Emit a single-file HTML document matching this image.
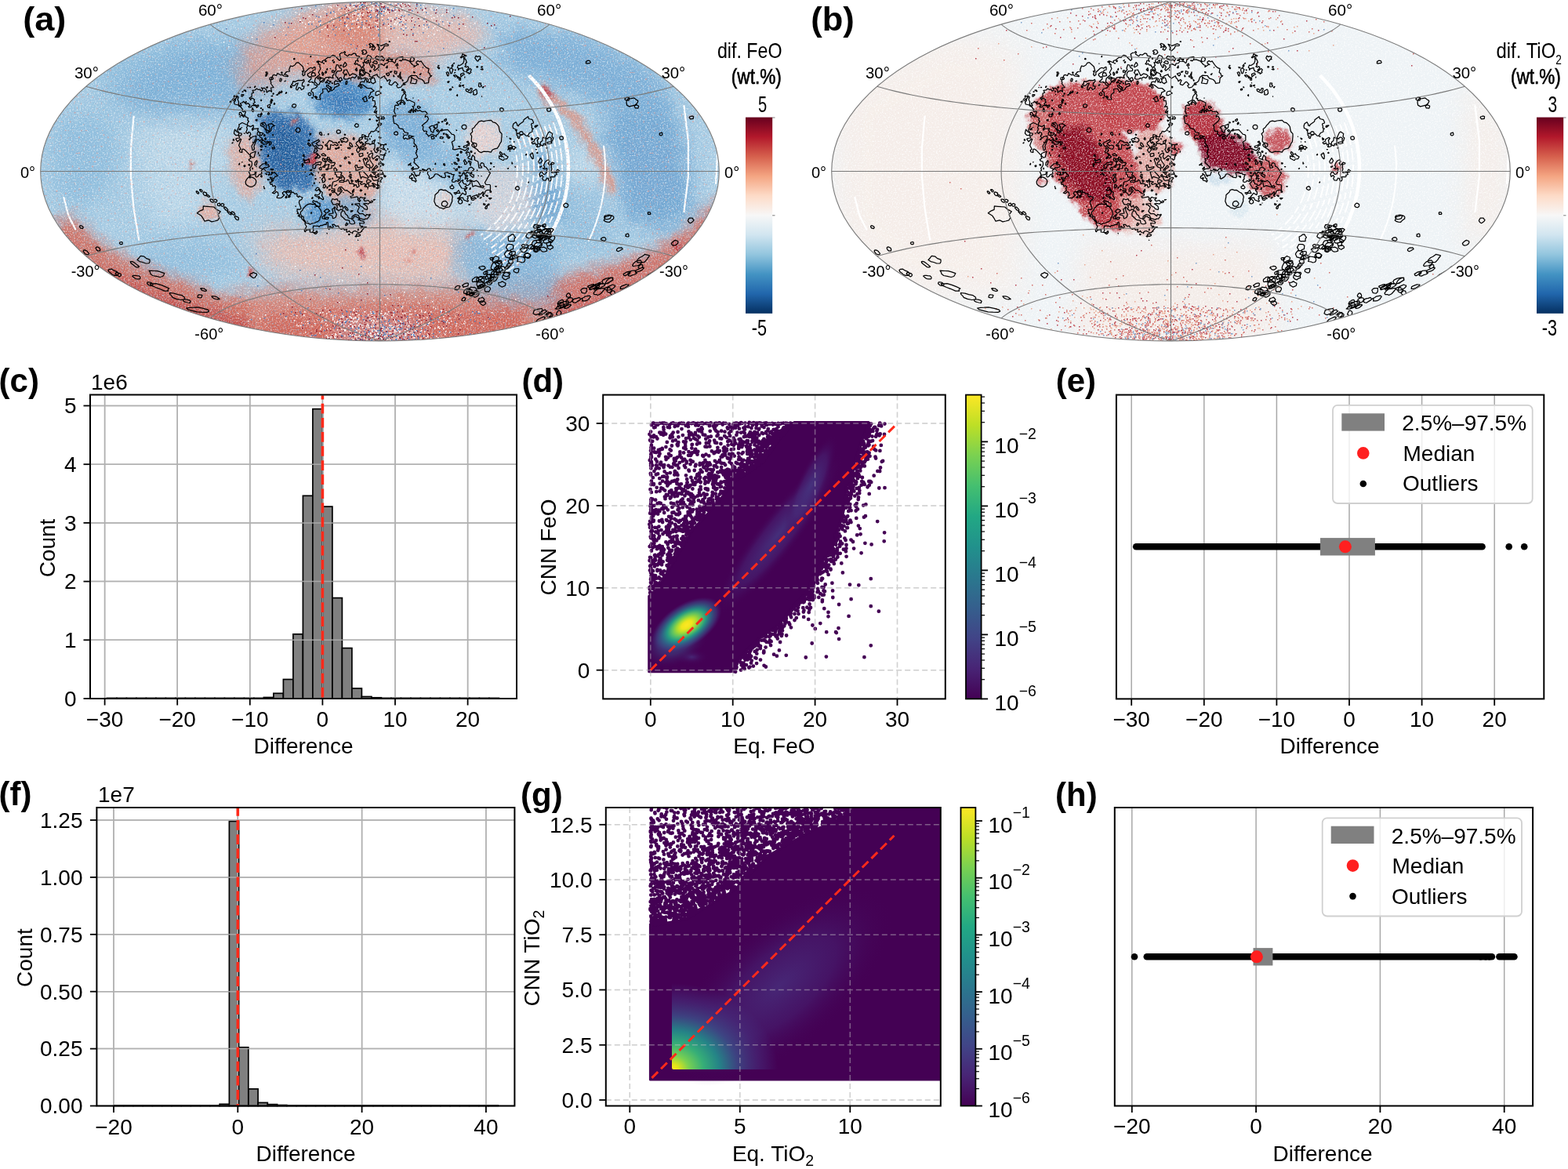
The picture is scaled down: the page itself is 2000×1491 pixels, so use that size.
<!DOCTYPE html><html><head><meta charset="utf-8"><title>Figure</title><style>html,body{margin:0;padding:0;background:#fff;overflow:hidden}svg{display:block}</style></head><body><svg width="2000" height="1491" viewBox="0 0 2000 1491" font-family="'Liberation Sans', Arial, sans-serif"><defs><radialGradient id="dg1"><stop offset="0" stop-color="#453781" stop-opacity="0.85"/><stop offset="0.6" stop-color="#472d7b" stop-opacity="0.45"/><stop offset="1" stop-color="#440154" stop-opacity="0"/></radialGradient><radialGradient id="dg2"><stop offset="0" stop-color="#fde725" stop-opacity="1"/><stop offset="0.15" stop-color="#f0e51c" stop-opacity="1"/><stop offset="0.28" stop-color="#aadc32" stop-opacity="1"/><stop offset="0.42" stop-color="#5ec962" stop-opacity="0.95"/><stop offset="0.56" stop-color="#21a685" stop-opacity="0.9"/><stop offset="0.7" stop-color="#2a788e" stop-opacity="0.75"/><stop offset="0.85" stop-color="#3b528b" stop-opacity="0.5"/><stop offset="1" stop-color="#46307e" stop-opacity="0"/></radialGradient><radialGradient id="dg3"><stop offset="0" stop-color="#472c7a" stop-opacity="0.7"/><stop offset="1" stop-color="#440154" stop-opacity="0"/></radialGradient><radialGradient id="dg4"><stop offset="0" stop-color="#31688e" stop-opacity="0.7"/><stop offset="0.5" stop-color="#3b528b" stop-opacity="0.45"/><stop offset="1" stop-color="#440154" stop-opacity="0"/></radialGradient><clipPath id="dclip"><path d="M827.7 856.8 L827.7 760.3 L839.2 749.8 L860.2 715.2 L884.3 674.3 L913.7 643.9 L933.7 616.6 L953.6 602.9 L973.5 589.3 L994.5 559.9 L1013.4 538.4 L1107.8 538.4 L1094.1 576.7 L1087.9 595.6 L1088.9 613.4 L1079.5 619.7 L1078.4 640.7 L1074.2 660.6 L1065.8 680.6 L1061.6 700.5 L1055.3 707.8 L1039.6 729.9 L1029.1 755 L1010.2 775 L994.5 796 L965.1 816.9 L937.8 844.2 L932.6 856.8 Z"/></clipPath><linearGradient id="vird" x1="0" y1="1" x2="0" y2="0"><stop offset="0.0" stop-color="#440154"/><stop offset="0.1" stop-color="#482475"/><stop offset="0.2" stop-color="#414487"/><stop offset="0.3" stop-color="#355f8d"/><stop offset="0.4" stop-color="#2a788e"/><stop offset="0.5" stop-color="#21918c"/><stop offset="0.6" stop-color="#22a884"/><stop offset="0.7" stop-color="#44bf70"/><stop offset="0.8" stop-color="#7ad151"/><stop offset="0.9" stop-color="#bddf26"/><stop offset="1.0" stop-color="#fde725"/></linearGradient><radialGradient id="gg1"><stop offset="0" stop-color="#48307e" stop-opacity="0.8"/><stop offset="0.5" stop-color="#472a7a" stop-opacity="0.45"/><stop offset="1" stop-color="#440154" stop-opacity="0"/></radialGradient><radialGradient id="gg2"><stop offset="0" stop-color="#fde725" stop-opacity="1"/><stop offset="0.06" stop-color="#e3e418" stop-opacity="1"/><stop offset="0.16" stop-color="#7ad151" stop-opacity="1"/><stop offset="0.3" stop-color="#35b779" stop-opacity="0.95"/><stop offset="0.45" stop-color="#21918c" stop-opacity="0.9"/><stop offset="0.62" stop-color="#3b528b" stop-opacity="0.8"/><stop offset="0.82" stop-color="#46307e" stop-opacity="0.55"/><stop offset="1" stop-color="#46307e" stop-opacity="0"/></radialGradient><linearGradient id="virg" x1="0" y1="1" x2="0" y2="0"><stop offset="0.0" stop-color="#440154"/><stop offset="0.1" stop-color="#482475"/><stop offset="0.2" stop-color="#414487"/><stop offset="0.3" stop-color="#355f8d"/><stop offset="0.4" stop-color="#2a788e"/><stop offset="0.5" stop-color="#21918c"/><stop offset="0.6" stop-color="#22a884"/><stop offset="0.7" stop-color="#44bf70"/><stop offset="0.8" stop-color="#7ad151"/><stop offset="0.9" stop-color="#bddf26"/><stop offset="1.0" stop-color="#fde725"/></linearGradient><linearGradient id="rdbu" x1="0" y1="1" x2="0" y2="0"><stop offset="0.0" stop-color="#053061"/><stop offset="0.1" stop-color="#2166ac"/><stop offset="0.2" stop-color="#4393c3"/><stop offset="0.3" stop-color="#92c5de"/><stop offset="0.4" stop-color="#d1e5f0"/><stop offset="0.5" stop-color="#f7f7f7"/><stop offset="0.6" stop-color="#fddbc7"/><stop offset="0.7" stop-color="#f4a582"/><stop offset="0.8" stop-color="#d6604d"/><stop offset="0.9" stop-color="#b2182b"/><stop offset="1.0" stop-color="#67001f"/></linearGradient><filter id="spkA" filterUnits="userSpaceOnUse" x="40" y="0" width="900" height="440"><feTurbulence type="fractalNoise" baseFrequency="0.55" numOctaves="2" seed="4"/><feColorMatrix type="matrix" values="0 0 0 0 1 0 0 0 0 1 0 0 0 0 1 3.2 0 0 0 -1.55"/></filter><filter id="spkB" filterUnits="userSpaceOnUse" x="1050" y="0" width="900" height="440"><feTurbulence type="fractalNoise" baseFrequency="0.55" numOctaves="2" seed="9"/><feColorMatrix type="matrix" values="0 0 0 0 1 0 0 0 0 1 0 0 0 0 1 3.2 0 0 0 -1.55"/></filter><filter id="rspA" filterUnits="userSpaceOnUse" x="40" y="0" width="900" height="440"><feTurbulence type="fractalNoise" baseFrequency="0.35" numOctaves="1" seed="12"/><feColorMatrix type="matrix" values="0 0 0 0 0.85 0 0 0 0 0.3 0 0 0 0 0.25 -10 0 0 0 3.35"/></filter><filter id="bspA" filterUnits="userSpaceOnUse" x="40" y="0" width="900" height="440"><feTurbulence type="fractalNoise" baseFrequency="0.5" numOctaves="2" seed="31"/><feColorMatrix type="matrix" values="0 0 0 0 0.25 0 0 0 0 0.5 0 0 0 0 0.75 5 0 0 0 -2.75"/></filter><clipPath id="ella"><ellipse cx="484.5" cy="218.5" rx="432.8" ry="216.4"/></clipPath><clipPath id="ellb"><ellipse cx="1493.5" cy="218.5" rx="432.8" ry="216.4"/></clipPath><g id="cont"><path d="M497.5 53.8l-1.5 -0.8 1 -0.4 0.5 1.2M476.5 64.1l-2.6 -1.1 2.2 -3 -0.6 -1.9 -1.8 1.9 -2.2 0.6 1 -2.1 -1.6 -2 1.1 -1.2 3.2 1.2 3.5 4.5 -2.2 3.1M485.0 65.0l-2.2 -2 1 -2 -2.8 -4.6 5 2 6.5 -2.5 2.9 1.1 -0.4 1.4 -4.7 0.1 -1.3 3 -4 3.5M466.0 69.0l-3.6 0 -0.3 -1 1.3 -1 -2 -2 2.6 -1.5 2.5 0.5 1.4 3 -1.9 2M449.0 297.0l-2 -0.5 -1.5 -2 -2 1.4 -1.5 -0.1 0.4 -3.3 -2.9 0.9 -1.5 -2.1 -2.5 1.1 -2.5 -1.1 -1.5 -3.1 -3 0.5 -2 -2.2 -2.7 0 1.5 3 -1.8 1.4 -1.6 -1.9 -1.8 0 1 2 -1.6 1.6 -1.1 -1.6 -0.1 -7 -0.8 -0.6 -1 0.6 -0.4 2.5 -1.6 -0.4 -4 1.6 -2 -0.1 -1.5 1.7 -1.5 -1 -5.5 -0.3 -0.8 2.5 0.7 3.5 -1.4 2.3 -3.2 -0.3 0.2 -3.4 -5 1.1 -1 1.9 -0.8 -0.1 -0.6 -3 1.4 -0.3 1 1.2 -0.8 -2.4 1.3 -2 -2 -3.5 0.7 -3 -2.3 -2.5 -0.2 -3.5 -2.2 -1 -0.5 1.4 -1.8 0.1 -1.1 -4 -2.6 -0.5 1.3 -1 -1.2 -1.5 -0.1 -3.1 3.5 0.3 1.6 -1.2 -2.7 -7.5 0.7 -3 2.4 -0.8 1.4 -2.7 -4.4 -2 -0.5 1.7 -2.3 -1.7 0.5 -1.5 -0.7 -1.6 -2.5 0.5 -2 -2.2 -2 0.4 -0.8 -2.6 -1.7 0.6 -2 -0.7 -3.5 1.8 -2 -0.3 -1.7 1.6 0.4 1.5 2 1 -2.7 3 -2 1.1 -4.7 -0.1 0.2 -2.5 1.6 -0.5 -0.6 -4.2 -2 -0.8 -2.5 2.4 -2.7 -0.9 4 -3 -0.6 -3 1.1 -1.5 -1.8 -1.7 -2 1 -1 -3.2 -1.5 0.7 -0.8 -0.8 -0.5 -2.5 1.8 0.7 0.8 -0.7 -0.6 -2.5 0.8 -0.1 1 1.8 0.8 -1.7 -3.3 -1.4 -1.2 -2.1 5.2 1.9 1.5 -3.1 2.1 0.2 0.9 -1 -4 -4.3 -2.3 1.3 -0.2 -2.2 -0.8 0.7 -0.1 3 -4.1 1 0 -1.1 1.6 -0.4 -0.7 -2.5 -3.4 -0.1 -2.5 -3.4 -1.9 -0.5 1.4 -1.9 2 0.6 4.3 -1.7 -0.9 -2.5 -3.4 0.2 -0.3 -1.2 1.8 -1 -1.2 -1.5 -0.8 0.2 -0.2 1.8 -3.3 0.6 -4.2 3.9 0.2 1.1 4.4 1.4 -2.1 2 0.7 4.2 -3.5 1.2 -2 2.6 -1.5 0.3 -1.2 -1.3 1 -5 -1.8 -0.5 0.7 1.5 -1.2 1.9 -5.3 1.1 -1.8 -4.5 2.1 -2 -0.8 -2.5 2.3 -2.9 0.6 -2.6 -0.6 -3 -3 -0.9 -0.7 -1.6 2.6 -1.5 -1 -2.5 0.6 -0.9 2.5 2.5 2.2 -0.6 1.8 -7.5 -6.1 2.5 -0.9 2.6 -6.5 -6.7 -2.5 -1.4 -1.4 1 0.2 3.5 -2.8 -0.7 -0.8 -1.8 1.9 -2 -2.5 -4.5 3.1 -8 -1.2 -0.3 -3.5 3.5 -2.3 -3.2 1 -1 3.9 -0.5 -1.1 -2.9 2.5 -0.3 1.2 -1.3 -0.2 -1.4 -2.9 -0.6 -2.5 -3.5 2.7 -5.5 -0.7 -1.5 4.4 -2.5 6.5 3 0.3 -3 1.6 -1.5 -1.6 -2 0.8 -2.5 -3.1 -1.4 -1.5 -2.6 1.4 -4 -1.4 -0.6 -1.5 0.8 -1.5 -1.2 0.5 -2 -2.9 -3.5 1.5 -2 -1.6 -1.5 0.1 -1 2.5 -0.5 1.4 -1.7 3.5 3.5 2.5 -1.2 2.5 2.9 -2.2 1.5 1.2 1 2.5 -0.7 1 -1.8 4.5 0.3 1.5 2.5 2.4 -2.3 -0.4 -1.1 -2.5 0.9 -1.5 -1.1 -2 0.4 -0.4 -2.1 2.2 -1.5 -1.3 -2 0.8 -1.5 -3.3 -1.9 -1.5 0.8 0 1.7 -2 -2.6 3.2 -2 -0.1 -4 2.4 -0.9 -1.5 -2.8 3.5 -0.5 2 -1.7 2 1.2 2.3 -0.3 0.7 1.7 1 0.2 1.5 -0.9 -0.4 -2 2.4 -0.9 3.1 2.9 -0.4 2 0.8 0.8 2.5 -2.1 2 0.2 1.5 1.3 -1 -5.2 3.5 -0.5 -3.6 -5 0.5 -1.5 -0.9 -1.5 0.8 -1.5 -1.8 -0.6 0.1 -2.4 2.6 -0.5 -0.5 3 1.4 0 1 -1.5 -1.3 -2 0.7 -1.9 1.5 -0.7 3 1.1 1.5 -3 4 2.2 2 -0.5 2 1.8 5 0.7 0.5 -0.8 -2 -1.5 -2.9 -0.4 2.9 -3.5 4 -0.5 -0.8 -2 1.8 -5 2.5 0.7 3 -1.7 2 -2.8 2.5 -0.6 5.8 5.4 1.5 6 -2.3 -0.3 1 1.8 -0.9 2.5 1.4 1.8 2 -1.8 -0.4 -2.5 5.8 -5.5 2.1 -0.7 2 1 2.5 -1.9 1 0.3 0.1 3.3 -2.9 0.5 -0.3 2 -2.4 0.3 -4 2.5 -0.3 1.7 2.8 2.7 1.5 -1.1 0.6 0.9 -0.4 2.5 -3.4 3 1.7 1 3.5 -0.7 0.3 1.2 1.9 0 0.3 2.5 3.5 1.1 0 1.4 -2.5 2 -3.9 1 -1.2 3 2.4 1.5 0.5 4.5 2.5 1.5 1.3 2.5 4.9 0.5 0.4 -1 -1 -1.5 0.7 -4.5 1.9 -0.5 1.5 -2 -0.5 -4 5 -0.5 2.4 4.5 2.1 -1.5 -0.3 -2.5 -4.2 -3.3 0 -1.4 2 -0.3 1.5 1.9 1.7 0.1 -0.2 1.6 1.5 -0.5 -0.9 2.9 0.9 1.2 3.2 -2.2 0.8 -2.1 5.6 -2.4 -0.5 -2 -1.1 -0.6 -4.2 1.6 -0.4 -3.5 1.6 -1.7 2.5 1 2.3 -0.3 -0.3 -1.6 1.5 2.7 0.5 -1.6 2 -0.8 -1.5 -3.4 -2.5 1.2 -0.5 1.5 -1.3 -0.5 -0.1 -2.5 -1.6 -0.1 -0.8 -2.4 0.4 -3 1.9 -2.3 4.5 -0.4 0.8 -1.3 -0.9 -2 -1.9 -0.7 -1.4 -3.3 -2.1 -0.5 -1.5 4.5 0.8 2 -1.8 2.4 -2 -1.8 -1.6 0.4 0.1 2.1 2.9 -0.1 -0.4 3 -1.8 1.5 0.8 3.2 -4.5 -1.3 -5 0.4 -2 2.9 -2 0.6 -3.5 3.2 -1 2.3 -1.5 0.3 -4.2 -4.1 0.9 -4 5.7 -5 -1.7 -2.5 2.8 -5 -1.2 -2.5 0.3 -3 -2.1 0 0.5 -3.3 -2 1 -0.5 -1.1 2 -0.9 5.3 2.3 -0.1 -2.5 3.3 -1.1 3.5 -3.1 3.1 0.2 1.8 -2.5 1.6 -0.6 2.5 0.8 6 6 1.7 -1.7 -1.5 -6.5 2.3 -1.6 2.9 -0.4 1.1 -1.4 1 0.9 -1.1 2.5 4.1 2.7 1.9 -2.2 2.6 0.7 3 -2.3 2.5 0.4 1 2.9 4.2 0.8 -0.2 1 -2 0.9 -0.7 3.1 -2.1 0.5 -0.1 2 -1.6 2 1.5 0.8 2 -1.2 1.5 2 2 -0.2 0.8 2.1 1.3 0.5 -0.1 2.5 -2.2 1 0.1 3.5 1.6 1.5 -2.1 1 2.1 4.5 -0.2 1.5 5.7 -1.8 3 1.3 0.9 1.5 -0.9 2.5 -1 0.4 -0.7 -3.4 -1.3 -0.8 -1.5 4.1 -2 -0.8 -2.5 0.7 -1.2 3.3 -2.2 2 2.4 0.2 1 2.1 1.8 -0.3 0 -1.5 -2 -2 0.7 -1 3.5 1.4 4.5 3.5 5 0.3 3.6 3.3 -4.6 2.1 -0.1 1.9 -2.2 3 1.3 1.9 2.5 -2 2.8 1.6 -1.6 1.5 0.2 2.5 2.6 -0.2 0.7 4.7 -2.4 3.5 3.2 -0.8 0.7 2.8 -3 4.5 0.8 0.8 2.6 -2.3 -0.8 3 0.6 1.5 -0.9 1 2 3.5 2 -1.3 0.9 0.8 -1.3 1.5 1.1 3.5 -1.2 2.1 2.5 -0.1 1.2 1 -1.7 2.1 -3.5 -1.9 1.4 3.3 -1.9 1.3 -2.8 4.2 -2.7 1.1 -1.5 -0.8 -1 0.6 -0.3 1.6 -2 1.5 -0.7 3.6 -2.7 -0.1 -1.7 -2 -3.6 -1 -0.4 3.5 -3 1 -1.1 3.5 -3.1 2.5 -0.2 1.5 3.8 4.5 1.5 -0.2 1 -1.7 2.5 1.4 2.7 -2 0.4 -1.5 -2.5 -0.5 -2.1 -2.4 -1 -0.1 0.4 1.5 -0.9 0.4 -1.6 -1.9 0.7 -2.5 2.8 -1 0.6 -2.5 3.3 -1.5 -0.3 3.5 3.6 0 0 2.5 -3.4 2 1.3 1.5 3.5 0 1.5 1.5 3 -1.4 2.5 0.4 0.7 1 -0.2 4.5 -1.2 1.5 2.2 4 1.5 0.2 1.8 -2.7 2.7 -0.2 0.9 0.7 -1.7 3.5 0.8 1.3 4 0.6 1.5 -1.5 0.8 1.1 -1.7 2 -0.7 4 -1.4 0.6 -1.3 -1.6 -2.5 -0.5 -0.2 -2.2 -2.5 -1.3 -5 4.4 -1.7 -2.9 1.2 -4 -1 -1 -4 2.2 -0.8 2.8 2.3 0.7 -0.4 3.3 4.7 6.5 -2.3 3.6 -1.6 -0.1 -1.4 -4.1 -3.5 0.1 -0.2 -2.5 2.5 -2 -1.3 -3.9 -1.6 0.4 -0.4 2.4 -1.5 -2.9 -1.8 2 2.3 6.6 2.4 2.9 3.5 1.5 -0.1 3.5 3.2 1.2 3 3.2 1.1 -0.4 -0.3 -2 -1.8 -0.7 -1.7 -2.3 5.2 -6.1 1.7 2.1 -4.4 3 -0.5 2 3.2 1.3 3.5 -2.5 3.5 0.7 0.7 1 1.4 4 -2.1 -0.6 -2.5 0.8 -2 -1.1 -1.5 1.9 -2.3 0.5 0 1 1.8 1 -0.5 0.7 -5.9 -2.2 -1.1 -2 -1.4 1.5 0.4 1.3 2 -0.3 1.4 4 1.6 1.4 5 -0.8 1.5 -2.5 3.5 -0.7 0.9 0.6 -2.6 3.5 0.7 1.8 -3.5 -1.5 -0.7 0.7 -0.2 3.5 3.2 3.5 -3.3 2.2 -1.8 -1.2 2.3 0 -0.3 -3 -5.7 -2.8 -1.4 0.3 3.8 3.5 -0.4 1 -1.8 0 -0.2 -1.9 -5.5 1 -0.3 -5.1 2.3 -0.5 0.8 -1 -3.3 -2 -1.5 0.1 -1 2.4 1.4 3 -2.4 1 -1.5 -1.4 -4.5 1.4 -0.9 -2 2.9 -1.5 -4.5 -0.8 -1 2.3 1.1 4 -2.6 1.7 -1.5 -3.7 -1.5 0.8 -1.5 -1.6 -3 -0.8 -2 0.5 -1.4 -4.4 -1.6 -0.8 -1 1.9 -3 0.3 -1 1.1 -5 -0.4 -0.1 -1.1 3.1 -1.4 2.5 0.9 1 -3 -3 -3.8 -2 -0.2 1.5 -3.1 -2.8 -1.4 -4.4 0 -0.3 -1 1.6 -1 -2.6 -3.1 -1.7 1.1 0.6 3.5 1.3 1.5 -0.4 2.5 2 0.5 0.2 2.8 4.5 0.1 1 -0.8 1.3 0.9 -0.8 1.5 -3 -0.3 -0.3 1.8 -3.2 2 -4.2 1 -1.6 5.5 0.1 3 3.7 0.6 -0.1 4.4 2.3 1 1.3 2.6 1.1 -0.1 4.8 -5.5 -1.9 -3.3 -0.9 0.8 0.4 2.9 -2.9 0.1 0.2 -3 1.2 -1.8 3 -0.8 4.5 4.5 2.5 -0.2 5.4 4.3 2.7 0.5 -0.4 2 -3.2 1 1 2 7.5 -1.6 1.4 1.6 -0.6 2 2.2 2.8 1.4 -1.8 -1.4 -0.5 -0.3 -1.5 1.8 -2.1 3 1.1 2.8 -0.5 0.1 1 -2.1 1.5 1.7 2.2 4 -1.2 2.5 2.4 2 -1.8 1.5 0.4 -1 2 -3 0.1 -1.5 1.5 -4 -0.8 -2.5 0.7 4.4 3 0.8 3 -0.7 1.5 -3.5 -1.2 -1.3 -1.8 -4.2 -2.2 -0.5 -2.8 -5.7 0.5 0.2 0.9 3 0.9 2.2 2.7 -2.3 5 2.6 3 4.2 0 3.8 3.2 1 -2.4 2.5 1.1 2 -1.1 0.2 0.7 -3.7 5.2 -2.5 -0.2 -1 1.2 -6 -1.6 -2 -4.1 -4 -0.9 -3.9 2.4 -0.1 2.4 1.7 0.1 0.8 -2.3 2.5 -0.1 3.8 2.4 1.7 2.9 4 0.7 1.2 1.9 -0.7 1 -5.3 -0.5 0.7 3.5 3.3 0.5 -2.5 1.5 0.3 1 2.5 -1.2 2 0.2 -5.5 6.7 -2.5 -0.2 -4 -2 -2 0.5 -2 2M588.0 74.0l-0.7 -1 1.7 -1 1 -3.3 4.9 2.3 -0.9 0.7 -2 -0.5 -4 2.8M507.5 112.2l-1.9 -3.2 1.7 -0.5 0.2 -1 -3 -3.1 -1.1 0.1 -3.9 4.1 -3 -0.9 -0.3 -1.2 1.8 -4 -1.5 -0.9 -2.5 2.1 -1 -2.6 -2.1 -2.1 -0.4 -2.2 -5.5 3.2 -3.8 -3.5 -0.2 -1.8 -5 2.2 -2 1.9 -3 -1.8 0.5 -2 -2 -1.5 -3 -1.4 -1 2.6 -1 -0.5 -2.8 -5.2 1.3 -0.2 1 1.3 1 -0.6 -0.9 -2.5 -1.8 -1.5 2.1 -2 -1.4 -4 3.4 0.5 -1.6 -1.5 -0.1 -1.5 0.5 -1 2.4 -0.5 -0.1 -2.1 2 -3.2 3.5 1.5 1.1 2.3 -1.8 2.5 0.6 2.5 -1.9 1.5 0.9 2.5 2.1 3.3 1.4 -0.8 -0.9 -2.6 1.5 -0.6 2.5 3.2 -1.8 3 1.3 1.6 5 -4.1 0 -3.3 3.5 -1.1 3.5 2.1 1 -2.5 3.2 -0.7 1.8 -2.5 5.5 0.6 1.5 1.7 1 -0.1 1 -4.2 2 -1 0 -1.3 6.5 -1.3 0.6 0.6 -0.6 3.5 3 -0.6 5.5 2 4.1 4.6 2.3 1 -0.5 2 4.1 -2.8 2 -0.2 -3 -1.9 0 -1.6 2 -1.4 2.5 1.2 1.5 -0.9 4.3 6.1 2.7 2.4 3 1.2 -0.9 4.9 1.9 1.1 0.5 2.5 2.2 0.4 -3.5 3 -0.7 6.1 -5 0.8 -0.6 -2.4 -2.5 -2.5 -4.9 -1.7 -2.5 -3.3 -6.5 -0.3 -3 2.3 -1.8 5 -2.2 1.8 -3.2 0.7 0.2 0.9 2 0.2 0.4 0.9 -3.4 0.2 -2 2.8 -4 1.2M396.5 73.1l-0.7 -0.6 0.7 -1.1 0 1.7M489.0 78.2l-1.5 -2.1 -3 0.7 -5.5 -1.9 -0.4 -1.4 1.9 -2 4 1.2 2.5 -1.2 3.5 3.5 -1.5 3.2M610.0 78.1l-1.5 -0.5 -2.7 -3.6 1.2 -2.7 1 0.1 0.5 1.3 2.5 -1.1 2 0.9 -0.8 2 0.8 1.2 -2 -0.1 -1 2.5M527.5 78.0l-3.5 0.4 -0.9 -1.4 1.4 -4.1 2 0.1 2 2 -1 3M498.0 75.4l-2 -0.2 -0.5 -1.3 1.5 -0.2 1 1.7M598.0 94.6l0 -2.1 -2 0.5 -0.7 -1.5 -3.3 -0.5 -1.6 -2 -0.4 -2.6 -4.5 1.4 -2.2 -1.8 1.2 -2.8 2 0.3 4 -2.5 1.4 -3.5 -0.4 -4.4 1.5 0.6 -0.4 1.3 1.5 1 1.3 3.5 -1.9 2 0.9 2 -1.5 1.5 1.6 0.8 2 -0.9 1.2 0.6 -0.2 1.7 -2.2 1.8 0.2 1.8 4 -3.4 1.8 1.6 -1.1 2 0.6 1.5 -2.8 2.1M461.0 75.6l-0.7 -0.6 0.7 -1.4 0.6 1.4 -0.6 0.6M375.5 76.1l-0.9 -0.6 0.4 -1.1 1.1 0.6 -0.6 1.1M476.0 75.7l-0.5 -1.2 0.5 1.2M500.0 77.4l-1.8 -1.9 2.6 0 -0.8 1.9M495.5 77.6l-3 -0.6 2.5 -1.4 0.5 2M424.7 77.5l0.6 -1 -1.5 1 0.9 0M416.2 78.5l0.1 -1 -1.3 -0.4 0 1.4 1.2 0M468.1 81.0l2.1 -2 0.3 -2.2 -1.5 0.4 -2.5 2.8 1.6 1M511.9 78.0l0.6 -1 -3 0.2 2.4 0.8M457.0 78.8l-0.8 -1.3 0.8 0.1 0 1.2M480.5 81.7l-5.1 -1.7 2.1 -2.3 3 0.4 0.7 2.4 -0.7 1.2M426.6 80.0l-0.1 -1.4 -1.3 0.4 0.3 1.1 1.1 -0.1M438.7 85.5l3.3 -2 -0.2 -2 -1.8 -2 -2.6 4.5 0.4 1.5 0.9 0M413.2 81.5l0.2 -1 -0.9 0 0.7 1M579.5 81.2l-1.2 -0.2 1.2 -0.7 0 0.9M393.5 81.0l-0.8 0 0.8 0M506.3 84.5l1.3 -1 -0.6 -2.6 -2.2 2.1 1.5 1.5M578.0 84.6l-1.5 0.2 -0.4 -0.8 1.4 -1.8 0.5 2.4M435.4 84.0l0.1 -1 -1.4 0 -0.1 1 1.4 0M559.0 84.6l0 -1.3 1 0.2 -1 1.1M494.1 87.0l-0.1 -3.2 -1.6 2.7 1.7 0.5M609.5 86.1l-1.5 -0.2 0 -1.2 1.5 0.2 0 1.2M615.0 86.1l-1.2 -0.1 0.2 -1.2 1.4 0.2 -0.4 1.1M560.5 87.7l-1 0 -1.5 -2.3 2.5 0.9 0 1.4M572.5 86.5l-1 0.3 -0.6 -1.3 2.1 0.5 -0.5 0.5M366.5 86.6l0 0M508.0 87.0l-1.4 -1 0.4 1.1 1 -0.1M540.0 86.5l-0.6 -0.5 0.6 0.5M575.0 94.0l-1.5 -4.7 0.5 -1.8 2.5 -1.5 -0.3 1.5 1.8 1 -1.8 5 -1.2 0.5M455.6 90.0l-0.6 -3.3 -1.8 2.3 1.8 1.5 0.6 -0.5M417.6 89.0l-0.1 -1.6 -0.8 1.1 0.3 0.9 0.6 -0.4M422.0 88.0l-1 -0.5 1 0.5M585.0 89.4l-0.7 -0.4 0.7 -1.1 0 1.5M615.5 89.2l-2.3 -0.7 2.3 -0.8 0.6 0.8 -0.6 0.7M348.0 89.5l0 0M443.2 101.0l2.3 -1.4 2 0.3 2 -1.6 3 1.3 2.7 -3.1 -2.2 -1.7 -3.5 -0.9 -3.5 2.6 -3.7 -7.5 -3.8 0.5 0.5 1.5 -1.5 1.5 2.2 3 -1.3 4.5 2.1 1.2 2.7 -0.2M483.0 90.0l-0.5 -1 0.5 1M581.0 90.1l-0.8 -1.1 1.1 0 -0.3 1.1M473.1 92.0l0 -2 -1.1 -0.4 -0.6 1.9 1.7 0.5M505.6 94.5l0.7 -3 -3 -1 0 3 2.3 1M416.4 93.0l0.1 -1.6 -1 -0.7 -1 1.8 1 0.9 0.9 -0.4M498.4 92.5l1.5 -1.5 -1.9 0.1 -0.6 0.9 1 0.5M529.2 93.0l0 -1 -1.5 -0.5 0.3 1.4 1.2 0.1M339.5 97.6l-0.7 -0.6 0.9 -3.5 -0.8 -1.5 1.6 -0.2 1 1.7 -2 4.1M360.0 93.6l-1.3 -0.6 0.3 -1 1 0.1 0 1.5M412.2 96.0l0.8 -2 -1.5 -2 -0.8 1 0.7 3 0.8 0M508.1 98.5l2.4 -1 0.5 -5.6 -2 4.7 -2 0.4 1.1 1.5M571.0 97.1l-1.8 -4.6 1.8 -0.8 1.4 1.8 -0.4 3 -1 0.6M580.5 93.1l-1.1 -0.1 1.1 -0.5 0 0.6M400.0 97.1l-2 0.1 -0.6 -1.2 0.1 -2.2 1.5 -1.2 2.5 0.6 1.1 3.3 -2.6 0.6M494.9 97.0l1.8 -2 -0.7 -2.1 -3.7 1.1 2.6 3M588.0 98.1l-0.5 -3.5 3.5 -1.6 1.4 2 -1.9 0.5 -2.5 2.6M442.0 96.0l-1.6 -0.5 0 -1 1.6 -0.5 0 2M536.3 95.5l0.7 -1.8 -1.7 1.3 1 0.5M462.5 97.0l-1.3 -0.5 0.3 -1.5 1.5 0.4 -0.5 1.6M503.1 98.0l-1.1 -2.1 0 1.7 1.1 0.4M581.5 98.1l-1.5 -0.2 -1.5 -1.9 2.5 -0.4 2 1.4 -1.5 1.1M587.5 102.4l-2 -0.4 0.5 -1.9 -2.7 -0.6 0.5 -2 2.7 2.1 1 -0.5 0 3.3M407.1 100.5l0.9 -0.9 1.5 0.3 0.2 -0.9 -2.2 -1 -2.5 1.5 0.5 1 1.6 0M459.0 100.5l-1 -2.5 -1.5 -0.2 0.5 3 2 -0.3M512.2 100.5l-0.6 -2.5 -1.1 0 -0.5 1.9 2.2 0.6M530.5 106.8l-7 -0.8 1.3 -4 -0.3 -4.1 2.8 2.6 4.6 1.5 -1.4 4.8M592.5 99.5l0.5 -1.5 -0.5 1.5M476.5 107.0l-3.5 -2.1 -0.1 -3.4 -1.3 -1.5 1.9 0.6 2.5 -1.6 1.4 0.5 1.7 5.5 -2.1 0.7 -0.5 1.3M419.5 100.7l0 -1.4 0 1.4M358.3 104.0l1 -3 -1.3 -0.9 -0.8 0.4 -0.5 3 1.6 0.5M379.4 115.0l1.6 -3.3 2.2 0.3 1.3 2.5 2.9 -1.5 0.6 -3.1 -2.5 -0.1 -0.2 -0.8 0.3 -3 2.5 -2.5 -0.6 -2.1 -2 1.2 -5 -0.2 -4.5 2 -1.5 -0.8 -1 0.4 -0.1 2 -1.7 2 2.3 1.6 2.5 -0.9 1.2 -2.2 2.5 -0.5 -2.6 6.5 0.4 2 1.4 0.5M419.5 107.2l-2.8 -3.2 1.3 -2.1 2 1.8 2.2 -0.2 -2.7 3.7M447.6 102.5l-0.1 -0.9 0.1 0.9M513.7 103.5l0.4 -1 -1.1 -1 0.7 2M363.5 104.0l0.7 -1 -1.2 0.5 0.5 0.5M442.2 107.5l0.8 -2.5 -0.5 -1.7 -1.3 0.7 -0.4 2.5 0.3 1 1.1 0M572.0 105.6l-1.1 -0.6 0.1 -1 2 -0.3 -1 1.9M416.0 106.4l-1 -1.4 1.5 -0.7 -0.5 2.1M471.5 105.8l-1.4 -0.8 1.4 -0.4 0 1.2M424.0 107.0l-1 -1.5 1.3 0.5 -0.3 1M587.5 106.6l0 -1 0 1M613.5 110.5l-2 0.4 -1 -0.9 0.5 -4.1 2.6 0.1 -0.5 2 1.2 1.5 -0.8 1M393.5 109.0l0.5 -1.1 -1.6 0.1 0 1 1.1 0M587.5 110.6l-1.7 -0.1 0.2 -2.4 1.8 0.9 -0.3 1.6M590.5 110.1l-1.1 -1.1 2.1 -0.7 -1 1.8M371.7 112.0l0.7 -1 -1.9 -1.7 0 2.2 1.2 0.5M324.5 112.1l0.5 -1.9 1 -0.2 -1.5 2.1M486.5 112.1l-1.7 -0.6 0.2 -1.3 1.8 0.3 -0.3 1.6M616.0 112.2l-0.6 -0.7 1.6 -1.2 -1 1.9M341.5 112.1l-1.5 0 -0.2 -1.1 1.7 -0.2 0 1.3M577.0 112.1l0 -1.4 0.7 0.8 -0.7 0.6M316.5 112.0l-0.5 -0.5 0.5 0.5M319.5 112.1l-1 -0.7 1 -0.1 0 0.8M592.0 111.8l-0.5 -0.6 0.5 0.6M334.0 112.8l-0.5 -0.9 0.7 0.1 -0.2 0.8M600.5 118.6l-5.5 -2.3 -0.9 -1.3 0.4 -1.5 2 0.1 1.5 2 1.5 -1 0.7 -2.1 1.8 0.1 0.2 1.4 -1.5 2.5 0.7 1 -0.9 1.1M574.5 115.1l-1 -0.1 0 -1.3 2 -0.6 0.1 1.4 -1.1 0.6M514.0 115.6l-1.4 -0.1 0.4 -1.8 2.3 0.8 -1.3 1.1M604.5 121.1l-0.9 -0.6 0.6 -1.5 -1.2 -2.5 4 -2.6 1 1.1 0.6 4 -1.6 1.7 -2.5 0.4M314.0 117.1l-3.2 -2.1 2.2 -0.1 1 2.2M337.6 117.0l-0.8 -1 0.2 1.3 0.6 -0.3M481.5 121.5l-2.4 0 -0.1 -3 1 -1.5 3 -1 3.1 3 -4.6 2.5M517.0 119.1l-2.6 -1.6 1.1 -1.5 1.2 0.5 0.3 2.6M359.1 118.5l0.9 -1.5 -1 -1 -1.1 1.5 1.2 1M310.0 117.5l-1 -0.5 1 -0.4 0 0.9M356.3 120.0l1.1 -2 -0.9 -1.2 -1.7 2.7 1.5 0.5M365.6 119.0l-0.1 -1.4 -1.3 1.4 1.4 0M305.5 119.6l-1 -0.7 1 0.7M348.9 120.5l0.3 -1.5 -0.7 -0.2 -0.5 0.9 0.9 0.8M597.0 257.2l-5.4 -2.2 -1.1 -2.9 -4 0.3 -1.5 1.7 -1.5 -1.1 2.4 -1.5 4.1 -5.3 3.5 2.4 0.9 -1.1 -0.1 -3 -1.8 -1.5 0.1 -2.5 -3.8 -0.5 -3.1 -5 -0.6 -1.5 1.9 -0.9 0.7 -1.6 2.9 -1.5 -0.6 2.5 2 2.6 2 -0.1 1 2 2 -0.2 2.9 -2.3 -0.4 -2.4 2 -0.5 1.5 7 3 -1.4 10 2.9 1.2 -1.6 -1.2 -1.2 -3 0.6 -3.1 -5.4 -2.4 -1.7 -3 1.3 -5 -1.9 -3.5 1.8 -0.6 -1 1.5 -3 -1.4 -0.3 -2.3 1.3 0.8 -3.5 1.5 0.5 0.9 -1 -0.9 -1.3 -2 0.9 -0.6 -2.1 1.6 -0.5 1 -2.4 2 1.5 3.3 -0.1 -1.4 2.5 3.6 3.2 1 -0.1 0.5 -2.9 -2.6 -0.7 -0.4 -2 0.5 -2 2.5 -2 0 -1 -3.5 -2.4 -3 1.4 -0.3 2 -1.7 1.6 -2 -0.8 -3.7 1.2 1.7 1.4 0.5 1.9 -2.5 -0.8 -1 3.2 -3.9 -0.2 2.3 1.5 -0.9 4.5 -2.5 1.4 -2.5 -1 -1.4 1.6 -1.6 0.3 -1.5 -0.3 -0.6 -2 1.7 -2 -0.3 -2 1.5 -3.5 -3 0 -1.3 -1.5 -2 0.3 -2 -1.4 -4 0.6 1.5 4.5 -1 1.6 -4 -0.5 -5.7 -4.1 -1.8 -0.2 -1.7 0.7 -0.5 2 -2.3 1.9 -3 1.7 -1.3 -0.6 0.4 -2.5 -2.3 -3.5 0.4 -2.5 4.1 -1 -1.8 -3.2 -1.8 0.2 -2.2 2.6 -5.1 -2.1 -0.5 1 2.8 1 -1.2 1.6 -4.5 -2 -0.5 0.9 1.1 1.5 -1.6 4.3 -2.5 -0.4 -0.5 1.6 -1.7 -0.5 0.7 -1 -1.6 -1.5 -0.1 -2 -2.8 -1.5 0 -1.3 2 -1.5 5 -0.8 1.5 -1.4 -6.6 -6.5 1 -2.5 -0.8 -2 3.4 -0.8 1.2 -1.7 -2.4 -5 1.3 -1.5 -0.5 -1.5 1.5 -1.5 -1.2 -2 0.1 -2 -3.6 -4 0.5 -4 -0.7 -1.5 -3.8 -1.5 1.1 -1.1 2.9 -0.4 -6.4 -1.1 -0.3 2.1 1.8 0.7 0 1 -3.5 0.7 -2 -1.3 -2 1.4 -1.3 -2 1.2 -3 4.5 -0.5 0.5 -2.5 -4.4 -0.9 -2 -3.9 -4 -0.9 -1.6 -1.3 -0.4 -2.2 -2.7 -2.3 -2.8 -0.8 -1.3 -8.7 0.8 -0.8 2.5 0.5 0.5 -1.2 -2.4 -5 1.1 -4.5 -0.4 -2 1.7 -1.4 3.1 0.4 0.3 -1 -2.5 -3 5.9 -3 0.9 -4.5 2.3 -3.2 1 -0.6 1.8 2.3 -1.1 4 2.1 0 -0.6 1.5 1.3 1.3 2.5 -0.6 6.9 3.3 -0.2 4 -2.7 0.5 1.7 2 -1.2 5.5 1 0.3 0.5 -2.3 1 -0.2 1 1.9 0.5 -1.2 -1.4 -1 1.4 -1.7 2 2.8 3 -0.9 3 2 4 -0.7 2.6 3 -0.2 1 -2.4 1 -0.3 2.5 0.4 -1 2.4 0 1.6 3 -2.1 3.6 -6.2 4.9 1.7 1.5 -0.7 3.5 1.7 2.6 2 -0.6 1.5 0.6 -1.1 2.9 2.1 1.3 1 2.1 4.5 -2.9 5.5 3.2 -0.1 -2.2 1.6 -0.2 4 -5.7 1.5 1.1 1 -1.1 6.5 -0.8 5.5 6.1 2 0.1 1.3 1.5 0 6 -3.5 2 1.8 6.5 -0.6 2.8 3 0.5 6 -1.5 7 2.9 3.5 -3.9 0.7 1.7 -3.6 5 0.9 0.9 2 -2 2 1.1 0.2 4 -2.2 1.4 0 1.6 5 1.8 -0.9 -1.8 1.9 -4.2 2.5 2.7 -0.2 3.5 4.4 2 1.3 8.2 3.5 -0.2 -0.5 -2.2 -1.5 -0.3 -0.2 -1 1.7 -2.8 1.5 0.1 1.6 1.2 0.4 2.9 2.5 1.3 3.2 4.3 0.3 1.7 2 1.3 -7.1 12.5 1.6 2.3 4.5 0.2 1 0.9 -0.1 6.1 -3.4 -0.1 -2.7 1.1 -1.4 3.5 -2.4 2.4 1.1 -3.9 -0.6 -0.8 -3 3.1 -2.4 -0.8 0.4 3 -1.4 1.5 -0.9 -0.5 0.3 -2.6 -6.5 2.3 -1.5 2.6 -1 -3.9 -4 0.9 1.2 2.2 -1.3 1.5 1.4 2 -0.3 1.2M309.0 123.2l-1.1 -0.2 0.1 -2.3 2.5 -0.1 0.4 0.4 -1.9 2.2M337.8 121.0l-0.3 -0.6 0.3 0.6M354.0 121.5l0.4 -1 -2 0.5 1.6 0.5M583.5 122.9l-1 -1.4 1 -0.9 0 2.3M305.5 136.0l-1.5 -2 -4.7 -1 -0.8 -3 1.8 -1.5 0.1 -2.5 1.8 -1.5 -1.2 -1.5 -2.3 1 -0.4 -1.5 0.7 -0.6 1.5 1 2 -0.6 1.7 1.7 -1.1 3 1.5 3 -0.5 3.5 2 1 -0.6 1.5M347.6 123.0l0.1 -1 -1.7 0.5 1.6 0.5M404.0 125.0l-1.5 -2.5 2 1.5 -0.5 1M466.2 129.5l2.3 -0.9 -2 -5.8 -4.4 3.2 1.9 1.1 0.3 2.4 1.9 0M614.5 123.7l0 -0.9 0 0.9M398.8 125.5l0.2 -1.2 -1.3 0.2 1.1 1M527.0 125.7l0 -0.8 0 0.8M298.0 128.3l-1.9 -0.8 1.9 -2.3 1.5 1.3 -1.5 1.8M471.1 125.5l-0.6 0 0.6 0M348.1 128.5l-1.2 -2 -1.2 0 0.3 1.4 2.1 0.6M333.9 128.5l-0.9 -1.5 -0.3 1.5 1.2 0M516.2 133.0l0.6 -1.5 -2.8 -3.6 -1.5 0.3 -2.7 3.8 0.1 1 1.1 0.2 0.3 -2.2 1.7 -0.8 1.5 0.8 1 2.3 0.7 -0.3M294.5 130.5l-1.5 -0.5 2 -1.1 -0.5 1.6M346.2 132.0l0.7 -2.5 -1.9 -0.8 0.1 2.8 1.1 0.5M314.5 130.7l-1.7 -0.2 1.2 -1.1 0.5 1.3M350.8 133.0l-0.8 -1.7 -0.8 1.7 1.6 0M344.9 138.0l-1.6 -1.5 1.5 -2 -0.2 -1.5 -3.4 1.5 0.4 2.5 3.3 1M534.0 138.6l-1.5 -1.6 0 -1.5 2 -0.1 1.9 1.6 -2.4 1.6M323.2 142.5l0.5 -1.5 -1.7 -3.5 -0.7 3 0.7 1.9 1.2 0.1M333.7 138.5l-0.2 -1 -1 0 0 0.8 1.2 0.2M508.2 139.0l-1.8 -0.5 1.8 0.5M524.2 144.0l-0.7 -1 2 -2.5 0 -1.6 -4.6 4.1 3.3 1M335.8 140.5l-0.3 -1.1 -1 0.1 0.5 1.3 0.8 -0.3M311.0 149.6l-2 -2 -3.8 -1.1 0.2 -3 1.6 -0.3 2 3.2 2.4 1.1 -0.4 2.1M342.7 146.5l0.9 -1.5 -1.1 -1.6 -1.2 2.1 1.4 1M332.6 149.0l0.2 -2 1.5 -1.5 -0.8 -1.5 -1.5 2 -2.5 -0.2 -0.8 1.2 0.8 1.7 3.1 0.3M486.5 148.8l-0.5 -0.8 0.5 0.8M306.0 149.5l0 -1 0.6 0.5 -0.6 0.5M489.5 152.2l-2 -0.8 -1.5 0.8 -0.1 -0.7 1.3 -2 1.8 -0.7 1.4 1.7 -0.9 1.7M662.0 176.7l-2 -1.2 1.1 -1.5 -1.8 -1 -0.7 -6 0.7 -1.5 -4.8 -2 -0.5 -2.5 1 -3.2 3 -2.1 1.7 2.8 -0.1 1.5 1.9 0.7 0.5 -1.8 5.6 -3.9 0.4 -2.2 5.5 -4.1 1 2.8 4.5 1.2 1.5 3.3 -0.1 1 -2.4 0.7 -0.5 1.3 0.9 1.5 -0.1 3 2 0.5 -1.5 1.5 0.1 2.5 -3.5 1.5 -2.4 3.8 -2 -0.2 -2.5 -2.5 -5 1.8 -1.5 4.3M568.5 154.5l-1.5 -0.2 -0.4 -1.3 2.4 -1.6 0.5 1.6 -1 1.5M471.6 153.0l0.8 -0.5 -0.4 -0.9 -1.3 0.9 0.9 0.5M327.8 154.5l0.2 -2.1 -1.5 0.1 -0.4 1 1.7 1M481.4 154.5l0.5 -1 -1.9 -0.4 0.3 1.4 1.1 0M564.0 156.1l-0.7 -1.1 1.7 -0.4 -1 1.5M348.7 155.0l-1.1 0 1.1 0M560.0 157.0l-1 -0.2 -0.2 -1.3 1.5 0.5 -0.3 1M342.2 169.5l3.5 -3 -0.1 -2 1.9 -3.3 2.7 -0.7 -3.7 -2.8 -4.2 0.8 -0.4 1 1.3 1.5 0.6 3 -0.8 3.8 -3.9 -3.3 0.8 -4.5 -2.8 -4 -4.1 1.1 -0.5 3 3.9 1.9 3.8 6 -0.1 1.5 2.1 0M569.5 159.2l-0.3 -1.7 1.3 -1.5 0.7 1 -1.7 2.2M336.0 159.1l-1.2 -0.1 -0.3 -1.1 1.5 0.1 0 1.1M552.0 169.1l-2.5 -1.8 -0.3 -2.8 -1.9 -2 3.2 -2.1 2 0.1 5.5 -2.4 -0.5 4.7 -4.5 3.2 0.1 2.5 -1.1 0.6M573.0 160.0l0 -1.2 0 1.2M322.2 192.0l1.8 -1 0.5 -2 -0.7 -2 3.3 -8.5 2.4 -0.8 1.5 1.9 3.4 -2.1 0 -1 -2.5 -1.5 -1.5 -2.5 -2.4 -0.5 0.3 -3 1.9 -1 -1.7 -1.5 1 -2.7 -6 0.5 -1.5 2 -0.5 -1.8 1.9 -2 -0.4 -2.9 -3 2 -4 -1.5 -1.5 2.4 0.9 2 -1.7 4.5 2.3 1.4 1 -2 2 0.6 0.9 2.5 -1.8 2 1.9 2.8 2.5 -2.2 4.2 -0.6 0 4 -1.5 1 -0.7 3.1 -2 -0.2 0.7 1.6 -2.2 3 1.2 6M337.0 161.3l0 -1.6 0 1.6M683.0 162.5l-0.9 -0.5 0.4 -1.7 3.5 -0.4 -3 2.6M554.9 163.5l-0.1 -1.5 -1.5 -0.5 0 1.5 1.6 0.5M309.1 162.5l-1 0 1 0M305.7 165.5l1.6 -0.5 -0.3 -1.3 -1.9 0.8 -0.2 1 0.8 0M564.0 165.8l-0.8 -0.3 0.8 -1 0 1.3M302.5 172.7l-2 -0.3 -2.1 -2.4 1.1 -4.8 3 3.3 2.4 1 -0.4 2.6 -2 0.6M558.5 168.3l-1.8 -1.8 1.3 -1.2 1.6 1.2 -1.1 1.8M582.5 166.9l-0.5 -1 0.7 0.1 -0.2 0.9M658.5 166.8l-1.3 -0.8 1.3 0.8M481.0 167.0l-0.6 -0.5 0.6 0.5M483.0 168.8l-1.2 -0.8 1.2 -0.7 0 1.5M333.3 173.0l2.5 -3 -4.8 -1.4 1 3.9 1.3 0.5M704.5 180.1l-1 -0.1 -0.7 -1.5 0.7 -2 -2.4 -1.5 -1.6 0.3 -1 1.8 -2.3 -1.1 3.2 -7 1.6 -0.9 3.7 2.4 -0.7 3.9 1.8 1.6 -1.3 4.1M411.1 172.5l-1.6 -4 -2 0.7 0 1.6 2.5 1.9 1.1 -0.2M312.8 170.0l-1.6 0 1.6 0M396.1 172.0l0.7 -1.5 -1.3 -0.5 -0.3 2 0.9 0M485.0 170.2l-0.6 -0.2 0.6 0.2M566.9 171.0l0 -1 -1.5 0 0.6 1.4 0.9 -0.4M661.6 170.5l-0.6 -0.8 -0.8 0.8 1.4 0M419.5 171.5l-0.5 -1 -0.7 0.5 0.2 0.8 1 -0.3M514.5 171.6l0 -1 0 1M571.4 175.5l0.4 -3 -2.8 -1.8 -0.5 0.8 1.5 1 0 2.1 1.4 0.9M337.6 174.0l0.4 -2 -1.1 -0.5 -0.4 2 1.1 0.5M348.9 172.5l-1 -1 0.1 1.4 0.9 -0.4M440.3 172.5l0.3 -1 -1.1 -0.4 -0.3 0.9 1.1 0.5M414.0 172.0l-0.6 0 0.6 0M553.2 177.0l0.9 -1 -1.6 -2.4 -2.5 0.2 0.6 3.2 2.6 0M474.0 174.7l-0.5 -1.1 0.5 1.1M564.4 177.0l1.1 -1.8 -4 -0.9 -0.2 2.2 3.1 0.5M646.5 174.8l0 -0.8 0 0.8M675.0 174.6l-1 -0.6 1 -0.2 0 0.8M573.9 176.0l-0.2 -1.5 -0.8 0 -0.4 1.9 1.4 -0.4M485.0 176.6l-1.3 -0.6 -0.2 -1.3 2.4 0.8 -0.9 1.1M441.7 181.5l2.3 -2.5 -1 -2.2 -3.5 -1.6 -1 0.3 0 2.4 -2 -1.4 -2.5 1 0.5 1.6 2.3 0.4 -1.5 1 0.7 1.3 2.5 -1.4 3.2 1.1M451.8 178.5l0.2 -2 -1 -1 -0.9 2 1.7 1M685.5 187.6l-1.1 -0.6 1.1 -1 0 -2.2 -2 1.1 -1 -2.8 -2.5 1.5 -1.5 -0.8 -0.2 -1.3 3.5 -1.5 -0.4 -2 4.6 -2.7 1.3 1.2 -1.9 2.5 0.8 4 2.6 1 0.3 2.5 -3.6 1.1M693.0 186.1l-2.5 -0.8 -1.6 -1.8 0.8 -2.5 2.1 -1.5 0.7 -4.4 3.5 1.4 0.5 1.5 -0.7 5 -2.8 0.6 0 2.5M338.7 178.5l0.7 -1 -0.9 -1.8 -0.8 1.8 1 1M679.0 178.6l-0.8 -0.1 -0.7 -2.7 2.1 1.2 -0.6 1.6M680.0 176.5l0 0M572.1 177.0l-0.6 -0.7 0.6 0.7M651.0 178.0l-1 -1.9 1.9 0.9 -0.9 1M318.4 178.5l0.7 -1 -0.6 -0.6 -1.1 1.1 1 0.5M472.0 178.2l-0.5 -1.5 0.7 0.3 -0.2 1.2M298.5 179.4l-1.2 -0.4 0.2 -1.3 1 0.3 0 1.4M410.0 190.5l1.6 -3 -0.3 -1.5 -2.3 -1 -3 0.8 -2.9 -2.8 4.5 -3 -1.1 -1.9 -8.5 4.4 0 1.2 2.5 3.1 2.5 -1 2.5 3.2 4.5 1.5M344.5 185.0l1.7 -2.5 -0.7 -1.7 -4.5 -0.3 -2 1.1 -4 -3.4 -0.5 1.8 -2 1 1 1.6 1.5 -0.7 0.5 1.9 1 0.4 3.5 -0.5 2.5 -2.4 1.5 1.7 -0.9 2 1.4 0M394.2 180.0l0.6 -1 -0.8 -0.7 -1 1.2 1.2 0.5M477.0 182.8l-2 0.1 -0.3 -2.4 3.8 -2.2 -1.5 4.5M418.1 191.0l0.9 -0.9 2 0.4 0.8 -6 3.2 1 2 -1.3 2.5 1.6 1.9 -0.8 -2.4 -3.4 -4 0.4 -1.5 -1.6 -3.5 -1.3 -3.1 4.4 -2.3 1.5 1.4 1.3 1.8 -1.3 -0.5 1.5 1 2.5 -0.8 1.5 0.6 0.5M597.0 182.1l-1.8 -1.1 1.8 -1 0.8 1.5 -0.8 0.6M700.5 183.5l-2.3 -0.5 -0.4 -1.5 5.2 -0.9 1 1.9 -3.5 1M412.8 182.0l-0.9 -1 0.1 1 0.8 0M432.6 182.5l0.4 -1.9 -1.5 0.9 1.1 1M567.1 181.5l-1.4 -0.5 1.4 0.5M651.0 181.1l-0.6 -0.1 0.6 0.1M655.5 181.6l0 -1 0.6 0.4 -0.6 0.6M296.5 183.0l-0.5 -0.5 1 -0.8 -0.5 1.3M450.2 187.0l-2.2 -4 -2 -1.1 -0.3 3.1 2.8 2.3 1.7 -0.3M485.5 184.8l-3.4 -2.8 3.5 1.5 -0.1 1.3M395.1 186.5l1.5 -1.5 -3.6 -2.9 -0.6 1.4 2.7 3M595.0 188.1l-3.5 0.1 -0.3 -1.7 4.3 -1.5 3.2 -2.5 -0.6 3 -2.1 0.3 -1 2.3M463.0 185.5l-1 -0.5 0.5 -1.4 1 0.4 -0.5 1.5M492.5 184.9l-1.8 -0.9 1.8 -0.3 0 1.2M696.5 185.1l-1.5 -0.1 1 -1.4 0.5 1.5M436.0 185.5l-1 -1 -1.2 0.5 2.2 0.5M490.5 191.3l-7.1 -3.3 2 -1.5 0.6 -1.9 4 0 -1.3 3.9 2 1.5 -0.2 1.3M349.0 185.0l-0.7 0 0.7 0M334.6 187.5l-0.6 -2.4 -2 1.4 0.5 1 2.1 0M339.6 187.0l-0.6 -0.6 -0.7 0.6 1.3 0M454.7 187.0l-1.7 -0.5 1.7 0.5M529.0 187.3l-1.4 -0.8 1.4 -0.3 0 1.1M586.5 187.7l-1.9 -1.2 1.9 0 0 1.2M656.0 191.1l-4 -2.6 -4.3 2.5 1.8 -2.9 2 0.2 4 -1.8 2.6 2 -2 1 -0.1 1.6M349.1 190.0l1.2 -1 -0.2 -1.5 -3 0.5 0.4 1.9 1.6 0.1M432.8 189.0l-0.3 -1.7 -1.9 1.7 2.2 0M447.0 190.0l-0.3 -2 -3.2 0.3 0.5 1.2 3 0.5M387.2 188.5l-0.7 0 0.7 0M402.7 195.0l0.8 -1.8 1.5 -0.7 -1.5 -3.6 -2 -0.6 0.4 2.7 -1.6 2.5 0.7 1.6 1.7 -0.1M457.1 194.5l2.4 -3.5 6.5 -0.2 1 -2.3 -2 -0.1 -2.5 1.9 -2 -2.1 -1.5 1.8 -1.5 -1.6 -1.1 0.1 -1.9 3 2 3.2 0.6 -0.2M482.0 191.7l-1.9 -0.7 1.4 -2.8 0.9 0.8 -0.4 2.7M697.0 189.5l-0.1 -1 1.1 -0.2 -1 1.2M429.3 190.0l1.1 -1 -2.9 0 1 1.3 0.8 -0.3M495.0 191.2l-0.5 -1.5 0.5 1.5M333.6 191.5l0.3 -1 -1.2 0 0 1 0.9 0M436.1 191.0l-0.7 0 0.7 0M684.0 191.0l-0.7 -0.5 1.1 0 -0.4 0.5M493.0 193.1l-1.1 -1.1 1.1 1.1M474.0 193.5l0 -0.8 -1 -0.2 1 1M601.5 194.9l-1.4 -1.4 0.5 -1 1.4 0.5 -0.5 1.9M650.5 193.1l-0.5 -0.4 0.9 -0.2 -0.4 0.6M588.3 195.5l1.1 -1.5 -1.4 -1.3 -1 1.3 1.3 1.5M496.0 194.5l0.5 -1.5 -0.5 1.5M642.0 204.7l-5.3 -2.7 -0.2 -3.2 4 1.2 0.9 -0.5 -2.4 -1.2 -1.7 -3.3 0.7 -1.6 2 1.6 0 2.1 3.5 -1.1 0.5 1.5 4.1 2.5 -1.6 2.6 -3.5 0.4 -1 1.7M330.1 195.5l-0.6 -1.2 0 1.7 0.6 -0.5M469.4 195.5l-0.4 -1 -0.5 1 0.9 0M685.5 195.8l-0.8 -0.8 0.8 -0.9 0.6 0.9 -0.6 0.8M492.5 195.7l-1.1 -0.2 0.6 -0.7 0.5 0.9M606.0 196.2l-0.7 -0.7 0.7 -0.6 0 1.3M680.0 202.9l-1.9 -1.4 -2.1 -4 0.5 -1.1 1.4 0.1 0.6 -1.6 1 0.4 0.8 3.7 -0.3 3.9M458.6 200.0l4.4 -1.3 -0.4 -3.2 -4.6 0.6 0.6 3.9M403.5 202.0l0.5 -1.3 2.5 1.1 2.1 -1.8 -4.1 -4.4 -1 0.4 1.8 2 -0.3 1 -3.3 2.5 0.8 1 1 -0.5M415.3 199.0l0.4 -1 -3.2 -2.2 -2.4 1.2 0.9 1.4 4.3 0.6M450.0 197.5l0.4 -1.5 -1.4 -0.4 -0.4 1.4 1.4 0.5M584.2 199.0l0.3 -2.5 -2.2 1.5 1.9 1M671.5 198.1l-1.1 -0.6 1.1 -1 0 1.6M331.7 198.5l-0.7 -1 0 1.1 0.7 -0.1M387.4 199.5l0.7 -1.5 -1.1 -0.8 -1 1.8 1.4 0.5M595.6 198.5l0.4 -1.3 -0.4 1.3M342.6 199.5l0.2 -1.5 -0.8 -0.3 -0.6 1.8 1.2 0M389.1 200.5l-0.6 -0.7 0.6 0.7M445.7 200.5l-1.7 -0.5 1.7 0.5M423.4 206.5l0.1 -1 -3 -2.6 -0.5 -1.9 -2.5 -0.6 0.1 2.1 5.8 4M441.3 202.5l0.7 -1.5 -1.5 -0.9 -1.3 1.9 0.8 0.9 1.3 -0.4M642.6 201.5l-0.1 -0.8 0.1 0.8M417.5 217.0l1 -1.5 4.7 -1 -0.3 -3.5 2.6 0.6 2 -3.6 -1.5 -0.9 -3.8 0.9 -4.8 -3.5 -0.9 -2 -1.5 0.1 -1 1.6 -0.6 -2.2 -1.4 -0.3 -0.8 0.8 0.3 2.3 2.5 1.5 1.4 -1.3 1 0.5 -1.5 2 -0.4 2.6 -3.1 2.9 2.6 0.5 1 -2.8 4.9 -1.2 -1.9 5.7 -2.2 0.3 0.2 1.2 1.5 0.3M584.8 205.5l0.9 -1 -0.7 -2.2 -2.5 -0.8 1.7 1.5 -0.2 2.5 0.8 0M689.5 208.1l-2 -0.2 -0.8 -1.9 2.8 -4.4 2.2 3.4 -2.2 3.1M388.3 204.5l-0.8 -2 -0.6 2 1.4 0M481.0 204.8l-2.4 -0.8 2.4 -1.8 0.7 0.3 -0.7 2.3M390.0 207.5l4.9 -0.5 -1 -4 -5.4 2.1 -0.7 2.4 2.2 0M594.4 209.5l1.5 -2 -2.1 -1.5 -0.8 -2.6 -1.7 2.1 1.4 2 -0.3 2 2 0M702.5 230.6l-2.5 -0.3 -0.5 -2.5 -2 -0.6 -1.5 3 -3 -0.2 -1.3 -2.5 1.3 -2 -1.5 -1.9 -2.5 1.7 -1 -3.3 2.5 -3.7 3 4.1 2.2 -0.4 1.7 -3 0.4 -3.5 -0.8 -1 -2 1.2 -2.5 -0.9 2.3 -1.3 -1.4 -2.5 1.2 -3 1.9 -2.7 3 -1.6 1.6 2.3 -2.1 2 1 2 1.5 0.5 2.8 -3.5 2.6 1 -0.4 1 -2.8 0.5 -0.5 4 0.8 2 -0.8 2 0.9 3 4.9 -0.9 1.3 2.9 -2.8 1 0.7 1 -0.7 1 -5.5 0 1 2.5 -0.5 2.6M459.8 206.0l-1.3 -1.5 -0.5 1 1.8 0.5M326.8 211.0l1.4 -5 -0.7 -1.3 -2.3 2.8 -0.4 2.5 0.2 0.9 1.8 0.1M600.1 211.5l0.9 -5 -3 -1.5 -0.7 1 1.5 1 1.3 4.5M484.0 209.5l-1 0.3 -0.1 -0.8 2.1 -3.3 1.4 2.3 -2.4 1.5M308.5 207.6l0.5 -1.1 -0.5 1.1M400.8 215.5l1.8 -2 0.4 -2.9 3 -1 2.5 1.1 1.6 -3.7 -2.1 -0.6 -4 1.3 -1 -0.5 -1 1.8 -3 1.5 0 4 1.8 1M446.9 209.0l-0.4 -2.2 -2 -0.5 0.5 2.4 1.9 0.3M583.1 210.0l0.4 -0.9 -1.5 -0.2 -1 -1.9 -2 0.1 0.7 1.9 3.4 1M654.0 209.2l-1 -0.3 0 -2 1 2.3M627.0 209.1l-1.3 -0.1 0.1 -1.5 1.4 0.5 -0.2 1.1M522.0 210.5l-1.3 0 3.3 -2.5 -0.5 1.8 -1.5 0.7M305.5 210.2l-0.9 -0.2 0.9 -1.7 0 1.9M386.8 211.0l0.1 -2 -1.4 -0.4 -0.5 1.7 1 1.2 0.8 -0.5M489.0 211.2l-1.9 -1.2 0.9 -1.6 1.7 1.1 -0.7 1.7M555.7 210.0l-0.2 -1.9 -0.6 1.4 0.8 0.5M567.6 211.5l-0.4 -2.5 -1.2 -0.4 -0.5 1.4 2.1 1.5M577.3 209.5l-1.1 -0.5 1.1 0.5M318.5 211.5l-1.5 -1 0.2 -1 1.3 0.4 0 1.6M456.7 217.0l6 -3 0.2 -1.5 -5.9 1.4 -1.4 -0.9 -0.1 -2.4 -2 0 -0.7 1.9 1.2 2 -0.2 2.5 2.9 0M313.0 212.5l-1.5 0.2 -0.5 -1.4 1.5 -0.5 0.5 1.7M434.7 212.5l0.5 -1.5 -1.7 -0.2 -0.2 1.2 1.4 0.5M524.5 211.9l-0.5 -1.4 0.5 1.4M485.5 212.6l-1.2 -0.6 1.5 -0.5 -0.3 1.1M327.7 212.5l-1 0 1 0M386.2 212.5l-0.2 -1 -0.6 1 0.8 0M586.4 214.0l0.5 -1 -1.9 -1 -0.5 1.7 1.9 0.3M688.5 213.6l0 -1.1 2.5 -0.5 -2.5 1.6M630.5 213.2l-1 -0.7 1.2 0 -0.2 0.7M657.5 213.7l-0.5 -1.2 0.5 1.2M526.0 215.5l-1 0.4 0 -0.9 2 -2.1 0.5 1.1 -1.5 1.5M589.2 213.5l-0.8 -0.5 0.8 0.5M409.8 217.0l0.1 -3.5 -0.9 -0.4 -2 1.9 1 1.6 1.8 0.4M322.8 215.5l-0.8 -1.4 -0.3 1.4 1.1 0M579.6 215.5l-0.6 -1.1 0.6 1.1M648.0 215.5l-0.6 -0.5 1.1 -0.5 -0.5 1M348.5 217.0l0 -1.3 -3.3 -0.2 0.8 1.3 2.5 0.2M465.1 215.5l0 0M553.1 216.0l-0.6 -0.6 0.6 0.6M583.1 217.5l0.4 -2.3 -2.7 0.8 0.3 1.5 2 0M625.5 216.7l-0.5 -0.8 1 -0.5 -0.5 1.3M397.3 218.0l0.5 -2 -2.3 0.5 0.1 1 1.7 0.5M712.0 219.6l-2.7 -0.1 1.7 -3.4 2.7 1.9 -1.7 1.6M609.1 218.5l-0.6 -1.7 -0.1 1.7 0.7 0M401.1 219.0l-0.6 -1.4 -0.5 1.3 1.1 0.1M468.9 227.5l1.3 -1.5 -7.2 -7.8 -4.9 1.3 2.4 8.3 0.6 -1.8 1.4 -0.7 6.4 2.2M390.1 219.5l-0.6 -1.3 -0.3 1.3 0.9 0M628.0 219.1l0 -0.7 0 0.7M445.8 220.5l1.2 -1.6 -1 0.1 -0.2 1.5M406.6 221.0l-0.6 -1.2 0.6 1.2M587.5 221.5l-0.4 -1.5 -1.6 -0.1 0.2 1.1 1.8 0.5M399.5 224.0l0 -1.1 -2.5 -2.4 -0.4 1 2.9 2.5M425.0 221.0l0 0M530.0 232.3l-1 -1.5 -3.5 -1 -0.6 -1.3 1.3 -1 -0.5 -1 -1.7 1.1 -1.7 -0.6 0.2 -2.1 2.5 -1.4 0 -2.4 2.5 2.4 1 3.4 1.7 0.6 -0.1 2 1 1 -1.1 1.8M340.5 223.0l-1.8 -1.5 1.8 0.4 0 1.1M411.4 224.5l2.6 -0.7 0.5 -1.8 -3 0.3 -1.2 1.7 1.1 0.5M395.5 223.0l0 -0.7 -0.9 0.2 0.9 0.5M447.5 227.5l0.8 -1 -0.9 -1.5 0.7 -2.5 -1.6 -0.3 -1.4 2.8 1.5 1 -0.1 1.5 1 0M491.0 226.1l-1.4 -1.6 0.4 -1 2.2 1 -1.2 1.6M319.0 227.4l-1.4 -1.9 0.9 -1.7 0.9 1.2 -0.4 2.4M333.5 226.3l-1 -1.8 1 -0.8 0.8 1.3 -0.8 1.3M402.6 224.5l-0.7 -0.5 0.7 0.5M483.0 225.8l-1.2 -0.8 1.2 -1.3 0 2.1M610.9 224.5l-1 -0.5 1 0.5M614.7 224.5l-0.8 0 0.8 0M564.0 224.5l-0.5 0.3 0.5 -0.3M573.5 226.7l-2.5 -2.2 2.4 0 0.1 2.2M697.2 225.0l0 0M391.0 225.5l0 -0.9 0 0.9M413.2 232.5l1.9 -2.5 -1.6 -4.7 -3.1 3.2 0.1 1.1 1.2 0.4 -0.5 2.5 2 0M409.1 226.5l-0.9 0 0.9 0M685.5 227.0l0 0M424.8 228.0l-0.3 -1 -0.7 1 1 0M403.1 229.0l-0.1 -1.2 -1 -0.1 0 1 1.1 0.3M420.7 229.0l1.4 -1 -2.6 0 0 0.8 1.2 0.2M343.0 229.5l-1.5 0 -0.2 -1 2.5 0.5 -0.8 0.5M455.7 232.0l1.5 -1.5 -0.2 -2.1 -1.5 1.9 -2.5 0.2 1.5 1.8 1.2 -0.3M585.3 229.5l-0.9 -1 -0.2 1 1.1 0M449.2 232.5l1.1 -2 -2.3 -1.3 0.1 2.3 1.1 1M701.5 231.7l-0.5 -0.6 0.5 0.6M674.5 233.1l-0.8 -0.1 0.8 -1.1 0 1.2M407.8 233.5l-0.3 -1.1 0.3 1.1M401.4 234.0l0 -1 -0.9 0.1 0 1.2 0.9 -0.3M413.6 240.0l2.1 -2.5 -1.7 -2.4 -1.1 0.4 -0.8 4 1.5 0.5M427.5 236.6l2 -1.1 -2 1.1M578.0 240.8l-3 -0.4 -0.8 -0.9 -0.2 -1.7 1.7 -0.3 0.8 -2 2.5 3.5 -1 1.8M420.9 237.5l0.7 -1 -0.6 -0.8 -1.8 1.8 1.7 0M468.0 238.4l-2.9 -0.4 0.9 -2.5 2 2.9M452.0 237.6l-1.1 -0.1 1.1 -1 0 1.1M399.2 237.0l-0.7 -0.3 0.7 0.3M427.0 238.0l0 -1.2 0 1.2M336.5 239.0l0 -1.5 0 1.5M593.8 239.0l0.2 -1.7 -1 1.2 0.8 0.5M633.0 238.5l-1.2 -1 1.4 0 -0.2 1M418.0 240.0l0 -1.4 -0.9 -0.1 -0.1 1.5 1 0M469.5 239.5l-1.1 -1 1.2 0 -0.1 1M412.3 255.0l0.4 -2 -2.2 -3.5 0.8 -4 -2.2 -1.5 -2.6 -4.5 -2 -0.5 -2.5 3.5 2 0.9 2.5 -1.8 2.2 3.4 -1.3 2.5 -2.9 1.5 -2.5 -1 -0.5 1.5 3 1.7 2.5 -0.6 0.6 0.9 -1.4 0.5 0.3 1.6 1.5 -1.4 4.3 2.8M337.0 241.1l0 -1.9 0.6 1.3 -0.6 0.6M594.8 241.5l1.1 -2 -0.9 -0.5 -1.8 2.5 1.6 0M600.1 241.5l-0.1 -2.1 -1.1 2.1 1.2 0M469.0 241.4l0 -1.2 0 1.2M618.0 241.5l0 -0.7 0 0.7M420.2 242.5l1.1 -1 -1.5 0 -0.3 1 0.7 0M449.5 246.0l0 -2.5 2 -2 -0.4 3 -1.6 1.5M460.5 244.0l-1.3 -0.5 0.8 -1.8 1.7 0.8 -1.2 1.5M425.6 245.5l0.2 -2.5 -2.8 -0.3 1 2.8 1.6 0M581.0 248.2l-2 -2.3 3.5 -0.5 2.5 -2.7 2 3.8 -4.5 -0.4 -1.5 2.1M627.0 245.0l-2 0 0 -1.4 1 -0.1 1 1.5M368.5 252.0l-0.9 -0.5 1.2 -1.5 -2.3 -1.5 -2 -3.2 5 -0.5 1.1 0.7 0.5 1.5 -1.7 2 0.8 1.5 -1.7 1.5M438.5 245.5l-0.8 0 0.8 0M421.6 250.0l0.9 -3 -2.3 0.5 0.4 2 1 0.5M466.0 249.0l-0.9 -1 0.4 -1.1 1 0.6 -0.5 1.5M622.0 251.0l-2.4 -2 2.4 0.3 0 1.7M364.5 252.7l-0.5 -1.2 1.5 -1.6 0.5 2.1 -1.5 0.7M617.0 250.7l-1 -0.9 1.4 0.2 -0.4 0.7M351.5 252.0l0 0M613.0 253.2l-0.9 -0.7 2 -1 -1.1 1.7M398.9 253.5l0.1 -2 -1.5 1.5 1.4 0.5M604.0 255.5l-2 -0.3 -0.8 -1.2 4.3 -2.1 1.5 0.6 0.1 1 -2.3 0.5 -0.8 1.5M625.0 254.3l-1.5 -1.7 3.5 0 -2 1.7M432.7 268.5l1.8 -1.7 2 0.9 1.3 -2.2 -1.3 -3.5 -2 2.1 -1.7 -2.1 0.6 -5.5 -2.6 -0.5 -0.8 -2.3 -3 1 -2.8 -1.2 -1.7 3 2.5 4.4 3 0 2 -1.4 2.1 0.5 0.2 1 -3.1 1 1.3 2 -1.8 3 1.8 0.1 1 1.8 1.2 -0.4M587.5 260.1l-2 -0.6 -1.2 -2.5 2.7 -3.3 2.5 2.3 0.2 2.5 -2.2 1.6M476.5 255.5l0 -1 2.1 0 -2.1 1M408.2 263.5l-0.2 -4.2 -2.8 -0.8 -0.7 -1.6 -2 0.3 -2.5 -1.3 -1 0.6 0 1.8 3 1.5 1.3 3.7 4.9 0M620.0 257.1l0 -0.9 0 0.9M601.0 259.5l0 -0.6 0 0.6M618.5 261.6l-1.9 -0.6 0.3 -1.5 2.1 1 -0.5 1.1M450.0 261.5l0 -1.5 -1 0 -0.6 1 1.6 0.5M622.5 262.0l-0.8 0 0.6 -1.5 1.5 -0.5 0.2 1.1 -1.5 0.9M598.5 261.5l-0.6 -0.5 0.6 -0.4 1.3 0.4 -1.3 0.5M620.0 266.6l-1.3 -1.1 1.1 -2.5 1.7 -0.9 -0.4 3.4 -1.1 1.1M378.0 263.0l-1.2 0 1.2 0M443.5 268.5l0.5 -1 -1.5 -2.5 -2 -1.8 -1 0.3 -0.5 1 1.6 1 0.9 2.1 2 0.9M402.0 265.0l-0.3 -1 0.3 1M425.8 278.5l2.4 -1.5 1.1 -3.5 -2.3 -4.5 -0.5 -3 1.3 -1 -0.8 -1.2 -0.9 0.7 0.3 1 -2.7 1 1.3 5.4 -6 1.1 0.5 1 4.3 1 0.8 3.5 1.2 0M417.3 271.5l3.1 -2.5 -1.9 -2 -2 -0.4 -3.2 2.9 2.7 2.3 1.3 -0.3M448.7 270.0l1.3 -1.3 -2.5 0.1 -0.2 1.2 1.4 0M449.2 286.0l3.5 -1 -1.2 -3.4 -3.5 -2.6 -3.7 -1 -0.8 -2.7 -2.7 -2.3 -1.8 -3.7 -2 -0.7 -2.1 2.9 0 3.5 5.6 5.3 5 0.9 0.7 3.8 3 1M463.0 269.8l-0.9 -0.8 0.9 -0.1 0 0.9M397.6 272.0l-0.1 -1.2 -1.1 0.7 0.6 0.9 0.6 -0.4M415.5 279.5l2.5 -0.2 1.4 -1.8 -2.9 -0.3 -2.5 1.7 0 -2.6 1.5 -3.3 -4.7 4 0.7 1.9 4 0.6M381.0 276.1l-0.8 -0.6 0.8 -0.7 0.7 0.7 -0.7 0.6M457.7 281.0l-0.2 -0.8 -0.7 0.3 0.9 0.5M392.2 283.0l-0.2 -0.8 0.2 0.8M442.1 287.5l1.8 -2 -1.9 -1.3 -1.4 2.8 0.4 0.8 1.1 -0.3M466.5 290.5l-1.4 -1 2.2 0 -0.8 1M457.2 294.0l-0.2 -2.3 -0.6 1.8 0.8 0.5M402.5 298.7l-3.1 -2.2 3.1 0.2 1 -1.8 1 -0.1 0.2 1.7 -2.2 2.2M462.0 295.6l-0.4 -0.6 0.4 0.6M417.5 298.4l-0.5 -1.1 0.5 1.1M450.0 298.2l-0.5 -0.9 0.5 0.9M446.0 299.6l-1.3 -0.1 0.3 -1 1 0.2 0 0.9M454.5 302.2l-1.4 -0.7 1.4 -1 0.5 -2 2 -0.4 2.6 1.4 -0.6 1.2 -2 0.6 -2 -0.5 -0.5 1.4M457.0 306.8l-0.5 -0.6 0.5 0.6M683.7 296.9l-1 1.1 -1.3 0.8 -1.8 0 -1.4 -0.4 -1.5 -0.4 -0.8 -1 1.2 -0.9 0.5 -1.2 2 0.2 1.6 0.2 0.9 0.8 1.6 0.8M597.7 361.9l-0.7 1.3 0.1 1.4 -2.4 0.8 -1.7 0.3 -2.3 0.6 0.1 -1.4 -1.2 -0.8 1.8 -1.4 1.7 -1.1 1.9 -0.4 1.8 0 0.9 0.7M702.4 309.7l0.1 1.4 -0.6 1.3 -1.2 1 -1.4 0.3 -1.4 -0.1 -0.3 -1.2 -0.6 -0.9 0.2 -1.3 1.4 -0.5 1.2 -1.1 1.5 0.3 1.1 0.8M654.0 332.1l0.2 1.2 0.1 1.6 -1.4 1.4 -1.9 -0.4 -1.5 -0.6 -0.9 -1.2 -0.4 -1.5 1.3 -1.2 1.1 -1.3 1.7 -0.1 1.6 0.5 0.1 1.6M691.4 312.4l-0.8 1.5 -1.4 1.2 -1.9 1.9 -2.9 -0.1 -1.7 -1.4 -1.6 -1.3 0.5 -1.9 1.5 -1.9 2.9 -1.1 2.7 0.7 3 0.2 -0.3 2.2M587.1 364.9l-0.9 1.6 -0.7 1.2 -0.8 1.5 -2 0.6 -1.5 -0.5 -1.5 -0.5 1 -1.6 0.4 -1.2 1.3 -1 1.6 -0.7 1.3 0.4 1.8 0.2M689.1 309.4l1.5 2.3 -2.5 1.9 -2.3 1.7 -2.6 -1.1 -2.2 -0.5 -2.6 -1.2 0.2 -2.7 1.6 -2.4 3 -1 2.8 0.1 2.5 0.7 0.6 2.2M609.5 371.2l0.8 1.1 -1.3 1.3 -0.3 1.4 -1.4 0.7 -1.5 0.2 -0.9 -0.9 -0.1 -1.3 0.1 -1.2 0.5 -1.5 1.6 -0.7 1.1 0.8 1.4 0.1M697.2 301.3l-1.2 0.7 -0.8 0.8 -1.8 0 -1.7 -0.2 -0.8 -0.9 -0.3 -0.8 0.4 -0.8 1 -0.7 1.7 -0.5 1.7 0.5 0.6 1 1.2 0.9M640.5 343.4l1.1 1.1 -2.3 1.1 -1.7 1.4 -2.2 -0.1 -2.4 0.2 -0.3 -1.3 0.7 -1.2 0.7 -1.3 2.1 -0.9 2.6 -1 1.3 1 0.4 1M629.6 329.5l0.1 0.9 -1.1 0.7 -0.9 0.7 -1.1 -0.1 -0.9 -0.3 -0.1 -0.9 -0.6 -0.8 0.6 -0.9 1.3 -0.2 1.1 0 1.3 0 0.3 0.9M698.4 301.0l-1.2 2 -0.1 2.1 -2.4 1 -2.4 0.4 -1.9 -1 -1.2 -1.6 0.4 -1.9 1.4 -1.5 1.5 -1.6 2.2 0.1 2.6 0.1 1.1 1.9M615.6 353.9l0.3 1 -1.6 0.7 -0.9 0.7 -1.4 0.2 -1.3 -0.2 -0.8 -0.8 0.2 -1.1 1 -0.9 1.3 -0.7 1.5 -0.1 1.3 0.3 0.4 0.9M630.3 346.4l-0.2 2.1 -2 1.8 -3.2 -0.4 -2.4 0.5 -1.9 -0.9 -1 -1.4 0.9 -1.6 0.8 -1.7 2.7 -0.2 2.4 -0.3 3 0.2 0.9 1.9M622.7 354.2l1 1.9 -0.9 2.5 -2.6 1.3 -2.5 2.1 -2.1 -1.6 -1.4 -1.4 -1.6 -1.8 2.3 -2.1 1.2 -2.4 2.7 0.1 2.7 -0.5 1.2 1.9M660.0 326.8l-0.4 1.1 -0.8 1.1 -1.6 0.4 -1.6 -0.1 -2.2 0 0.6 -1.5 -0.8 -1.3 1.1 -1.3 2.1 -0.4 1.5 0.7 1.7 0.2 0.4 1.1M689.1 288.1l0 0.6 -0.6 0.7 -1.2 0.7 -1.4 -0.2 -0.8 -0.4 -1.1 -0.3 0.1 -0.8 1.2 -0.7 1.4 -0.2 1.1 -0.2 1.1 0.1 0.2 0.7M649.3 352.2l0.4 2.2 -2.4 0.7 -2.2 1.8 -2.6 -1.1 -1.9 -1.9 0.6 -2.3 1 -1.7 0.8 -2.4 2.8 -0.1 2.5 0.8 1.5 1.9 -0.5 2.1M616.2 365.0l-1.3 1 -0.8 0.7 -1.2 0.7 -1.6 0.2 -0.8 -0.9 -0.6 -0.7 0.5 -0.9 0.8 -0.7 1.2 -0.8 1.6 -0.1 1.3 0.6 0.9 0.9M705.7 315.1l-0.7 1.3 -1.7 0.7 -1.4 1.2 -1.8 -0.8 -1 -0.8 -1 -0.9 0 -1.3 1.3 -1.2 2 0 2 -0.4 1.3 1 1 1.2M699.4 292.9l0.7 2.3 -1.8 2.3 -1.7 2.3 -3 1.1 -2.1 -1.5 -2.5 -0.7 -0.5 -2.5 1.4 -2.5 2.9 -0.7 2.1 -1.3 2.5 -0.1 2 1.3M640.2 333.5l-0.7 1.1 -0.1 1.3 -1.4 0.3 -1.4 0.2 -1.1 -0.6 -0.7 -1 0.6 -1.2 0.8 -0.7 0.8 -0.7 1.1 0.2 1.2 0.2 0.9 0.9M613.2 364.6l0.4 0.6 -0.9 0.5 -0.8 0.2 -1.1 0.5 -0.6 -0.5 -0.7 -0.6 0.5 -0.7 0.8 -0.4 0.7 -0.4 0.9 -0.1 0.9 0.2 -0.1 0.7M622.2 347.2l-0.3 0.9 -0.4 1.1 -1.2 0.6 -1.2 -0.1 -1.6 0.4 -0.5 -0.9 -0.3 -1.1 0.9 -1.1 1.3 -0.7 1.6 -0.6 0.9 0.8 0.8 0.7M676.6 326.7l-0.7 1.2 -1 1.3 -2.3 0.1 -1.8 -1.1 -0.5 -1.4 -0.8 -1.3 0.1 -1.7 2.1 -0.5 2 0 1.7 0.8 1.6 1.1 -0.4 1.5M636.2 328.0l0.2 1.8 -0.9 2 -2.7 0.8 -2.1 1.6 -2.4 -0.2 0 -1.9 -0.5 -1.3 0.4 -1.8 2.3 -0.9 2.1 -1.6 1.6 1 2 0.5M629.4 355.2l0.3 1 -1.2 0.5 -1.2 0.6 -1.2 -0.4 -0.8 -0.6 -0.3 -0.7 0.4 -0.8 0.3 -1 1.4 -0.1 1.1 0.3 1.5 0.2 -0.3 1M650.9 348.6l-1.1 1.6 -0.8 1.5 -2 0.9 -2 -0.2 -1.5 -0.5 -1.5 -0.9 0.3 -1.6 1.5 -1.3 1.8 -0.9 1.8 0.2 2.2 -0.1 1.3 1.3M695.8 287.3l0.3 0.9 -1 0.7 -1 0.9 -1.3 -0.4 -1 -0.5 -0.3 -0.8 0.3 -0.8 0.5 -0.8 1.1 -0.4 1.3 -0.4 1.4 0.4 -0.3 1.2M688.8 316.5l0.2 0.8 -1 0.6 -1.1 -0.1 -1 0 -1 -0.4 0.1 -0.7 0.1 -0.7 0.6 -0.7 1.1 -0.4 1.1 0.4 1 0.4 -0.1 0.8M702.6 298.5l0.4 1.7 -1.4 1.7 -3.1 0.4 -2.7 -0.7 -1.2 -1.5 -2.3 -1.4 2.5 -1.4 0.5 -2.2 3.1 -0.3 2.9 0.6 1.7 1.4 -0.4 1.7M680.7 314.8l-0.1 1.3 -1.6 0.7 -1.7 0.6 -2.4 0.1 -1.7 -1.2 0.5 -1.5 0.2 -1.3 1.6 -0.7 1.8 -1 2 0.7 1.2 1.1 0.2 1.2M672.5 317.4l-0.4 1.7 -1.4 1.4 -1.5 1.3 -2.1 -0.1 -1.8 -0.6 -0.7 -1.4 -1.2 -1.6 2 -1.5 2 -0.7 1.9 0.1 1.7 0.4 1.5 1M604.9 374.7l-0.2 1.1 -0.9 1 -1.1 0.5 -1.3 0.4 -1.4 -0.2 -0.6 -1.1 0.3 -1.1 0.8 -0.9 0.9 -1.1 1.6 -0.1 0.7 1 1.2 0.5M637.0 337.0l-1 2.9 -0.8 2.2 -1.4 2.8 -3.1 -0.8 -2.4 -0.1 -2.1 -1.4 0.3 -2.5 0.9 -2.1 1.4 -2.6 3 -0.4 2.8 0.4 2.4 1.6M635.8 347.9l-0.5 2.4 -0.6 2.6 -2.8 0.8 -2.5 -0.3 -2.4 -0.7 -0.6 -2.3 0.4 -2 0.8 -2 2.2 -0.6 2 0.2 1.8 0.7 2.2 1.2M657.3 327.9l0 1.2 -0.9 1.3 -2.2 0.6 -2 0.2 -2.1 -0.1 0.2 -1.4 -0.2 -1 0.8 -1.3 2.1 -1 2.5 -0.5 1 1.2 0.8 0.8M635.2 353.6l-1.3 1.9 -0.8 1.6 -2.2 1.6 -2.4 0 -2.6 0.4 0.3 -1.8 -0.6 -1.1 1.4 -1.4 1.8 -1.3 2.1 -0.4 1.5 0.4 2.8 0.1M625.5 369.3l-1.2 1.4 -0.8 1.7 -2.1 -0.6 -2.3 0.6 -0.7 -1.9 -0.3 -1.5 0.5 -1.4 1.2 -1.2 1.8 -0.9 2.3 0.5 1.4 1.5 0.2 1.8M627.8 361.1l-1.5 0.7 -0.4 1.2 -1.8 0.2 -1.4 -0.7 -1.3 -0.7 -0.4 -1.1 1.1 -0.8 0.7 -0.9 1.6 -0.5 1.7 0.5 1.2 0.9 0.5 1.2M694.8 290.5l1.2 1.4 -2 1.6 -2.9 0.2 -2.3 0.5 -1.6 -0.8 -1.9 -0.8 0.4 -1.7 2.5 -1 1.7 -1.9 3.1 -0.3 1.6 1.4 0.2 1.4M635.3 348.5l-0.1 1 -0.8 1.2 -1.8 -0.1 -1.3 -0.4 -2.1 -0.1 0.5 -1.4 0.1 -1 1.2 -0.8 1.4 -0.3 1.6 0.1 1.4 0.7 -0.1 1.1M688.4 300.6l0 0.6 0 0.8 -1.1 0.7 -1 0.2 -1 0.2 -0.6 -0.5 0.3 -0.8 0.2 -0.7 0.9 -0.8 1.1 -0.2 1 -0.1 0.2 0.6M645.5 342.8l-1.5 2 -0.2 2.2 -2.4 0.3 -2.2 0.8 -1.6 -1.4 -1.2 -1.7 0.6 -1.9 1.1 -1.5 1.5 -1.9 2.4 0.4 2 1 1.5 1.7M685.8 319.4l-0.2 1 -0.6 1 -1.5 0.3 -1.2 -0.5 -1.1 -0.5 -0.4 -0.8 0 -1 1 -0.8 1.3 -0.1 1.4 -0.2 0.9 0.8 0.4 0.8M701.1 300.4l-0.9 0.9 -1 0.8 -1.4 -0.3 -1.3 -0.4 -1.1 -0.8 0.7 -1.1 0.1 -0.9 1 -0.5 1.2 0 1.2 0.4 0.4 0.9 1.1 1M637.9 349.0l0.2 0.9 -1.4 0.3 -1 0.5 -1.4 -0.2 -0.9 -0.6 0.2 -0.9 -0.5 -0.9 1.1 -0.6 1.5 0 1.4 -0.1 0.8 0.8 0 0.8M673.2 312.7l0.6 0.8 -0.7 1.3 -1.5 1 -1.6 0.7 -1.9 0.7 -0.2 -1.2 -0.5 -0.8 1.2 -1.2 1.1 -1.2 1.5 -0.4 1.2 0 0.8 0.3M676.8 325.5l-1.2 1.2 -0.7 1.7 -2.3 0 -2.3 0 -2.1 -1.1 0.1 -1.8 1 -1.3 1.3 -1.2 2 -0.5 1.9 0.6 1.1 1.1 1.2 1.3M654.6 315.6l-0.2 2.1 -2.4 0.6 -1.8 1.7 -2.6 -0.7 -1 -2 -1 -1.7 1 -1.8 1 -2.1 2.6 0 2.6 0 2.1 1.5 -0.3 2.4M617.1 360.7l1.4 2.2 -0.9 2.7 -2.7 1.2 -2.4 1.1 -3.1 0.5 -0.4 -2.9 -0.8 -1.9 0 -2.5 1.8 -2.5 3.1 -1 2.4 1.4 1.6 1.7M627.6 358.8l0.1 0.9 -0.7 0.8 -1.6 -0.2 -1.4 0.1 -0.9 -0.7 -0.9 -0.8 0.9 -0.8 0.9 -0.6 1.3 -0.5 1.5 0.3 0.5 0.9 0.3 0.6M601.4 370.5l0 1.8 -1.4 1.6 -2.1 1.2 -2.6 1.3 -1.4 -1.7 -2.3 -0.8 0.1 -2.1 1.2 -2.2 2.7 -1.2 3 -1 1.7 1.7 1.1 1.4M692.1 296.6l-1.9 2.3 -1.3 2.2 -2.6 0.6 -2.6 -0.4 -2.1 -1.4 -1.1 -2.1 0.1 -2.6 2.8 -1 2 -1.7 2.4 1.1 3.4 0.3 0.9 2.7M640.9 336.7l-1.3 1.4 -1.3 1.5 -2.2 -0.6 -2.5 0.3 -0.9 -1.8 -1.2 -1.7 1.8 -1.3 1 -1.6 2.3 0.4 1.7 0.7 1.6 1 1 1.7M607.4 368.1l0.6 2.4 -0.9 2.4 -2.5 1 -2.2 0.8 -2.6 -0.1 -0.7 -2.2 -0.8 -2 0.6 -2.3 1.7 -2 2.6 0.5 2.5 -0.2 1.7 1.7M688.0 317.8l-0.1 1.6 -1.8 0.9 -2 -0.2 -2.6 0.1 -0.3 -1.9 -0.5 -1.5 1 -1.1 0.9 -1.6 2.3 -0.1 1.7 1.2 2.3 0.8 -0.9 1.8M644.6 362.8l-0.2 1.4 -1.7 1 -2.4 1 -2.2 -1.4 -1.8 -1 -0.1 -1.5 -0.5 -1.8 2.8 -0.4 2.2 -1.2 2.2 1.3 2.1 1 -0.4 1.6M611.2 374.4l-0.6 1.7 -1.1 1.3 -1.6 0.8 -2 1 -1.8 -0.6 -1.5 -1.1 1.1 -1.8 0.3 -1.7 2.1 -0.9 2 -0.4 2.2 0.2 0.9 1.5M636.4 340.1l0.3 1 -0.3 1.2 -1.3 0.6 -1.2 -0.4 -0.9 -0.6 -1.2 -0.6 0.7 -1.1 0.8 -0.7 0.8 -0.6 1.2 -0.2 1.1 0.3 0 1.1M690.5 307.3l0 0.9 -1.4 0.7 -1.4 0.6 -1.6 -0.4 -1.7 -0.3 -0.4 -1 0.5 -1 1.4 -0.7 1.5 -0.4 1.4 0.3 0.8 0.6 0.9 0.7M617.6 357.7l-0.1 2.2 -3.2 -0.2 -2.1 0.5 -2.5 -0.6 -2.1 -1.5 0.2 -2 0.5 -2 2.6 -0.5 2.5 -0.5 2.7 0.8 1.4 1.9 0.1 1.9M702.2 293.6l0.3 0.9 -1.6 0.3 -1.2 0.3 -1.5 0.1 -1.5 -0.5 0.6 -0.9 -0.3 -0.9 1.3 -0.5 1.3 -0.4 1.2 0.5 0.9 0.5 0.5 0.6M706.4 293.2l-1.6 1.1 -0.6 1.3 -2.3 0.6 -2.4 0 -1.3 -1.1 -0.8 -1 0.9 -1.2 0.9 -1.2 2.3 -0.1 2.1 -0.2 1.7 0.7 1.1 1.1M599.6 373.1l-0.5 0.9 -0.4 0.9 -1.1 0.6 -1.1 0.1 -1.3 0 -0.4 -0.8 -0.5 -0.8 1.4 -0.7 0.7 -1 1.4 -0.1 1 0.4 0.8 0.5M686.3 288.0l0.9 1.3 -1.5 0.9 -1.3 0.8 -1.7 0.3 -1.5 -0.6 -0.8 -1.2 0.8 -1.4 0.4 -1.4 1.8 -0.1 1.5 -0.4 1.2 0.7 0.2 1.1M610.8 355.2l0.4 1.3 -1.5 1.4 -1.6 1.7 -2.3 -0.5 -2.9 0.5 -0.6 -1.7 0.4 -1.7 1.8 -1.3 1.6 -1.4 2.5 -0.5 1.4 1.1 0.8 1.1M594.3 380.3l-0.8 1.2 -0.3 1 -1 1 -1.4 0.3 -1.1 -0.3 -0.9 -0.5 0.4 -1.1 0.3 -0.9 1 -0.9 1.5 -0.7 1.1 0.5 1.2 0.4M657.3 322.5l-0.2 1.2 -1.1 1.2 -2.1 0.6 -2.4 0.2 -0.8 -1.2 -1.8 -0.7 1.2 -1.3 1.3 -0.9 1.7 -0.7 2.2 -0.4 1.9 0.6 0.1 1.4M616.5 364.4l-0.3 0.8 0 1.3 -1.6 -0.1 -1.1 -0.4 -1.2 -0.3 0 -1 -0.5 -1 1.2 -0.7 1.3 -0.5 1.5 -0.1 0.4 1.2 0.3 0.8M685.8 300.5l-0.3 1.4 -1.3 1.2 -2 0.7 -1.6 -0.8 -1 -0.6 -1.7 -0.6 1.1 -1.2 0.8 -1 1.7 -0.6 2 -0.4 1 1.1 1.3 0.8M697.6 318.8l-0.1 1.4 -2.3 0.6 -2.5 0.4 -2.3 -1.2 -0.7 -1.3 -1.5 -1.3 0.4 -1.5 2.5 -0.3 2.5 -0.5 2.2 1.1 1.4 1.2 0.4 1.4M669.6 330.9l-0.2 1.9 -1.5 1.7 -2.8 0.3 -2.1 -1 -3.3 -0.3 0.8 -2.3 -0.5 -2.1 1.6 -2.1 3.3 0.5 2.4 0.4 1.9 1.2 0.4 1.8M651.6 336.8l0.3 1.3 -1.3 1 -0.8 0.7 -1.2 1 -1.5 -0.2 -0.7 -1.2 0 -1.3 0.9 -1 0.7 -1.1 1.3 0.1 1.2 0.1 1.1 0.6M690.0 292.9l0.3 0.7 0.3 1.1 -1.6 0.7 -1.1 1.1 -1.2 -0.1 -0.9 -0.3 0.1 -1.1 -0.2 -1.1 1.3 -1.1 1.4 -0.4 1.2 -0.2 0.4 0.7M618.1 381.8l-1 1.5 -0.9 1.3 -1.6 0.9 -1.9 -0.1 -1.3 -0.8 -1.8 -0.8 0.7 -1.6 0.8 -1.7 2.2 -0.5 2.3 -0.8 1.1 1.6 1.4 1M635.4 341.1l-0.4 0.9 -0.4 0.9 -0.9 0.8 -1.2 -0.5 -1.4 0.3 -0.6 -0.8 0.5 -1.1 0.8 -0.6 0.8 -0.7 1.3 -0.5 0.5 1 1 0.3M625.6 351.0l-0.1 1.3 -0.3 1.5 -1.6 1.4 -1.8 0.6 -2.1 1 0 -1.7 -1.4 -0.5 1.5 -1.7 1 -1.7 2 -0.8 1.7 0.1 1.1 0.5M696.2 300.4l-1.6 2 -2.6 0.8 -2.5 0.6 -2.4 -1.2 -2.7 -1.2 0.1 -2.3 0.3 -2.2 2.4 -1.5 3.2 0 2.1 1.6 1.9 1.4 1.8 2M693.0 300.9l0.4 1.5 -0.6 1.5 -1.4 0.7 -1.3 0.6 -1.3 0 -1.2 -0.6 -0.7 -1.2 1.4 -1.2 0.8 -0.9 1.1 -1.3 1.1 1 1.7 -0.1M620.0 386.6l-1.1 1.2 -1.2 1 -1.8 0.7 -1.6 -1 -1.2 -0.9 -1.2 -1.2 0.5 -1.5 1.6 -1.1 2 0.2 1.7 0.4 0.8 1.1 1.5 1.1M619.9 365.2l-0.2 0.6 -0.7 0.3 -0.9 0.2 -0.8 -0.5 -0.4 -0.6 -0.5 -0.6 0.2 -0.7 1.1 0 0.9 0 0.9 0.1 0.9 0.5 -0.5 0.7M707.8 301.9l-0.4 1.9 -0.5 1.6 -1.3 1.4 -1.8 2.3 -1.6 -1.3 -1.8 -0.2 -1.1 -1.4 1.7 -2 1.2 -1.8 2 -1.6 2.1 0.2 1.5 0.9M655.9 301.1l1.5 1.5 -1.3 2 -0.1 2.9 -2.8 0 -2.3 0.4 -2.5 -0.9 0 -2.6 -0.3 -2.4 2.5 -1.3 1.8 -1.5 2.5 -0.4 1 2.3M662.2 343.5l-0.7 1.6 0 1.5 -1.2 1.3 -1.8 0 -1.4 -0.7 -1.6 -0.7 -0.2 -1.7 0.9 -1.5 1.8 -0.5 1.3 -0.1 1.7 -0.2 1.2 1M704.7 306.9l-1 2 -3.3 0.2 -2.1 0.4 -3.2 0.6 -2.4 -1.4 1.1 -2 0.6 -1.3 1.1 -1.7 2.9 0.5 2.1 0.4 1.7 0.9 2.5 1.4M630.4 351.4l-0.1 1.1 -0.8 0.8 -1.3 -0.1 -1.4 0.4 -0.6 -1.1 -0.4 -1 0 -1.2 1.4 -0.2 1 -0.5 0.9 0.5 1.3 0.2 0 1.1M681.6 297.8l-1 2 -1.9 1.5 -1.8 1.8 -3.1 0.7 -1.9 -0.9 -1.1 -1.3 0.7 -1.6 0.9 -1.7 2.1 -1.8 2.8 0.1 3.2 -0.4 1.1 1.6M653.1 322.9l-0.7 2.2 -0.4 2.2 -2.1 2 -2.7 -0.9 -2.2 -0.6 -0.7 -1.9 -0.9 -1.9 1.2 -2.1 2 -2.3 3 0.3 2.8 0.5 0.7 2.5M669.2 313.1l0.1 0.7 -0.3 0.9 -1.2 -0.1 -1.1 0.3 -0.7 -0.5 -0.3 -0.7 -0.3 -0.9 1 -0.5 0.9 -0.7 1.3 0.1 0.7 0.6 -0.1 0.8M682.5 314.3l0.2 1.2 -0.4 1.3 -1.4 0.9 -1.3 0 -1.5 0.5 -0.7 -1 -0.6 -1 1 -1.2 1.1 -0.8 1.3 -0.6 1.3 0.1 1 0.6M619.3 342.0l-1.4 0.9 -0.9 0.8 -1.9 0.6 -2 -0.7 -0.7 -1 -1.6 -1 0.9 -1.2 1.9 -0.4 1.7 -0.6 2.2 0.3 1.1 1.1 0.7 1.2M603.9 373.8l-0.6 2 -2.1 1.2 -2.4 -0.2 -1.6 -1.2 -1.3 -1.1 -0.1 -1.6 -0.8 -2.1 2.1 -1.2 2.5 -0.4 2.3 0.9 1 1.8 1 1.9M649.9 339.8l-0.5 1 -0.7 0.9 -1.2 0.7 -1.5 0.7 -1.7 0.3 -0.3 -0.9 -0.3 -0.9 0.9 -1.2 1.5 -1 1.8 -0.5 1.3 0.3 0.7 0.6M703.3 300.2l-0.3 1 -0.2 1.3 -1.5 1 -1.7 -0.1 -0.9 -1 -1.3 -0.6 0 -1.4 1.2 -1 1.4 -0.8 1.7 -0.3 1.1 0.8 0.5 1.1M802.3 363.2l-1.3 1.4 -1.8 1.3 -2.3 1.4 -3.2 1 -2.6 0 0.3 -1.3 0 -0.9 1.8 -1.3 2.5 -1 2.7 -1 1.7 0.2 2.2 0.2M765.2 361.6l1.4 0.4 -3.2 2.3 -3.1 1.8 -3.7 2.1 -3.9 1.5 -1 -0.8 0 -1.3 2.7 -2.4 4.2 -2.2 3.3 -1.2 3.9 -1.7 -0.6 1.5M725.3 385.2l-0.1 1.3 -0.8 1.8 -3 1.6 -3.2 1.1 -3.1 0.4 -1 -1.2 -0.5 -1.6 2 -2.2 3.5 -1.5 3.1 -0.8 2.7 -0.2 0.4 1.3M728.7 388.8l-0.7 1 -1.2 1 -1.6 1.3 -2.5 1.1 -2.2 0.3 -0.6 -0.8 1 -1.1 0.7 -1.2 2.4 -1 2.1 -0.7 1.8 -0.3 0.8 0.4M716.0 398.6l-0.7 1.7 0.1 1.8 -1.6 0.3 -1.4 0.5 -1.4 -0.9 -1.4 -1.3 0.8 -1.8 0.6 -1.2 0.8 -1.5 1.6 0 1.5 0.8 1.1 1.6M695.9 396.3l1.8 0.4 -2.6 2.1 -2.1 1.4 -2.3 1.3 -1.9 0.3 -1.7 0 1.1 -1.7 0.4 -1.4 2.2 -1.9 2.7 -1.2 2.4 -0.6 0 1.3M718.8 387.3l1 1.6 -1.2 1.9 -2 0.9 -1.8 0.7 -1.6 -0.4 -1.9 -0.6 0.4 -1.9 0 -1.9 2 -1.4 2.2 -0.8 1.8 0.7 1.1 1.2M727.1 375.6l0.4 1 0.2 1.5 -1.4 0.9 -1.5 0.1 -1.3 -0.1 -0.8 -1 -0.4 -1.2 0.8 -1.1 0.7 -1.4 1.5 -0.4 1.3 0.7 0.5 1M771.7 367.7l-1.9 2.8 -1.7 2 -2.1 2.2 -3.3 1.8 -2 -0.8 -2.8 0 -0.9 -1.9 2.3 -2.7 3.2 -2.5 3.3 -0.3 2.8 -0.6 3.1 0M723.4 388.3l0.4 1.1 -4 2.1 -3.6 1.3 -3.2 1 -2.6 0.3 -2.2 -0.1 1.8 -1.5 0.9 -1.5 4.1 -1.4 3.1 -0.8 4.2 -1.3 1.1 0.8M759.7 363.3l-1.1 1.1 -1.6 0.8 -1.6 1.1 -2.7 0.6 -1.8 -0.3 -1.2 -0.6 0.3 -1.1 2.8 -1 1.8 -0.7 2.2 -0.5 1.1 0.4 1.8 0.2M764.8 364.8l-0.4 1 -2.1 1.2 -2.5 1.4 -2.8 0 -3.8 0.8 -0.4 -1 -0.7 -1 3.5 -1.5 3.1 -1.6 3.8 -0.6 2 0.4 0.3 0.9M804.0 347.1l-0.5 1.1 -0.6 1.4 -2.9 0.7 -2.6 1.3 -1.6 -0.3 -0.1 -1 -0.6 -0.7 1.9 -1.2 1.8 -1.2 2.3 -0.6 2.3 -0.4 0.6 0.9M837.9 345.9l-1.6 1.8 -1.5 1.5 -2.5 2.1 -3.1 1.3 -3.3 1.4 -0.3 -0.9 -0.9 -0.6 2.3 -2.2 3.6 -1.9 3.5 -2.2 3.5 -1.4 0.3 1.1M846.1 341.0l0.9 1 -1.7 1.2 -1.3 1.6 -2 -0.2 -2.1 0.4 -0.9 -1 0.9 -1.4 0.8 -1.1 1.4 -1.3 2 -0.4 1.4 0.4 0.6 0.8M702.8 399.4l0.3 1.7 -0.4 1.8 -1.7 0.8 -1.6 1.2 -1.5 -1.1 -1.3 -0.9 -0.7 -1.6 1.4 -1.3 1 -0.9 1.4 -1.2 1.3 1 1.8 0.5M718.5 383.1l0 1.3 -1.2 1.5 -1.8 1.1 -2 1.3 -1.5 -0.3 -1 -0.5 0.8 -1.4 0.3 -1.1 1.6 -1 1.8 -1.2 2 -0.5 1 0.8M780.1 368.3l0.3 1.9 -0.1 1.8 -1.6 0.8 -1.5 0.6 -1.4 -0.7 -1.5 -0.9 -0.2 -1.7 0.4 -1.5 0.8 -1.5 1.6 -0.6 1.4 1.3 1.8 0.5M730.5 380.9l-0.3 1.5 -0.7 1.5 -1.6 1.6 -2.5 0.8 -2.3 0 -1.4 -1 1.2 -1.9 0.3 -1.7 2.1 -1.3 2.3 -0.7 1.9 0.3 1 0.9M819.9 338.4l-0.1 1.3 -0.7 1.2 -1.1 0.9 -1.4 0.6 -1.3 -0.3 -1 -0.6 -0.3 -1.1 1.2 -1.1 0.8 -1 1.4 -0.7 1.5 0 1 0.8M781.6 355.4l0.3 1.8 -3.5 2.1 -3 1.6 -3.5 1.3 -3 0 -0.1 -1.6 -1 -1.2 1.3 -2.3 4 -2 3.8 -0.7 3.4 -0.2 1.3 1.2M753.5 378.3l-1.7 1.9 -1 1.6 -2.5 1.5 -2.9 0.6 -2.8 0 0.6 -1.9 -1.5 -1.1 2.9 -1.4 1.8 -1.4 2.5 -0.5 2.9 -0.4 1.7 1.1M821.5 341.8l-1.4 1.3 -1 1.2 -2.5 1.3 -2.5 0.8 -2 0.4 -1.4 -0.1 -0.3 -0.8 1.7 -1.5 3.3 -1.4 3.1 -1.5 2.4 -0.4 0.6 0.7M705.0 400.5l0 1.6 -0.8 1.6 -1.9 0.2 -1.6 1 -1.8 -0.4 -0.7 -1.5 -0.5 -1.6 1.9 -1 0.9 -1.2 1.8 -0.8 1.2 1.3 1.5 0.8M739.8 380.4l0.8 1.3 -2.2 1.7 -2 1.2 -2.4 1.6 -2.1 -0.3 -1.4 -0.8 -0.2 -1.5 1.3 -2 2.8 -1 1.9 -0.3 2.6 -1 0.9 1.1M785.0 364.4l-1 1.6 -1.6 1.6 -2.7 1.8 -3.4 0.6 -2.8 0 -1.7 -0.8 -0.3 -1.6 3.9 -1.7 2.6 -1.3 3.5 -1.6 1.8 0.8 1.7 0.6M772.0 362.2l-0.7 1.7 -2.6 1.6 -2.6 1.5 -2.8 0.3 -3.4 0.8 0.9 -1.8 -1 -0.9 1.5 -1.7 3 -1.6 3.1 -0.4 2.3 0.1 2.3 0.4M781.5 355.5l0.1 0.9 -1 1.5 -2.5 1.5 -2.7 2 -2.4 0.3 -0.6 -0.9 0.6 -1.3 0.9 -1.5 2.2 -2.1 3.1 -1.4 2.4 -0.3 -0.1 1.3M748.4 369.4l0 1.4 -0.4 1.7 -1.7 1.6 -2.3 -0.2 -2 -0.5 -0.4 -1.7 -0.8 -1.5 1.4 -1.6 1.9 -1 2 0 2.2 0.1 0.1 1.7M810.3 347.2l1.9 1.2 -2.6 1.6 -2.7 0.7 -2.8 1.4 -2.5 -0.4 -0.4 -1.6 -0.3 -1.5 2.5 -1.3 1.8 -1.9 3 -0.4 2.7 0.2 -0.6 2M762.1 367.1l0 0.8 -0.6 0.7 -0.7 1 -1.3 0.6 -1.3 -0.2 -0.3 -1 -0.2 -0.8 0.6 -1 1 -0.8 1.3 -0.4 1 0.4 0.5 0.7M692.1 395.2l-0.5 2.1 -1 2.3 -3.8 0.7 -3 1.3 -2.2 -0.8 -1.6 -1.1 0.8 -1.9 0.5 -2.1 3.4 -1.1 2.8 -0.5 3.4 -0.6 1.2 1.7M695.1 404.3l0.1 1.2 -1.6 1.9 -3.2 2.1 -3.2 1.3 -1.3 -0.4 -2.6 0.5 1 -1.6 1.5 -1.7 2.8 -1.4 2.2 -1 2.7 -1.1 1.6 0.2M784.0 373.0l0.9 1.7 -1.1 1.3 -1.4 0.6 -1.4 -0.1 -1.4 -0.8 -1.2 -1.4 0.2 -1.9 1.1 -1.3 1.2 -0.7 1.4 0.5 1.5 0.4 0.2 1.7M814.0 128.6l-1.2 2.9 -2.4 2.3 -3.6 1 -4.1 1.1 -3.1 -1.8 -0.5 -2.9 0 -2.7 2.1 -2.6 4 -0.3 3.6 -0.7 2.2 1.9 3 1.8M803.3 126.0l-0.9 0.9 -0.6 1.2 -1.8 0.1 -1.5 -0.4 -1.2 -0.8 -0.4 -1 0.8 -0.9 1.1 -0.5 1.2 -0.6 1.4 0.4 1.2 0.6 0.7 1M814.6 136.0l-0.3 0.9 -0.5 1.2 -1.8 -0.2 -1.7 0 -0.5 -1.1 -0.3 -0.8 -0.3 -1.1 1.3 -0.6 1.5 -0.6 1.2 0.9 1.4 0.4 0 1M779.9 275.2l-0.9 1.7 -0.5 1.8 -2.6 0.7 -2.1 0.3 -1.8 -0.2 -0.8 -1.1 -0.6 -1.3 0.8 -1.9 2.7 -0.6 2.2 -0.6 2 0.3 1.6 0.9M752.6 78.5l0.6 1.1 -1.2 1.1 -1.7 -0.1 -1.6 0.5 -1.5 -0.4 0.5 -1.3 -0.3 -0.9 1.2 -0.6 1.1 -0.7 1.3 0.2 1.3 0.2 0.3 0.9M884.2 150.0l0.2 1.1 -1.2 0.5 -1.2 0 -1.3 0.2 -0.8 -0.8 -0.7 -1 0.4 -1.1 1.3 -0.4 1.1 -0.4 1.4 0 1.2 0.7 -0.4 1.2M845.0 171.0l-0.2 1 -0.9 0.6 -0.9 0.3 -0.9 -0.3 -0.8 -0.6 -0.1 -1 0.2 -0.9 0.8 -0.5 0.8 -0.2 1.2 -0.4 0.4 1.1 0.4 0.9M828.7 325.9l-2.4 3.1 -1.5 2.4 -2.8 2.9 -4.1 0.4 -3.8 0.4 -2.2 -1.3 1.3 -2.7 2.4 -2.4 3.1 -1.5 3.8 -2.8 3.1 0.7 3.1 0.8M818.1 333.1l0.4 1.9 -2.1 2.3 -3.1 1.5 -2.6 0.2 -2.9 0.7 -1.2 -1.2 1 -1.8 1.4 -1.6 1.8 -1.6 2.7 -0.9 3.2 -0.7 1.4 1.2M782.9 276.5l-0.3 2.6 -2.9 2 -2.1 2.2 -3.1 -0.2 -2.4 -0.7 -1.9 -1.3 1.4 -2.2 0.1 -2.3 3.2 -0.6 2.8 -1.4 3 0.3 2.2 1.6M883.8 279.4l1.2 1.1 -1 1.8 -1.6 1.1 -1.9 1.3 -1.6 -0.9 -0.9 -1.1 -0.6 -1.3 0.7 -1.6 1.2 -1.8 2.1 0.2 1.7 -0.1 0.7 1.3M864.9 307.8l-0.2 1.8 -0.9 1.6 -1.5 1 -1.7 0.8 -1.9 0.1 -1.6 -0.9 -0.7 -1.7 1.5 -1.8 1.6 -1.3 2 -1 1.7 0.6 1.7 0.8M829.8 272.0l0.1 0.8 -0.8 0.7 -1.1 -0.2 -1.2 0.2 -0.2 -0.9 -0.3 -0.6 0.1 -0.7 0.4 -0.8 1.2 0 0.9 0.3 0.6 0.5 0.3 0.7M773.0 305.0l-0.3 1 -1.1 0.8 -1.6 0.5 -1.3 -0.9 -1.5 -0.3 -0.8 -1.1 0.9 -1 1.1 -0.9 1.6 -0.4 1.8 0.3 0.6 1.1 0.6 0.9M793.7 316.7l0.4 1 -2 1.1 -1.4 1 -2.3 1 -1.2 -0.8 -0.8 -0.7 0.1 -1.1 1 -1.1 1.7 -1.2 1.9 0.2 1.8 -0.2 0.8 0.8M801.9 300.0l0.2 1.2 -0.9 0.8 -1.2 -0.2 -0.9 -0.2 -1.2 -0.4 0.5 -1.2 -0.3 -1.1 1.1 -0.3 0.8 -0.4 1.1 0 0.8 0.7 0 1.1M113.2 324.4l-1.5 0.1 -1.4 0 -1.9 -0.6 -1.1 -1.7 -1.1 -1.4 0.1 -1.2 0.8 -0.8 1.9 0.3 2 1.1 1.1 1.5 1.4 1.6 -0.3 1.1M127.7 320.1l-1.6 -0.3 -1.1 0.5 -1.3 -1 -0.8 -1.2 -0.7 -1.3 0.2 -1.2 1 -0.7 1.6 0.3 1.5 0.8 1.1 1.4 0 1.3 0.1 1.4M191.2 333.6l-1.1 2.2 -4.2 0.2 -3.9 -1.5 -3.8 -0.9 -3.2 -2.1 1.7 -1.7 1 -1.5 1.7 -1.9 4.5 0.8 2.7 2.4 4.3 1.6 0.3 2.4M176.9 340.9l-1.7 0 -1.9 -0.3 -2.5 -2 -2 -1.6 -2.3 -2 -0.1 -1.4 1.4 -0.3 2.5 0.9 2.4 1.7 1.9 1.7 2.9 2.3 -0.6 1M208.7 350.8l-1 1.7 -3.6 1 -4.8 -1.2 -4.6 -0.8 -2.6 -1.9 -0.4 -1.8 -1.6 -2.7 6 0.4 4.3 0.1 4.4 1.3 5 1.8 -1.1 2.1M150.8 350.4l-2 0.9 -2.6 0 -3 -1 -1.7 -1.9 -2.7 -1.8 -0.8 -2.1 1.7 -1.2 2.9 -0.1 3 2 3.1 1.1 2.3 2.2 -0.2 1.9M154.2 351.5l-0.7 0.7 -1.2 0.7 -2 -1.3 -1.5 -1 -1.6 -1.2 0.5 -1 0.4 -0.9 1.9 0.3 1.7 0.6 1.9 0.8 0.9 1.3 -0.3 1M179.2 354.9l-1.2 1 -2.4 0 -2.2 -0.3 -1.8 -0.9 -1.3 -1.1 -1.6 -1.5 1.7 -0.8 2.2 0.1 1.9 0.2 2.9 0.2 1.4 1.6 0.4 1.5M214.0 369.2l0.6 2 -4.8 -0.1 -6.5 -2.8 -4.9 -1.8 -5.5 -2.4 -1.7 -2.3 4.4 0 3.5 -0.1 5.8 1.7 5.3 2 5.7 2.6 -1.9 1.2M236.0 380.7l-1.6 1.2 -3.5 0.6 -5.8 -1.1 -5 -2.1 -1.1 -1.9 -2.1 -1.8 -0.5 -2.1 5.5 0.7 4.7 1.5 5.3 1 3.1 2.1 1 1.9M266.8 397.1l-3.1 1.2 -6.2 -0.1 -6.3 -0.4 -5.7 -1.5 -5.7 -1.5 -2.1 -1.8 4 -0.7 4.6 -0.1 5.7 -0.3 7.3 1.4 6 1.9 1.5 1.9M263.7 370.9l-1.2 0.2 -1.1 0.4 -1.9 -0.6 -2.2 -0.7 -0.4 -1 -1.2 -1.2 1.1 -0.4 1.9 0.3 1.8 0.2 1.4 1.1 1.3 0.8 0.5 0.9M280.5 381.7l-2.1 -0.2 -1 0.4 -2.6 -0.4 -2.8 -1.3 -1.4 -1.3 -0.6 -1.1 1.9 0 1.7 0.1 2.3 0.6 1.8 1 1.2 0.9 1.6 1.3M257.4 378.0l-0.1 0.9 -0.9 0.7 -1.4 0.3 -1.5 -0.2 -1.5 -0.6 0.2 -1.1 0.2 -1 0.9 -1 1.7 0 1.6 0.1 1.5 0.7 -0.7 1.2M327.7 351.0l-1.6 1.4 -0.8 1.6 -2.3 0.6 -1.8 -1.3 -1.1 -1 -1.5 -1.3 0.7 -1.6 2 -0.7 1.7 -1.3 2 1 2.2 0.8 0.5 1.8M105.9 291.0l-0.6 0.6 -1.2 -0.4 -1.3 0 -0.8 -1 -0.3 -0.9 -0.1 -0.8 0.5 -0.7 1.1 -0.1 1.3 0.6 1.2 0.8 0.5 1.1 -0.3 0.8M156.6 310.0l-0.4 0.6 -0.3 0.9 -1.2 0 -1.2 0.1 -0.7 -0.8 -0.4 -0.8 0.5 -0.8 0.9 -0.3 0.9 -0.4 1.1 0.1 0.3 0.8 0.5 0.6M242.6 385.2l-0.2 1.2 -2.7 -0.4 -2.1 -0.5 -2.1 -0.6 -1.8 -1.1 -0.1 -1 0.4 -0.9 2.2 0 2.3 0.2 2.9 0.7 1.7 1.4 -0.5 1M195.2 363.5l-1.4 0.6 -1.5 0.3 -2.1 -0.3 -1.4 -1.3 -1.2 -1 0.2 -0.9 0.3 -1 1.7 0 1.9 0.1 1.6 1.1 1.5 1.2 0.4 1.2M279.8 277.6l-1.9 3.2 -4 1.2 -3.9 0.9 -4 -2.1 -5 1.4 -2.1 -3.9 -2 -3 -5.6 -3.5 4.1 -3 3.7 -1.5 0.2 -4.4 4.7 0.4 4.2 0.4 4.6 0.3 3.3 3.1 5.2 2.6 -3.2 4.1 1.7 3.8M253.3 246.6l-0.3 0.4 -0.8 0 -0.8 -0.7 -0.6 -0.8 -0.5 -0.8 0 -0.7 0.5 -0.3 1 0.4 0.8 0.7 0.8 0.7 0.3 0.7 -0.4 0.4M258.3 244.6l-0.9 -0.1 -0.7 0.3 -0.9 -0.7 -0.3 -0.8 -0.9 -0.9 0.2 -0.7 1 0.2 0.6 -0.2 0.7 0.8 1 0.5 -0.2 0.7 0.4 0.9M262.9 248.5l-0.5 1.2 -1.4 -0.3 -1 -1.1 -0.6 -0.9 -0.4 -1 0.4 -0.8 0.6 -0.8 1.2 0.3 1.1 0.5 1.3 0.8 0.1 1.4 -0.8 0.7M266.9 251.0l-0.3 0.4 -0.8 -0.3 -0.8 -0.4 -1.1 -0.6 0.1 -0.8 -0.2 -0.9 1 0.3 0.7 0 0.7 0.6 0.9 0.6 0.6 0.9 -0.8 0.2M272.6 258.1l-1 0 -1.1 -0.2 -1.3 -0.7 -0.9 -1.2 -0.3 -1 0 -0.8 0.9 0 0.9 0 1.5 0.5 0.9 1.4 0.2 1 0.2 1M276.3 257.4l-0.5 0.7 -1.1 -0.3 -0.8 -0.7 -0.8 -0.7 -0.4 -1 0 -1 1.1 0.1 0.9 -0.3 1.1 0.6 1.1 1 -0.4 0.9 -0.2 0.7M280.7 261.9l-0.7 0.8 -1 -0.4 -1 -0.1 -0.7 -0.7 0.2 -1.1 0.3 -0.9 1 -0.2 0.8 -0.2 0.8 0.3 0.3 0.8 0 0.7 0 1M285.5 262.7l-0.8 0.5 -1 0 -1.1 -0.4 -0.8 -1 0.1 -1 0.5 -0.7 0.7 -0.4 0.8 -0.2 1 0.5 0.9 0.8 -0.3 1 0 0.9M290.9 268.7l-0.8 0.2 -1.3 -0.6 -1.3 -0.7 -0.7 -1.2 -1.5 -1.4 0.9 -0.3 0.2 -0.8 1.4 0.4 1.4 1.3 0.8 1.1 0.7 1 0.2 1M295.2 273.7l-0.6 0.1 -1 -0.4 -1.5 -0.7 -1 -1.3 -1.2 -1.4 0.3 -0.5 1.2 0.5 0.9 0.1 1.2 0.9 1 1.1 0.7 0.9 0 0.7M299.3 273.6l-0.5 0.6 -1.2 -0.4 -0.9 -0.8 -0.8 -0.8 -1 -1.1 0.4 -0.8 0.8 -0.4 1.2 0.4 1.2 0.5 0.4 1.1 0.9 1.1 -0.5 0.6M304.5 280.2l-0.8 0.5 -1.4 -0.2 -1.4 -1.1 -0.7 -1.2 -1 -1.3 0.2 -1 0.8 -0.7 1.6 1.2 1.4 0.3 1.4 1.2 -0.5 1.1 0.4 1.2M640.0 174.0l-0.3 3.3 -0.3 3.3 -1.9 2.8 -1.3 3 -1.9 2.7 -3.3 0.8 -2.8 1.1 -2 3.1 -3.3 -0.8 -2.9 0.1 -2.9 -0.3 -3.5 1.5 -2.9 -1.4 -2.1 -2.7 -2.8 -1.5 -1.1 -3.3 -1.1 -2.9 -2.4 -2.4 0.1 -3.3 0.4 -3.1 -1.6 -3.3 2.6 -2.6 -0.5 -3.6 2.7 -2 1.7 -2.6 2.2 -2.2 2 -2.6 3.1 -1 3.2 0.8 2.9 -0.9 3.1 -0.4 3.3 -0.3 2.4 2.6 3.2 0.8 2.4 2.2 1.9 2.6 0.5 3.5 0.8 3 2.4 2.7 0 3.3M576.6 254.0l0.1 2.7 -1 2.4 -1.1 2.5 -1.5 2.4 -2.8 0.4 -2.4 0.6 -2.4 1.5 -2.5 -1.2 -2.5 -0.4 -1.9 -1.8 -2.5 -1.2 -1.2 -2.6 -1.1 -2.5 0.4 -2.8 0.6 -2.6 0.1 -2.7 2 -1.9 1.9 -1.6 1.4 -2.8 2.6 -0.7 2.7 1 2.5 -0.3 2.2 1.4 2 1.4 2.4 1.2 1.7 2.2 1.1 2.6 -0.8 2.8M410.7 273.0l-1.2 2.6 -1.4 2.2 -0.3 2.7 -2.1 1.8 -2.5 1 -2.3 1.2 -2.6 0.3 -2.7 1.4 -2.5 -1.6 -3 -0.1 -1.9 -2.1 -2 -1.8 -1.5 -2.3 0.1 -2.8 -1.4 -2.5 0.1 -2.8 2.3 -2 1 -2.4 1.8 -1.8 1.8 -2 2.4 -1.4 2.8 -0.7 2.8 0.7 2.9 -0.3 2.3 1.7 2.4 1.4 1.4 2.3 1.7 2.1 0.8 2.6 0.8 2.6M326.8 232.0l-0.8 2.5 -1.5 2 -2.1 1.3 -2.4 0.6 -2.4 -0.6 -2.2 -1.2 -1.8 -1.9 -0.5 -2.7 1.1 -2.4 1.3 -2.1 2 -1.6 2.5 -0.3 2.3 0.8 2.1 1.2 1.9 1.8 0.5 2.6M414.0 102.0l-0.8 1.4 -1.3 1.2 -1.8 -0.2 -1.8 -0.7 -0.5 -1.7 1 -1.4 1.3 -1.1 1.7 0.2 1.5 0.8 0.7 1.5M465.8 93.0l-0.7 2 -1.9 1.3 -2.3 -0.3 -1.8 -1.1 -0.7 -1.9 0.9 -1.7 1.5 -1.6 2.2 0.5 2.1 0.8 0.7 2M382.8 166.0l-0.2 1.7 -1.7 0.9 -1.7 -0.3 -1.8 -0.6 -0.4 -1.7 0.8 -1.4 1.2 -1.5 2 0.1 1.5 1.2 0.3 1.6M434.3 168.0l-0.1 1.4 -1.5 0.5 -1.6 0.5 -1.3 -1 -0.5 -1.4 0.5 -1.5 1.4 -0.7 1.6 0.1 1.2 0.8 0.3 1.3M457.4 160.0l-0.4 1.3 -1.2 0.9 -1.6 0 -1.2 -0.9 -0.7 -1.3 0.9 -1.2 1 -1.1 1.5 0.3 1.2 0.7 0.5 1.3M377.6 135.0l-0.6 1.3 -1.3 0.8 -1.4 -0.2 -1.4 -0.5 -0.4 -1.4 0.6 -1.3 1.1 -0.8 1.6 -0.1 1.5 0.7 0.3 1.5M397.1 120.0l-0.6 1 -0.9 0.6 -1.2 0 -0.9 -0.6 -0.4 -1 0.2 -1.1 1.1 -0.6 1.2 0.1 0.9 0.6 0.6 1M507.6 170.0l-0.4 1.4 -1.4 0.8 -1.5 -0.2 -1.3 -0.7 -0.3 -1.3 0.4 -1.3 1.2 -0.6 1.5 -0.2 1.3 0.7 0.5 1.4M595.0 162.0l-0.4 1.7 -1.6 1.1 -2 -0.1 -1.4 -1.1 -0.7 -1.6 0.6 -1.6 1.5 -1.1 2 0 1.6 1 0.4 1.7M608.0 185.0l-0.4 1.7 -1.7 0.8 -1.9 0.3 -1.4 -1.2 -0.9 -1.6 1.1 -1.4 1.2 -1.4 1.8 0.5 1.9 0.5 0.3 1.8M571.2 260.0l-1.3 1.9 -1.7 1.4 -2.4 -0.1 -2 -1.1 -0.5 -2.1 0.7 -1.9 1.8 -1.5 2.5 -0.2 1.8 1.6 1.1 2M653.7 188.0l-0.5 1.4 -1.4 0.9 -1.8 0.6 -1.5 -1.2 -0.3 -1.7 0.1 -1.7 1.9 -0.6 1.8 -0.5 1.2 1.4 0.5 1.4M667.3 170.0l-0.5 1.2 -1 1.1 -1.5 -0.3 -1.3 -0.7 -0.4 -1.3 0.3 -1.3 1.3 -1 1.6 0.1 1 1 0.5 1.2M642.2 140.0l-0.1 1.4 -1.3 0.7 -1.6 0 -1 -0.9 -0.5 -1.2 0.1 -1.5 1.3 -0.9 1.6 0.3 1.3 0.8 0.2 1.3M702.7 140.0l-0.5 1.4 -1.5 0.7 -1.5 0.1 -1.1 -0.9 -0.4 -1.3 0.1 -1.5 1.5 -0.6 1.6 -0.3 1.3 1 0.5 1.4M718.5 176.0l-0.3 1.5 -1.4 0.6 -1.6 0 -1.1 -0.9 -0.3 -1.2 0.2 -1.3 1.3 -0.7 1.4 -0.1 1.3 0.8 0.5 1.3M662.4 240.0l-0.3 1.4 -1.3 0.9 -1.6 -0.2 -1.2 -0.8 -0.8 -1.3 0.8 -1.3 1.2 -0.8 1.6 -0.2 1 1.1 0.6 1.2M724.8 262.0l-0.5 1.5 -1.4 1.1 -1.7 -0.3 -1.8 -0.6 -0.6 -1.7 0.8 -1.6 1.4 -1.2 1.9 0.2 1.5 1.1 0.4 1.5" fill="none" stroke="#000" stroke-width="1.25" stroke-linejoin="round"/></g><filter id="dispA" filterUnits="userSpaceOnUse" x="30" y="-20" width="920" height="480"><feTurbulence type="fractalNoise" baseFrequency="0.07" numOctaves="3" seed="3" result="t"/><feDisplacementMap in="SourceGraphic" in2="t" scale="16" xChannelSelector="R" yChannelSelector="G"/></filter><filter id="fa14" filterUnits="userSpaceOnUse" x="30" y="-20" width="920" height="480"><feGaussianBlur stdDeviation="14"/></filter><filter id="fa12" filterUnits="userSpaceOnUse" x="30" y="-20" width="920" height="480"><feGaussianBlur stdDeviation="12"/></filter><filter id="fa10" filterUnits="userSpaceOnUse" x="30" y="-20" width="920" height="480"><feGaussianBlur stdDeviation="10"/></filter><filter id="fa16" filterUnits="userSpaceOnUse" x="30" y="-20" width="920" height="480"><feGaussianBlur stdDeviation="16"/></filter><filter id="fa6" filterUnits="userSpaceOnUse" x="30" y="-20" width="920" height="480"><feGaussianBlur stdDeviation="6"/></filter><filter id="fa8" filterUnits="userSpaceOnUse" x="30" y="-20" width="920" height="480"><feGaussianBlur stdDeviation="8"/></filter><filter id="fa4" filterUnits="userSpaceOnUse" x="30" y="-20" width="920" height="480"><feGaussianBlur stdDeviation="4"/></filter><filter id="fa3" filterUnits="userSpaceOnUse" x="30" y="-20" width="920" height="480"><feGaussianBlur stdDeviation="3"/></filter><filter id="fa5" filterUnits="userSpaceOnUse" x="30" y="-20" width="920" height="480"><feGaussianBlur stdDeviation="5"/></filter><filter id="fa2" filterUnits="userSpaceOnUse" x="30" y="-20" width="920" height="480"><feGaussianBlur stdDeviation="2"/></filter><filter id="dispB" filterUnits="userSpaceOnUse" x="1040" y="-20" width="920" height="480"><feTurbulence type="fractalNoise" baseFrequency="0.09" numOctaves="3" seed="7" result="t"/><feDisplacementMap in="SourceGraphic" in2="t" scale="14" xChannelSelector="R" yChannelSelector="G"/></filter><filter id="fb20" filterUnits="userSpaceOnUse" x="1040" y="-20" width="920" height="480"><feGaussianBlur stdDeviation="20"/></filter><filter id="fb16" filterUnits="userSpaceOnUse" x="1040" y="-20" width="920" height="480"><feGaussianBlur stdDeviation="16"/></filter><filter id="fb2" filterUnits="userSpaceOnUse" x="1040" y="-20" width="920" height="480"><feGaussianBlur stdDeviation="2"/></filter><filter id="fb4" filterUnits="userSpaceOnUse" x="1040" y="-20" width="920" height="480"><feGaussianBlur stdDeviation="4"/></filter></defs><rect width="2000" height="1491" fill="#fff"/><g clip-path="url(#ella)"><ellipse cx="484.5" cy="218.5" rx="432.8" ry="216.4" fill="#a8cce3"/><g filter="url(#dispA)"><path d="M130.0 72.0 L229.0 49.5 L319.0 58.5 L328.0 90.0 L292.0 117.0 L220.0 135.0 L152.5 135.0 L121.0 112.5Z" fill="#8fbddc" opacity="0.9" filter="url(#fa14)"/><path d="M67.0 148.5 L130.0 135.0 L157.0 171.0 L143.5 234.0 L107.5 270.0 L67.0 252.0Z" fill="#93c0de" opacity="0.8" filter="url(#fa14)"/><path d="M175.0 225.0 L251.5 234.0 L274.0 288.0 L229.0 315.0 L175.0 292.5Z" fill="#95c1de" opacity="0.8" filter="url(#fa14)"/><path d="M638.5 36.0 L737.5 45.0 L827.5 81.0 L863.5 135.0 L850.0 171.0 L805.0 148.5 L715.0 112.5 L638.5 85.5Z" fill="#78acd5" opacity="0.9" filter="url(#fa12)"/><path d="M773.5 135.0 L859.0 144.0 L895.0 180.0 L890.5 270.0 L841.0 297.0 L782.5 270.0 L769.0 202.5Z" fill="#6fa5d1" opacity="0.9" filter="url(#fa12)"/><path d="M728.5 189.0 L778.0 198.0 L791.5 252.0 L769.0 292.5 L733.0 270.0Z" fill="#c8deeb" opacity="0.7" filter="url(#fa10)"/><path d="M706.0 234.0 L778.0 234.0 L787.0 315.0 L715.0 324.0Z" fill="#8dbbdb" opacity="0.8" filter="url(#fa14)"/><path d="M863.5 135.0 L922.0 171.0 L926.5 252.0 L886.0 261.0Z" fill="#b0d1e6" opacity="0.7" filter="url(#fa14)"/><path d="M175.0 148.5 L292.0 148.5 L292.0 216.0 L229.0 225.0 L175.0 211.5Z" fill="#c4dbe9" opacity="0.7" filter="url(#fa16)"/><path d="M175.0 216.0 L256.0 211.5 L274.0 252.0 L251.5 292.5 L188.5 288.0Z" fill="#c9dfec" opacity="0.7" filter="url(#fa16)"/><path d="M143.5 112.5 L229.0 58.5 L328.0 54.0 L355.0 90.0 L332.5 130.5 L274.0 148.5 L175.0 148.5Z" fill="#7aaed6" opacity="0.8" filter="url(#fa14)"/><path d="M175.0 315.0 L287.5 306.0 L319.0 342.0 L256.0 360.0 L184.0 351.0Z" fill="#86b7da" opacity="0.6" filter="url(#fa12)"/><path d="M571.0 252.0 L638.5 243.0 L661.0 288.0 L602.5 315.0 L557.5 292.5Z" fill="#c2dae9" opacity="0.7" filter="url(#fa12)"/><path d="M355.0 45.0 L400.0 18.0 L445.0 4.5 L490.0 0.0 L535.0 4.5 L602.5 22.5 L625.0 49.5 L580.0 67.5 L548.5 81.0 L512.5 67.5 L467.5 65.2 L422.5 72.0 L382.0 85.5 L355.0 72.0Z" fill="#e6b6aa" opacity="0.85" filter="url(#fa10)"/><path d="M301.0 90.0 L319.0 49.5 L382.0 18.0 L445.0 4.5 L485.5 4.5 L487.8 67.5 L445.0 72.0 L400.0 85.5 L355.0 103.5 L319.0 117.0Z" fill="#e09888" opacity="0.8" filter="url(#fa12)"/><path d="M413.5 27.0 L445.0 9.0 L483.2 9.0 L485.5 67.5 L445.0 67.5 L418.0 54.0Z" fill="#d8806e" opacity="0.8" filter="url(#fa10)"/><path d="M382.0 76.5 L413.5 67.5 L467.5 63.0 L512.5 67.5 L548.5 81.0 L557.5 103.5 L526.0 105.8 L490.0 94.5 L445.0 105.8 L413.5 105.8 L386.5 96.8Z" fill="#dc8878" opacity="0.85" filter="url(#fa6)"/><path d="M395.5 180.0 L422.5 171.0 L458.5 175.5 L483.2 193.5 L487.8 229.5 L474.2 256.5 L469.8 290.2 L445.0 294.8 L427.0 270.0 L409.0 234.0 L391.0 207.0Z" fill="#e2a393" opacity="0.9" filter="url(#fa6)"/><path d="M328.0 292.5 L382.0 297.0 L436.0 292.5 L472.0 288.0 L490.0 270.0 L535.0 283.5 L589.0 292.5 L607.0 315.0 L589.0 355.5 L557.5 364.5 L490.0 364.5 L445.0 360.0 L400.0 355.5 L355.0 346.5 L328.0 324.0Z" fill="#ecbcae" opacity="0.9" filter="url(#fa16)"/><path d="M292.0 378.0 L355.0 366.8 L445.0 371.2 L490.0 366.8 L557.5 366.8 L625.0 360.0 L692.5 353.2 L697.0 445.5 L292.0 445.5Z" fill="#d77f70" opacity="0.9" filter="url(#fa10)"/><path d="M332.5 400.5 L422.5 396.0 L490.0 391.5 L580.0 391.5 L670.0 387.0 L679.0 445.5 L332.5 445.5Z" fill="#cf6456" opacity="0.85" filter="url(#fa8)"/><path d="M85.0 270.0 L130.0 310.5 L175.0 337.5 L229.0 355.5 L274.0 373.5 L319.0 387.0 L319.0 445.5 L67.0 445.5 L58.0 315.0Z" fill="#d06a5c" opacity="0.9" filter="url(#fa8)"/><path d="M130.0 342.0 L197.5 373.5 L265.0 396.0 L319.0 409.5 L319.0 445.5 L121.0 445.5Z" fill="#c04a46" opacity="0.8" filter="url(#fa6)"/><path d="M688.0 360.0 L760.0 342.0 L827.5 321.8 L872.5 294.8 L904.0 265.5 L935.5 243.0 L944.5 445.5 L688.0 445.5Z" fill="#d16a5e" opacity="0.9" filter="url(#fa8)"/><path d="M715.0 396.0 L805.0 369.0 L872.5 342.0 L917.5 306.0 L944.5 288.0 L944.5 445.5 L715.0 445.5Z" fill="#c24a46" opacity="0.8" filter="url(#fa6)"/><path d="M431.5 405.0 L535.0 405.0 L535.0 445.5 L431.5 445.5Z" fill="#c98a90" opacity="0.6" filter="url(#fa8)"/><path d="M292.0 180.0 L319.0 171.0 L337.0 189.0 L334.8 234.0 L314.5 256.5 L294.2 225.0Z" fill="#e4aa9c" opacity="0.8" filter="url(#fa6)"/><path d="M690.2 114.8 L710.5 130.5 L733.0 153.0 L753.2 182.2 L769.0 211.5 L780.2 243.0" fill="none" stroke="#dc907e" stroke-width="11.7" stroke-linecap="round" stroke-linejoin="round" opacity="0.9" filter="url(#fa4)"/><ellipse cx="697.9" cy="117.9" rx="9.9" ry="5.4" fill="#b83a44" opacity="0.9" filter="url(#fa3)" transform="rotate(40 697.9 117.9)"/><path d="M602.5 153.0 L634.0 153.0 L638.5 193.5 L607.0 202.5 L593.5 180.0Z" fill="#efd3cc" opacity="0.8" filter="url(#fa5)"/><ellipse cx="564.2" cy="256.5" rx="12.6" ry="11.7" fill="#eeb8a8" opacity="0.9" filter="url(#fa3)"/><ellipse cx="265.0" cy="270.0" rx="13.5" ry="12.6" fill="#e8a898" opacity="0.8" filter="url(#fa3)"/><path d="M332.5 148.5 L355.0 141.8 L382.0 144.0 L400.0 166.5 L404.5 189.0 L400.0 216.0 L402.2 238.5 L386.5 245.2 L364.0 243.0 L346.0 229.5 L332.5 207.0 L328.0 180.0Z" fill="#3470ad" filter="url(#fa5)"/><ellipse cx="364.9" cy="195.8" rx="20.7" ry="36.0" fill="#225c9a" opacity="0.9" filter="url(#fa8)" transform="rotate(-8 364.9 195.8)"/><path d="M400.0 117.0 L427.0 102.6 L458.5 102.6 L477.4 117.9 L472.0 144.9 L445.0 153.9 L418.0 149.4 L400.0 135.9Z" fill="#4d8cc4" filter="url(#fa5)"/><ellipse cx="436.0" cy="128.2" rx="20.2" ry="15.8" fill="#3a78b6" opacity="0.8" filter="url(#fa6)"/><path d="M386.5 258.8 L413.5 252.0 L431.5 265.5 L427.0 288.0 L404.5 292.5 L387.4 279.0Z" fill="#5b97cb" filter="url(#fa4)"/><path d="M431.5 252.0 L467.5 252.0 L469.8 288.0 L436.0 290.2Z" fill="#74aad4" opacity="0.8" filter="url(#fa4)"/><path d="M490.0 130.5 L526.0 126.0 L553.0 144.0 L564.2 173.2 L550.8 200.2 L517.0 203.4 L494.5 189.0 L485.5 157.5Z" fill="#78acd5" opacity="0.9" filter="url(#fa6)"/><path d="M512.5 189.0 L557.5 180.0 L602.5 202.5 L598.0 234.0 L544.0 234.0 L512.5 216.0Z" fill="#83b4d9" opacity="0.8" filter="url(#fa6)"/><path d="M670.0 234.0 L715.0 234.0 L719.5 279.0 L679.0 283.5Z" fill="#5a96c9" opacity="0.7" filter="url(#fa8)"/><path d="M580.0 297.0 L647.5 288.0 L715.0 315.0 L706.0 387.0 L625.0 382.5 L580.0 342.0Z" fill="#7fb1d7" opacity="0.8" filter="url(#fa10)"/><ellipse cx="692.5" cy="211.5" rx="9.0" ry="13.5" fill="#4a86c0" opacity="0.7" filter="url(#fa4)"/><ellipse cx="243.8" cy="209.2" rx="3.6" ry="3.6" fill="#d05a4c" opacity="0.9" filter="url(#fa2)"/><ellipse cx="598.0" cy="299.2" rx="4.5" ry="4.5" fill="#c8504a" opacity="0.9" filter="url(#fa2)"/><ellipse cx="463.0" cy="321.8" rx="4.5" ry="4.5" fill="#b8303a" opacity="0.9" filter="url(#fa2)"/><ellipse cx="321.2" cy="348.8" rx="4.5" ry="4.5" fill="#c84a44" opacity="0.9" filter="url(#fa2)"/><ellipse cx="526.0" cy="321.8" rx="2.7" ry="2.7" fill="#d0605a" opacity="0.9" filter="url(#fa2)"/><ellipse cx="397.8" cy="202.5" rx="6.3" ry="6.3" fill="#c83038" opacity="0.9" filter="url(#fa2)"/><ellipse cx="375.2" cy="155.2" rx="4.5" ry="4.5" fill="#d06a60" opacity="0.9" filter="url(#fa2)"/><ellipse cx="521.5" cy="333.0" rx="2.7" ry="2.7" fill="#d06a60" opacity="0.9" filter="url(#fa2)"/><ellipse cx="863.5" cy="315.0" rx="4.5" ry="4.5" fill="#b8303a" opacity="0.9" filter="url(#fa2)"/><ellipse cx="881.5" cy="148.5" rx="2.2" ry="2.2" fill="#d06a60" opacity="0.9" filter="url(#fa2)"/><path d="M602.5 216.0 L661.0 211.5 L683.5 252.0 L670.0 292.5 L625.0 297.0 L598.0 261.0Z" fill="#dcd3d6" opacity="0.7" filter="url(#fa8)"/><path d="M67.0 171.0 L112.0 148.5 L148.0 189.0 L130.0 252.0 L80.5 252.0Z" fill="#8cbbdc" opacity="0.6" filter="url(#fa14)"/><path d="M487.8 211.5 L544.0 216.0 L580.0 252.0 L571.0 288.0 L517.0 292.5 L487.8 270.0Z" fill="#d3e2ec" opacity="0.75" filter="url(#fa10)"/></g><path d="M674.6 96.3 L680.7 102.5 L686.4 108.9 L691.8 115.7 L696.8 122.7 L701.4 130.0 L705.7 137.5 L709.5 145.3 L713.0 153.2 L716.0 161.3 L718.6 169.5 L720.8 177.9 L722.5 186.3 L723.8 194.9 L724.6 203.5 L725.0 212.1 L724.9 220.8 L724.4 229.4 L723.4 238.0 L722.0 246.5 L720.1 254.9 L717.8 263.2 L715.0 271.4 L711.9 279.5 L708.3 287.3 L704.3 295.0 L701.4 300.0" fill="none" stroke="#fff" stroke-width="4.5"/><path d="M652.7 177.5 L654.6 182.4 L656.1 187.4 L657.4 192.5 L658.5 197.6 L659.3 202.8 L659.8 208.0 L660.0 213.3 L659.9 218.5 L659.6 223.7 L659.0 228.9 L658.2 234.1 L657.0 239.2 L655.6 244.2 L654.0 249.2 L652.1 254.1 L649.9 258.8 L647.5 263.5 L644.8 268.0 L641.9 272.4 L638.8 276.6 L635.5 280.6 L631.9 284.5 L628.2 288.1 L624.3 291.6 L620.2 294.9 L615.9 297.9 L613.0 299.8M659.2 174.9 L661.2 180.2 L662.9 185.5 L664.3 190.9 L665.4 196.4 L666.2 202.0 L666.7 207.5 L667.0 213.1 L666.9 218.7 L666.6 224.3 L666.0 229.9 L665.0 235.4 L663.8 240.9 L662.3 246.3 L660.5 251.6 L658.5 256.8 L656.2 261.9 L653.6 266.9 L650.7 271.7 L647.6 276.4 L644.3 280.9 L640.8 285.2 L637.0 289.3 L633.0 293.3 L628.8 297.0 L624.4 300.5 L619.8 303.7 L616.7 305.7M665.7 172.3 L667.8 177.9 L669.6 183.6 L671.1 189.4 L672.3 195.2 L673.2 201.1 L673.7 207.0 L674.0 213.0 L673.9 219.0 L673.6 224.9 L672.9 230.9 L671.9 236.8 L670.6 242.6 L669.0 248.3 L667.1 254.0 L664.9 259.5 L662.5 265.0 L659.7 270.3 L656.7 275.4 L653.4 280.4 L649.8 285.2 L646.0 289.8 L642.0 294.2 L637.7 298.4 L633.3 302.3 L628.6 306.0 L623.7 309.5 L620.4 311.7M672.2 169.7 L674.4 175.6 L676.3 181.6 L677.9 187.8 L679.2 194.0 L680.1 200.3 L680.7 206.6 L681.0 212.9 L680.9 219.2 L680.5 225.5 L679.8 231.8 L678.8 238.1 L677.4 244.3 L675.7 250.4 L673.7 256.4 L671.4 262.3 L668.8 268.0 L665.8 273.7 L662.6 279.1 L659.1 284.4 L655.3 289.5 L651.3 294.4 L647.0 299.1 L642.5 303.5 L637.8 307.7 L632.8 311.6 L627.7 315.3 L624.1 317.6M677.8 167.4 L680.1 173.7 L682.1 180.0 L683.7 186.4 L685.1 192.9 L686.1 199.5 L686.7 206.1 L687.0 212.8 L686.9 219.4 L686.5 226.1 L685.8 232.7 L684.7 239.2 L683.2 245.7 L681.5 252.1 L679.3 258.4 L676.9 264.6 L674.1 270.7 L671.1 276.6 L667.7 282.3 L664.0 287.8 L660.1 293.2 L655.8 298.3 L651.4 303.2 L646.6 307.9 L641.6 312.3 L636.4 316.4 L631.0 320.3 L627.3 322.7M683.3 165.2 L685.8 171.7 L687.8 178.3 L689.6 185.1 L691.0 191.9 L692.0 198.8 L692.7 205.7 L693.0 212.7 L692.9 219.6 L692.5 226.6 L691.7 233.5 L690.6 240.4 L689.0 247.2 L687.2 253.9 L685.0 260.5 L682.4 267.0 L679.5 273.3 L676.3 279.5 L672.8 285.5 L668.9 291.3 L664.8 296.9 L660.4 302.3 L655.7 307.4 L650.7 312.3 L645.5 316.9 L640.0 321.2 L634.4 325.3 L630.5 327.8M688.9 162.9 L691.4 169.7 L693.6 176.7 L695.4 183.7 L696.9 190.9 L698.0 198.1 L698.7 205.3 L699.0 212.6 L698.9 219.9 L698.5 227.1 L697.6 234.3 L696.4 241.5 L694.9 248.6 L692.9 255.6 L690.6 262.5 L688.0 269.3 L684.9 275.9 L681.6 282.4 L677.9 288.7 L673.9 294.7 L669.5 300.6 L664.9 306.2 L660.0 311.6 L654.8 316.7 L649.3 321.5 L643.7 326.0 L637.7 330.2 L633.7 332.9M694.4 160.7 L697.1 167.8 L699.4 175.0 L701.3 182.4 L702.8 189.8 L703.9 197.3 L704.6 204.9 L705.0 212.5 L704.9 220.1 L704.4 227.6 L703.6 235.2 L702.3 242.7 L700.7 250.1 L698.7 257.4 L696.3 264.6 L693.5 271.7 L690.3 278.6 L686.8 285.3 L683.0 291.8 L678.8 298.2 L674.3 304.3 L669.4 310.1 L664.3 315.7 L658.9 321.0 L653.2 326.1 L647.3 330.8 L641.1 335.2 L636.8 338.0M700.0 158.4 L702.8 165.8 L705.2 173.4 L707.1 181.0 L708.7 188.8 L709.9 196.6 L710.6 204.5 L711.0 212.4 L710.9 220.3 L710.4 228.2 L709.5 236.0 L708.2 243.8 L706.5 251.5 L704.4 259.1 L701.9 266.6 L699.0 274.0 L695.7 281.2 L692.1 288.2 L688.1 295.0 L683.7 301.6 L679.0 308.0 L674.0 314.1 L668.6 319.9 L663.0 325.4 L657.1 330.7 L650.9 335.6 L644.4 340.2 L640.0 343.1M705.6 156.2 L708.4 163.9 L710.9 171.7 L713.0 179.7 L714.6 187.7 L715.8 195.9 L716.6 204.0 L717.0 212.3 L716.9 220.5 L716.4 228.7 L715.5 236.9 L714.1 245.0 L712.3 253.0 L710.1 260.9 L707.5 268.7 L704.5 276.3 L701.1 283.8 L697.3 291.1 L693.1 298.2 L688.6 305.1 L683.7 311.7 L678.5 318.0 L672.9 324.1 L667.1 329.8 L660.9 335.3 L654.5 340.4 L647.8 345.2 L643.2 348.1" fill="none" stroke="#fff" stroke-width="2" stroke-dasharray="16 5 9 4" opacity="0.95"/><path d="M769.9 185.5 L771.2 196.5 L771.9 207.6 L772.0 218.7 L771.5 229.8 L770.4 240.8 L768.8 251.8 L766.6 262.7 L763.8 273.4 L760.4 284.0 L756.6 294.4 L752.1 304.6 L750.5 307.9" fill="none" stroke="#fff" stroke-width="2"/><path d="M170.5 148.5 L166.9 189.0 L166.9 225.0 L170.5 265.5 L177.2 306.0" fill="none" stroke="#fff" stroke-width="2.2" stroke-linecap="round"/><path d="M81.4 252.0 L87.2 274.5 L96.2 292.5" fill="none" stroke="#fff" stroke-width="2.2" stroke-linecap="round"/><path d="M872.5 135.0 L877.9 180.0 L877.9 225.0 L872.5 270.0" fill="none" stroke="#fff" stroke-width="2.2" stroke-linecap="round"/><path d="M910.8 157.5 L915.2 193.5 L913.0 234.0" fill="none" stroke="#fff" stroke-width="2.2" stroke-linecap="round"/><rect x="40" y="0" width="900" height="440" filter="url(#spkA)" opacity="0.55"/><rect x="40" y="0" width="900" height="440" filter="url(#bspA)" opacity="0.45"/><rect x="40" y="0" width="900" height="440" filter="url(#rspA)" opacity="0.5"/><path d="M575 305h1.5v1.5h-1.5zm-184 8h1.5v1.5h-1.5zm184 0h1.5v1.5h-1.5zm-155 20h1.5v1.5h-1.5zm-31 1h1.5v1.5h-1.5zm201 0h1.5v1.5h-1.5zm-214 5h1.5v1.5h-1.5zm95 1h1.5v1.5h-1.5zm-35 17h1.5v1.5h-1.5zm-4 1h1.5v1.5h-1.5zm70 2h1.5v1.5h-1.5zm-20 2h1.5v1.5h-1.5zm-42 6h1.5v1.5h-1.5zm-74 1h1.5v1.5h-1.5zm229 0h1.5v1.5h-1.5zm-80 3h1.5v1.5h-1.5zm-159 3h1.5v1.5h-1.5zm173 3h1.5v1.5h-1.5zm-21 1h1.5v1.5h-1.5zm34 0h1.5v1.5h-1.5zm-48 1h1.5v1.5h-1.5zm163 1h1.5v1.5h-1.5zm-181 1h1.5v1.5h-1.5zm9 0h1.5v1.5h-1.5zm155 1h1.5v1.5h-1.5zm-89 1h1.5v1.5h-1.5zm-119 1h1.5v1.5h-1.5zm102 1h1.5v1.5h-1.5zm-168 2h1.5v1.5h-1.5zm125 0h1.5v1.5h-1.5zm22 2h1.5v1.5h-1.5zm39 1h1.5v1.5h-1.5zm-138 1h1.5v1.5h-1.5zm98 0h1.5v1.5h-1.5zm-61 1h1.5v1.5h-1.5zm104 0h1.5v1.5h-1.5zm-104 1h1.5v1.5h-1.5zm53 0h1.5v1.5h-1.5zm-54 1h1.5v1.5h-1.5zm87 0h1.5v1.5h-1.5zm25 0h1.5v1.5h-1.5zm-76 1h1.5v1.5h-1.5zm36 0h1.5v1.5h-1.5zm7 0h1.5v1.5h-1.5zm34 0h1.5v1.5h-1.5zm-175 1h1.5v1.5h-1.5zm31 0h1.5v1.5h-1.5zm45 0h1.5v1.5h-1.5zm1 0h1.5v1.5h-1.5zm7 0h1.5v1.5h-1.5zm4 0h1.5v1.5h-1.5zm19 0h1.5v1.5h-1.5zm6 0h1.5v1.5h-1.5zm36 0h1.5v1.5h-1.5zm5 0h1.5v1.5h-1.5zm7 0h1.5v1.5h-1.5zm13 0h1.5v1.5h-1.5zm6 0h1.5v1.5h-1.5zm42 0h1.5v1.5h-1.5zm-211 1h1.5v1.5h-1.5zm9 0h1.5v1.5h-1.5zm3 0h1.5v1.5h-1.5zm91 0h1.5v1.5h-1.5zm39 0h1.5v1.5h-1.5zm61 0h1.5v1.5h-1.5zm25 0h1.5v1.5h-1.5zm15 0h1.5v1.5h-1.5zm-339 1h1.5v1.5h-1.5zm113 0h1.5v1.5h-1.5zm38 0h1.5v1.5h-1.5zm19 0h1.5v1.5h-1.5zm4 0h1.5v1.5h-1.5zm8 0h1.5v1.5h-1.5zm1 0h1.5v1.5h-1.5zm5 0h1.5v1.5h-1.5zm22 0h1.5v1.5h-1.5zm3 0h1.5v1.5h-1.5zm0 0h1.5v1.5h-1.5zm-67 1h1.5v1.5h-1.5zm41 0h1.5v1.5h-1.5zm3 0h1.5v1.5h-1.5zm29 0h1.5v1.5h-1.5zm2 0h1.5v1.5h-1.5zm43 0h1.5v1.5h-1.5zm-229 1h1.5v1.5h-1.5zm49 0h1.5v1.5h-1.5zm35 0h1.5v1.5h-1.5zm35 0h1.5v1.5h-1.5zm12 0h1.5v1.5h-1.5zm0 0h1.5v1.5h-1.5zm32 0h1.5v1.5h-1.5zm31 0h1.5v1.5h-1.5zm-154 1h1.5v1.5h-1.5zm9 0h1.5v1.5h-1.5zm39 0h1.5v1.5h-1.5zm10 0h1.5v1.5h-1.5zm38 0h1.5v1.5h-1.5zm14 0h1.5v1.5h-1.5zm-61 1h1.5v1.5h-1.5zm10 0h1.5v1.5h-1.5zm8 0h1.5v1.5h-1.5zm1 0h1.5v1.5h-1.5zm60 0h1.5v1.5h-1.5zm59 0h1.5v1.5h-1.5zm-141 1h1.5v1.5h-1.5zm10 0h1.5v1.5h-1.5zm3 0h1.5v1.5h-1.5zm10 0h1.5v1.5h-1.5zm6 0h1.5v1.5h-1.5zm4 0h1.5v1.5h-1.5zm20 0h1.5v1.5h-1.5zm12 0h1.5v1.5h-1.5zm2 0h1.5v1.5h-1.5zm8 0h1.5v1.5h-1.5zm23 0h1.5v1.5h-1.5zm22 0h1.5v1.5h-1.5zm16 0h1.5v1.5h-1.5zm-196 1h1.5v1.5h-1.5zm84 0h1.5v1.5h-1.5zm3 0h1.5v1.5h-1.5zm2 0h1.5v1.5h-1.5zm87 0h1.5v1.5h-1.5zm33 0h1.5v1.5h-1.5zm-242 1h1.5v1.5h-1.5zm93 0h1.5v1.5h-1.5zm18 0h1.5v1.5h-1.5zm8 0h1.5v1.5h-1.5zm7 0h1.5v1.5h-1.5zm14 0h1.5v1.5h-1.5zm12 0h1.5v1.5h-1.5zm8 0h1.5v1.5h-1.5zm27 0h1.5v1.5h-1.5zm35 0h1.5v1.5h-1.5zm13 0h1.5v1.5h-1.5zm-152 1h1.5v1.5h-1.5zm10 0h1.5v1.5h-1.5zm32 0h1.5v1.5h-1.5zm18 0h1.5v1.5h-1.5zm11 0h1.5v1.5h-1.5zm18 0h1.5v1.5h-1.5zm31 0h1.5v1.5h-1.5zm24 0h1.5v1.5h-1.5zm-183 1h1.5v1.5h-1.5zm39 0h1.5v1.5h-1.5zm2 0h1.5v1.5h-1.5zm17 0h1.5v1.5h-1.5zm40 0h1.5v1.5h-1.5zm3 0h1.5v1.5h-1.5zm27 0h1.5v1.5h-1.5zm4 0h1.5v1.5h-1.5zm1 0h1.5v1.5h-1.5zm9 0h1.5v1.5h-1.5zm53 0h1.5v1.5h-1.5zm-254 1h1.5v1.5h-1.5zm76 0h1.5v1.5h-1.5zm18 0h1.5v1.5h-1.5zm10 0h1.5v1.5h-1.5zm6 0h1.5v1.5h-1.5zm4 0h1.5v1.5h-1.5zm9 0h1.5v1.5h-1.5zm1 0h1.5v1.5h-1.5zm7 0h1.5v1.5h-1.5zm0 0h1.5v1.5h-1.5zm2 0h1.5v1.5h-1.5zm3 0h1.5v1.5h-1.5zm3 0h1.5v1.5h-1.5zm9 0h1.5v1.5h-1.5zm12 0h1.5v1.5h-1.5zm4 0h1.5v1.5h-1.5zm30 0h1.5v1.5h-1.5zm11 0h1.5v1.5h-1.5zm0 0h1.5v1.5h-1.5zm13 0h1.5v1.5h-1.5zm41 0h1.5v1.5h-1.5zm17 0h1.5v1.5h-1.5zm26 0h1.5v1.5h-1.5zm-189 1h1.5v1.5h-1.5zm25 0h1.5v1.5h-1.5zm29 0h1.5v1.5h-1.5zm21 0h1.5v1.5h-1.5zm7 0h1.5v1.5h-1.5zm10 0h1.5v1.5h-1.5zm10 0h1.5v1.5h-1.5zm6 0h1.5v1.5h-1.5zm22 0h1.5v1.5h-1.5zm10 0h1.5v1.5h-1.5zm-185 1h1.5v1.5h-1.5zm42 0h1.5v1.5h-1.5zm7 0h1.5v1.5h-1.5zm17 0h1.5v1.5h-1.5zm25 0h1.5v1.5h-1.5zm0 0h1.5v1.5h-1.5zm44 0h1.5v1.5h-1.5zm2 0h1.5v1.5h-1.5zm26 0h1.5v1.5h-1.5zm25 0h1.5v1.5h-1.5zm-180 1h1.5v1.5h-1.5zm9 0h1.5v1.5h-1.5zm14 0h1.5v1.5h-1.5zm25 0h1.5v1.5h-1.5zm52 0h1.5v1.5h-1.5zm41 0h1.5v1.5h-1.5zm13 0h1.5v1.5h-1.5zm36 0h1.5v1.5h-1.5zm9 0h1.5v1.5h-1.5zm-156 1h1.5v1.5h-1.5zm11 0h1.5v1.5h-1.5zm1 0h1.5v1.5h-1.5zm11 0h1.5v1.5h-1.5zm0 0h1.5v1.5h-1.5zm10 0h1.5v1.5h-1.5zm9 0h1.5v1.5h-1.5zm35 0h1.5v1.5h-1.5zm2 0h1.5v1.5h-1.5zm-136 1h1.5v1.5h-1.5zm39 0h1.5v1.5h-1.5zm35 0h1.5v1.5h-1.5zm9 0h1.5v1.5h-1.5zm24 0h1.5v1.5h-1.5zm11 0h1.5v1.5h-1.5zm12 0h1.5v1.5h-1.5zm23 0h1.5v1.5h-1.5zm1 0h1.5v1.5h-1.5zm7 0h1.5v1.5h-1.5zm2 0h1.5v1.5h-1.5zm4 0h1.5v1.5h-1.5zm56 0h1.5v1.5h-1.5zm-221 1h1.5v1.5h-1.5zm3 0h1.5v1.5h-1.5zm45 0h1.5v1.5h-1.5zm10 0h1.5v1.5h-1.5zm6 0h1.5v1.5h-1.5zm5 0h1.5v1.5h-1.5zm8 0h1.5v1.5h-1.5zm0 0h1.5v1.5h-1.5zm1 0h1.5v1.5h-1.5zm9 0h1.5v1.5h-1.5zm2 0h1.5v1.5h-1.5zm7 0h1.5v1.5h-1.5zm4 0h1.5v1.5h-1.5zm1 0h1.5v1.5h-1.5zm17 0h1.5v1.5h-1.5zm8 0h1.5v1.5h-1.5zm5 0h1.5v1.5h-1.5zm10 0h1.5v1.5h-1.5zm13 0h1.5v1.5h-1.5zm47 0h1.5v1.5h-1.5zm-132 1h1.5v1.5h-1.5zm1 0h1.5v1.5h-1.5zm23 0h1.5v1.5h-1.5zm11 0h1.5v1.5h-1.5zm4 0h1.5v1.5h-1.5zm14 0h1.5v1.5h-1.5zm57 0h1.5v1.5h-1.5zm6 0h1.5v1.5h-1.5zm51 0h1.5v1.5h-1.5zm-207 1h1.5v1.5h-1.5zm40 0h1.5v1.5h-1.5zm13 0h1.5v1.5h-1.5zm8 0h1.5v1.5h-1.5zm17 0h1.5v1.5h-1.5zm6 0h1.5v1.5h-1.5zm3 0h1.5v1.5h-1.5zm4 0h1.5v1.5h-1.5zm1 0h1.5v1.5h-1.5zm47 0h1.5v1.5h-1.5zm10 0h1.5v1.5h-1.5zm-93 1h1.5v1.5h-1.5zm24 0h1.5v1.5h-1.5zm4 0h1.5v1.5h-1.5zm0 0h1.5v1.5h-1.5zm5 0h1.5v1.5h-1.5zm9 0h1.5v1.5h-1.5zm1 0h1.5v1.5h-1.5zm29 0h1.5v1.5h-1.5zm17 0h1.5v1.5h-1.5zm6 0h1.5v1.5h-1.5zm5 0h1.5v1.5h-1.5zm-157 1h1.5v1.5h-1.5zm9 0h1.5v1.5h-1.5zm18 0h1.5v1.5h-1.5zm22 0h1.5v1.5h-1.5zm50 0h1.5v1.5h-1.5zm12 0h1.5v1.5h-1.5zm46 0h1.5v1.5h-1.5zm-135 1h1.5v1.5h-1.5zm8 0h1.5v1.5h-1.5zm1 0h1.5v1.5h-1.5zm1 0h1.5v1.5h-1.5zm34 0h1.5v1.5h-1.5zm3 0h1.5v1.5h-1.5zm10 0h1.5v1.5h-1.5zm2 0h1.5v1.5h-1.5zm3 0h1.5v1.5h-1.5zm5 0h1.5v1.5h-1.5zm6 0h1.5v1.5h-1.5zm24 0h1.5v1.5h-1.5zm-88 1h1.5v1.5h-1.5zm1 0h1.5v1.5h-1.5zm6 0h1.5v1.5h-1.5zm8 0h1.5v1.5h-1.5zm15 0h1.5v1.5h-1.5zm10 0h1.5v1.5h-1.5zm24 0h1.5v1.5h-1.5zm4 0h1.5v1.5h-1.5zm9 0h1.5v1.5h-1.5zm6 0h1.5v1.5h-1.5zm3 0h1.5v1.5h-1.5zm4 0h1.5v1.5h-1.5zm8 0h1.5v1.5h-1.5zm-85 1h1.5v1.5h-1.5zm22 0h1.5v1.5h-1.5zm6 0h1.5v1.5h-1.5zm4 0h1.5v1.5h-1.5zm0 0h1.5v1.5h-1.5zm19 0h1.5v1.5h-1.5zm2 0h1.5v1.5h-1.5zm0 0h1.5v1.5h-1.5zm4 0h1.5v1.5h-1.5zm22 0h1.5v1.5h-1.5zm5 0h1.5v1.5h-1.5zm5 0h1.5v1.5h-1.5zm27 0h1.5v1.5h-1.5zm-179 1h1.5v1.5h-1.5zm94 0h1.5v1.5h-1.5zm1 0h1.5v1.5h-1.5zm0 0h1.5v1.5h-1.5zm25 0h1.5v1.5h-1.5zm10 0h1.5v1.5h-1.5zm4 0h1.5v1.5h-1.5zm37 0h1.5v1.5h-1.5zm13 0h1.5v1.5h-1.5zm-166 1h1.5v1.5h-1.5zm51 0h1.5v1.5h-1.5zm14 0h1.5v1.5h-1.5zm7 0h1.5v1.5h-1.5zm6 0h1.5v1.5h-1.5zm1 0h1.5v1.5h-1.5zm0 0h1.5v1.5h-1.5zm3 0h1.5v1.5h-1.5zm1 0h1.5v1.5h-1.5zm3 0h1.5v1.5h-1.5zm3 0h1.5v1.5h-1.5zm1 0h1.5v1.5h-1.5zm1 0h1.5v1.5h-1.5zm15 0h1.5v1.5h-1.5zm1 0h1.5v1.5h-1.5zm36 0h1.5v1.5h-1.5zm-123 1h1.5v1.5h-1.5zm5 0h1.5v1.5h-1.5zm2 0h1.5v1.5h-1.5zm0 0h1.5v1.5h-1.5zm19 0h1.5v1.5h-1.5zm16 0h1.5v1.5h-1.5zm3 0h1.5v1.5h-1.5zm6 0h1.5v1.5h-1.5zm3 0h1.5v1.5h-1.5zm0 0h1.5v1.5h-1.5zm1 0h1.5v1.5h-1.5zm28 0h1.5v1.5h-1.5zm6 0h1.5v1.5h-1.5zm1 0h1.5v1.5h-1.5zm4 0h1.5v1.5h-1.5zm6 0h1.5v1.5h-1.5zm1 0h1.5v1.5h-1.5zm7 0h1.5v1.5h-1.5zm-112 1h1.5v1.5h-1.5zm5 0h1.5v1.5h-1.5zm18 0h1.5v1.5h-1.5zm14 0h1.5v1.5h-1.5zm17 0h1.5v1.5h-1.5zm0 0h1.5v1.5h-1.5zm5 0h1.5v1.5h-1.5zm3 0h1.5v1.5h-1.5zm6 0h1.5v1.5h-1.5zm9 0h1.5v1.5h-1.5zm6 0h1.5v1.5h-1.5zm2 0h1.5v1.5h-1.5zm2 0h1.5v1.5h-1.5zm16 0h1.5v1.5h-1.5zm1 0h1.5v1.5h-1.5zm18 0h1.5v1.5h-1.5zm22 0h1.5v1.5h-1.5zm-151 1h1.5v1.5h-1.5zm11 0h1.5v1.5h-1.5zm22 0h1.5v1.5h-1.5zm2 0h1.5v1.5h-1.5zm7 0h1.5v1.5h-1.5zm13 0h1.5v1.5h-1.5zm16 0h1.5v1.5h-1.5zm0 0h1.5v1.5h-1.5zm5 0h1.5v1.5h-1.5zm6 0h1.5v1.5h-1.5zm3 0h1.5v1.5h-1.5zm2 0h1.5v1.5h-1.5zm13 0h1.5v1.5h-1.5zm1 0h1.5v1.5h-1.5zm8 0h1.5v1.5h-1.5zm2 0h1.5v1.5h-1.5zm1 0h1.5v1.5h-1.5zm-148 1h1.5v1.5h-1.5zm16 0h1.5v1.5h-1.5zm43 0h1.5v1.5h-1.5zm8 0h1.5v1.5h-1.5zm5 0h1.5v1.5h-1.5zm5 0h1.5v1.5h-1.5zm0 0h1.5v1.5h-1.5zm15 0h1.5v1.5h-1.5zm1 0h1.5v1.5h-1.5zm1 0h1.5v1.5h-1.5zm16 0h1.5v1.5h-1.5zm10 0h1.5v1.5h-1.5zm40 0h1.5v1.5h-1.5zm5 0h1.5v1.5h-1.5zm11 0h1.5v1.5h-1.5zm-139 1h1.5v1.5h-1.5zm4 0h1.5v1.5h-1.5zm2 0h1.5v1.5h-1.5zm3 0h1.5v1.5h-1.5zm28 0h1.5v1.5h-1.5zm5 0h1.5v1.5h-1.5zm21 0h1.5v1.5h-1.5zm0 0h1.5v1.5h-1.5zm15 0h1.5v1.5h-1.5zm12 0h1.5v1.5h-1.5zm7 0h1.5v1.5h-1.5zm31 0h1.5v1.5h-1.5zm-127 1h1.5v1.5h-1.5zm9 0h1.5v1.5h-1.5zm21 0h1.5v1.5h-1.5zm12 0h1.5v1.5h-1.5zm4 0h1.5v1.5h-1.5zm11 0h1.5v1.5h-1.5zm3 0h1.5v1.5h-1.5zm1 0h1.5v1.5h-1.5zm2 0h1.5v1.5h-1.5zm4 0h1.5v1.5h-1.5zm12 0h1.5v1.5h-1.5zm4 0h1.5v1.5h-1.5zm6 0h1.5v1.5h-1.5zm20 0h1.5v1.5h-1.5zm1 0h1.5v1.5h-1.5zm8 0h1.5v1.5h-1.5zm7 0h1.5v1.5h-1.5zm15 0h1.5v1.5h-1.5zm-141 1h1.5v1.5h-1.5zm4 0h1.5v1.5h-1.5zm33 0h1.5v1.5h-1.5zm10 0h1.5v1.5h-1.5zm9 0h1.5v1.5h-1.5zm2 0h1.5v1.5h-1.5zm0 0h1.5v1.5h-1.5zm9 0h1.5v1.5h-1.5zm2 0h1.5v1.5h-1.5zm8 0h1.5v1.5h-1.5zm2 0h1.5v1.5h-1.5zm5 0h1.5v1.5h-1.5zm2 0h1.5v1.5h-1.5zm12 0h1.5v1.5h-1.5zm34 0h1.5v1.5h-1.5zm-122 1h1.5v1.5h-1.5zm23 0h1.5v1.5h-1.5zm0 0h1.5v1.5h-1.5zm4 0h1.5v1.5h-1.5zm13 0h1.5v1.5h-1.5zm5 0h1.5v1.5h-1.5zm3 0h1.5v1.5h-1.5zm12 0h1.5v1.5h-1.5zm2 0h1.5v1.5h-1.5zm5 0h1.5v1.5h-1.5zm11 0h1.5v1.5h-1.5zm1 0h1.5v1.5h-1.5zm4 0h1.5v1.5h-1.5zm3 0h1.5v1.5h-1.5zm6 0h1.5v1.5h-1.5zm17 0h1.5v1.5h-1.5zm-83 1h1.5v1.5h-1.5zm39 0h1.5v1.5h-1.5zm5 0h1.5v1.5h-1.5zm2 0h1.5v1.5h-1.5zm15 0h1.5v1.5h-1.5zm-53 1h1.5v1.5h-1.5zm6 0h1.5v1.5h-1.5zm7 0h1.5v1.5h-1.5zm0 0h1.5v1.5h-1.5zm18 0h1.5v1.5h-1.5zm7 0h1.5v1.5h-1.5zm2 0h1.5v1.5h-1.5zm4 0h1.5v1.5h-1.5z" fill="#ffffff"/><path d="M326 323h1.5v1.5h-1.5zm134 16h1.5v1.5h-1.5zm-78 5h1.5v1.5h-1.5zm26 9h1.5v1.5h-1.5zm141 1h1.5v1.5h-1.5zm-221 10h1.5v1.5h-1.5zm87 3h1.5v1.5h-1.5zm-31 3h1.5v1.5h-1.5zm200 2h1.5v1.5h-1.5zm-153 1h1.5v1.5h-1.5zm59 3h1.5v1.5h-1.5zm-184 2h1.5v1.5h-1.5zm285 0h1.5v1.5h-1.5zm6 6h1.5v1.5h-1.5zm-113 2h1.5v1.5h-1.5zm27 4h1.5v1.5h-1.5zm-52 1h1.5v1.5h-1.5zm64 0h1.5v1.5h-1.5zm-131 1h1.5v1.5h-1.5zm49 4h1.5v1.5h-1.5zm15 0h1.5v1.5h-1.5zm-85 1h1.5v1.5h-1.5zm11 0h1.5v1.5h-1.5zm39 0h1.5v1.5h-1.5zm21 0h1.5v1.5h-1.5zm5 0h1.5v1.5h-1.5zm28 0h1.5v1.5h-1.5zm86 0h1.5v1.5h-1.5zm11 0h1.5v1.5h-1.5zm30 0h1.5v1.5h-1.5zm5 0h1.5v1.5h-1.5zm-105 1h1.5v1.5h-1.5zm-119 1h1.5v1.5h-1.5zm53 0h1.5v1.5h-1.5zm39 0h1.5v1.5h-1.5zm1 0h1.5v1.5h-1.5zm129 0h1.5v1.5h-1.5zm4 0h1.5v1.5h-1.5zm2 0h1.5v1.5h-1.5zm-254 1h1.5v1.5h-1.5zm126 0h1.5v1.5h-1.5zm67 0h1.5v1.5h-1.5zm21 0h1.5v1.5h-1.5zm-196 1h1.5v1.5h-1.5zm70 0h1.5v1.5h-1.5zm85 0h1.5v1.5h-1.5zm33 0h1.5v1.5h-1.5zm24 0h1.5v1.5h-1.5zm-161 1h1.5v1.5h-1.5zm34 0h1.5v1.5h-1.5zm-96 1h1.5v1.5h-1.5zm76 0h1.5v1.5h-1.5zm26 0h1.5v1.5h-1.5zm21 0h1.5v1.5h-1.5zm32 0h1.5v1.5h-1.5zm-8 1h1.5v1.5h-1.5zm37 0h1.5v1.5h-1.5zm-211 1h1.5v1.5h-1.5zm118 1h1.5v1.5h-1.5zm26 0h1.5v1.5h-1.5zm38 0h1.5v1.5h-1.5zm105 0h1.5v1.5h-1.5zm-304 1h1.5v1.5h-1.5zm86 0h1.5v1.5h-1.5zm26 0h1.5v1.5h-1.5zm11 0h1.5v1.5h-1.5zm20 0h1.5v1.5h-1.5zm33 0h1.5v1.5h-1.5zm52 0h1.5v1.5h-1.5zm10 0h1.5v1.5h-1.5zm41 0h1.5v1.5h-1.5zm-186 1h1.5v1.5h-1.5zm58 0h1.5v1.5h-1.5zm36 0h1.5v1.5h-1.5zm24 0h1.5v1.5h-1.5zm-90 1h1.5v1.5h-1.5zm49 0h1.5v1.5h-1.5zm5 0h1.5v1.5h-1.5zm13 0h1.5v1.5h-1.5zm57 0h1.5v1.5h-1.5zm40 0h1.5v1.5h-1.5zm-165 1h1.5v1.5h-1.5zm5 0h1.5v1.5h-1.5zm41 0h1.5v1.5h-1.5zm81 0h1.5v1.5h-1.5zm13 0h1.5v1.5h-1.5zm-186 1h1.5v1.5h-1.5zm42 0h1.5v1.5h-1.5zm4 0h1.5v1.5h-1.5zm74 0h1.5v1.5h-1.5zm18 0h1.5v1.5h-1.5zm20 0h1.5v1.5h-1.5zm59 0h1.5v1.5h-1.5zm22 0h1.5v1.5h-1.5zm-203 1h1.5v1.5h-1.5zm66 0h1.5v1.5h-1.5zm16 0h1.5v1.5h-1.5zm-25 1h1.5v1.5h-1.5zm27 0h1.5v1.5h-1.5zm13 0h1.5v1.5h-1.5zm17 0h1.5v1.5h-1.5zm1 0h1.5v1.5h-1.5zm-159 1h1.5v1.5h-1.5zm23 0h1.5v1.5h-1.5zm27 0h1.5v1.5h-1.5zm35 0h1.5v1.5h-1.5zm6 0h1.5v1.5h-1.5zm1 0h1.5v1.5h-1.5zm10 1h1.5v1.5h-1.5zm21 0h1.5v1.5h-1.5zm25 0h1.5v1.5h-1.5zm-107 1h1.5v1.5h-1.5zm63 0h1.5v1.5h-1.5zm9 0h1.5v1.5h-1.5zm4 0h1.5v1.5h-1.5zm15 0h1.5v1.5h-1.5zm-62 1h1.5v1.5h-1.5zm16 0h1.5v1.5h-1.5zm4 0h1.5v1.5h-1.5zm9 0h1.5v1.5h-1.5zm5 0h1.5v1.5h-1.5zm5 0h1.5v1.5h-1.5zm31 0h1.5v1.5h-1.5zm-100 1h1.5v1.5h-1.5zm21 0h1.5v1.5h-1.5zm6 0h1.5v1.5h-1.5zm4 0h1.5v1.5h-1.5zm28 0h1.5v1.5h-1.5zm11 0h1.5v1.5h-1.5zm1 0h1.5v1.5h-1.5zm15 0h1.5v1.5h-1.5zm11 0h1.5v1.5h-1.5zm0 0h1.5v1.5h-1.5zm15 0h1.5v1.5h-1.5zm-82 1h1.5v1.5h-1.5zm10 0h1.5v1.5h-1.5zm23 0h1.5v1.5h-1.5zm8 0h1.5v1.5h-1.5zm7 0h1.5v1.5h-1.5zm4 0h1.5v1.5h-1.5zm2 0h1.5v1.5h-1.5zm11 0h1.5v1.5h-1.5zm21 1h1.5v1.5h-1.5zm-129 1h1.5v1.5h-1.5zm39 0h1.5v1.5h-1.5zm24 0h1.5v1.5h-1.5zm5 0h1.5v1.5h-1.5zm2 0h1.5v1.5h-1.5zm4 0h1.5v1.5h-1.5zm19 0h1.5v1.5h-1.5zm25 0h1.5v1.5h-1.5zm-67 1h1.5v1.5h-1.5zm6 0h1.5v1.5h-1.5zm14 0h1.5v1.5h-1.5zm9 0h1.5v1.5h-1.5zm67 0h1.5v1.5h-1.5zm-106 1h1.5v1.5h-1.5zm16 0h1.5v1.5h-1.5zm23 0h1.5v1.5h-1.5zm34 0h1.5v1.5h-1.5zm9 0h1.5v1.5h-1.5zm38 0h1.5v1.5h-1.5zm-91 1h1.5v1.5h-1.5zm1 0h1.5v1.5h-1.5zm5 0h1.5v1.5h-1.5zm1 0h1.5v1.5h-1.5zm-25 1h1.5v1.5h-1.5zm36 0h1.5v1.5h-1.5zm14 0h1.5v1.5h-1.5zm37 0h1.5v1.5h-1.5zm47 0h1.5v1.5h-1.5zm-148 1h1.5v1.5h-1.5zm14 0h1.5v1.5h-1.5zm0 0h1.5v1.5h-1.5zm24 0h1.5v1.5h-1.5zm2 0h1.5v1.5h-1.5zm9 0h1.5v1.5h-1.5zm24 0h1.5v1.5h-1.5zm3 0h1.5v1.5h-1.5zm-130 1h1.5v1.5h-1.5zm3 0h1.5v1.5h-1.5zm2 0h1.5v1.5h-1.5zm33 0h1.5v1.5h-1.5zm24 0h1.5v1.5h-1.5zm18 0h1.5v1.5h-1.5zm0 0h1.5v1.5h-1.5zm3 0h1.5v1.5h-1.5zm8 0h1.5v1.5h-1.5zm7 0h1.5v1.5h-1.5zm32 0h1.5v1.5h-1.5zm-91 1h1.5v1.5h-1.5zm8 0h1.5v1.5h-1.5zm2 0h1.5v1.5h-1.5zm36 0h1.5v1.5h-1.5zm13 0h1.5v1.5h-1.5zm3 0h1.5v1.5h-1.5zm7 0h1.5v1.5h-1.5zm23 0h1.5v1.5h-1.5zm10 0h1.5v1.5h-1.5zm4 0h1.5v1.5h-1.5zm-73 1h1.5v1.5h-1.5zm8 0h1.5v1.5h-1.5zm28 0h1.5v1.5h-1.5zm9 0h1.5v1.5h-1.5zm6 0h1.5v1.5h-1.5zm13 0h1.5v1.5h-1.5zm19 0h1.5v1.5h-1.5zm25 0h1.5v1.5h-1.5zm-84 1h1.5v1.5h-1.5zm7 0h1.5v1.5h-1.5zm-46 1h1.5v1.5h-1.5zm3 0h1.5v1.5h-1.5zm32 0h1.5v1.5h-1.5zm44 0h1.5v1.5h-1.5zm-106 1h1.5v1.5h-1.5zm33 0h1.5v1.5h-1.5zm9 0h1.5v1.5h-1.5zm0 0h1.5v1.5h-1.5zm15 0h1.5v1.5h-1.5zm4 0h1.5v1.5h-1.5zm3 0h1.5v1.5h-1.5zm4 0h1.5v1.5h-1.5zm9 0h1.5v1.5h-1.5zm1 0h1.5v1.5h-1.5zm5 0h1.5v1.5h-1.5zm4 0h1.5v1.5h-1.5zm7 0h1.5v1.5h-1.5zm8 0h1.5v1.5h-1.5zm-82 1h1.5v1.5h-1.5zm7 0h1.5v1.5h-1.5zm7 0h1.5v1.5h-1.5zm3 0h1.5v1.5h-1.5zm9 0h1.5v1.5h-1.5zm1 0h1.5v1.5h-1.5zm25 0h1.5v1.5h-1.5zm0 0h1.5v1.5h-1.5zm6 0h1.5v1.5h-1.5zm20 0h1.5v1.5h-1.5zm-70 1h1.5v1.5h-1.5zm17 0h1.5v1.5h-1.5zm30 0h1.5v1.5h-1.5zm5 0h1.5v1.5h-1.5z" fill="#4a7fbf"/><path d="M440 318h1.5v1.5h-1.5zm204 13h1.5v1.5h-1.5zm-208 10h1.5v1.5h-1.5zm21 8h1.5v1.5h-1.5zm-56 1h1.5v1.5h-1.5zm67 10h1.5v1.5h-1.5zm-48 8h1.5v1.5h-1.5zm48 6h1.5v1.5h-1.5zm29 1h1.5v1.5h-1.5zm201 2h1.5v1.5h-1.5zm-303 4h1.5v1.5h-1.5zm65 1h1.5v1.5h-1.5zm-30 3h1.5v1.5h-1.5zm70 4h1.5v1.5h-1.5zm7 0h1.5v1.5h-1.5zm38 0h1.5v1.5h-1.5zm-173 2h1.5v1.5h-1.5zm193 3h1.5v1.5h-1.5zm-154 1h1.5v1.5h-1.5zm9 0h1.5v1.5h-1.5zm15 0h1.5v1.5h-1.5zm78 1h1.5v1.5h-1.5zm-59 1h1.5v1.5h-1.5zm26 0h1.5v1.5h-1.5zm26 0h1.5v1.5h-1.5zm58 0h1.5v1.5h-1.5zm-188 1h1.5v1.5h-1.5zm75 0h1.5v1.5h-1.5zm46 0h1.5v1.5h-1.5zm2 0h1.5v1.5h-1.5zm-138 1h1.5v1.5h-1.5zm42 0h1.5v1.5h-1.5zm143 0h1.5v1.5h-1.5zm-161 1h1.5v1.5h-1.5zm23 1h1.5v1.5h-1.5zm45 0h1.5v1.5h-1.5zm63 0h1.5v1.5h-1.5zm18 0h1.5v1.5h-1.5zm50 0h1.5v1.5h-1.5zm-85 1h1.5v1.5h-1.5zm17 0h1.5v1.5h-1.5zm19 0h1.5v1.5h-1.5zm4 0h1.5v1.5h-1.5zm8 0h1.5v1.5h-1.5zm24 0h1.5v1.5h-1.5zm-130 1h1.5v1.5h-1.5zm33 0h1.5v1.5h-1.5zm5 0h1.5v1.5h-1.5zm28 0h1.5v1.5h-1.5zm-96 1h1.5v1.5h-1.5zm58 0h1.5v1.5h-1.5zm5 0h1.5v1.5h-1.5zm37 0h1.5v1.5h-1.5zm1 0h1.5v1.5h-1.5zm23 0h1.5v1.5h-1.5zm0 0h1.5v1.5h-1.5zm87 0h1.5v1.5h-1.5zm-154 1h1.5v1.5h-1.5zm19 0h1.5v1.5h-1.5zm-93 1h1.5v1.5h-1.5zm41 0h1.5v1.5h-1.5zm39 0h1.5v1.5h-1.5zm9 0h1.5v1.5h-1.5zm66 0h1.5v1.5h-1.5zm36 0h1.5v1.5h-1.5zm-138 1h1.5v1.5h-1.5zm54 0h1.5v1.5h-1.5zm3 0h1.5v1.5h-1.5zm33 0h1.5v1.5h-1.5zm-71 1h1.5v1.5h-1.5zm77 0h1.5v1.5h-1.5zm-76 1h1.5v1.5h-1.5zm53 0h1.5v1.5h-1.5zm14 0h1.5v1.5h-1.5zm29 0h1.5v1.5h-1.5zm-127 1h1.5v1.5h-1.5zm29 0h1.5v1.5h-1.5zm18 0h1.5v1.5h-1.5zm37 1h1.5v1.5h-1.5zm45 0h1.5v1.5h-1.5zm-60 1h1.5v1.5h-1.5zm5 0h1.5v1.5h-1.5zm3 0h1.5v1.5h-1.5zm-48 1h1.5v1.5h-1.5zm6 0h1.5v1.5h-1.5zm7 0h1.5v1.5h-1.5zm26 0h1.5v1.5h-1.5zm12 0h1.5v1.5h-1.5zm20 0h1.5v1.5h-1.5zm-13 1h1.5v1.5h-1.5zm-99 1h1.5v1.5h-1.5zm4 0h1.5v1.5h-1.5zm18 0h1.5v1.5h-1.5zm13 0h1.5v1.5h-1.5zm25 0h1.5v1.5h-1.5zm85 0h1.5v1.5h-1.5zm-118 1h1.5v1.5h-1.5zm29 0h1.5v1.5h-1.5zm38 0h1.5v1.5h-1.5zm6 0h1.5v1.5h-1.5zm4 0h1.5v1.5h-1.5zm21 0h1.5v1.5h-1.5zm16 0h1.5v1.5h-1.5zm-73 1h1.5v1.5h-1.5zm18 0h1.5v1.5h-1.5zm-125 1h1.5v1.5h-1.5zm34 0h1.5v1.5h-1.5zm13 0h1.5v1.5h-1.5zm32 0h1.5v1.5h-1.5zm14 0h1.5v1.5h-1.5zm8 0h1.5v1.5h-1.5zm16 0h1.5v1.5h-1.5zm-17 1h1.5v1.5h-1.5zm31 0h1.5v1.5h-1.5zm7 0h1.5v1.5h-1.5zm-120 1h1.5v1.5h-1.5zm13 0h1.5v1.5h-1.5zm110 0h1.5v1.5h-1.5zm60 0h1.5v1.5h-1.5zm-165 1h1.5v1.5h-1.5zm16 0h1.5v1.5h-1.5zm32 0h1.5v1.5h-1.5zm16 0h1.5v1.5h-1.5zm15 0h1.5v1.5h-1.5zm45 0h1.5v1.5h-1.5zm-142 1h1.5v1.5h-1.5zm6 0h1.5v1.5h-1.5zm83 0h1.5v1.5h-1.5zm30 0h1.5v1.5h-1.5zm10 0h1.5v1.5h-1.5zm-99 1h1.5v1.5h-1.5zm27 0h1.5v1.5h-1.5zm-64 1h1.5v1.5h-1.5zm50 0h1.5v1.5h-1.5zm3 0h1.5v1.5h-1.5zm18 0h1.5v1.5h-1.5zm12 0h1.5v1.5h-1.5zm5 0h1.5v1.5h-1.5zm0 0h1.5v1.5h-1.5zm4 0h1.5v1.5h-1.5zm40 0h1.5v1.5h-1.5zm-53 1h1.5v1.5h-1.5zm25 0h1.5v1.5h-1.5zm10 0h1.5v1.5h-1.5zm4 0h1.5v1.5h-1.5zm32 0h1.5v1.5h-1.5zm38 0h1.5v1.5h-1.5zm-140 1h1.5v1.5h-1.5zm42 0h1.5v1.5h-1.5zm12 0h1.5v1.5h-1.5zm21 0h1.5v1.5h-1.5zm2 0h1.5v1.5h-1.5zm26 0h1.5v1.5h-1.5zm-124 1h1.5v1.5h-1.5zm43 0h1.5v1.5h-1.5zm16 0h1.5v1.5h-1.5zm-32 1h1.5v1.5h-1.5zm12 0h1.5v1.5h-1.5zm8 0h1.5v1.5h-1.5zm15 0h1.5v1.5h-1.5zm27 0h1.5v1.5h-1.5zm20 0h1.5v1.5h-1.5zm-108 1h1.5v1.5h-1.5zm6 0h1.5v1.5h-1.5zm5 0h1.5v1.5h-1.5zm13 0h1.5v1.5h-1.5zm12 0h1.5v1.5h-1.5zm27 0h1.5v1.5h-1.5zm8 0h1.5v1.5h-1.5zm0 0h1.5v1.5h-1.5zm29 0h1.5v1.5h-1.5zm-72 1h1.5v1.5h-1.5zm4 0h1.5v1.5h-1.5zm9 0h1.5v1.5h-1.5zm10 0h1.5v1.5h-1.5zm23 0h1.5v1.5h-1.5zm2 0h1.5v1.5h-1.5zm0 0h1.5v1.5h-1.5zm9 0h1.5v1.5h-1.5zm1 0h1.5v1.5h-1.5zm58 0h1.5v1.5h-1.5zm-152 1h1.5v1.5h-1.5zm3 0h1.5v1.5h-1.5zm34 0h1.5v1.5h-1.5zm19 0h1.5v1.5h-1.5zm10 0h1.5v1.5h-1.5zm1 0h1.5v1.5h-1.5zm1 0h1.5v1.5h-1.5zm14 0h1.5v1.5h-1.5zm21 0h1.5v1.5h-1.5zm20 0h1.5v1.5h-1.5zm-122 1h1.5v1.5h-1.5zm4 0h1.5v1.5h-1.5zm38 0h1.5v1.5h-1.5zm11 0h1.5v1.5h-1.5zm18 0h1.5v1.5h-1.5zm1 0h1.5v1.5h-1.5zm24 0h1.5v1.5h-1.5zm2 0h1.5v1.5h-1.5zm-71 1h1.5v1.5h-1.5zm9 0h1.5v1.5h-1.5zm9 0h1.5v1.5h-1.5zm0 0h1.5v1.5h-1.5zm3 0h1.5v1.5h-1.5zm13 0h1.5v1.5h-1.5zm12 0h1.5v1.5h-1.5zm1 0h1.5v1.5h-1.5zm-41 1h1.5v1.5h-1.5zm34 0h1.5v1.5h-1.5z" fill="#8a1a2e"/><path d="M403 313h1.5v1.5h-1.5zm0 39h1.5v1.5h-1.5zm91 3h1.5v1.5h-1.5zm1 5h1.5v1.5h-1.5zm-44 10h1.5v1.5h-1.5zm-59 7h1.5v1.5h-1.5zm62 2h1.5v1.5h-1.5zm-40 1h1.5v1.5h-1.5zm194 4h1.5v1.5h-1.5zm-152 3h1.5v1.5h-1.5zm-1 9h1.5v1.5h-1.5zm161 0h1.5v1.5h-1.5zm-227 1h1.5v1.5h-1.5zm195 0h1.5v1.5h-1.5zm3 2h1.5v1.5h-1.5zm-160 1h1.5v1.5h-1.5zm19 0h1.5v1.5h-1.5zm101 0h1.5v1.5h-1.5zm24 0h1.5v1.5h-1.5zm-175 1h1.5v1.5h-1.5zm16 0h1.5v1.5h-1.5zm70 0h1.5v1.5h-1.5zm35 0h1.5v1.5h-1.5zm-195 1h1.5v1.5h-1.5zm102 0h1.5v1.5h-1.5zm31 0h1.5v1.5h-1.5zm7 0h1.5v1.5h-1.5zm71 0h1.5v1.5h-1.5zm47 0h1.5v1.5h-1.5zm-164 1h1.5v1.5h-1.5zm54 0h1.5v1.5h-1.5zm29 0h1.5v1.5h-1.5zm82 0h1.5v1.5h-1.5zm-219 1h1.5v1.5h-1.5zm113 0h1.5v1.5h-1.5zm-98 1h1.5v1.5h-1.5zm85 0h1.5v1.5h-1.5zm12 0h1.5v1.5h-1.5zm10 0h1.5v1.5h-1.5zm53 1h1.5v1.5h-1.5zm-62 1h1.5v1.5h-1.5zm52 0h1.5v1.5h-1.5zm-123 1h1.5v1.5h-1.5zm7 0h1.5v1.5h-1.5zm23 0h1.5v1.5h-1.5zm10 0h1.5v1.5h-1.5zm71 0h1.5v1.5h-1.5zm-183 1h1.5v1.5h-1.5zm68 0h1.5v1.5h-1.5zm19 0h1.5v1.5h-1.5zm54 0h1.5v1.5h-1.5zm9 0h1.5v1.5h-1.5zm19 0h1.5v1.5h-1.5zm-35 1h1.5v1.5h-1.5zm12 0h1.5v1.5h-1.5zm-51 1h1.5v1.5h-1.5zm41 0h1.5v1.5h-1.5zm125 0h1.5v1.5h-1.5zm-204 1h1.5v1.5h-1.5zm116 0h1.5v1.5h-1.5zm18 0h1.5v1.5h-1.5zm142 0h1.5v1.5h-1.5zm-195 1h1.5v1.5h-1.5zm11 0h1.5v1.5h-1.5zm56 0h1.5v1.5h-1.5zm4 0h1.5v1.5h-1.5zm-42 1h1.5v1.5h-1.5zm-102 1h1.5v1.5h-1.5zm19 0h1.5v1.5h-1.5zm10 0h1.5v1.5h-1.5zm27 0h1.5v1.5h-1.5zm21 0h1.5v1.5h-1.5zm6 0h1.5v1.5h-1.5zm37 0h1.5v1.5h-1.5zm-119 1h1.5v1.5h-1.5zm35 0h1.5v1.5h-1.5zm41 0h1.5v1.5h-1.5zm6 0h1.5v1.5h-1.5zm5 0h1.5v1.5h-1.5zm34 0h1.5v1.5h-1.5zm44 0h1.5v1.5h-1.5zm-95 1h1.5v1.5h-1.5zm31 0h1.5v1.5h-1.5zm70 0h1.5v1.5h-1.5zm17 0h1.5v1.5h-1.5zm-166 1h1.5v1.5h-1.5zm30 0h1.5v1.5h-1.5zm5 0h1.5v1.5h-1.5zm40 0h1.5v1.5h-1.5zm100 0h1.5v1.5h-1.5zm52 0h1.5v1.5h-1.5zm-226 1h1.5v1.5h-1.5zm56 0h1.5v1.5h-1.5zm24 0h1.5v1.5h-1.5zm30 0h1.5v1.5h-1.5zm-107 1h1.5v1.5h-1.5zm12 0h1.5v1.5h-1.5zm20 0h1.5v1.5h-1.5zm8 0h1.5v1.5h-1.5zm11 0h1.5v1.5h-1.5zm13 0h1.5v1.5h-1.5zm11 0h1.5v1.5h-1.5zm-40 1h1.5v1.5h-1.5zm31 0h1.5v1.5h-1.5zm-48 1h1.5v1.5h-1.5zm3 0h1.5v1.5h-1.5zm13 0h1.5v1.5h-1.5zm67 0h1.5v1.5h-1.5zm-5 1h1.5v1.5h-1.5zm-59 1h1.5v1.5h-1.5zm2 0h1.5v1.5h-1.5zm0 0h1.5v1.5h-1.5zm40 0h1.5v1.5h-1.5zm38 0h1.5v1.5h-1.5zm9 0h1.5v1.5h-1.5zm-63 1h1.5v1.5h-1.5zm1 0h1.5v1.5h-1.5zm30 1h1.5v1.5h-1.5zm14 0h1.5v1.5h-1.5zm-106 1h1.5v1.5h-1.5zm35 0h1.5v1.5h-1.5zm12 0h1.5v1.5h-1.5zm5 0h1.5v1.5h-1.5zm23 0h1.5v1.5h-1.5zm-58 1h1.5v1.5h-1.5zm0 0h1.5v1.5h-1.5zm21 0h1.5v1.5h-1.5zm4 0h1.5v1.5h-1.5zm23 0h1.5v1.5h-1.5zm2 0h1.5v1.5h-1.5zm20 0h1.5v1.5h-1.5zm49 0h1.5v1.5h-1.5zm-110 1h1.5v1.5h-1.5zm4 0h1.5v1.5h-1.5zm8 0h1.5v1.5h-1.5zm-12 1h1.5v1.5h-1.5zm43 0h1.5v1.5h-1.5zm7 0h1.5v1.5h-1.5zm3 0h1.5v1.5h-1.5zm21 0h1.5v1.5h-1.5zm10 0h1.5v1.5h-1.5zm-82 1h1.5v1.5h-1.5zm19 0h1.5v1.5h-1.5zm2 0h1.5v1.5h-1.5zm1 0h1.5v1.5h-1.5zm2 0h1.5v1.5h-1.5zm21 0h1.5v1.5h-1.5zm3 0h1.5v1.5h-1.5zm1 0h1.5v1.5h-1.5zm13 0h1.5v1.5h-1.5zm-51 1h1.5v1.5h-1.5zm2 0h1.5v1.5h-1.5zm1 0h1.5v1.5h-1.5zm22 0h1.5v1.5h-1.5zm5 0h1.5v1.5h-1.5zm-57 1h1.5v1.5h-1.5zm56 0h1.5v1.5h-1.5zm36 0h1.5v1.5h-1.5zm-53 1h1.5v1.5h-1.5zm23 0h1.5v1.5h-1.5z" fill="#f2c0b0"/><path d="M453 3h1.5v1.5h-1.5zm5 0h1.5v1.5h-1.5zm4 0h1.5v1.5h-1.5zm14 0h1.5v1.5h-1.5zm5 0h1.5v1.5h-1.5zm7 0h1.5v1.5h-1.5zm8 0h1.5v1.5h-1.5zm0 0h1.5v1.5h-1.5zm3 0h1.5v1.5h-1.5zm-43 1h1.5v1.5h-1.5zm10 0h1.5v1.5h-1.5zm6 0h1.5v1.5h-1.5zm20 0h1.5v1.5h-1.5zm2 0h1.5v1.5h-1.5zm10 0h1.5v1.5h-1.5zm0 0h1.5v1.5h-1.5zm7 0h1.5v1.5h-1.5zm1 0h1.5v1.5h-1.5zm9 0h1.5v1.5h-1.5zm-72 1h1.5v1.5h-1.5zm0 0h1.5v1.5h-1.5zm2 0h1.5v1.5h-1.5zm10 0h1.5v1.5h-1.5zm10 0h1.5v1.5h-1.5zm12 0h1.5v1.5h-1.5zm5 0h1.5v1.5h-1.5zm10 0h1.5v1.5h-1.5zm1 0h1.5v1.5h-1.5zm41 0h1.5v1.5h-1.5zm-129 1h1.5v1.5h-1.5zm56 0h1.5v1.5h-1.5zm7 0h1.5v1.5h-1.5zm1 0h1.5v1.5h-1.5zm6 0h1.5v1.5h-1.5zm9 0h1.5v1.5h-1.5zm13 0h1.5v1.5h-1.5zm17 0h1.5v1.5h-1.5zm2 0h1.5v1.5h-1.5zm-93 1h1.5v1.5h-1.5zm29 0h1.5v1.5h-1.5zm11 0h1.5v1.5h-1.5zm18 0h1.5v1.5h-1.5zm1 0h1.5v1.5h-1.5zm17 0h1.5v1.5h-1.5zm3 0h1.5v1.5h-1.5zm42 0h1.5v1.5h-1.5zm-131 1h1.5v1.5h-1.5zm2 0h1.5v1.5h-1.5zm22 0h1.5v1.5h-1.5zm7 0h1.5v1.5h-1.5zm1 0h1.5v1.5h-1.5zm4 0h1.5v1.5h-1.5zm4 0h1.5v1.5h-1.5zm6 0h1.5v1.5h-1.5zm2 0h1.5v1.5h-1.5zm9 0h1.5v1.5h-1.5zm18 0h1.5v1.5h-1.5zm45 0h1.5v1.5h-1.5zm-146 1h1.5v1.5h-1.5zm29 0h1.5v1.5h-1.5zm23 0h1.5v1.5h-1.5zm13 0h1.5v1.5h-1.5zm5 0h1.5v1.5h-1.5zm3 0h1.5v1.5h-1.5zm44 0h1.5v1.5h-1.5zm0 0h1.5v1.5h-1.5zm1 0h1.5v1.5h-1.5zm46 0h1.5v1.5h-1.5zm10 0h1.5v1.5h-1.5zm-172 1h1.5v1.5h-1.5zm37 0h1.5v1.5h-1.5zm14 0h1.5v1.5h-1.5zm25 0h1.5v1.5h-1.5zm4 0h1.5v1.5h-1.5zm6 0h1.5v1.5h-1.5zm17 0h1.5v1.5h-1.5zm6 0h1.5v1.5h-1.5zm2 0h1.5v1.5h-1.5zm7 0h1.5v1.5h-1.5zm18 0h1.5v1.5h-1.5zm18 0h1.5v1.5h-1.5zm-143 1h1.5v1.5h-1.5zm48 0h1.5v1.5h-1.5zm13 0h1.5v1.5h-1.5zm3 0h1.5v1.5h-1.5zm2 0h1.5v1.5h-1.5zm10 0h1.5v1.5h-1.5zm2 0h1.5v1.5h-1.5zm18 0h1.5v1.5h-1.5zm9 0h1.5v1.5h-1.5zm44 0h1.5v1.5h-1.5zm20 0h1.5v1.5h-1.5zm18 0h1.5v1.5h-1.5zm-191 1h1.5v1.5h-1.5zm29 0h1.5v1.5h-1.5zm44 0h1.5v1.5h-1.5zm9 0h1.5v1.5h-1.5zm5 0h1.5v1.5h-1.5zm14 0h1.5v1.5h-1.5zm8 0h1.5v1.5h-1.5zm12 0h1.5v1.5h-1.5zm18 0h1.5v1.5h-1.5zm9 0h1.5v1.5h-1.5zm-98 1h1.5v1.5h-1.5zm5 0h1.5v1.5h-1.5zm26 0h1.5v1.5h-1.5zm8 0h1.5v1.5h-1.5zm12 0h1.5v1.5h-1.5zm14 0h1.5v1.5h-1.5zm6 0h1.5v1.5h-1.5zm17 0h1.5v1.5h-1.5zm16 0h1.5v1.5h-1.5zm-155 1h1.5v1.5h-1.5zm13 0h1.5v1.5h-1.5zm30 0h1.5v1.5h-1.5zm9 0h1.5v1.5h-1.5zm1 0h1.5v1.5h-1.5zm15 0h1.5v1.5h-1.5zm7 0h1.5v1.5h-1.5zm15 0h1.5v1.5h-1.5zm13 0h1.5v1.5h-1.5zm67 0h1.5v1.5h-1.5zm15 0h1.5v1.5h-1.5zm-210 1h1.5v1.5h-1.5zm48 0h1.5v1.5h-1.5zm17 0h1.5v1.5h-1.5zm43 0h1.5v1.5h-1.5zm4 0h1.5v1.5h-1.5zm6 0h1.5v1.5h-1.5zm22 0h1.5v1.5h-1.5zm-82 1h1.5v1.5h-1.5zm25 0h1.5v1.5h-1.5zm26 0h1.5v1.5h-1.5zm1 0h1.5v1.5h-1.5zm9 0h1.5v1.5h-1.5zm16 0h1.5v1.5h-1.5zm15 0h1.5v1.5h-1.5zm19 0h1.5v1.5h-1.5zm-118 1h1.5v1.5h-1.5zm25 0h1.5v1.5h-1.5zm1 0h1.5v1.5h-1.5zm9 0h1.5v1.5h-1.5zm1 0h1.5v1.5h-1.5zm29 0h1.5v1.5h-1.5zm48 0h1.5v1.5h-1.5zm-159 1h1.5v1.5h-1.5zm61 0h1.5v1.5h-1.5zm7 0h1.5v1.5h-1.5zm8 0h1.5v1.5h-1.5zm2 0h1.5v1.5h-1.5zm20 0h1.5v1.5h-1.5zm25 0h1.5v1.5h-1.5zm60 0h1.5v1.5h-1.5zm-124 1h1.5v1.5h-1.5zm16 0h1.5v1.5h-1.5zm6 0h1.5v1.5h-1.5zm20 0h1.5v1.5h-1.5zm4 0h1.5v1.5h-1.5zm22 0h1.5v1.5h-1.5zm3 0h1.5v1.5h-1.5zm38 0h1.5v1.5h-1.5zm14 0h1.5v1.5h-1.5zm-169 1h1.5v1.5h-1.5zm14 0h1.5v1.5h-1.5zm19 0h1.5v1.5h-1.5zm31 0h1.5v1.5h-1.5zm14 0h1.5v1.5h-1.5zm61 0h1.5v1.5h-1.5zm1 0h1.5v1.5h-1.5zm23 0h1.5v1.5h-1.5zm39 0h1.5v1.5h-1.5zm-147 1h1.5v1.5h-1.5zm22 0h1.5v1.5h-1.5zm12 0h1.5v1.5h-1.5zm59 0h1.5v1.5h-1.5zm-114 1h1.5v1.5h-1.5zm67 0h1.5v1.5h-1.5zm3 0h1.5v1.5h-1.5zm55 0h1.5v1.5h-1.5zm-131 1h1.5v1.5h-1.5zm33 0h1.5v1.5h-1.5zm4 0h1.5v1.5h-1.5zm28 0h1.5v1.5h-1.5zm26 0h1.5v1.5h-1.5zm13 0h1.5v1.5h-1.5zm24 0h1.5v1.5h-1.5zm41 0h1.5v1.5h-1.5zm-189 1h1.5v1.5h-1.5zm53 0h1.5v1.5h-1.5zm45 0h1.5v1.5h-1.5zm7 0h1.5v1.5h-1.5zm1 0h1.5v1.5h-1.5zm1 0h1.5v1.5h-1.5zm0 0h1.5v1.5h-1.5zm8 0h1.5v1.5h-1.5zm4 0h1.5v1.5h-1.5zm15 0h1.5v1.5h-1.5zm-187 1h1.5v1.5h-1.5zm33 0h1.5v1.5h-1.5zm57 0h1.5v1.5h-1.5zm15 0h1.5v1.5h-1.5zm55 0h1.5v1.5h-1.5zm5 0h1.5v1.5h-1.5zm47 0h1.5v1.5h-1.5zm-179 1h1.5v1.5h-1.5zm43 0h1.5v1.5h-1.5zm9 0h1.5v1.5h-1.5zm15 0h1.5v1.5h-1.5zm2 0h1.5v1.5h-1.5zm13 0h1.5v1.5h-1.5zm7 0h1.5v1.5h-1.5zm12 0h1.5v1.5h-1.5zm33 0h1.5v1.5h-1.5zm7 0h1.5v1.5h-1.5zm17 0h1.5v1.5h-1.5zm-145 1h1.5v1.5h-1.5zm4 0h1.5v1.5h-1.5zm50 0h1.5v1.5h-1.5zm11 0h1.5v1.5h-1.5zm44 0h1.5v1.5h-1.5zm25 0h1.5v1.5h-1.5zm13 0h1.5v1.5h-1.5zm28 0h1.5v1.5h-1.5zm-185 1h1.5v1.5h-1.5zm8 0h1.5v1.5h-1.5zm26 0h1.5v1.5h-1.5zm5 0h1.5v1.5h-1.5zm32 0h1.5v1.5h-1.5zm22 0h1.5v1.5h-1.5zm34 0h1.5v1.5h-1.5zm0 0h1.5v1.5h-1.5zm64 0h1.5v1.5h-1.5zm-168 1h1.5v1.5h-1.5zm72 0h1.5v1.5h-1.5zm1 0h1.5v1.5h-1.5zm22 0h1.5v1.5h-1.5zm3 0h1.5v1.5h-1.5zm99 0h1.5v1.5h-1.5zm-216 1h1.5v1.5h-1.5zm18 0h1.5v1.5h-1.5zm95 0h1.5v1.5h-1.5zm45 0h1.5v1.5h-1.5zm18 0h1.5v1.5h-1.5zm-123 1h1.5v1.5h-1.5zm55 0h1.5v1.5h-1.5zm8 0h1.5v1.5h-1.5zm4 0h1.5v1.5h-1.5zm-68 1h1.5v1.5h-1.5zm54 0h1.5v1.5h-1.5zm44 0h1.5v1.5h-1.5zm-194 1h1.5v1.5h-1.5zm96 0h1.5v1.5h-1.5zm16 0h1.5v1.5h-1.5zm6 0h1.5v1.5h-1.5zm54 0h1.5v1.5h-1.5zm37 0h1.5v1.5h-1.5zm39 0h1.5v1.5h-1.5zm-204 1h1.5v1.5h-1.5zm25 0h1.5v1.5h-1.5zm42 0h1.5v1.5h-1.5zm14 0h1.5v1.5h-1.5zm9 0h1.5v1.5h-1.5zm63 0h1.5v1.5h-1.5zm-99 1h1.5v1.5h-1.5zm5 0h1.5v1.5h-1.5zm15 0h1.5v1.5h-1.5zm2 0h1.5v1.5h-1.5zm20 0h1.5v1.5h-1.5zm6 0h1.5v1.5h-1.5zm21 0h1.5v1.5h-1.5zm8 0h1.5v1.5h-1.5zm32 0h1.5v1.5h-1.5zm75 0h1.5v1.5h-1.5zm-195 1h1.5v1.5h-1.5zm48 0h1.5v1.5h-1.5zm2 0h1.5v1.5h-1.5zm32 0h1.5v1.5h-1.5zm25 0h1.5v1.5h-1.5zm5 0h1.5v1.5h-1.5zm18 0h1.5v1.5h-1.5zm-188 1h1.5v1.5h-1.5zm36 0h1.5v1.5h-1.5zm7 0h1.5v1.5h-1.5zm27 0h1.5v1.5h-1.5zm-83 1h1.5v1.5h-1.5zm196 0h1.5v1.5h-1.5zm-160 1h1.5v1.5h-1.5zm55 0h1.5v1.5h-1.5zm101 4h1.5v1.5h-1.5zm-7 2h1.5v1.5h-1.5zm-225 2h1.5v1.5h-1.5zm140 0h1.5v1.5h-1.5zm46 0h1.5v1.5h-1.5zm-60 1h1.5v1.5h-1.5zm29 0h1.5v1.5h-1.5zm17 1h1.5v1.5h-1.5zm-208 4h1.5v1.5h-1.5zm6 6h1.5v1.5h-1.5zm119 0h1.5v1.5h-1.5zm231 5h1.5v1.5h-1.5zm-136 1h1.5v1.5h-1.5zm13 3h1.5v1.5h-1.5zm-90 5h1.5v1.5h-1.5zm-37 9h1.5v1.5h-1.5zm-36 5h1.5v1.5h-1.5zm41 17h1.5v1.5h-1.5zm-1 2h1.5v1.5h-1.5zm144 7h1.5v1.5h-1.5zm-132 6h1.5v1.5h-1.5z" fill="#ffffff"/><path d="M473 3h1.5v1.5h-1.5zm5 0h1.5v1.5h-1.5zm20 0h1.5v1.5h-1.5zm-52 1h1.5v1.5h-1.5zm34 0h1.5v1.5h-1.5zm6 0h1.5v1.5h-1.5zm21 0h1.5v1.5h-1.5zm24 0h1.5v1.5h-1.5zm-70 1h1.5v1.5h-1.5zm1 0h1.5v1.5h-1.5zm36 0h1.5v1.5h-1.5zm-47 1h1.5v1.5h-1.5zm9 0h1.5v1.5h-1.5zm1 0h1.5v1.5h-1.5zm3 0h1.5v1.5h-1.5zm14 0h1.5v1.5h-1.5zm4 0h1.5v1.5h-1.5zm54 0h1.5v1.5h-1.5zm-134 1h1.5v1.5h-1.5zm38 0h1.5v1.5h-1.5zm91 0h1.5v1.5h-1.5zm-77 1h1.5v1.5h-1.5zm4 0h1.5v1.5h-1.5zm4 0h1.5v1.5h-1.5zm29 1h1.5v1.5h-1.5zm3 0h1.5v1.5h-1.5zm-59 1h1.5v1.5h-1.5zm49 0h1.5v1.5h-1.5zm4 0h1.5v1.5h-1.5zm15 0h1.5v1.5h-1.5zm33 0h1.5v1.5h-1.5zm6 0h1.5v1.5h-1.5zm36 0h1.5v1.5h-1.5zm-120 1h1.5v1.5h-1.5zm9 0h1.5v1.5h-1.5zm18 0h1.5v1.5h-1.5zm5 0h1.5v1.5h-1.5zm-38 1h1.5v1.5h-1.5zm28 0h1.5v1.5h-1.5zm1 0h1.5v1.5h-1.5zm14 0h1.5v1.5h-1.5zm4 0h1.5v1.5h-1.5zm54 0h1.5v1.5h-1.5zm-100 1h1.5v1.5h-1.5zm20 0h1.5v1.5h-1.5zm13 0h1.5v1.5h-1.5zm13 0h1.5v1.5h-1.5zm2 0h1.5v1.5h-1.5zm24 0h1.5v1.5h-1.5zm-100 1h1.5v1.5h-1.5zm58 0h1.5v1.5h-1.5zm6 0h1.5v1.5h-1.5zm-68 1h1.5v1.5h-1.5zm26 0h1.5v1.5h-1.5zm96 0h1.5v1.5h-1.5zm13 0h1.5v1.5h-1.5zm-135 1h1.5v1.5h-1.5zm61 0h1.5v1.5h-1.5zm2 0h1.5v1.5h-1.5zm1 0h1.5v1.5h-1.5zm-69 1h1.5v1.5h-1.5zm40 0h1.5v1.5h-1.5zm30 0h1.5v1.5h-1.5zm-14 1h1.5v1.5h-1.5zm49 0h1.5v1.5h-1.5zm-82 1h1.5v1.5h-1.5zm41 0h1.5v1.5h-1.5zm9 0h1.5v1.5h-1.5zm23 0h1.5v1.5h-1.5zm66 0h1.5v1.5h-1.5zm-175 1h1.5v1.5h-1.5zm67 0h1.5v1.5h-1.5zm45 0h1.5v1.5h-1.5zm-109 1h1.5v1.5h-1.5zm36 0h1.5v1.5h-1.5zm31 0h1.5v1.5h-1.5zm6 0h1.5v1.5h-1.5zm-47 1h1.5v1.5h-1.5zm40 0h1.5v1.5h-1.5zm9 0h1.5v1.5h-1.5zm24 0h1.5v1.5h-1.5zm-63 1h1.5v1.5h-1.5zm2 0h1.5v1.5h-1.5zm96 0h1.5v1.5h-1.5zm-46 1h1.5v1.5h-1.5zm46 0h1.5v1.5h-1.5zm-107 1h1.5v1.5h-1.5zm23 0h1.5v1.5h-1.5zm31 0h1.5v1.5h-1.5zm-79 1h1.5v1.5h-1.5zm59 0h1.5v1.5h-1.5zm31 0h1.5v1.5h-1.5zm-92 1h1.5v1.5h-1.5zm14 0h1.5v1.5h-1.5zm91 0h1.5v1.5h-1.5zm18 0h1.5v1.5h-1.5zm35 0h1.5v1.5h-1.5zm-228 1h1.5v1.5h-1.5zm103 0h1.5v1.5h-1.5zm22 0h1.5v1.5h-1.5zm28 0h1.5v1.5h-1.5zm20 0h1.5v1.5h-1.5zm-141 1h1.5v1.5h-1.5zm205 0h1.5v1.5h-1.5zm-180 1h1.5v1.5h-1.5zm4 0h1.5v1.5h-1.5zm51 0h1.5v1.5h-1.5zm41 0h1.5v1.5h-1.5zm27 0h1.5v1.5h-1.5zm43 0h1.5v1.5h-1.5zm26 0h1.5v1.5h-1.5zm-237 1h1.5v1.5h-1.5zm60 0h1.5v1.5h-1.5zm53 0h1.5v1.5h-1.5zm79 0h1.5v1.5h-1.5zm4 0h1.5v1.5h-1.5zm0 0h1.5v1.5h-1.5zm-105 1h1.5v1.5h-1.5zm-36 1h1.5v1.5h-1.5zm75 0h1.5v1.5h-1.5zm20 0h1.5v1.5h-1.5zm21 0h1.5v1.5h-1.5zm15 0h1.5v1.5h-1.5zm-167 1h1.5v1.5h-1.5zm61 0h1.5v1.5h-1.5zm32 0h1.5v1.5h-1.5zm67 0h1.5v1.5h-1.5zm19 0h1.5v1.5h-1.5zm-44 1h1.5v1.5h-1.5zm15 0h1.5v1.5h-1.5zm115 0h1.5v1.5h-1.5zm-344 1h1.5v1.5h-1.5zm223 0h1.5v1.5h-1.5zm-87 1h1.5v1.5h-1.5zm22 0h1.5v1.5h-1.5zm36 0h1.5v1.5h-1.5zm32 1h1.5v1.5h-1.5zm-107 2h1.5v1.5h-1.5zm132 1h1.5v1.5h-1.5zm-13 1h1.5v1.5h-1.5zm-82 1h1.5v1.5h-1.5zm38 0h1.5v1.5h-1.5zm-118 1h1.5v1.5h-1.5zm63 0h1.5v1.5h-1.5zm14 0h1.5v1.5h-1.5zm41 1h1.5v1.5h-1.5zm-155 4h1.5v1.5h-1.5zm120 7h1.5v1.5h-1.5zm20 1h1.5v1.5h-1.5zm-13 4h1.5v1.5h-1.5zm111 0h1.5v1.5h-1.5zm-19 4h1.5v1.5h-1.5zm-93 4h1.5v1.5h-1.5zm82 28h1.5v1.5h-1.5z" fill="#4a7fbf"/><path d="M459 3h1.5v1.5h-1.5zm4 0h1.5v1.5h-1.5zm2 0h1.5v1.5h-1.5zm11 1h1.5v1.5h-1.5zm1 0h1.5v1.5h-1.5zm8 0h1.5v1.5h-1.5zm28 0h1.5v1.5h-1.5zm-57 1h1.5v1.5h-1.5zm60 0h1.5v1.5h-1.5zm15 0h1.5v1.5h-1.5zm-101 1h1.5v1.5h-1.5zm16 0h1.5v1.5h-1.5zm57 0h1.5v1.5h-1.5zm2 0h1.5v1.5h-1.5zm5 0h1.5v1.5h-1.5zm10 0h1.5v1.5h-1.5zm-67 1h1.5v1.5h-1.5zm2 0h1.5v1.5h-1.5zm24 0h1.5v1.5h-1.5zm11 0h1.5v1.5h-1.5zm27 0h1.5v1.5h-1.5zm5 0h1.5v1.5h-1.5zm-60 1h1.5v1.5h-1.5zm24 0h1.5v1.5h-1.5zm1 0h1.5v1.5h-1.5zm2 0h1.5v1.5h-1.5zm22 0h1.5v1.5h-1.5zm-70 1h1.5v1.5h-1.5zm26 0h1.5v1.5h-1.5zm22 0h1.5v1.5h-1.5zm-105 1h1.5v1.5h-1.5zm146 0h1.5v1.5h-1.5zm12 0h1.5v1.5h-1.5zm-103 1h1.5v1.5h-1.5zm16 0h1.5v1.5h-1.5zm7 0h1.5v1.5h-1.5zm32 0h1.5v1.5h-1.5zm-15 1h1.5v1.5h-1.5zm15 0h1.5v1.5h-1.5zm2 0h1.5v1.5h-1.5zm7 0h1.5v1.5h-1.5zm5 0h1.5v1.5h-1.5zm4 0h1.5v1.5h-1.5zm9 0h1.5v1.5h-1.5zm2 0h1.5v1.5h-1.5zm15 0h1.5v1.5h-1.5zm18 0h1.5v1.5h-1.5zm13 0h1.5v1.5h-1.5zm-125 1h1.5v1.5h-1.5zm37 0h1.5v1.5h-1.5zm19 0h1.5v1.5h-1.5zm9 0h1.5v1.5h-1.5zm-30 1h1.5v1.5h-1.5zm2 0h1.5v1.5h-1.5zm5 0h1.5v1.5h-1.5zm-18 1h1.5v1.5h-1.5zm3 0h1.5v1.5h-1.5zm25 0h1.5v1.5h-1.5zm36 0h1.5v1.5h-1.5zm37 0h1.5v1.5h-1.5zm-108 1h1.5v1.5h-1.5zm8 0h1.5v1.5h-1.5zm86 0h1.5v1.5h-1.5zm-157 2h1.5v1.5h-1.5zm46 0h1.5v1.5h-1.5zm37 0h1.5v1.5h-1.5zm-65 1h1.5v1.5h-1.5zm35 0h1.5v1.5h-1.5zm17 1h1.5v1.5h-1.5zm182 0h1.5v1.5h-1.5zm-208 1h1.5v1.5h-1.5zm20 0h1.5v1.5h-1.5zm49 0h1.5v1.5h-1.5zm68 0h1.5v1.5h-1.5zm23 0h1.5v1.5h-1.5zm-216 1h1.5v1.5h-1.5zm50 0h1.5v1.5h-1.5zm89 0h1.5v1.5h-1.5zm51 0h1.5v1.5h-1.5zm8 0h1.5v1.5h-1.5zm-195 1h1.5v1.5h-1.5zm119 0h1.5v1.5h-1.5zm25 0h1.5v1.5h-1.5zm-30 1h1.5v1.5h-1.5zm7 0h1.5v1.5h-1.5zm-29 1h1.5v1.5h-1.5zm36 0h1.5v1.5h-1.5zm-38 1h1.5v1.5h-1.5zm19 0h1.5v1.5h-1.5zm26 0h1.5v1.5h-1.5zm32 0h1.5v1.5h-1.5zm-174 1h1.5v1.5h-1.5zm132 0h1.5v1.5h-1.5zm29 0h1.5v1.5h-1.5zm-180 1h1.5v1.5h-1.5zm8 1h1.5v1.5h-1.5zm68 0h1.5v1.5h-1.5zm27 0h1.5v1.5h-1.5zm155 0h1.5v1.5h-1.5zm-167 1h1.5v1.5h-1.5zm41 0h1.5v1.5h-1.5zm95 0h1.5v1.5h-1.5zm-120 1h1.5v1.5h-1.5zm18 0h1.5v1.5h-1.5zm25 0h1.5v1.5h-1.5zm15 0h1.5v1.5h-1.5zm0 0h1.5v1.5h-1.5zm102 0h1.5v1.5h-1.5zm-213 1h1.5v1.5h-1.5zm8 0h1.5v1.5h-1.5zm109 0h1.5v1.5h-1.5zm38 0h1.5v1.5h-1.5zm54 0h1.5v1.5h-1.5zm-145 1h1.5v1.5h-1.5zm-64 1h1.5v1.5h-1.5zm58 0h1.5v1.5h-1.5zm-3 1h1.5v1.5h-1.5zm26 1h1.5v1.5h-1.5zm87 0h1.5v1.5h-1.5zm-61 1h1.5v1.5h-1.5zm-86 1h1.5v1.5h-1.5zm76 5h1.5v1.5h-1.5zm4 1h1.5v1.5h-1.5zm8 0h1.5v1.5h-1.5zm-108 1h1.5v1.5h-1.5zm-68 2h1.5v1.5h-1.5zm179 5h1.5v1.5h-1.5zm2 0h1.5v1.5h-1.5zm-76 6h1.5v1.5h-1.5zm162 2h1.5v1.5h-1.5zm1 49h1.5v1.5h-1.5zm-85 18h1.5v1.5h-1.5z" fill="#8a1a2e"/><path d="M498 3h1.5v1.5h-1.5zm-11 1h1.5v1.5h-1.5zm7 0h1.5v1.5h-1.5zm-38 1h1.5v1.5h-1.5zm57 0h1.5v1.5h-1.5zm-71 1h1.5v1.5h-1.5zm2 0h1.5v1.5h-1.5zm26 0h1.5v1.5h-1.5zm2 0h1.5v1.5h-1.5zm17 0h1.5v1.5h-1.5zm5 0h1.5v1.5h-1.5zm8 0h1.5v1.5h-1.5zm14 0h1.5v1.5h-1.5zm-74 1h1.5v1.5h-1.5zm-10 1h1.5v1.5h-1.5zm24 0h1.5v1.5h-1.5zm40 0h1.5v1.5h-1.5zm-48 1h1.5v1.5h-1.5zm53 0h1.5v1.5h-1.5zm30 0h1.5v1.5h-1.5zm-89 1h1.5v1.5h-1.5zm66 0h1.5v1.5h-1.5zm-134 1h1.5v1.5h-1.5zm7 0h1.5v1.5h-1.5zm74 0h1.5v1.5h-1.5zm15 0h1.5v1.5h-1.5zm93 0h1.5v1.5h-1.5zm-125 1h1.5v1.5h-1.5zm3 0h1.5v1.5h-1.5zm5 0h1.5v1.5h-1.5zm60 0h1.5v1.5h-1.5zm4 0h1.5v1.5h-1.5zm33 1h1.5v1.5h-1.5zm-69 1h1.5v1.5h-1.5zm82 0h1.5v1.5h-1.5zm-76 1h1.5v1.5h-1.5zm11 0h1.5v1.5h-1.5zm-49 1h1.5v1.5h-1.5zm11 0h1.5v1.5h-1.5zm81 0h1.5v1.5h-1.5zm7 0h1.5v1.5h-1.5zm-71 1h1.5v1.5h-1.5zm97 0h1.5v1.5h-1.5zm-146 1h1.5v1.5h-1.5zm69 0h1.5v1.5h-1.5zm-62 1h1.5v1.5h-1.5zm12 1h1.5v1.5h-1.5zm67 0h1.5v1.5h-1.5zm-78 1h1.5v1.5h-1.5zm39 0h1.5v1.5h-1.5zm40 0h1.5v1.5h-1.5zm8 0h1.5v1.5h-1.5zm-96 1h1.5v1.5h-1.5zm-46 1h1.5v1.5h-1.5zm83 0h1.5v1.5h-1.5zm20 0h1.5v1.5h-1.5zm8 0h1.5v1.5h-1.5zm12 0h1.5v1.5h-1.5zm65 0h1.5v1.5h-1.5zm-205 1h1.5v1.5h-1.5zm120 0h1.5v1.5h-1.5zm114 0h1.5v1.5h-1.5zm-105 1h1.5v1.5h-1.5zm29 0h1.5v1.5h-1.5zm6 0h1.5v1.5h-1.5zm70 0h1.5v1.5h-1.5zm-132 1h1.5v1.5h-1.5zm34 0h1.5v1.5h-1.5zm35 0h1.5v1.5h-1.5zm-86 1h1.5v1.5h-1.5zm5 0h1.5v1.5h-1.5zm25 0h1.5v1.5h-1.5zm17 0h1.5v1.5h-1.5zm25 0h1.5v1.5h-1.5zm24 0h1.5v1.5h-1.5zm-122 1h1.5v1.5h-1.5zm80 2h1.5v1.5h-1.5zm-84 2h1.5v1.5h-1.5zm120 0h1.5v1.5h-1.5zm55 0h1.5v1.5h-1.5zm-68 1h1.5v1.5h-1.5zm98 0h1.5v1.5h-1.5zm-97 1h1.5v1.5h-1.5zm14 0h1.5v1.5h-1.5zm1 0h1.5v1.5h-1.5zm48 0h1.5v1.5h-1.5zm-16 1h1.5v1.5h-1.5zm-100 1h1.5v1.5h-1.5zm-4 1h1.5v1.5h-1.5zm69 0h1.5v1.5h-1.5zm-64 2h1.5v1.5h-1.5zm5 3h1.5v1.5h-1.5zm71 0h1.5v1.5h-1.5zm-103 2h1.5v1.5h-1.5zm-21 1h1.5v1.5h-1.5zm-105 2h1.5v1.5h-1.5zm197 6h1.5v1.5h-1.5zm-41 5h1.5v1.5h-1.5zm1 1h1.5v1.5h-1.5zm-39 4h1.5v1.5h-1.5zm140 1h1.5v1.5h-1.5zm-15 4h1.5v1.5h-1.5zm-233 3h1.5v1.5h-1.5zm100 26h1.5v1.5h-1.5zm119 17h1.5v1.5h-1.5z" fill="#f2c0b0"/><use href="#cont"/><path d="M268.1 405.9 L270.6 403.9 L273.3 401.9 L276.2 399.9 L279.2 398.0 L282.4 396.2 L285.8 394.4 L289.3 392.7 L293.0 391.1 L296.8 389.5 L300.7 387.9 L304.7 386.4 L308.9 385.0 L313.2 383.6 L317.6 382.2 L322.1 380.9 L326.7 379.7 L331.4 378.5 L336.1 377.3 L341.0 376.2 L345.9 375.2 L350.9 374.2 L356.0 373.2 L361.1 372.3 L366.3 371.4 L371.6 370.6 L376.9 369.8 L382.3 369.1 L387.7 368.4 L393.2 367.7 L398.7 367.1 L404.2 366.6 L409.8 366.0 L415.4 365.5 L421.1 365.1 L426.8 364.7 L432.5 364.3 L438.2 364.0 L443.9 363.7 L449.7 363.5 L455.5 363.2 L461.3 363.1 L467.1 362.9 L472.9 362.8 L478.7 362.8 L484.5 362.8 L490.3 362.8 L496.1 362.8 L501.9 362.9 L507.7 363.1 L513.5 363.2 L519.3 363.5 L525.1 363.7 L530.8 364.0 L536.5 364.3 L542.2 364.7 L547.9 365.1 L553.6 365.5 L559.2 366.0 L564.8 366.6 L570.3 367.1 L575.8 367.7 L581.3 368.4 L586.7 369.1 L592.1 369.8 L597.4 370.6 L602.7 371.4 L607.9 372.3 L613.0 373.2 L618.1 374.2 L623.1 375.2 L628.0 376.2 L632.9 377.3 L637.6 378.5 L642.3 379.7 L646.9 380.9 L651.4 382.2 L655.8 383.6 L660.1 385.0 L664.3 386.4 L668.3 387.9 L672.2 389.5 L676.0 391.1 L679.7 392.7 L683.2 394.4 L686.6 396.2 L689.8 398.0 L692.8 399.9 L695.7 401.9 L698.4 403.9 L700.9 405.9M109.7 326.7 L117.0 324.7 L124.3 322.7 L131.8 320.9 L139.4 319.1 L147.0 317.4 L154.7 315.8 L162.5 314.3 L170.4 312.8 L178.3 311.4 L186.3 310.1 L194.4 308.8 L202.5 307.6 L210.6 306.5 L218.8 305.4 L227.1 304.3 L235.3 303.3 L243.6 302.4 L252.0 301.5 L260.4 300.6 L268.8 299.8 L277.2 299.0 L285.7 298.3 L294.2 297.6 L302.7 296.9 L311.2 296.3 L319.8 295.7 L328.3 295.2 L336.9 294.7 L345.5 294.2 L354.1 293.8 L362.8 293.4 L371.4 293.0 L380.1 292.6 L388.7 292.3 L397.4 292.0 L406.1 291.7 L414.8 291.5 L423.5 291.3 L432.2 291.1 L440.9 291.0 L449.6 290.9 L458.3 290.8 L467.1 290.7 L475.8 290.6 L484.5 290.6 L493.2 290.6 L501.9 290.7 L510.7 290.8 L519.4 290.9 L528.1 291.0 L536.8 291.1 L545.5 291.3 L554.2 291.5 L562.9 291.7 L571.6 292.0 L580.3 292.3 L588.9 292.6 L597.6 293.0 L606.2 293.4 L614.9 293.8 L623.5 294.2 L632.1 294.7 L640.7 295.2 L649.2 295.7 L657.8 296.3 L666.3 296.9 L674.8 297.6 L683.3 298.3 L691.8 299.0 L700.2 299.8 L708.6 300.6 L717.0 301.5 L725.4 302.4 L733.7 303.3 L741.9 304.3 L750.2 305.4 L758.4 306.5 L766.5 307.6 L774.6 308.8 L782.7 310.1 L790.7 311.4 L798.6 312.8 L806.5 314.3 L814.3 315.8 L822.0 317.4 L829.6 319.1 L837.2 320.9 L844.7 322.7 L852.0 324.7 L859.3 326.7M109.7 110.3 L117.0 112.3 L124.3 114.3 L131.8 116.1 L139.4 117.9 L147.0 119.6 L154.7 121.2 L162.5 122.7 L170.4 124.2 L178.3 125.6 L186.3 126.9 L194.4 128.2 L202.5 129.4 L210.6 130.5 L218.8 131.6 L227.1 132.7 L235.3 133.7 L243.6 134.6 L252.0 135.5 L260.4 136.4 L268.8 137.2 L277.2 138.0 L285.7 138.7 L294.2 139.4 L302.7 140.1 L311.2 140.7 L319.8 141.3 L328.3 141.8 L336.9 142.3 L345.5 142.8 L354.1 143.2 L362.8 143.6 L371.4 144.0 L380.1 144.4 L388.7 144.7 L397.4 145.0 L406.1 145.3 L414.8 145.5 L423.5 145.7 L432.2 145.9 L440.9 146.0 L449.6 146.1 L458.3 146.2 L467.1 146.3 L475.8 146.4 L484.5 146.4 L493.2 146.4 L501.9 146.3 L510.7 146.2 L519.4 146.1 L528.1 146.0 L536.8 145.9 L545.5 145.7 L554.2 145.5 L562.9 145.3 L571.6 145.0 L580.3 144.7 L588.9 144.4 L597.6 144.0 L606.2 143.6 L614.9 143.2 L623.5 142.8 L632.1 142.3 L640.7 141.8 L649.2 141.3 L657.8 140.7 L666.3 140.1 L674.8 139.4 L683.3 138.7 L691.8 138.0 L700.2 137.2 L708.6 136.4 L717.0 135.5 L725.4 134.6 L733.7 133.7 L741.9 132.7 L750.2 131.6 L758.4 130.5 L766.5 129.4 L774.6 128.2 L782.7 126.9 L790.7 125.6 L798.6 124.2 L806.5 122.7 L814.3 121.2 L822.0 119.6 L829.6 117.9 L837.2 116.1 L844.7 114.3 L852.0 112.3 L859.3 110.3M268.1 31.1 L270.6 33.1 L273.3 35.1 L276.2 37.1 L279.2 39.0 L282.4 40.8 L285.8 42.6 L289.3 44.3 L293.0 45.9 L296.8 47.5 L300.7 49.1 L304.7 50.6 L308.9 52.0 L313.2 53.4 L317.6 54.8 L322.1 56.1 L326.7 57.3 L331.4 58.5 L336.1 59.7 L341.0 60.8 L345.9 61.8 L350.9 62.8 L356.0 63.8 L361.1 64.7 L366.3 65.6 L371.6 66.4 L376.9 67.2 L382.3 67.9 L387.7 68.6 L393.2 69.3 L398.7 69.9 L404.2 70.4 L409.8 71.0 L415.4 71.5 L421.1 71.9 L426.8 72.3 L432.5 72.7 L438.2 73.0 L443.9 73.3 L449.7 73.5 L455.5 73.8 L461.3 73.9 L467.1 74.1 L472.9 74.2 L478.7 74.2 L484.5 74.2 L490.3 74.2 L496.1 74.2 L501.9 74.1 L507.7 73.9 L513.5 73.8 L519.3 73.5 L525.1 73.3 L530.8 73.0 L536.5 72.7 L542.2 72.3 L547.9 71.9 L553.6 71.5 L559.2 71.0 L564.8 70.4 L570.3 69.9 L575.8 69.3 L581.3 68.6 L586.7 67.9 L592.1 67.2 L597.4 66.4 L602.7 65.6 L607.9 64.7 L613.0 63.8 L618.1 62.8 L623.1 61.8 L628.0 60.8 L632.9 59.7 L637.6 58.5 L642.3 57.3 L646.9 56.1 L651.4 54.8 L655.8 53.4 L660.1 52.0 L664.3 50.6 L668.3 49.1 L672.2 47.5 L676.0 45.9 L679.7 44.3 L683.2 42.6 L686.6 40.8 L689.8 39.0 L692.8 37.1 L695.7 35.1 L698.4 33.1 L700.9 31.1M51.7 218.5H917.3M484.5 434.9 L468.9 429.7 L453.9 424.1 L439.7 418.4 L426.2 412.4 L413.4 406.2 L401.2 399.8 L389.6 393.3 L378.7 386.6 L368.3 379.7 L358.5 372.8 L349.3 365.7 L340.7 358.5 L332.6 351.2 L325.0 343.8 L317.9 336.3 L311.3 328.7 L305.3 321.1 L299.7 313.5 L294.6 305.7 L289.9 297.9 L285.7 290.1 L282.0 282.3 L278.7 274.4 L275.9 266.4 L273.5 258.5 L271.6 250.5 L270.0 242.5 L269.0 234.5 L268.3 226.5 L268.1 218.5 L268.3 210.5 L269.0 202.5 L270.0 194.5 L271.6 186.5 L273.5 178.5 L275.9 170.6 L278.7 162.6 L282.0 154.7 L285.7 146.9 L289.9 139.1 L294.6 131.3 L299.7 123.5 L305.3 115.9 L311.3 108.3 L317.9 100.7 L325.0 93.2 L332.6 85.8 L340.7 78.5 L349.3 71.3 L358.5 64.2 L368.3 57.3 L378.7 50.4 L389.6 43.7 L401.2 37.2 L413.4 30.8 L426.2 24.6 L439.7 18.6 L453.9 12.9 L468.9 7.3 L484.5 2.1M484.5 434.9 L500.1 429.7 L515.1 424.1 L529.3 418.4 L542.8 412.4 L555.6 406.2 L567.8 399.8 L579.4 393.3 L590.3 386.6 L600.7 379.7 L610.5 372.8 L619.7 365.7 L628.3 358.5 L636.4 351.2 L644.0 343.8 L651.1 336.3 L657.7 328.7 L663.7 321.1 L669.3 313.5 L674.4 305.7 L679.1 297.9 L683.3 290.1 L687.0 282.3 L690.3 274.4 L693.1 266.4 L695.5 258.5 L697.4 250.5 L699.0 242.5 L700.0 234.5 L700.7 226.5 L700.9 218.5 L700.7 210.5 L700.0 202.5 L699.0 194.5 L697.4 186.5 L695.5 178.5 L693.1 170.6 L690.3 162.6 L687.0 154.7 L683.3 146.9 L679.1 139.1 L674.4 131.3 L669.3 123.5 L663.7 115.9 L657.7 108.3 L651.1 100.7 L644.0 93.2 L636.4 85.8 L628.3 78.5 L619.7 71.3 L610.5 64.2 L600.7 57.3 L590.3 50.4 L579.4 43.7 L567.8 37.2 L555.6 30.8 L542.8 24.6 L529.3 18.6 L515.1 12.9 L500.1 7.3 L484.5 2.1M484.5 2.1V434.9" fill="none" stroke="#7a7a7a" stroke-width="1.1"/></g><ellipse cx="484.5" cy="218.5" rx="432.8" ry="216.4" fill="none" stroke="#7a7a7a" stroke-width="1.1"/><g clip-path="url(#ellb)"><ellipse cx="1493.5" cy="218.5" rx="432.8" ry="216.4" fill="#eef3f6"/><g filter="url(#dispB)"><path d="M1065.0 120.0 L1200.0 40.0 L1300.0 60.0 L1300.0 380.0 L1150.0 380.0 L1065.0 300.0Z" fill="#f7ece6" opacity="0.8" filter="url(#fb20)"/><path d="M1380.0 310.0 L1620.0 310.0 L1630.0 435.0 L1370.0 435.0Z" fill="#f6e9e3" opacity="0.7" filter="url(#fb16)"/><path d="M1870.0 100.0 L1925.0 165.0 L1925.0 280.0 L1870.0 325.0Z" fill="#f7ebe4" opacity="0.7" filter="url(#fb16)"/><path d="M1325.0 125.0 L1350.0 107.5 L1380.0 105.0 L1400.0 107.5 L1420.0 130.0 L1430.0 165.0 L1440.0 185.0 L1450.0 210.0 L1460.0 240.0 L1455.0 270.0 L1440.0 290.0 L1420.0 295.0 L1400.0 290.0 L1380.0 270.0 L1360.0 250.0 L1345.0 225.0 L1335.0 200.0 L1325.0 170.0 L1310.0 150.0Z" fill="#c0424a" opacity="0.95" filter="url(#fb2)"/><path d="M1345.0 165.0 L1380.0 160.0 L1410.0 200.0 L1425.0 240.0 L1410.0 262.5 L1380.0 252.5 L1355.0 222.5Z" fill="#8a0c24" opacity="0.95" filter="url(#fb4)"/><path d="M1315.0 140.0 L1330.0 130.0 L1340.0 150.0 L1335.0 190.0 L1322.5 190.0 L1312.5 165.0Z" fill="#d07070" opacity="0.8" filter="url(#fb2)"/><path d="M1400.0 107.5 L1430.0 100.0 L1465.0 107.5 L1485.0 125.0 L1487.5 150.0 L1475.0 165.0 L1450.0 170.0 L1420.0 165.0 L1405.0 145.0Z" fill="#bf3c44" opacity="0.95" filter="url(#fb2)"/><path d="M1450.0 170.0 L1480.0 165.0 L1495.0 180.0 L1495.0 235.0 L1475.0 250.0 L1450.0 230.0Z" fill="#dc9a94" opacity="0.85" filter="url(#fb2)"/><path d="M1510.0 135.0 L1535.0 127.5 L1555.0 140.0 L1560.0 165.0 L1550.0 180.0 L1525.0 182.5 L1510.0 165.0Z" fill="#b02a36" opacity="0.95" filter="url(#fb2)"/><path d="M1530.0 172.5 L1560.0 167.5 L1590.0 182.5 L1606.0 205.0 L1595.0 221.0 L1565.0 221.0 L1540.0 211.0 L1529.0 195.0Z" fill="#7e061e" opacity="0.95" filter="url(#fb2)"/><path d="M1590.0 205.0 L1620.0 201.5 L1641.0 220.0 L1636.0 246.0 L1616.0 251.0 L1595.0 236.0Z" fill="#c24a50" opacity="0.9" filter="url(#fb2)"/><ellipse cx="1631.5" cy="179.0" rx="17.0" ry="15.0" fill="#c04650" opacity="0.9" filter="url(#fb2)"/><ellipse cx="1405.0" cy="272.5" rx="13.5" ry="12.5" fill="#b83440" opacity="0.95" filter="url(#fb2)"/><ellipse cx="1329.0" cy="231.0" rx="5.0" ry="5.0" fill="#c84a50" opacity="0.8" filter="url(#fb2)"/><ellipse cx="1705.0" cy="215.0" rx="6.5" ry="7.5" fill="#c45058" opacity="0.8" filter="url(#fb2)"/><ellipse cx="1500.0" cy="189.0" rx="8.0" ry="9.0" fill="#c0404a" opacity="0.85" filter="url(#fb2)"/><path d="M1425.0 250.0 L1465.0 250.0 L1481.0 280.0 L1466.0 301.0 L1431.0 296.0Z" fill="#e6b4ae" opacity="0.8" filter="url(#fb2)"/><path d="M1540.0 220.0 L1565.0 220.0 L1570.0 235.0 L1545.0 237.5Z" fill="#cfe0ec" opacity="0.9" filter="url(#fb2)"/><ellipse cx="1580.0" cy="265.0" rx="11.0" ry="11.0" fill="#dae8f0" opacity="0.9" filter="url(#fb2)"/></g><path d="M1683.6 96.3 L1689.7 102.5 L1695.4 108.9 L1700.8 115.7 L1705.8 122.7 L1710.4 130.0 L1714.7 137.5 L1718.5 145.3 L1722.0 153.2 L1725.0 161.3 L1727.6 169.5 L1729.8 177.9 L1731.5 186.3 L1732.8 194.9 L1733.6 203.5 L1734.0 212.1 L1733.9 220.8 L1733.4 229.4 L1732.4 238.0 L1731.0 246.5 L1729.1 254.9 L1726.8 263.2 L1724.0 271.4 L1720.9 279.5 L1717.3 287.3 L1713.3 295.0 L1710.4 300.0" fill="none" stroke="#fff" stroke-width="4.5"/><path d="M1661.7 177.5 L1663.6 182.4 L1665.1 187.4 L1666.4 192.5 L1667.5 197.6 L1668.3 202.8 L1668.8 208.0 L1669.0 213.3 L1668.9 218.5 L1668.6 223.7 L1668.0 228.9 L1667.2 234.1 L1666.0 239.2 L1664.6 244.2 L1663.0 249.2 L1661.1 254.1 L1658.9 258.8 L1656.5 263.5 L1653.8 268.0 L1650.9 272.4 L1647.8 276.6 L1644.5 280.6 L1640.9 284.5 L1637.2 288.1 L1633.3 291.6 L1629.2 294.9 L1624.9 297.9 L1622.0 299.8M1668.2 174.9 L1670.2 180.2 L1671.9 185.5 L1673.3 190.9 L1674.4 196.4 L1675.2 202.0 L1675.7 207.5 L1676.0 213.1 L1675.9 218.7 L1675.6 224.3 L1675.0 229.9 L1674.0 235.4 L1672.8 240.9 L1671.3 246.3 L1669.5 251.6 L1667.5 256.8 L1665.2 261.9 L1662.6 266.9 L1659.7 271.7 L1656.6 276.4 L1653.3 280.9 L1649.8 285.2 L1646.0 289.3 L1642.0 293.3 L1637.8 297.0 L1633.4 300.5 L1628.8 303.7 L1625.7 305.7M1674.7 172.3 L1676.8 177.9 L1678.6 183.6 L1680.1 189.4 L1681.3 195.2 L1682.2 201.1 L1682.7 207.0 L1683.0 213.0 L1682.9 219.0 L1682.6 224.9 L1681.9 230.9 L1680.9 236.8 L1679.6 242.6 L1678.0 248.3 L1676.1 254.0 L1673.9 259.5 L1671.5 265.0 L1668.7 270.3 L1665.7 275.4 L1662.4 280.4 L1658.8 285.2 L1655.0 289.8 L1651.0 294.2 L1646.7 298.4 L1642.3 302.3 L1637.6 306.0 L1632.7 309.5 L1629.4 311.7M1681.2 169.7 L1683.4 175.6 L1685.3 181.6 L1686.9 187.8 L1688.2 194.0 L1689.1 200.3 L1689.7 206.6 L1690.0 212.9 L1689.9 219.2 L1689.5 225.5 L1688.8 231.8 L1687.8 238.1 L1686.4 244.3 L1684.7 250.4 L1682.7 256.4 L1680.4 262.3 L1677.8 268.0 L1674.8 273.7 L1671.6 279.1 L1668.1 284.4 L1664.3 289.5 L1660.3 294.4 L1656.0 299.1 L1651.5 303.5 L1646.8 307.7 L1641.8 311.6 L1636.7 315.3 L1633.1 317.6M1686.8 167.4 L1689.1 173.7 L1691.1 180.0 L1692.7 186.4 L1694.1 192.9 L1695.1 199.5 L1695.7 206.1 L1696.0 212.8 L1695.9 219.4 L1695.5 226.1 L1694.8 232.7 L1693.7 239.2 L1692.2 245.7 L1690.5 252.1 L1688.3 258.4 L1685.9 264.6 L1683.1 270.7 L1680.1 276.6 L1676.7 282.3 L1673.0 287.8 L1669.1 293.2 L1664.8 298.3 L1660.4 303.2 L1655.6 307.9 L1650.6 312.3 L1645.4 316.4 L1640.0 320.3 L1636.3 322.7M1692.3 165.2 L1694.8 171.7 L1696.8 178.3 L1698.6 185.1 L1700.0 191.9 L1701.0 198.8 L1701.7 205.7 L1702.0 212.7 L1701.9 219.6 L1701.5 226.6 L1700.7 233.5 L1699.6 240.4 L1698.0 247.2 L1696.2 253.9 L1694.0 260.5 L1691.4 267.0 L1688.5 273.3 L1685.3 279.5 L1681.8 285.5 L1677.9 291.3 L1673.8 296.9 L1669.4 302.3 L1664.7 307.4 L1659.7 312.3 L1654.5 316.9 L1649.0 321.2 L1643.4 325.3 L1639.5 327.8M1697.9 162.9 L1700.4 169.7 L1702.6 176.7 L1704.4 183.7 L1705.9 190.9 L1707.0 198.1 L1707.7 205.3 L1708.0 212.6 L1707.9 219.9 L1707.5 227.1 L1706.6 234.3 L1705.4 241.5 L1703.9 248.6 L1701.9 255.6 L1699.6 262.5 L1697.0 269.3 L1693.9 275.9 L1690.6 282.4 L1686.9 288.7 L1682.9 294.7 L1678.5 300.6 L1673.9 306.2 L1669.0 311.6 L1663.8 316.7 L1658.3 321.5 L1652.7 326.0 L1646.7 330.2 L1642.7 332.9M1703.4 160.7 L1706.1 167.8 L1708.4 175.0 L1710.3 182.4 L1711.8 189.8 L1712.9 197.3 L1713.6 204.9 L1714.0 212.5 L1713.9 220.1 L1713.4 227.6 L1712.6 235.2 L1711.3 242.7 L1709.7 250.1 L1707.7 257.4 L1705.3 264.6 L1702.5 271.7 L1699.3 278.6 L1695.8 285.3 L1692.0 291.8 L1687.8 298.2 L1683.3 304.3 L1678.4 310.1 L1673.3 315.7 L1667.9 321.0 L1662.2 326.1 L1656.3 330.8 L1650.1 335.2 L1645.8 338.0M1709.0 158.4 L1711.8 165.8 L1714.2 173.4 L1716.1 181.0 L1717.7 188.8 L1718.9 196.6 L1719.6 204.5 L1720.0 212.4 L1719.9 220.3 L1719.4 228.2 L1718.5 236.0 L1717.2 243.8 L1715.5 251.5 L1713.4 259.1 L1710.9 266.6 L1708.0 274.0 L1704.7 281.2 L1701.1 288.2 L1697.1 295.0 L1692.7 301.6 L1688.0 308.0 L1683.0 314.1 L1677.6 319.9 L1672.0 325.4 L1666.1 330.7 L1659.9 335.6 L1653.4 340.2 L1649.0 343.1M1714.6 156.2 L1717.4 163.9 L1719.9 171.7 L1722.0 179.7 L1723.6 187.7 L1724.8 195.9 L1725.6 204.0 L1726.0 212.3 L1725.9 220.5 L1725.4 228.7 L1724.5 236.9 L1723.1 245.0 L1721.3 253.0 L1719.1 260.9 L1716.5 268.7 L1713.5 276.3 L1710.1 283.8 L1706.3 291.1 L1702.1 298.2 L1697.6 305.1 L1692.7 311.7 L1687.5 318.0 L1681.9 324.1 L1676.1 329.8 L1669.9 335.3 L1663.5 340.4 L1656.8 345.2 L1652.2 348.1" fill="none" stroke="#fff" stroke-width="2" stroke-dasharray="16 5 9 4" opacity="0.95"/><path d="M1778.9 185.5 L1780.2 196.5 L1780.9 207.6 L1781.0 218.7 L1780.5 229.8 L1779.4 240.8 L1777.8 251.8 L1775.6 262.7 L1772.8 273.4 L1769.4 284.0 L1765.6 294.4 L1761.1 304.6 L1759.5 307.9" fill="none" stroke="#fff" stroke-width="2"/><path d="M1179.5 148.5 L1175.9 189.0 L1175.9 225.0 L1179.5 265.5 L1186.2 306.0" fill="none" stroke="#fff" stroke-width="2.2" stroke-linecap="round"/><path d="M1090.4 252.0 L1096.2 274.5 L1105.2 292.5" fill="none" stroke="#fff" stroke-width="2.2" stroke-linecap="round"/><path d="M1881.5 135.0 L1886.9 180.0 L1886.9 225.0 L1881.5 270.0" fill="none" stroke="#fff" stroke-width="2.2" stroke-linecap="round"/><path d="M1919.8 157.5 L1924.2 193.5 L1922.0 234.0" fill="none" stroke="#fff" stroke-width="2.2" stroke-linecap="round"/><rect x="1050" y="0" width="900" height="440" filter="url(#spkB)" opacity="0.75"/><path d="M1211 232h1.5v1.5h-1.5zm14 8h1.5v1.5h-1.5zm338 62h1.5v1.5h-1.5zm-95 10h1.5v1.5h-1.5zm33 16h1.5v1.5h-1.5zm61 3h1.5v1.5h-1.5zm-146 2h1.5v1.5h-1.5zm268 2h1.5v1.5h-1.5zm-336 10h1.5v1.5h-1.5zm244 0h1.5v1.5h-1.5zm-93 2h1.5v1.5h-1.5zm196 0h1.5v1.5h-1.5zm-424 1h1.5v1.5h-1.5zm291 0h1.5v1.5h-1.5zm265 1h1.5v1.5h-1.5zm-395 2h1.5v1.5h-1.5zm140 1h1.5v1.5h-1.5zm-63 1h1.5v1.5h-1.5zm-207 1h1.5v1.5h-1.5zm121 1h1.5v1.5h-1.5zm65 1h1.5v1.5h-1.5zm25 2h1.5v1.5h-1.5zm-197 5h1.5v1.5h-1.5zm13 0h1.5v1.5h-1.5zm85 0h1.5v1.5h-1.5zm12 1h1.5v1.5h-1.5zm188 0h1.5v1.5h-1.5zm-113 1h1.5v1.5h-1.5zm91 0h1.5v1.5h-1.5zm-73 1h1.5v1.5h-1.5zm164 0h1.5v1.5h-1.5zm-143 1h1.5v1.5h-1.5zm4 0h1.5v1.5h-1.5zm-56 2h1.5v1.5h-1.5zm136 0h1.5v1.5h-1.5zm-160 3h1.5v1.5h-1.5zm72 0h1.5v1.5h-1.5zm-225 1h1.5v1.5h-1.5zm104 0h1.5v1.5h-1.5zm38 0h1.5v1.5h-1.5zm-120 2h1.5v1.5h-1.5zm34 0h1.5v1.5h-1.5zm23 3h1.5v1.5h-1.5zm125 0h1.5v1.5h-1.5zm203 0h1.5v1.5h-1.5zm-367 1h1.5v1.5h-1.5zm160 0h1.5v1.5h-1.5zm77 2h1.5v1.5h-1.5zm-286 2h1.5v1.5h-1.5zm206 1h1.5v1.5h-1.5zm57 0h1.5v1.5h-1.5zm35 0h1.5v1.5h-1.5zm-254 1h1.5v1.5h-1.5zm90 0h1.5v1.5h-1.5zm34 1h1.5v1.5h-1.5zm160 0h1.5v1.5h-1.5zm-114 1h1.5v1.5h-1.5zm108 0h1.5v1.5h-1.5zm-123 1h1.5v1.5h-1.5zm-68 1h1.5v1.5h-1.5zm51 1h1.5v1.5h-1.5zm25 0h1.5v1.5h-1.5zm11 0h1.5v1.5h-1.5zm-81 1h1.5v1.5h-1.5zm12 0h1.5v1.5h-1.5zm1 0h1.5v1.5h-1.5zm41 0h1.5v1.5h-1.5zm8 0h1.5v1.5h-1.5zm12 0h1.5v1.5h-1.5zm157 0h1.5v1.5h-1.5zm-268 1h1.5v1.5h-1.5zm16 0h1.5v1.5h-1.5zm54 0h1.5v1.5h-1.5zm2 0h1.5v1.5h-1.5zm3 0h1.5v1.5h-1.5zm12 0h1.5v1.5h-1.5zm21 0h1.5v1.5h-1.5zm2 0h1.5v1.5h-1.5zm16 0h1.5v1.5h-1.5zm6 0h1.5v1.5h-1.5zm20 0h1.5v1.5h-1.5zm18 0h1.5v1.5h-1.5zm101 0h1.5v1.5h-1.5zm27 0h1.5v1.5h-1.5zm-430 1h1.5v1.5h-1.5zm188 0h1.5v1.5h-1.5zm2 0h1.5v1.5h-1.5zm24 0h1.5v1.5h-1.5zm8 0h1.5v1.5h-1.5zm6 0h1.5v1.5h-1.5zm20 0h1.5v1.5h-1.5zm7 0h1.5v1.5h-1.5zm27 0h1.5v1.5h-1.5zm4 0h1.5v1.5h-1.5zm33 0h1.5v1.5h-1.5zm80 0h1.5v1.5h-1.5zm-384 1h1.5v1.5h-1.5zm14 0h1.5v1.5h-1.5zm116 0h1.5v1.5h-1.5zm16 0h1.5v1.5h-1.5zm5 0h1.5v1.5h-1.5zm6 0h1.5v1.5h-1.5zm54 0h1.5v1.5h-1.5zm9 0h1.5v1.5h-1.5zm14 0h1.5v1.5h-1.5zm13 0h1.5v1.5h-1.5zm68 0h1.5v1.5h-1.5zm6 0h1.5v1.5h-1.5zm41 0h1.5v1.5h-1.5zm-321 1h1.5v1.5h-1.5zm34 0h1.5v1.5h-1.5zm45 0h1.5v1.5h-1.5zm44 0h1.5v1.5h-1.5zm22 0h1.5v1.5h-1.5zm44 0h1.5v1.5h-1.5zm6 0h1.5v1.5h-1.5zm7 0h1.5v1.5h-1.5zm59 0h1.5v1.5h-1.5zm48 0h1.5v1.5h-1.5zm-271 1h1.5v1.5h-1.5zm57 0h1.5v1.5h-1.5zm17 0h1.5v1.5h-1.5zm18 0h1.5v1.5h-1.5zm22 0h1.5v1.5h-1.5zm2 0h1.5v1.5h-1.5zm1 0h1.5v1.5h-1.5zm4 0h1.5v1.5h-1.5zm4 0h1.5v1.5h-1.5zm50 0h1.5v1.5h-1.5zm6 0h1.5v1.5h-1.5zm-185 1h1.5v1.5h-1.5zm42 0h1.5v1.5h-1.5zm31 0h1.5v1.5h-1.5zm38 0h1.5v1.5h-1.5zm41 0h1.5v1.5h-1.5zm22 0h1.5v1.5h-1.5zm31 0h1.5v1.5h-1.5zm31 0h1.5v1.5h-1.5zm21 0h1.5v1.5h-1.5zm29 0h1.5v1.5h-1.5zm-257 1h1.5v1.5h-1.5zm17 0h1.5v1.5h-1.5zm48 0h1.5v1.5h-1.5zm15 0h1.5v1.5h-1.5zm9 0h1.5v1.5h-1.5zm59 0h1.5v1.5h-1.5zm1 0h1.5v1.5h-1.5zm-243 1h1.5v1.5h-1.5zm74 0h1.5v1.5h-1.5zm16 0h1.5v1.5h-1.5zm27 0h1.5v1.5h-1.5zm53 0h1.5v1.5h-1.5zm13 0h1.5v1.5h-1.5zm69 0h1.5v1.5h-1.5zm-83 1h1.5v1.5h-1.5zm5 0h1.5v1.5h-1.5zm5 0h1.5v1.5h-1.5zm56 0h1.5v1.5h-1.5zm41 0h1.5v1.5h-1.5zm-269 1h1.5v1.5h-1.5zm95 0h1.5v1.5h-1.5zm16 0h1.5v1.5h-1.5zm17 0h1.5v1.5h-1.5zm48 0h1.5v1.5h-1.5zm13 0h1.5v1.5h-1.5zm10 0h1.5v1.5h-1.5zm8 0h1.5v1.5h-1.5zm37 0h1.5v1.5h-1.5zm53 0h1.5v1.5h-1.5zm20 0h1.5v1.5h-1.5zm63 0h1.5v1.5h-1.5zm-301 1h1.5v1.5h-1.5zm26 0h1.5v1.5h-1.5zm51 0h1.5v1.5h-1.5zm28 0h1.5v1.5h-1.5zm8 0h1.5v1.5h-1.5zm11 0h1.5v1.5h-1.5zm21 0h1.5v1.5h-1.5zm2 0h1.5v1.5h-1.5zm37 0h1.5v1.5h-1.5zm66 0h1.5v1.5h-1.5zm-187 1h1.5v1.5h-1.5zm18 0h1.5v1.5h-1.5zm15 0h1.5v1.5h-1.5zm52 0h1.5v1.5h-1.5zm1 0h1.5v1.5h-1.5zm38 0h1.5v1.5h-1.5zm7 0h1.5v1.5h-1.5zm7 0h1.5v1.5h-1.5zm10 0h1.5v1.5h-1.5zm23 0h1.5v1.5h-1.5zm-266 1h1.5v1.5h-1.5zm29 0h1.5v1.5h-1.5zm4 0h1.5v1.5h-1.5zm14 0h1.5v1.5h-1.5zm28 0h1.5v1.5h-1.5zm35 0h1.5v1.5h-1.5zm96 0h1.5v1.5h-1.5zm29 0h1.5v1.5h-1.5zm4 0h1.5v1.5h-1.5zm2 0h1.5v1.5h-1.5zm1 0h1.5v1.5h-1.5zm43 0h1.5v1.5h-1.5zm-301 1h1.5v1.5h-1.5zm1 0h1.5v1.5h-1.5zm73 0h1.5v1.5h-1.5zm5 0h1.5v1.5h-1.5zm3 0h1.5v1.5h-1.5zm31 0h1.5v1.5h-1.5zm2 0h1.5v1.5h-1.5zm16 0h1.5v1.5h-1.5zm40 0h1.5v1.5h-1.5zm13 0h1.5v1.5h-1.5zm47 0h1.5v1.5h-1.5zm10 0h1.5v1.5h-1.5zm5 0h1.5v1.5h-1.5zm5 0h1.5v1.5h-1.5zm13 0h1.5v1.5h-1.5zm41 0h1.5v1.5h-1.5zm52 0h1.5v1.5h-1.5zm-275 1h1.5v1.5h-1.5zm9 0h1.5v1.5h-1.5zm21 0h1.5v1.5h-1.5zm21 0h1.5v1.5h-1.5zm26 0h1.5v1.5h-1.5zm68 0h1.5v1.5h-1.5zm4 0h1.5v1.5h-1.5zm26 0h1.5v1.5h-1.5zm-266 1h1.5v1.5h-1.5zm35 0h1.5v1.5h-1.5zm3 0h1.5v1.5h-1.5zm47 0h1.5v1.5h-1.5zm5 0h1.5v1.5h-1.5zm41 0h1.5v1.5h-1.5zm31 0h1.5v1.5h-1.5zm30 0h1.5v1.5h-1.5zm2 0h1.5v1.5h-1.5zm20 0h1.5v1.5h-1.5zm76 0h1.5v1.5h-1.5zm15 0h1.5v1.5h-1.5zm9 0h1.5v1.5h-1.5zm-331 1h1.5v1.5h-1.5zm50 0h1.5v1.5h-1.5zm22 0h1.5v1.5h-1.5zm51 0h1.5v1.5h-1.5zm14 0h1.5v1.5h-1.5zm10 0h1.5v1.5h-1.5zm12 0h1.5v1.5h-1.5zm43 0h1.5v1.5h-1.5zm4 0h1.5v1.5h-1.5zm0 0h1.5v1.5h-1.5zm1 0h1.5v1.5h-1.5zm36 0h1.5v1.5h-1.5zm17 0h1.5v1.5h-1.5zm12 0h1.5v1.5h-1.5zm19 0h1.5v1.5h-1.5zm5 0h1.5v1.5h-1.5zm-254 1h1.5v1.5h-1.5zm41 0h1.5v1.5h-1.5zm6 0h1.5v1.5h-1.5zm53 0h1.5v1.5h-1.5zm17 0h1.5v1.5h-1.5zm18 0h1.5v1.5h-1.5zm9 0h1.5v1.5h-1.5zm1 0h1.5v1.5h-1.5zm3 0h1.5v1.5h-1.5zm18 0h1.5v1.5h-1.5zm11 0h1.5v1.5h-1.5zm6 0h1.5v1.5h-1.5zm45 0h1.5v1.5h-1.5zm-139 1h1.5v1.5h-1.5zm3 0h1.5v1.5h-1.5zm31 0h1.5v1.5h-1.5zm17 0h1.5v1.5h-1.5zm5 0h1.5v1.5h-1.5zm18 0h1.5v1.5h-1.5zm0 0h1.5v1.5h-1.5zm12 0h1.5v1.5h-1.5zm2 0h1.5v1.5h-1.5zm43 0h1.5v1.5h-1.5zm12 0h1.5v1.5h-1.5zm-160 1h1.5v1.5h-1.5zm12 0h1.5v1.5h-1.5zm33 0h1.5v1.5h-1.5zm42 0h1.5v1.5h-1.5zm21 0h1.5v1.5h-1.5zm13 0h1.5v1.5h-1.5zm33 0h1.5v1.5h-1.5zm-183 1h1.5v1.5h-1.5zm23 0h1.5v1.5h-1.5zm27 0h1.5v1.5h-1.5zm15 0h1.5v1.5h-1.5zm5 0h1.5v1.5h-1.5zm2 0h1.5v1.5h-1.5zm0 0h1.5v1.5h-1.5zm6 0h1.5v1.5h-1.5zm19 0h1.5v1.5h-1.5zm60 0h1.5v1.5h-1.5zm28 0h1.5v1.5h-1.5zm4 0h1.5v1.5h-1.5zm-179 1h1.5v1.5h-1.5zm35 0h1.5v1.5h-1.5zm1 0h1.5v1.5h-1.5zm2 0h1.5v1.5h-1.5zm4 0h1.5v1.5h-1.5zm18 0h1.5v1.5h-1.5zm8 0h1.5v1.5h-1.5zm15 0h1.5v1.5h-1.5zm11 0h1.5v1.5h-1.5zm15 0h1.5v1.5h-1.5zm25 0h1.5v1.5h-1.5zm30 0h1.5v1.5h-1.5zm39 0h1.5v1.5h-1.5zm-210 1h1.5v1.5h-1.5zm6 0h1.5v1.5h-1.5zm40 0h1.5v1.5h-1.5zm3 0h1.5v1.5h-1.5zm12 0h1.5v1.5h-1.5zm4 0h1.5v1.5h-1.5zm61 0h1.5v1.5h-1.5zm6 0h1.5v1.5h-1.5zm31 0h1.5v1.5h-1.5zm41 0h1.5v1.5h-1.5zm-241 1h1.5v1.5h-1.5zm12 0h1.5v1.5h-1.5zm53 0h1.5v1.5h-1.5zm25 0h1.5v1.5h-1.5zm86 0h1.5v1.5h-1.5zm2 0h1.5v1.5h-1.5zm11 0h1.5v1.5h-1.5zm4 0h1.5v1.5h-1.5zm14 0h1.5v1.5h-1.5zm5 0h1.5v1.5h-1.5zm-206 1h1.5v1.5h-1.5zm29 0h1.5v1.5h-1.5zm9 0h1.5v1.5h-1.5zm65 0h1.5v1.5h-1.5zm1 0h1.5v1.5h-1.5zm13 0h1.5v1.5h-1.5zm3 0h1.5v1.5h-1.5zm106 0h1.5v1.5h-1.5zm36 0h1.5v1.5h-1.5zm-186 1h1.5v1.5h-1.5zm14 0h1.5v1.5h-1.5zm7 0h1.5v1.5h-1.5zm26 0h1.5v1.5h-1.5zm11 0h1.5v1.5h-1.5zm9 0h1.5v1.5h-1.5zm16 0h1.5v1.5h-1.5zm20 0h1.5v1.5h-1.5zm12 0h1.5v1.5h-1.5zm-107 1h1.5v1.5h-1.5zm49 0h1.5v1.5h-1.5zm10 0h1.5v1.5h-1.5zm8 0h1.5v1.5h-1.5zm1 0h1.5v1.5h-1.5zm28 0h1.5v1.5h-1.5zm3 0h1.5v1.5h-1.5zm12 0h1.5v1.5h-1.5zm30 0h1.5v1.5h-1.5zm31 0h1.5v1.5h-1.5zm-209 1h1.5v1.5h-1.5zm24 0h1.5v1.5h-1.5zm18 0h1.5v1.5h-1.5zm4 0h1.5v1.5h-1.5zm5 0h1.5v1.5h-1.5zm1 0h1.5v1.5h-1.5zm11 0h1.5v1.5h-1.5zm4 0h1.5v1.5h-1.5zm1 0h1.5v1.5h-1.5zm5 0h1.5v1.5h-1.5zm10 0h1.5v1.5h-1.5zm7 0h1.5v1.5h-1.5zm17 0h1.5v1.5h-1.5zm-165 1h1.5v1.5h-1.5zm23 0h1.5v1.5h-1.5zm29 0h1.5v1.5h-1.5zm16 0h1.5v1.5h-1.5zm10 0h1.5v1.5h-1.5zm2 0h1.5v1.5h-1.5zm32 0h1.5v1.5h-1.5zm23 0h1.5v1.5h-1.5zm11 0h1.5v1.5h-1.5zm8 0h1.5v1.5h-1.5zm1 0h1.5v1.5h-1.5zm8 0h1.5v1.5h-1.5zm6 0h1.5v1.5h-1.5zm17 0h1.5v1.5h-1.5zm15 0h1.5v1.5h-1.5zm1 0h1.5v1.5h-1.5zm10 0h1.5v1.5h-1.5zm45 0h1.5v1.5h-1.5zm-194 1h1.5v1.5h-1.5zm26 0h1.5v1.5h-1.5zm6 0h1.5v1.5h-1.5zm15 0h1.5v1.5h-1.5zm16 0h1.5v1.5h-1.5zm8 0h1.5v1.5h-1.5zm16 0h1.5v1.5h-1.5zm4 0h1.5v1.5h-1.5zm15 0h1.5v1.5h-1.5zm6 0h1.5v1.5h-1.5zm68 0h1.5v1.5h-1.5zm38 0h1.5v1.5h-1.5zm-246 1h1.5v1.5h-1.5zm27 0h1.5v1.5h-1.5zm16 0h1.5v1.5h-1.5zm10 0h1.5v1.5h-1.5zm43 0h1.5v1.5h-1.5zm11 0h1.5v1.5h-1.5zm16 0h1.5v1.5h-1.5zm29 0h1.5v1.5h-1.5zm21 0h1.5v1.5h-1.5zm4 0h1.5v1.5h-1.5zm34 0h1.5v1.5h-1.5zm-208 1h1.5v1.5h-1.5zm18 0h1.5v1.5h-1.5zm21 0h1.5v1.5h-1.5zm1 0h1.5v1.5h-1.5zm3 0h1.5v1.5h-1.5zm0 0h1.5v1.5h-1.5zm2 0h1.5v1.5h-1.5zm4 0h1.5v1.5h-1.5zm1 0h1.5v1.5h-1.5zm2 0h1.5v1.5h-1.5zm12 0h1.5v1.5h-1.5zm29 0h1.5v1.5h-1.5zm8 0h1.5v1.5h-1.5zm6 0h1.5v1.5h-1.5zm2 0h1.5v1.5h-1.5zm2 0h1.5v1.5h-1.5zm6 0h1.5v1.5h-1.5zm6 0h1.5v1.5h-1.5zm2 0h1.5v1.5h-1.5zm5 0h1.5v1.5h-1.5zm4 0h1.5v1.5h-1.5zm9 0h1.5v1.5h-1.5zm-160 1h1.5v1.5h-1.5zm24 0h1.5v1.5h-1.5zm54 0h1.5v1.5h-1.5zm1 0h1.5v1.5h-1.5zm3 0h1.5v1.5h-1.5zm0 0h1.5v1.5h-1.5zm10 0h1.5v1.5h-1.5zm10 0h1.5v1.5h-1.5zm25 0h1.5v1.5h-1.5zm9 0h1.5v1.5h-1.5zm10 0h1.5v1.5h-1.5zm29 0h1.5v1.5h-1.5zm7 0h1.5v1.5h-1.5zm2 0h1.5v1.5h-1.5zm5 0h1.5v1.5h-1.5zm-182 1h1.5v1.5h-1.5zm23 0h1.5v1.5h-1.5zm2 0h1.5v1.5h-1.5zm58 0h1.5v1.5h-1.5zm6 0h1.5v1.5h-1.5zm5 0h1.5v1.5h-1.5zm3 0h1.5v1.5h-1.5zm58 0h1.5v1.5h-1.5zm0 0h1.5v1.5h-1.5zm2 0h1.5v1.5h-1.5zm1 0h1.5v1.5h-1.5zm14 0h1.5v1.5h-1.5zm7 0h1.5v1.5h-1.5zm-159 1h1.5v1.5h-1.5zm16 0h1.5v1.5h-1.5zm21 0h1.5v1.5h-1.5zm2 0h1.5v1.5h-1.5zm3 0h1.5v1.5h-1.5zm18 0h1.5v1.5h-1.5zm2 0h1.5v1.5h-1.5zm15 0h1.5v1.5h-1.5zm9 0h1.5v1.5h-1.5zm21 0h1.5v1.5h-1.5zm10 0h1.5v1.5h-1.5zm13 0h1.5v1.5h-1.5zm52 0h1.5v1.5h-1.5zm-172 1h1.5v1.5h-1.5zm12 0h1.5v1.5h-1.5zm0 0h1.5v1.5h-1.5zm37 0h1.5v1.5h-1.5zm6 0h1.5v1.5h-1.5zm10 0h1.5v1.5h-1.5zm26 0h1.5v1.5h-1.5zm3 0h1.5v1.5h-1.5zm38 0h1.5v1.5h-1.5zm40 0h1.5v1.5h-1.5zm-147 1h1.5v1.5h-1.5zm22 0h1.5v1.5h-1.5zm16 0h1.5v1.5h-1.5zm3 0h1.5v1.5h-1.5zm16 0h1.5v1.5h-1.5zm9 0h1.5v1.5h-1.5zm7 0h1.5v1.5h-1.5zm12 0h1.5v1.5h-1.5zm5 0h1.5v1.5h-1.5zm6 0h1.5v1.5h-1.5zm10 0h1.5v1.5h-1.5zm-100 1h1.5v1.5h-1.5zm17 0h1.5v1.5h-1.5zm3 0h1.5v1.5h-1.5zm2 0h1.5v1.5h-1.5zm27 0h1.5v1.5h-1.5zm1 0h1.5v1.5h-1.5zm16 0h1.5v1.5h-1.5zm0 0h1.5v1.5h-1.5zm12 0h1.5v1.5h-1.5zm11 0h1.5v1.5h-1.5zm1 0h1.5v1.5h-1.5zm2 0h1.5v1.5h-1.5zm25 0h1.5v1.5h-1.5zm2 0h1.5v1.5h-1.5zm25 0h1.5v1.5h-1.5zm-156 1h1.5v1.5h-1.5zm8 0h1.5v1.5h-1.5zm14 0h1.5v1.5h-1.5zm5 0h1.5v1.5h-1.5zm2 0h1.5v1.5h-1.5zm21 0h1.5v1.5h-1.5zm4 0h1.5v1.5h-1.5zm3 0h1.5v1.5h-1.5zm8 0h1.5v1.5h-1.5zm10 0h1.5v1.5h-1.5zm3 0h1.5v1.5h-1.5zm5 0h1.5v1.5h-1.5zm29 0h1.5v1.5h-1.5zm10 0h1.5v1.5h-1.5zm3 0h1.5v1.5h-1.5zm14 0h1.5v1.5h-1.5zm-125 1h1.5v1.5h-1.5zm2 0h1.5v1.5h-1.5zm7 0h1.5v1.5h-1.5zm9 0h1.5v1.5h-1.5zm9 0h1.5v1.5h-1.5zm6 0h1.5v1.5h-1.5zm10 0h1.5v1.5h-1.5zm15 0h1.5v1.5h-1.5zm2 0h1.5v1.5h-1.5zm2 0h1.5v1.5h-1.5zm11 0h1.5v1.5h-1.5zm8 0h1.5v1.5h-1.5zm3 0h1.5v1.5h-1.5zm16 0h1.5v1.5h-1.5zm4 0h1.5v1.5h-1.5zm-112 1h1.5v1.5h-1.5zm23 0h1.5v1.5h-1.5zm7 0h1.5v1.5h-1.5zm4 0h1.5v1.5h-1.5zm8 0h1.5v1.5h-1.5zm3 0h1.5v1.5h-1.5zm0 0h1.5v1.5h-1.5zm9 0h1.5v1.5h-1.5zm6 0h1.5v1.5h-1.5zm12 0h1.5v1.5h-1.5zm21 0h1.5v1.5h-1.5zm4 0h1.5v1.5h-1.5zm-90 1h1.5v1.5h-1.5zm8 0h1.5v1.5h-1.5zm29 0h1.5v1.5h-1.5zm8 0h1.5v1.5h-1.5zm3 0h1.5v1.5h-1.5zm1 0h1.5v1.5h-1.5zm12 0h1.5v1.5h-1.5zm2 0h1.5v1.5h-1.5zm16 0h1.5v1.5h-1.5zm1 0h1.5v1.5h-1.5zm-54 1h1.5v1.5h-1.5zm20 0h1.5v1.5h-1.5zm12 0h1.5v1.5h-1.5z" fill="#d4706a"/><path d="M1230 307h1.5v1.5h-1.5zm225 12h1.5v1.5h-1.5zm-6 6h1.5v1.5h-1.5zm-198 17h1.5v1.5h-1.5zm269 1h1.5v1.5h-1.5zm47 4h1.5v1.5h-1.5zm-327 6h1.5v1.5h-1.5zm113 3h1.5v1.5h-1.5zm16 0h1.5v1.5h-1.5zm274 3h1.5v1.5h-1.5zm-380 1h1.5v1.5h-1.5zm262 1h1.5v1.5h-1.5zm-230 2h1.5v1.5h-1.5zm353 6h1.5v1.5h-1.5zm-36 1h1.5v1.5h-1.5zm-206 3h1.5v1.5h-1.5zm18 0h1.5v1.5h-1.5zm144 1h1.5v1.5h-1.5zm-52 1h1.5v1.5h-1.5zm-89 4h1.5v1.5h-1.5zm28 1h1.5v1.5h-1.5zm-45 1h1.5v1.5h-1.5zm47 2h1.5v1.5h-1.5zm5 0h1.5v1.5h-1.5zm115 1h1.5v1.5h-1.5zm-103 1h1.5v1.5h-1.5zm-96 1h1.5v1.5h-1.5zm16 2h1.5v1.5h-1.5zm117 2h1.5v1.5h-1.5zm9 0h1.5v1.5h-1.5zm17 0h1.5v1.5h-1.5zm88 0h1.5v1.5h-1.5zm-328 1h1.5v1.5h-1.5zm54 0h1.5v1.5h-1.5zm60 0h1.5v1.5h-1.5zm49 0h1.5v1.5h-1.5zm49 0h1.5v1.5h-1.5zm13 0h1.5v1.5h-1.5zm-96 1h1.5v1.5h-1.5zm11 0h1.5v1.5h-1.5zm33 0h1.5v1.5h-1.5zm75 0h1.5v1.5h-1.5zm87 0h1.5v1.5h-1.5zm-197 1h1.5v1.5h-1.5zm84 0h1.5v1.5h-1.5zm8 0h1.5v1.5h-1.5zm119 0h1.5v1.5h-1.5zm-203 1h1.5v1.5h-1.5zm32 0h1.5v1.5h-1.5zm23 0h1.5v1.5h-1.5zm53 0h1.5v1.5h-1.5zm12 0h1.5v1.5h-1.5zm19 0h1.5v1.5h-1.5zm-41 1h1.5v1.5h-1.5zm19 0h1.5v1.5h-1.5zm-141 1h1.5v1.5h-1.5zm70 0h1.5v1.5h-1.5zm90 1h1.5v1.5h-1.5zm8 0h1.5v1.5h-1.5zm-230 1h1.5v1.5h-1.5zm122 0h1.5v1.5h-1.5zm0 0h1.5v1.5h-1.5zm40 0h1.5v1.5h-1.5zm26 0h1.5v1.5h-1.5zm-141 1h1.5v1.5h-1.5zm3 0h1.5v1.5h-1.5zm123 0h1.5v1.5h-1.5zm111 0h1.5v1.5h-1.5zm-174 1h1.5v1.5h-1.5zm85 0h1.5v1.5h-1.5zm26 0h1.5v1.5h-1.5zm-240 1h1.5v1.5h-1.5zm129 0h1.5v1.5h-1.5zm9 0h1.5v1.5h-1.5zm48 0h1.5v1.5h-1.5zm56 0h1.5v1.5h-1.5zm57 0h1.5v1.5h-1.5zm-215 1h1.5v1.5h-1.5zm90 0h1.5v1.5h-1.5zm24 0h1.5v1.5h-1.5zm16 0h1.5v1.5h-1.5zm7 0h1.5v1.5h-1.5zm-268 1h1.5v1.5h-1.5zm131 0h1.5v1.5h-1.5zm35 0h1.5v1.5h-1.5zm30 0h1.5v1.5h-1.5zm9 0h1.5v1.5h-1.5zm27 0h1.5v1.5h-1.5zm2 0h1.5v1.5h-1.5zm49 0h1.5v1.5h-1.5zm-110 1h1.5v1.5h-1.5zm50 0h1.5v1.5h-1.5zm36 0h1.5v1.5h-1.5zm98 0h1.5v1.5h-1.5zm-287 1h1.5v1.5h-1.5zm30 0h1.5v1.5h-1.5zm61 0h1.5v1.5h-1.5zm143 0h1.5v1.5h-1.5zm-158 1h1.5v1.5h-1.5zm7 0h1.5v1.5h-1.5zm3 0h1.5v1.5h-1.5zm17 0h1.5v1.5h-1.5zm9 0h1.5v1.5h-1.5zm7 0h1.5v1.5h-1.5zm2 0h1.5v1.5h-1.5zm39 0h1.5v1.5h-1.5zm28 0h1.5v1.5h-1.5zm42 0h1.5v1.5h-1.5zm9 0h1.5v1.5h-1.5zm20 0h1.5v1.5h-1.5zm-204 1h1.5v1.5h-1.5zm17 0h1.5v1.5h-1.5zm4 0h1.5v1.5h-1.5zm4 0h1.5v1.5h-1.5zm36 0h1.5v1.5h-1.5zm1 0h1.5v1.5h-1.5zm17 0h1.5v1.5h-1.5zm3 0h1.5v1.5h-1.5zm1 0h1.5v1.5h-1.5zm47 0h1.5v1.5h-1.5zm108 0h1.5v1.5h-1.5zm-329 1h1.5v1.5h-1.5zm22 0h1.5v1.5h-1.5zm56 0h1.5v1.5h-1.5zm45 0h1.5v1.5h-1.5zm28 0h1.5v1.5h-1.5zm24 0h1.5v1.5h-1.5zm7 0h1.5v1.5h-1.5zm16 0h1.5v1.5h-1.5zm3 0h1.5v1.5h-1.5zm5 0h1.5v1.5h-1.5zm0 0h1.5v1.5h-1.5zm51 0h1.5v1.5h-1.5zm26 0h1.5v1.5h-1.5zm-51 1h1.5v1.5h-1.5zm88 0h1.5v1.5h-1.5zm-223 1h1.5v1.5h-1.5zm41 0h1.5v1.5h-1.5zm3 0h1.5v1.5h-1.5zm17 0h1.5v1.5h-1.5zm34 0h1.5v1.5h-1.5zm24 0h1.5v1.5h-1.5zm-176 1h1.5v1.5h-1.5zm75 0h1.5v1.5h-1.5zm88 0h1.5v1.5h-1.5zm3 0h1.5v1.5h-1.5zm-196 1h1.5v1.5h-1.5zm86 0h1.5v1.5h-1.5zm66 0h1.5v1.5h-1.5zm18 0h1.5v1.5h-1.5zm35 0h1.5v1.5h-1.5zm19 0h1.5v1.5h-1.5zm-163 1h1.5v1.5h-1.5zm92 0h1.5v1.5h-1.5zm8 0h1.5v1.5h-1.5zm28 0h1.5v1.5h-1.5zm4 0h1.5v1.5h-1.5zm26 0h1.5v1.5h-1.5zm-206 1h1.5v1.5h-1.5zm21 0h1.5v1.5h-1.5zm53 0h1.5v1.5h-1.5zm38 0h1.5v1.5h-1.5zm4 0h1.5v1.5h-1.5zm25 0h1.5v1.5h-1.5zm3 0h1.5v1.5h-1.5zm14 0h1.5v1.5h-1.5zm40 0h1.5v1.5h-1.5zm41 0h1.5v1.5h-1.5zm-188 1h1.5v1.5h-1.5zm16 0h1.5v1.5h-1.5zm47 0h1.5v1.5h-1.5zm27 0h1.5v1.5h-1.5zm61 0h1.5v1.5h-1.5zm-185 1h1.5v1.5h-1.5zm11 0h1.5v1.5h-1.5zm30 0h1.5v1.5h-1.5zm40 0h1.5v1.5h-1.5zm14 0h1.5v1.5h-1.5zm16 0h1.5v1.5h-1.5zm11 0h1.5v1.5h-1.5zm2 0h1.5v1.5h-1.5zm47 0h1.5v1.5h-1.5zm19 0h1.5v1.5h-1.5zm16 0h1.5v1.5h-1.5zm-85 1h1.5v1.5h-1.5zm43 0h1.5v1.5h-1.5zm11 0h1.5v1.5h-1.5zm81 0h1.5v1.5h-1.5zm-178 1h1.5v1.5h-1.5zm74 0h1.5v1.5h-1.5zm17 0h1.5v1.5h-1.5zm1 0h1.5v1.5h-1.5zm3 0h1.5v1.5h-1.5zm27 0h1.5v1.5h-1.5zm-130 1h1.5v1.5h-1.5zm2 0h1.5v1.5h-1.5zm20 0h1.5v1.5h-1.5zm5 0h1.5v1.5h-1.5zm37 0h1.5v1.5h-1.5zm40 0h1.5v1.5h-1.5zm29 0h1.5v1.5h-1.5zm-186 1h1.5v1.5h-1.5zm18 0h1.5v1.5h-1.5zm26 0h1.5v1.5h-1.5zm1 0h1.5v1.5h-1.5zm14 0h1.5v1.5h-1.5zm13 0h1.5v1.5h-1.5zm4 0h1.5v1.5h-1.5zm13 0h1.5v1.5h-1.5zm22 0h1.5v1.5h-1.5zm1 0h1.5v1.5h-1.5zm58 0h1.5v1.5h-1.5zm13 0h1.5v1.5h-1.5zm9 0h1.5v1.5h-1.5zm26 0h1.5v1.5h-1.5zm-161 1h1.5v1.5h-1.5zm11 0h1.5v1.5h-1.5zm8 0h1.5v1.5h-1.5zm2 0h1.5v1.5h-1.5zm13 0h1.5v1.5h-1.5zm4 0h1.5v1.5h-1.5zm1 0h1.5v1.5h-1.5zm1 0h1.5v1.5h-1.5zm12 0h1.5v1.5h-1.5zm15 0h1.5v1.5h-1.5zm10 0h1.5v1.5h-1.5zm37 0h1.5v1.5h-1.5zm-125 1h1.5v1.5h-1.5zm21 0h1.5v1.5h-1.5zm41 0h1.5v1.5h-1.5zm12 0h1.5v1.5h-1.5zm28 0h1.5v1.5h-1.5zm15 0h1.5v1.5h-1.5zm-106 1h1.5v1.5h-1.5zm24 0h1.5v1.5h-1.5zm6 0h1.5v1.5h-1.5zm27 0h1.5v1.5h-1.5zm1 0h1.5v1.5h-1.5zm14 0h1.5v1.5h-1.5zm7 0h1.5v1.5h-1.5zm17 0h1.5v1.5h-1.5zm3 0h1.5v1.5h-1.5zm48 0h1.5v1.5h-1.5zm-114 1h1.5v1.5h-1.5zm23 0h1.5v1.5h-1.5zm12 0h1.5v1.5h-1.5zm1 0h1.5v1.5h-1.5zm3 0h1.5v1.5h-1.5zm19 0h1.5v1.5h-1.5zm2 0h1.5v1.5h-1.5zm34 0h1.5v1.5h-1.5zm2 0h1.5v1.5h-1.5zm-183 1h1.5v1.5h-1.5zm45 0h1.5v1.5h-1.5zm8 0h1.5v1.5h-1.5zm9 0h1.5v1.5h-1.5zm3 0h1.5v1.5h-1.5zm3 0h1.5v1.5h-1.5zm47 0h1.5v1.5h-1.5zm14 0h1.5v1.5h-1.5zm12 0h1.5v1.5h-1.5zm12 0h1.5v1.5h-1.5zm38 0h1.5v1.5h-1.5zm-163 1h1.5v1.5h-1.5zm58 0h1.5v1.5h-1.5zm1 0h1.5v1.5h-1.5zm46 0h1.5v1.5h-1.5zm-96 1h1.5v1.5h-1.5zm8 0h1.5v1.5h-1.5zm39 0h1.5v1.5h-1.5zm6 0h1.5v1.5h-1.5zm83 0h1.5v1.5h-1.5zm16 0h1.5v1.5h-1.5zm-136 1h1.5v1.5h-1.5zm14 0h1.5v1.5h-1.5zm19 0h1.5v1.5h-1.5zm24 0h1.5v1.5h-1.5zm24 0h1.5v1.5h-1.5zm2 0h1.5v1.5h-1.5zm33 0h1.5v1.5h-1.5zm-126 1h1.5v1.5h-1.5zm20 0h1.5v1.5h-1.5zm17 0h1.5v1.5h-1.5zm21 0h1.5v1.5h-1.5zm2 0h1.5v1.5h-1.5zm18 0h1.5v1.5h-1.5zm1 0h1.5v1.5h-1.5zm10 0h1.5v1.5h-1.5zm5 0h1.5v1.5h-1.5zm61 0h1.5v1.5h-1.5zm-161 1h1.5v1.5h-1.5zm35 0h1.5v1.5h-1.5zm10 0h1.5v1.5h-1.5zm6 0h1.5v1.5h-1.5zm7 0h1.5v1.5h-1.5zm15 0h1.5v1.5h-1.5zm23 0h1.5v1.5h-1.5zm19 0h1.5v1.5h-1.5zm30 0h1.5v1.5h-1.5zm-138 1h1.5v1.5h-1.5zm9 0h1.5v1.5h-1.5zm8 0h1.5v1.5h-1.5zm25 0h1.5v1.5h-1.5zm16 0h1.5v1.5h-1.5zm4 0h1.5v1.5h-1.5zm30 0h1.5v1.5h-1.5zm48 0h1.5v1.5h-1.5zm-112 1h1.5v1.5h-1.5zm1 0h1.5v1.5h-1.5zm3 0h1.5v1.5h-1.5zm29 0h1.5v1.5h-1.5zm2 0h1.5v1.5h-1.5zm2 0h1.5v1.5h-1.5zm14 0h1.5v1.5h-1.5zm4 1h1.5v1.5h-1.5zm1 0h1.5v1.5h-1.5zm1 0h1.5v1.5h-1.5zm12 0h1.5v1.5h-1.5zm5 0h1.5v1.5h-1.5zm-72 1h1.5v1.5h-1.5zm23 0h1.5v1.5h-1.5zm33 0h1.5v1.5h-1.5z" fill="#b84050"/><path d="M1287 267h1.5v1.5h-1.5zm341 6h1.5v1.5h-1.5zm-247 26h1.5v1.5h-1.5zm181 16h1.5v1.5h-1.5zm-157 4h1.5v1.5h-1.5zm172 2h1.5v1.5h-1.5zm-30 3h1.5v1.5h-1.5zm-58 8h1.5v1.5h-1.5zm-106 5h1.5v1.5h-1.5zm160 6h1.5v1.5h-1.5zm16 3h1.5v1.5h-1.5zm-214 1h1.5v1.5h-1.5zm149 3h1.5v1.5h-1.5zm-260 2h1.5v1.5h-1.5zm156 1h1.5v1.5h-1.5zm250 0h1.5v1.5h-1.5zm36 1h1.5v1.5h-1.5zm-127 7h1.5v1.5h-1.5zm-137 5h1.5v1.5h-1.5zm219 0h1.5v1.5h-1.5zm-42 2h1.5v1.5h-1.5zm28 0h1.5v1.5h-1.5zm-305 2h1.5v1.5h-1.5zm286 1h1.5v1.5h-1.5zm48 2h1.5v1.5h-1.5zm-32 1h1.5v1.5h-1.5zm-181 1h1.5v1.5h-1.5zm121 0h1.5v1.5h-1.5zm-174 2h1.5v1.5h-1.5zm224 0h1.5v1.5h-1.5zm-218 2h1.5v1.5h-1.5zm20 1h1.5v1.5h-1.5zm80 2h1.5v1.5h-1.5zm-118 1h1.5v1.5h-1.5zm191 0h1.5v1.5h-1.5zm-112 1h1.5v1.5h-1.5zm200 0h1.5v1.5h-1.5zm-149 2h1.5v1.5h-1.5zm12 0h1.5v1.5h-1.5zm105 0h1.5v1.5h-1.5zm-310 1h1.5v1.5h-1.5zm87 0h1.5v1.5h-1.5zm45 0h1.5v1.5h-1.5zm59 3h1.5v1.5h-1.5zm163 0h1.5v1.5h-1.5zm-381 1h1.5v1.5h-1.5zm125 0h1.5v1.5h-1.5zm72 0h1.5v1.5h-1.5zm49 0h1.5v1.5h-1.5zm81 0h1.5v1.5h-1.5zm-250 1h1.5v1.5h-1.5zm17 0h1.5v1.5h-1.5zm10 0h1.5v1.5h-1.5zm8 0h1.5v1.5h-1.5zm181 0h1.5v1.5h-1.5zm-315 1h1.5v1.5h-1.5zm59 0h1.5v1.5h-1.5zm99 0h1.5v1.5h-1.5zm8 0h1.5v1.5h-1.5zm23 0h1.5v1.5h-1.5zm5 0h1.5v1.5h-1.5zm3 0h1.5v1.5h-1.5zm43 0h1.5v1.5h-1.5zm67 0h1.5v1.5h-1.5zm44 0h1.5v1.5h-1.5zm48 0h1.5v1.5h-1.5zm-264 1h1.5v1.5h-1.5zm3 0h1.5v1.5h-1.5zm49 0h1.5v1.5h-1.5zm81 0h1.5v1.5h-1.5zm-158 1h1.5v1.5h-1.5zm5 0h1.5v1.5h-1.5zm90 0h1.5v1.5h-1.5zm32 0h1.5v1.5h-1.5zm6 0h1.5v1.5h-1.5zm66 0h1.5v1.5h-1.5zm3 0h1.5v1.5h-1.5zm26 0h1.5v1.5h-1.5zm33 0h1.5v1.5h-1.5zm68 0h1.5v1.5h-1.5zm-298 1h1.5v1.5h-1.5zm101 0h1.5v1.5h-1.5zm33 0h1.5v1.5h-1.5zm14 0h1.5v1.5h-1.5zm-195 1h1.5v1.5h-1.5zm95 0h1.5v1.5h-1.5zm13 0h1.5v1.5h-1.5zm24 0h1.5v1.5h-1.5zm3 0h1.5v1.5h-1.5zm5 0h1.5v1.5h-1.5zm82 0h1.5v1.5h-1.5zm14 0h1.5v1.5h-1.5zm-191 1h1.5v1.5h-1.5zm5 0h1.5v1.5h-1.5zm51 0h1.5v1.5h-1.5zm9 0h1.5v1.5h-1.5zm79 0h1.5v1.5h-1.5zm75 0h1.5v1.5h-1.5zm-252 1h1.5v1.5h-1.5zm120 0h1.5v1.5h-1.5zm2 0h1.5v1.5h-1.5zm1 0h1.5v1.5h-1.5zm21 0h1.5v1.5h-1.5zm54 0h1.5v1.5h-1.5zm27 0h1.5v1.5h-1.5zm43 0h1.5v1.5h-1.5zm-224 1h1.5v1.5h-1.5zm17 0h1.5v1.5h-1.5zm13 0h1.5v1.5h-1.5zm74 0h1.5v1.5h-1.5zm12 0h1.5v1.5h-1.5zm20 0h1.5v1.5h-1.5zm17 0h1.5v1.5h-1.5zm88 0h1.5v1.5h-1.5zm-348 1h1.5v1.5h-1.5zm83 0h1.5v1.5h-1.5zm81 0h1.5v1.5h-1.5zm12 0h1.5v1.5h-1.5zm18 0h1.5v1.5h-1.5zm20 0h1.5v1.5h-1.5zm8 0h1.5v1.5h-1.5zm23 0h1.5v1.5h-1.5zm3 0h1.5v1.5h-1.5zm53 0h1.5v1.5h-1.5zm-265 1h1.5v1.5h-1.5zm29 0h1.5v1.5h-1.5zm72 0h1.5v1.5h-1.5zm5 0h1.5v1.5h-1.5zm76 0h1.5v1.5h-1.5zm29 0h1.5v1.5h-1.5zm3 0h1.5v1.5h-1.5zm19 0h1.5v1.5h-1.5zm1 0h1.5v1.5h-1.5zm-168 1h1.5v1.5h-1.5zm16 0h1.5v1.5h-1.5zm13 0h1.5v1.5h-1.5zm3 0h1.5v1.5h-1.5zm25 0h1.5v1.5h-1.5zm23 0h1.5v1.5h-1.5zm2 0h1.5v1.5h-1.5zm8 0h1.5v1.5h-1.5zm4 0h1.5v1.5h-1.5zm-125 1h1.5v1.5h-1.5zm24 0h1.5v1.5h-1.5zm67 0h1.5v1.5h-1.5zm11 0h1.5v1.5h-1.5zm3 0h1.5v1.5h-1.5zm37 0h1.5v1.5h-1.5zm15 0h1.5v1.5h-1.5zm1 0h1.5v1.5h-1.5zm50 0h1.5v1.5h-1.5zm-122 1h1.5v1.5h-1.5zm4 0h1.5v1.5h-1.5zm18 0h1.5v1.5h-1.5zm34 0h1.5v1.5h-1.5zm13 0h1.5v1.5h-1.5zm2 0h1.5v1.5h-1.5zm104 0h1.5v1.5h-1.5zm-197 1h1.5v1.5h-1.5zm16 0h1.5v1.5h-1.5zm43 0h1.5v1.5h-1.5zm10 0h1.5v1.5h-1.5zm16 0h1.5v1.5h-1.5zm41 0h1.5v1.5h-1.5zm24 0h1.5v1.5h-1.5zm5 0h1.5v1.5h-1.5zm52 0h1.5v1.5h-1.5zm-317 1h1.5v1.5h-1.5zm163 0h1.5v1.5h-1.5zm26 0h1.5v1.5h-1.5zm15 0h1.5v1.5h-1.5zm0 0h1.5v1.5h-1.5zm68 0h1.5v1.5h-1.5zm48 0h1.5v1.5h-1.5zm-252 1h1.5v1.5h-1.5zm42 0h1.5v1.5h-1.5zm7 0h1.5v1.5h-1.5zm20 0h1.5v1.5h-1.5zm12 0h1.5v1.5h-1.5zm11 0h1.5v1.5h-1.5zm2 0h1.5v1.5h-1.5zm2 0h1.5v1.5h-1.5zm4 0h1.5v1.5h-1.5zm6 0h1.5v1.5h-1.5zm10 0h1.5v1.5h-1.5zm18 0h1.5v1.5h-1.5zm49 0h1.5v1.5h-1.5zm20 0h1.5v1.5h-1.5zm24 0h1.5v1.5h-1.5zm-254 1h1.5v1.5h-1.5zm42 0h1.5v1.5h-1.5zm6 0h1.5v1.5h-1.5zm60 0h1.5v1.5h-1.5zm16 0h1.5v1.5h-1.5zm5 0h1.5v1.5h-1.5zm7 0h1.5v1.5h-1.5zm5 0h1.5v1.5h-1.5zm18 0h1.5v1.5h-1.5zm24 0h1.5v1.5h-1.5zm-186 1h1.5v1.5h-1.5zm71 0h1.5v1.5h-1.5zm5 0h1.5v1.5h-1.5zm54 0h1.5v1.5h-1.5zm58 0h1.5v1.5h-1.5zm10 0h1.5v1.5h-1.5zm18 0h1.5v1.5h-1.5zm1 0h1.5v1.5h-1.5zm41 0h1.5v1.5h-1.5zm-225 1h1.5v1.5h-1.5zm35 0h1.5v1.5h-1.5zm56 0h1.5v1.5h-1.5zm19 0h1.5v1.5h-1.5zm8 0h1.5v1.5h-1.5zm4 0h1.5v1.5h-1.5zm3 0h1.5v1.5h-1.5zm-92 1h1.5v1.5h-1.5zm8 0h1.5v1.5h-1.5zm16 0h1.5v1.5h-1.5zm31 0h1.5v1.5h-1.5zm7 0h1.5v1.5h-1.5zm25 0h1.5v1.5h-1.5zm37 0h1.5v1.5h-1.5zm-146 1h1.5v1.5h-1.5zm24 0h1.5v1.5h-1.5zm5 0h1.5v1.5h-1.5zm8 0h1.5v1.5h-1.5zm9 0h1.5v1.5h-1.5zm0 0h1.5v1.5h-1.5zm67 0h1.5v1.5h-1.5zm4 0h1.5v1.5h-1.5zm7 0h1.5v1.5h-1.5zm15 0h1.5v1.5h-1.5zm12 0h1.5v1.5h-1.5zm61 0h1.5v1.5h-1.5zm-199 1h1.5v1.5h-1.5zm2 0h1.5v1.5h-1.5zm35 0h1.5v1.5h-1.5zm6 0h1.5v1.5h-1.5zm7 0h1.5v1.5h-1.5zm4 0h1.5v1.5h-1.5zm5 0h1.5v1.5h-1.5zm9 0h1.5v1.5h-1.5zm3 0h1.5v1.5h-1.5zm29 0h1.5v1.5h-1.5zm6 0h1.5v1.5h-1.5zm59 0h1.5v1.5h-1.5zm16 0h1.5v1.5h-1.5zm-218 1h1.5v1.5h-1.5zm28 0h1.5v1.5h-1.5zm11 0h1.5v1.5h-1.5zm4 0h1.5v1.5h-1.5zm3 0h1.5v1.5h-1.5zm58 0h1.5v1.5h-1.5zm13 0h1.5v1.5h-1.5zm35 0h1.5v1.5h-1.5zm13 0h1.5v1.5h-1.5zm-141 1h1.5v1.5h-1.5zm5 0h1.5v1.5h-1.5zm32 0h1.5v1.5h-1.5zm58 0h1.5v1.5h-1.5zm1 0h1.5v1.5h-1.5zm4 0h1.5v1.5h-1.5zm13 0h1.5v1.5h-1.5zm-156 1h1.5v1.5h-1.5zm53 0h1.5v1.5h-1.5zm7 0h1.5v1.5h-1.5zm26 0h1.5v1.5h-1.5zm28 0h1.5v1.5h-1.5zm1 0h1.5v1.5h-1.5zm8 0h1.5v1.5h-1.5zm2 0h1.5v1.5h-1.5zm5 0h1.5v1.5h-1.5zm9 0h1.5v1.5h-1.5zm11 0h1.5v1.5h-1.5zm4 0h1.5v1.5h-1.5zm15 0h1.5v1.5h-1.5zm5 0h1.5v1.5h-1.5zm12 0h1.5v1.5h-1.5zm10 0h1.5v1.5h-1.5zm-164 1h1.5v1.5h-1.5zm22 0h1.5v1.5h-1.5zm31 0h1.5v1.5h-1.5zm34 0h1.5v1.5h-1.5zm20 0h1.5v1.5h-1.5zm24 0h1.5v1.5h-1.5zm4 0h1.5v1.5h-1.5zm74 0h1.5v1.5h-1.5zm2 0h1.5v1.5h-1.5zm-266 1h1.5v1.5h-1.5zm118 0h1.5v1.5h-1.5zm24 0h1.5v1.5h-1.5zm2 0h1.5v1.5h-1.5zm28 0h1.5v1.5h-1.5zm14 0h1.5v1.5h-1.5zm-79 1h1.5v1.5h-1.5zm18 0h1.5v1.5h-1.5zm31 0h1.5v1.5h-1.5zm12 0h1.5v1.5h-1.5zm14 0h1.5v1.5h-1.5zm29 0h1.5v1.5h-1.5zm-63 1h1.5v1.5h-1.5zm0 0h1.5v1.5h-1.5zm13 0h1.5v1.5h-1.5zm10 0h1.5v1.5h-1.5zm18 0h1.5v1.5h-1.5zm17 0h1.5v1.5h-1.5zm0 0h1.5v1.5h-1.5zm83 0h1.5v1.5h-1.5zm-215 1h1.5v1.5h-1.5zm34 0h1.5v1.5h-1.5zm17 0h1.5v1.5h-1.5zm6 0h1.5v1.5h-1.5zm8 0h1.5v1.5h-1.5zm9 0h1.5v1.5h-1.5zm16 0h1.5v1.5h-1.5zm36 0h1.5v1.5h-1.5zm11 0h1.5v1.5h-1.5zm79 0h1.5v1.5h-1.5zm-215 1h1.5v1.5h-1.5zm1 0h1.5v1.5h-1.5zm10 0h1.5v1.5h-1.5zm12 0h1.5v1.5h-1.5zm11 0h1.5v1.5h-1.5zm1 0h1.5v1.5h-1.5zm8 0h1.5v1.5h-1.5zm10 0h1.5v1.5h-1.5zm7 0h1.5v1.5h-1.5zm16 0h1.5v1.5h-1.5zm0 0h1.5v1.5h-1.5zm26 0h1.5v1.5h-1.5zm4 0h1.5v1.5h-1.5zm29 0h1.5v1.5h-1.5zm-156 1h1.5v1.5h-1.5zm22 0h1.5v1.5h-1.5zm1 0h1.5v1.5h-1.5zm57 0h1.5v1.5h-1.5zm19 0h1.5v1.5h-1.5zm57 0h1.5v1.5h-1.5zm12 0h1.5v1.5h-1.5zm23 0h1.5v1.5h-1.5zm-216 1h1.5v1.5h-1.5zm48 0h1.5v1.5h-1.5zm15 0h1.5v1.5h-1.5zm10 0h1.5v1.5h-1.5zm28 0h1.5v1.5h-1.5zm2 0h1.5v1.5h-1.5zm7 0h1.5v1.5h-1.5zm28 0h1.5v1.5h-1.5zm8 0h1.5v1.5h-1.5zm3 0h1.5v1.5h-1.5zm15 0h1.5v1.5h-1.5zm9 0h1.5v1.5h-1.5zm33 0h1.5v1.5h-1.5zm-151 1h1.5v1.5h-1.5zm5 0h1.5v1.5h-1.5zm17 0h1.5v1.5h-1.5zm3 0h1.5v1.5h-1.5zm43 0h1.5v1.5h-1.5zm26 0h1.5v1.5h-1.5zm8 0h1.5v1.5h-1.5zm16 0h1.5v1.5h-1.5zm33 0h1.5v1.5h-1.5zm-134 1h1.5v1.5h-1.5zm11 0h1.5v1.5h-1.5zm7 0h1.5v1.5h-1.5zm6 0h1.5v1.5h-1.5zm11 0h1.5v1.5h-1.5zm31 0h1.5v1.5h-1.5zm4 0h1.5v1.5h-1.5zm21 0h1.5v1.5h-1.5zm11 0h1.5v1.5h-1.5zm6 0h1.5v1.5h-1.5zm17 0h1.5v1.5h-1.5zm3 0h1.5v1.5h-1.5zm-150 1h1.5v1.5h-1.5zm1 0h1.5v1.5h-1.5zm48 0h1.5v1.5h-1.5zm19 0h1.5v1.5h-1.5zm10 0h1.5v1.5h-1.5zm2 0h1.5v1.5h-1.5zm5 0h1.5v1.5h-1.5zm5 0h1.5v1.5h-1.5zm0 0h1.5v1.5h-1.5zm10 0h1.5v1.5h-1.5zm11 0h1.5v1.5h-1.5zm30 0h1.5v1.5h-1.5zm-126 1h1.5v1.5h-1.5zm11 0h1.5v1.5h-1.5zm9 0h1.5v1.5h-1.5zm14 0h1.5v1.5h-1.5zm13 0h1.5v1.5h-1.5zm21 0h1.5v1.5h-1.5zm1 0h1.5v1.5h-1.5zm1 0h1.5v1.5h-1.5zm1 0h1.5v1.5h-1.5zm15 0h1.5v1.5h-1.5zm4 0h1.5v1.5h-1.5zm11 0h1.5v1.5h-1.5zm17 0h1.5v1.5h-1.5zm-125 1h1.5v1.5h-1.5zm10 0h1.5v1.5h-1.5zm11 0h1.5v1.5h-1.5zm17 0h1.5v1.5h-1.5zm18 0h1.5v1.5h-1.5zm15 0h1.5v1.5h-1.5zm25 0h1.5v1.5h-1.5zm19 0h1.5v1.5h-1.5zm10 0h1.5v1.5h-1.5zm2 0h1.5v1.5h-1.5zm-133 1h1.5v1.5h-1.5zm47 0h1.5v1.5h-1.5zm42 0h1.5v1.5h-1.5zm18 0h1.5v1.5h-1.5zm4 0h1.5v1.5h-1.5zm8 0h1.5v1.5h-1.5zm9 0h1.5v1.5h-1.5zm23 0h1.5v1.5h-1.5zm-102 1h1.5v1.5h-1.5zm25 0h1.5v1.5h-1.5zm10 0h1.5v1.5h-1.5zm5 0h1.5v1.5h-1.5zm15 0h1.5v1.5h-1.5zm0 0h1.5v1.5h-1.5zm9 0h1.5v1.5h-1.5zm10 0h1.5v1.5h-1.5zm-90 1h1.5v1.5h-1.5zm16 0h1.5v1.5h-1.5zm44 0h1.5v1.5h-1.5zm5 0h1.5v1.5h-1.5zm5 0h1.5v1.5h-1.5zm16 0h1.5v1.5h-1.5zm-63 1h1.5v1.5h-1.5zm1 0h1.5v1.5h-1.5zm10 0h1.5v1.5h-1.5zm1 0h1.5v1.5h-1.5zm11 0h1.5v1.5h-1.5zm19 0h1.5v1.5h-1.5z" fill="#eaa890"/><path d="M1566 309h1.5v1.5h-1.5zm-217 26h1.5v1.5h-1.5zm176 0h1.5v1.5h-1.5zm29 11h1.5v1.5h-1.5zm42 6h1.5v1.5h-1.5zm84 11h1.5v1.5h-1.5zm-166 2h1.5v1.5h-1.5zm99 5h1.5v1.5h-1.5zm-177 4h1.5v1.5h-1.5zm199 0h1.5v1.5h-1.5zm-150 2h1.5v1.5h-1.5zm167 0h1.5v1.5h-1.5zm-60 3h1.5v1.5h-1.5zm-201 2h1.5v1.5h-1.5zm119 0h1.5v1.5h-1.5zm165 3h1.5v1.5h-1.5zm-164 4h1.5v1.5h-1.5zm112 1h1.5v1.5h-1.5zm-95 1h1.5v1.5h-1.5zm-51 1h1.5v1.5h-1.5zm-79 1h1.5v1.5h-1.5zm20 0h1.5v1.5h-1.5zm24 0h1.5v1.5h-1.5zm33 0h1.5v1.5h-1.5zm11 0h1.5v1.5h-1.5zm14 0h1.5v1.5h-1.5zm16 0h1.5v1.5h-1.5zm36 0h1.5v1.5h-1.5zm49 0h1.5v1.5h-1.5zm6 1h1.5v1.5h-1.5zm0 1h1.5v1.5h-1.5zm-113 1h1.5v1.5h-1.5zm49 0h1.5v1.5h-1.5zm31 0h1.5v1.5h-1.5zm16 1h1.5v1.5h-1.5zm-97 1h1.5v1.5h-1.5zm142 0h1.5v1.5h-1.5zm-50 1h1.5v1.5h-1.5zm-111 1h1.5v1.5h-1.5zm70 0h1.5v1.5h-1.5zm54 0h1.5v1.5h-1.5zm-75 1h1.5v1.5h-1.5zm-156 1h1.5v1.5h-1.5zm42 0h1.5v1.5h-1.5zm55 0h1.5v1.5h-1.5zm67 0h1.5v1.5h-1.5zm69 0h1.5v1.5h-1.5zm38 0h1.5v1.5h-1.5zm-142 1h1.5v1.5h-1.5zm11 0h1.5v1.5h-1.5zm-91 1h1.5v1.5h-1.5zm61 0h1.5v1.5h-1.5zm30 0h1.5v1.5h-1.5zm32 0h1.5v1.5h-1.5zm18 0h1.5v1.5h-1.5zm-97 1h1.5v1.5h-1.5zm38 0h1.5v1.5h-1.5zm194 0h1.5v1.5h-1.5zm-337 1h1.5v1.5h-1.5zm105 0h1.5v1.5h-1.5zm162 0h1.5v1.5h-1.5zm-228 1h1.5v1.5h-1.5zm89 0h1.5v1.5h-1.5zm20 0h1.5v1.5h-1.5zm1 1h1.5v1.5h-1.5zm-70 1h1.5v1.5h-1.5zm30 0h1.5v1.5h-1.5zm178 1h1.5v1.5h-1.5zm-243 1h1.5v1.5h-1.5zm93 0h1.5v1.5h-1.5zm82 0h1.5v1.5h-1.5zm-114 1h1.5v1.5h-1.5zm71 0h1.5v1.5h-1.5zm28 0h1.5v1.5h-1.5zm7 0h1.5v1.5h-1.5zm-117 1h1.5v1.5h-1.5zm82 0h1.5v1.5h-1.5zm-113 1h1.5v1.5h-1.5zm37 0h1.5v1.5h-1.5zm80 0h1.5v1.5h-1.5zm23 0h1.5v1.5h-1.5zm32 0h1.5v1.5h-1.5zm-109 1h1.5v1.5h-1.5zm62 0h1.5v1.5h-1.5zm-58 1h1.5v1.5h-1.5zm27 0h1.5v1.5h-1.5zm82 0h1.5v1.5h-1.5zm-134 1h1.5v1.5h-1.5zm27 0h1.5v1.5h-1.5zm41 0h1.5v1.5h-1.5zm12 0h1.5v1.5h-1.5zm21 0h1.5v1.5h-1.5zm-114 1h1.5v1.5h-1.5zm111 0h1.5v1.5h-1.5zm25 0h1.5v1.5h-1.5zm-72 1h1.5v1.5h-1.5zm2 0h1.5v1.5h-1.5zm20 0h1.5v1.5h-1.5zm13 0h1.5v1.5h-1.5zm-116 1h1.5v1.5h-1.5zm32 0h1.5v1.5h-1.5zm46 0h1.5v1.5h-1.5zm34 0h1.5v1.5h-1.5zm20 0h1.5v1.5h-1.5zm-85 1h1.5v1.5h-1.5zm15 0h1.5v1.5h-1.5zm39 0h1.5v1.5h-1.5zm33 0h1.5v1.5h-1.5zm21 0h1.5v1.5h-1.5zm-82 1h1.5v1.5h-1.5zm6 0h1.5v1.5h-1.5zm10 0h1.5v1.5h-1.5zm18 0h1.5v1.5h-1.5zm-134 1h1.5v1.5h-1.5zm42 0h1.5v1.5h-1.5zm33 1h1.5v1.5h-1.5zm8 0h1.5v1.5h-1.5zm2 0h1.5v1.5h-1.5zm55 0h1.5v1.5h-1.5zm-98 1h1.5v1.5h-1.5zm45 0h1.5v1.5h-1.5zm7 0h1.5v1.5h-1.5zm13 0h1.5v1.5h-1.5zm8 0h1.5v1.5h-1.5zm-103 1h1.5v1.5h-1.5zm13 0h1.5v1.5h-1.5zm19 0h1.5v1.5h-1.5zm4 0h1.5v1.5h-1.5zm8 0h1.5v1.5h-1.5zm7 0h1.5v1.5h-1.5zm21 0h1.5v1.5h-1.5zm1 0h1.5v1.5h-1.5zm12 0h1.5v1.5h-1.5zm49 0h1.5v1.5h-1.5zm21 0h1.5v1.5h-1.5zm1 0h1.5v1.5h-1.5zm-114 1h1.5v1.5h-1.5zm21 0h1.5v1.5h-1.5zm18 0h1.5v1.5h-1.5zm27 0h1.5v1.5h-1.5zm-116 1h1.5v1.5h-1.5zm40 0h1.5v1.5h-1.5zm31 0h1.5v1.5h-1.5zm27 0h1.5v1.5h-1.5zm1 0h1.5v1.5h-1.5zm97 0h1.5v1.5h-1.5zm-146 1h1.5v1.5h-1.5zm95 0h1.5v1.5h-1.5zm-111 1h1.5v1.5h-1.5zm5 0h1.5v1.5h-1.5zm36 0h1.5v1.5h-1.5zm25 0h1.5v1.5h-1.5zm9 0h1.5v1.5h-1.5zm-81 1h1.5v1.5h-1.5zm12 0h1.5v1.5h-1.5zm43 0h1.5v1.5h-1.5zm10 0h1.5v1.5h-1.5zm-65 1h1.5v1.5h-1.5zm4 0h1.5v1.5h-1.5zm31 0h1.5v1.5h-1.5zm72 0h1.5v1.5h-1.5zm2 0h1.5v1.5h-1.5zm11 0h1.5v1.5h-1.5zm4 0h1.5v1.5h-1.5zm-128 1h1.5v1.5h-1.5zm38 0h1.5v1.5h-1.5zm14 0h1.5v1.5h-1.5zm13 0h1.5v1.5h-1.5zm13 0h1.5v1.5h-1.5zm-10 1h1.5v1.5h-1.5zm18 0h1.5v1.5h-1.5z" fill="#7aa0cc"/><path d="M1488 3h1.5v1.5h-1.5zm22 0h1.5v1.5h-1.5zm-52 1h1.5v1.5h-1.5zm26 0h1.5v1.5h-1.5zm8 0h1.5v1.5h-1.5zm16 0h1.5v1.5h-1.5zm28 0h1.5v1.5h-1.5zm-97 1h1.5v1.5h-1.5zm48 0h1.5v1.5h-1.5zm5 0h1.5v1.5h-1.5zm7 0h1.5v1.5h-1.5zm2 0h1.5v1.5h-1.5zm4 0h1.5v1.5h-1.5zm32 0h1.5v1.5h-1.5zm13 0h1.5v1.5h-1.5zm2 0h1.5v1.5h-1.5zm-105 1h1.5v1.5h-1.5zm33 0h1.5v1.5h-1.5zm2 0h1.5v1.5h-1.5zm0 0h1.5v1.5h-1.5zm8 0h1.5v1.5h-1.5zm1 0h1.5v1.5h-1.5zm17 0h1.5v1.5h-1.5zm6 0h1.5v1.5h-1.5zm2 0h1.5v1.5h-1.5zm5 0h1.5v1.5h-1.5zm2 0h1.5v1.5h-1.5zm24 0h1.5v1.5h-1.5zm17 0h1.5v1.5h-1.5zm-150 1h1.5v1.5h-1.5zm80 0h1.5v1.5h-1.5zm20 0h1.5v1.5h-1.5zm17 0h1.5v1.5h-1.5zm25 0h1.5v1.5h-1.5zm9 0h1.5v1.5h-1.5zm-160 1h1.5v1.5h-1.5zm28 0h1.5v1.5h-1.5zm15 0h1.5v1.5h-1.5zm17 0h1.5v1.5h-1.5zm3 0h1.5v1.5h-1.5zm2 0h1.5v1.5h-1.5zm4 0h1.5v1.5h-1.5zm12 0h1.5v1.5h-1.5zm5 0h1.5v1.5h-1.5zm2 0h1.5v1.5h-1.5zm1 0h1.5v1.5h-1.5zm77 0h1.5v1.5h-1.5zm5 0h1.5v1.5h-1.5zm-156 1h1.5v1.5h-1.5zm2 0h1.5v1.5h-1.5zm23 0h1.5v1.5h-1.5zm21 0h1.5v1.5h-1.5zm4 0h1.5v1.5h-1.5zm23 0h1.5v1.5h-1.5zm1 0h1.5v1.5h-1.5zm3 0h1.5v1.5h-1.5zm24 0h1.5v1.5h-1.5zm24 0h1.5v1.5h-1.5zm0 0h1.5v1.5h-1.5zm10 0h1.5v1.5h-1.5zm23 0h1.5v1.5h-1.5zm-198 1h1.5v1.5h-1.5zm11 0h1.5v1.5h-1.5zm72 0h1.5v1.5h-1.5zm12 0h1.5v1.5h-1.5zm2 0h1.5v1.5h-1.5zm8 0h1.5v1.5h-1.5zm40 0h1.5v1.5h-1.5zm32 0h1.5v1.5h-1.5zm23 0h1.5v1.5h-1.5zm5 0h1.5v1.5h-1.5zm-185 1h1.5v1.5h-1.5zm63 0h1.5v1.5h-1.5zm4 0h1.5v1.5h-1.5zm2 0h1.5v1.5h-1.5zm12 0h1.5v1.5h-1.5zm41 0h1.5v1.5h-1.5zm52 0h1.5v1.5h-1.5zm1 0h1.5v1.5h-1.5zm-181 1h1.5v1.5h-1.5zm13 0h1.5v1.5h-1.5zm25 0h1.5v1.5h-1.5zm55 0h1.5v1.5h-1.5zm22 0h1.5v1.5h-1.5zm5 0h1.5v1.5h-1.5zm18 0h1.5v1.5h-1.5zm28 0h1.5v1.5h-1.5zm24 0h1.5v1.5h-1.5zm-157 1h1.5v1.5h-1.5zm27 0h1.5v1.5h-1.5zm5 0h1.5v1.5h-1.5zm34 0h1.5v1.5h-1.5zm5 0h1.5v1.5h-1.5zm89 0h1.5v1.5h-1.5zm-199 1h1.5v1.5h-1.5zm42 0h1.5v1.5h-1.5zm6 0h1.5v1.5h-1.5zm0 0h1.5v1.5h-1.5zm19 0h1.5v1.5h-1.5zm44 0h1.5v1.5h-1.5zm69 0h1.5v1.5h-1.5zm58 0h1.5v1.5h-1.5zm-133 1h1.5v1.5h-1.5zm19 0h1.5v1.5h-1.5zm1 0h1.5v1.5h-1.5zm6 0h1.5v1.5h-1.5zm14 0h1.5v1.5h-1.5zm5 0h1.5v1.5h-1.5zm27 0h1.5v1.5h-1.5zm-161 1h1.5v1.5h-1.5zm29 0h1.5v1.5h-1.5zm12 0h1.5v1.5h-1.5zm69 0h1.5v1.5h-1.5zm23 0h1.5v1.5h-1.5zm9 0h1.5v1.5h-1.5zm40 0h1.5v1.5h-1.5zm17 0h1.5v1.5h-1.5zm-213 1h1.5v1.5h-1.5zm54 0h1.5v1.5h-1.5zm49 0h1.5v1.5h-1.5zm44 0h1.5v1.5h-1.5zm-91 1h1.5v1.5h-1.5zm15 0h1.5v1.5h-1.5zm2 0h1.5v1.5h-1.5zm1 0h1.5v1.5h-1.5zm1 0h1.5v1.5h-1.5zm36 0h1.5v1.5h-1.5zm-105 1h1.5v1.5h-1.5zm15 0h1.5v1.5h-1.5zm80 0h1.5v1.5h-1.5zm32 0h1.5v1.5h-1.5zm58 0h1.5v1.5h-1.5zm50 0h1.5v1.5h-1.5zm-215 1h1.5v1.5h-1.5zm7 0h1.5v1.5h-1.5zm71 0h1.5v1.5h-1.5zm5 0h1.5v1.5h-1.5zm64 0h1.5v1.5h-1.5zm-147 1h1.5v1.5h-1.5zm18 0h1.5v1.5h-1.5zm11 0h1.5v1.5h-1.5zm35 0h1.5v1.5h-1.5zm11 0h1.5v1.5h-1.5zm12 0h1.5v1.5h-1.5zm27 0h1.5v1.5h-1.5zm-38 1h1.5v1.5h-1.5zm16 0h1.5v1.5h-1.5zm47 0h1.5v1.5h-1.5zm65 0h1.5v1.5h-1.5zm9 0h1.5v1.5h-1.5zm-288 1h1.5v1.5h-1.5zm117 0h1.5v1.5h-1.5zm2 0h1.5v1.5h-1.5zm3 0h1.5v1.5h-1.5zm15 0h1.5v1.5h-1.5zm28 0h1.5v1.5h-1.5zm73 0h1.5v1.5h-1.5zm7 0h1.5v1.5h-1.5zm32 0h1.5v1.5h-1.5zm-176 1h1.5v1.5h-1.5zm12 0h1.5v1.5h-1.5zm55 0h1.5v1.5h-1.5zm19 0h1.5v1.5h-1.5zm31 0h1.5v1.5h-1.5zm119 0h1.5v1.5h-1.5zm-297 1h1.5v1.5h-1.5zm40 0h1.5v1.5h-1.5zm7 0h1.5v1.5h-1.5zm4 0h1.5v1.5h-1.5zm12 0h1.5v1.5h-1.5zm5 0h1.5v1.5h-1.5zm33 0h1.5v1.5h-1.5zm66 0h1.5v1.5h-1.5zm5 0h1.5v1.5h-1.5zm-178 1h1.5v1.5h-1.5zm99 0h1.5v1.5h-1.5zm14 0h1.5v1.5h-1.5zm54 0h1.5v1.5h-1.5zm37 0h1.5v1.5h-1.5zm31 0h1.5v1.5h-1.5zm-259 1h1.5v1.5h-1.5zm13 0h1.5v1.5h-1.5zm81 0h1.5v1.5h-1.5zm9 0h1.5v1.5h-1.5zm8 0h1.5v1.5h-1.5zm29 0h1.5v1.5h-1.5zm33 0h1.5v1.5h-1.5zm8 0h1.5v1.5h-1.5zm20 0h1.5v1.5h-1.5zm18 0h1.5v1.5h-1.5zm6 0h1.5v1.5h-1.5zm57 0h1.5v1.5h-1.5zm55 0h1.5v1.5h-1.5zm-135 1h1.5v1.5h-1.5zm1 0h1.5v1.5h-1.5zm47 0h1.5v1.5h-1.5zm-286 1h1.5v1.5h-1.5zm85 0h1.5v1.5h-1.5zm18 0h1.5v1.5h-1.5zm17 0h1.5v1.5h-1.5zm9 0h1.5v1.5h-1.5zm45 0h1.5v1.5h-1.5zm22 0h1.5v1.5h-1.5zm29 0h1.5v1.5h-1.5zm2 0h1.5v1.5h-1.5zm-207 1h1.5v1.5h-1.5zm42 0h1.5v1.5h-1.5zm59 0h1.5v1.5h-1.5zm81 0h1.5v1.5h-1.5zm10 0h1.5v1.5h-1.5zm-72 1h1.5v1.5h-1.5zm32 0h1.5v1.5h-1.5zm-73 1h1.5v1.5h-1.5zm7 0h1.5v1.5h-1.5zm44 0h1.5v1.5h-1.5zm20 0h1.5v1.5h-1.5zm1 0h1.5v1.5h-1.5zm28 0h1.5v1.5h-1.5zm4 0h1.5v1.5h-1.5zm20 0h1.5v1.5h-1.5zm20 0h1.5v1.5h-1.5zm-219 1h1.5v1.5h-1.5zm52 0h1.5v1.5h-1.5zm21 0h1.5v1.5h-1.5zm37 0h1.5v1.5h-1.5zm65 0h1.5v1.5h-1.5zm3 0h1.5v1.5h-1.5zm27 0h1.5v1.5h-1.5zm10 0h1.5v1.5h-1.5zm22 0h1.5v1.5h-1.5zm39 0h1.5v1.5h-1.5zm-223 1h1.5v1.5h-1.5zm26 0h1.5v1.5h-1.5zm3 0h1.5v1.5h-1.5zm45 0h1.5v1.5h-1.5zm15 0h1.5v1.5h-1.5zm47 0h1.5v1.5h-1.5zm49 0h1.5v1.5h-1.5zm-212 1h1.5v1.5h-1.5zm9 0h1.5v1.5h-1.5zm25 0h1.5v1.5h-1.5zm11 0h1.5v1.5h-1.5zm10 0h1.5v1.5h-1.5zm85 0h1.5v1.5h-1.5zm6 0h1.5v1.5h-1.5zm45 0h1.5v1.5h-1.5zm7 0h1.5v1.5h-1.5zm22 0h1.5v1.5h-1.5zm-150 1h1.5v1.5h-1.5zm88 0h1.5v1.5h-1.5zm40 0h1.5v1.5h-1.5zm110 0h1.5v1.5h-1.5zm-343 1h1.5v1.5h-1.5zm26 0h1.5v1.5h-1.5zm10 0h1.5v1.5h-1.5zm88 0h1.5v1.5h-1.5zm8 0h1.5v1.5h-1.5zm23 0h1.5v1.5h-1.5zm39 0h1.5v1.5h-1.5zm26 0h1.5v1.5h-1.5zm91 0h1.5v1.5h-1.5zm-332 1h1.5v1.5h-1.5zm195 0h1.5v1.5h-1.5zm26 0h1.5v1.5h-1.5zm53 0h1.5v1.5h-1.5zm15 0h1.5v1.5h-1.5zm-204 1h1.5v1.5h-1.5zm21 0h1.5v1.5h-1.5zm151 0h1.5v1.5h-1.5zm132 0h1.5v1.5h-1.5zm-124 1h1.5v1.5h-1.5zm95 0h1.5v1.5h-1.5zm-324 2h1.5v1.5h-1.5zm202 0h1.5v1.5h-1.5zm-47 1h1.5v1.5h-1.5zm69 0h1.5v1.5h-1.5zm15 2h1.5v1.5h-1.5zm-52 2h1.5v1.5h-1.5zm-106 1h1.5v1.5h-1.5zm-30 1h1.5v1.5h-1.5zm-2 1h1.5v1.5h-1.5zm139 3h1.5v1.5h-1.5zm61 2h1.5v1.5h-1.5zm15 1h1.5v1.5h-1.5zm-166 1h1.5v1.5h-1.5zm-113 3h1.5v1.5h-1.5zm-83 1h1.5v1.5h-1.5zm320 4h1.5v1.5h-1.5zm50 0h1.5v1.5h-1.5zm-116 1h1.5v1.5h-1.5zm98 1h1.5v1.5h-1.5zm-301 1h1.5v1.5h-1.5zm504 0h1.5v1.5h-1.5zm-317 1h1.5v1.5h-1.5zm28 6h1.5v1.5h-1.5zm-233 1h1.5v1.5h-1.5zm217 2h1.5v1.5h-1.5zm106 3h1.5v1.5h-1.5zm-87 1h1.5v1.5h-1.5zm113 5h1.5v1.5h-1.5z" fill="#d4706a"/><path d="M1477 3h1.5v1.5h-1.5zm27 0h1.5v1.5h-1.5zm18 0h1.5v1.5h-1.5zm-68 1h1.5v1.5h-1.5zm66 0h1.5v1.5h-1.5zm-55 1h1.5v1.5h-1.5zm44 0h1.5v1.5h-1.5zm22 0h1.5v1.5h-1.5zm16 0h1.5v1.5h-1.5zm-98 1h1.5v1.5h-1.5zm3 0h1.5v1.5h-1.5zm42 0h1.5v1.5h-1.5zm4 0h1.5v1.5h-1.5zm62 0h1.5v1.5h-1.5zm-121 1h1.5v1.5h-1.5zm37 0h1.5v1.5h-1.5zm16 0h1.5v1.5h-1.5zm12 0h1.5v1.5h-1.5zm14 0h1.5v1.5h-1.5zm21 0h1.5v1.5h-1.5zm19 0h1.5v1.5h-1.5zm-138 1h1.5v1.5h-1.5zm92 0h1.5v1.5h-1.5zm11 0h1.5v1.5h-1.5zm32 0h1.5v1.5h-1.5zm25 1h1.5v1.5h-1.5zm-158 1h1.5v1.5h-1.5zm36 0h1.5v1.5h-1.5zm65 0h1.5v1.5h-1.5zm-74 1h1.5v1.5h-1.5zm6 0h1.5v1.5h-1.5zm78 0h1.5v1.5h-1.5zm2 0h1.5v1.5h-1.5zm-81 1h1.5v1.5h-1.5zm14 0h1.5v1.5h-1.5zm4 0h1.5v1.5h-1.5zm8 0h1.5v1.5h-1.5zm9 0h1.5v1.5h-1.5zm20 0h1.5v1.5h-1.5zm16 0h1.5v1.5h-1.5zm64 0h1.5v1.5h-1.5zm-131 1h1.5v1.5h-1.5zm43 0h1.5v1.5h-1.5zm12 0h1.5v1.5h-1.5zm28 0h1.5v1.5h-1.5zm48 0h1.5v1.5h-1.5zm7 0h1.5v1.5h-1.5zm22 0h1.5v1.5h-1.5zm-218 1h1.5v1.5h-1.5zm223 0h1.5v1.5h-1.5zm-201 1h1.5v1.5h-1.5zm43 0h1.5v1.5h-1.5zm24 0h1.5v1.5h-1.5zm2 0h1.5v1.5h-1.5zm31 0h1.5v1.5h-1.5zm6 0h1.5v1.5h-1.5zm76 0h1.5v1.5h-1.5zm-239 1h1.5v1.5h-1.5zm87 0h1.5v1.5h-1.5zm0 0h1.5v1.5h-1.5zm52 0h1.5v1.5h-1.5zm41 0h1.5v1.5h-1.5zm12 0h1.5v1.5h-1.5zm15 0h1.5v1.5h-1.5zm-101 1h1.5v1.5h-1.5zm37 0h1.5v1.5h-1.5zm32 0h1.5v1.5h-1.5zm37 0h1.5v1.5h-1.5zm-189 1h1.5v1.5h-1.5zm14 0h1.5v1.5h-1.5zm5 0h1.5v1.5h-1.5zm30 0h1.5v1.5h-1.5zm130 0h1.5v1.5h-1.5zm-195 1h1.5v1.5h-1.5zm185 0h1.5v1.5h-1.5zm-177 1h1.5v1.5h-1.5zm16 0h1.5v1.5h-1.5zm27 0h1.5v1.5h-1.5zm62 0h1.5v1.5h-1.5zm4 0h1.5v1.5h-1.5zm116 0h1.5v1.5h-1.5zm-212 1h1.5v1.5h-1.5zm48 0h1.5v1.5h-1.5zm28 0h1.5v1.5h-1.5zm1 0h1.5v1.5h-1.5zm30 0h1.5v1.5h-1.5zm-104 1h1.5v1.5h-1.5zm106 0h1.5v1.5h-1.5zm32 0h1.5v1.5h-1.5zm46 0h1.5v1.5h-1.5zm-183 1h1.5v1.5h-1.5zm199 0h1.5v1.5h-1.5zm-111 1h1.5v1.5h-1.5zm48 0h1.5v1.5h-1.5zm1 0h1.5v1.5h-1.5zm61 0h1.5v1.5h-1.5zm-160 1h1.5v1.5h-1.5zm5 0h1.5v1.5h-1.5zm65 0h1.5v1.5h-1.5zm28 0h1.5v1.5h-1.5zm-150 1h1.5v1.5h-1.5zm50 0h1.5v1.5h-1.5zm112 0h1.5v1.5h-1.5zm121 0h1.5v1.5h-1.5zm-70 1h1.5v1.5h-1.5zm-180 1h1.5v1.5h-1.5zm69 0h1.5v1.5h-1.5zm18 0h1.5v1.5h-1.5zm106 0h1.5v1.5h-1.5zm-197 1h1.5v1.5h-1.5zm124 0h1.5v1.5h-1.5zm17 0h1.5v1.5h-1.5zm82 1h1.5v1.5h-1.5zm-147 1h1.5v1.5h-1.5zm-148 1h1.5v1.5h-1.5zm111 0h1.5v1.5h-1.5zm79 0h1.5v1.5h-1.5zm0 0h1.5v1.5h-1.5zm18 0h1.5v1.5h-1.5zm-96 1h1.5v1.5h-1.5zm10 0h1.5v1.5h-1.5zm55 0h1.5v1.5h-1.5zm-119 1h1.5v1.5h-1.5zm119 0h1.5v1.5h-1.5zm13 0h1.5v1.5h-1.5zm-74 1h1.5v1.5h-1.5zm-110 1h1.5v1.5h-1.5zm74 0h1.5v1.5h-1.5zm1 0h1.5v1.5h-1.5zm101 0h1.5v1.5h-1.5zm25 0h1.5v1.5h-1.5zm19 0h1.5v1.5h-1.5zm18 0h1.5v1.5h-1.5zm-135 1h1.5v1.5h-1.5zm-166 1h1.5v1.5h-1.5zm122 0h1.5v1.5h-1.5zm7 0h1.5v1.5h-1.5zm107 0h1.5v1.5h-1.5zm43 0h1.5v1.5h-1.5zm1 0h1.5v1.5h-1.5zm61 0h1.5v1.5h-1.5zm57 0h1.5v1.5h-1.5zm-192 1h1.5v1.5h-1.5zm11 0h1.5v1.5h-1.5zm151 0h1.5v1.5h-1.5zm-171 1h1.5v1.5h-1.5zm27 0h1.5v1.5h-1.5zm7 0h1.5v1.5h-1.5zm46 0h1.5v1.5h-1.5zm-65 1h1.5v1.5h-1.5zm-42 1h1.5v1.5h-1.5zm-58 1h1.5v1.5h-1.5zm-43 4h1.5v1.5h-1.5zm18 1h1.5v1.5h-1.5zm169 0h1.5v1.5h-1.5zm-51 1h1.5v1.5h-1.5zm149 0h1.5v1.5h-1.5zm-119 1h1.5v1.5h-1.5zm98 4h1.5v1.5h-1.5zm-282 5h1.5v1.5h-1.5zm188 0h1.5v1.5h-1.5zm50 2h1.5v1.5h-1.5zm82 3h1.5v1.5h-1.5zm-104 8h1.5v1.5h-1.5zm-306 2h1.5v1.5h-1.5zm124 7h1.5v1.5h-1.5zm432 2h1.5v1.5h-1.5zm-371 2h1.5v1.5h-1.5zm125 12h1.5v1.5h-1.5zm-229 11h1.5v1.5h-1.5zm56 20h1.5v1.5h-1.5z" fill="#b84050"/><path d="M1480 3h1.5v1.5h-1.5zm11 0h1.5v1.5h-1.5zm35 0h1.5v1.5h-1.5zm-58 1h1.5v1.5h-1.5zm2 0h1.5v1.5h-1.5zm18 0h1.5v1.5h-1.5zm18 0h1.5v1.5h-1.5zm7 0h1.5v1.5h-1.5zm16 0h1.5v1.5h-1.5zm-97 1h1.5v1.5h-1.5zm49 0h1.5v1.5h-1.5zm5 0h1.5v1.5h-1.5zm4 0h1.5v1.5h-1.5zm2 0h1.5v1.5h-1.5zm47 0h1.5v1.5h-1.5zm-77 1h1.5v1.5h-1.5zm40 0h1.5v1.5h-1.5zm15 0h1.5v1.5h-1.5zm2 0h1.5v1.5h-1.5zm22 0h1.5v1.5h-1.5zm8 0h1.5v1.5h-1.5zm-130 1h1.5v1.5h-1.5zm21 0h1.5v1.5h-1.5zm34 0h1.5v1.5h-1.5zm0 0h1.5v1.5h-1.5zm25 0h1.5v1.5h-1.5zm0 0h1.5v1.5h-1.5zm50 0h1.5v1.5h-1.5zm-134 1h1.5v1.5h-1.5zm55 0h1.5v1.5h-1.5zm13 0h1.5v1.5h-1.5zm9 0h1.5v1.5h-1.5zm17 0h1.5v1.5h-1.5zm-38 1h1.5v1.5h-1.5zm17 0h1.5v1.5h-1.5zm33 0h1.5v1.5h-1.5zm28 0h1.5v1.5h-1.5zm-122 1h1.5v1.5h-1.5zm46 0h1.5v1.5h-1.5zm16 0h1.5v1.5h-1.5zm40 0h1.5v1.5h-1.5zm9 0h1.5v1.5h-1.5zm20 0h1.5v1.5h-1.5zm8 0h1.5v1.5h-1.5zm25 0h1.5v1.5h-1.5zm-182 1h1.5v1.5h-1.5zm79 0h1.5v1.5h-1.5zm2 0h1.5v1.5h-1.5zm25 0h1.5v1.5h-1.5zm5 0h1.5v1.5h-1.5zm57 0h1.5v1.5h-1.5zm4 0h1.5v1.5h-1.5zm-135 1h1.5v1.5h-1.5zm27 0h1.5v1.5h-1.5zm19 0h1.5v1.5h-1.5zm23 0h1.5v1.5h-1.5zm1 0h1.5v1.5h-1.5zm15 0h1.5v1.5h-1.5zm44 0h1.5v1.5h-1.5zm9 0h1.5v1.5h-1.5zm-183 1h1.5v1.5h-1.5zm1 0h1.5v1.5h-1.5zm28 0h1.5v1.5h-1.5zm10 0h1.5v1.5h-1.5zm46 0h1.5v1.5h-1.5zm8 0h1.5v1.5h-1.5zm9 0h1.5v1.5h-1.5zm116 0h1.5v1.5h-1.5zm-213 1h1.5v1.5h-1.5zm19 0h1.5v1.5h-1.5zm87 0h1.5v1.5h-1.5zm0 0h1.5v1.5h-1.5zm2 0h1.5v1.5h-1.5zm13 0h1.5v1.5h-1.5zm90 0h1.5v1.5h-1.5zm-205 1h1.5v1.5h-1.5zm30 0h1.5v1.5h-1.5zm61 0h1.5v1.5h-1.5zm12 0h1.5v1.5h-1.5zm14 0h1.5v1.5h-1.5zm26 0h1.5v1.5h-1.5zm9 0h1.5v1.5h-1.5zm-158 1h1.5v1.5h-1.5zm64 0h1.5v1.5h-1.5zm3 0h1.5v1.5h-1.5zm92 0h1.5v1.5h-1.5zm25 0h1.5v1.5h-1.5zm-152 1h1.5v1.5h-1.5zm2 0h1.5v1.5h-1.5zm39 0h1.5v1.5h-1.5zm12 0h1.5v1.5h-1.5zm88 0h1.5v1.5h-1.5zm-135 1h1.5v1.5h-1.5zm53 0h1.5v1.5h-1.5zm-54 1h1.5v1.5h-1.5zm12 0h1.5v1.5h-1.5zm22 0h1.5v1.5h-1.5zm59 0h1.5v1.5h-1.5zm3 0h1.5v1.5h-1.5zm-82 1h1.5v1.5h-1.5zm33 0h1.5v1.5h-1.5zm26 0h1.5v1.5h-1.5zm-59 1h1.5v1.5h-1.5zm-109 1h1.5v1.5h-1.5zm13 0h1.5v1.5h-1.5zm81 0h1.5v1.5h-1.5zm7 0h1.5v1.5h-1.5zm136 0h1.5v1.5h-1.5zm-159 1h1.5v1.5h-1.5zm44 0h1.5v1.5h-1.5zm103 0h1.5v1.5h-1.5zm3 0h1.5v1.5h-1.5zm12 0h1.5v1.5h-1.5zm8 0h1.5v1.5h-1.5zm-98 1h1.5v1.5h-1.5zm1 0h1.5v1.5h-1.5zm28 0h1.5v1.5h-1.5zm1 0h1.5v1.5h-1.5zm42 0h1.5v1.5h-1.5zm26 0h1.5v1.5h-1.5zm31 0h1.5v1.5h-1.5zm-90 1h1.5v1.5h-1.5zm58 0h1.5v1.5h-1.5zm-117 1h1.5v1.5h-1.5zm6 0h1.5v1.5h-1.5zm8 0h1.5v1.5h-1.5zm30 0h1.5v1.5h-1.5zm70 0h1.5v1.5h-1.5zm42 0h1.5v1.5h-1.5zm-235 1h1.5v1.5h-1.5zm74 0h1.5v1.5h-1.5zm36 0h1.5v1.5h-1.5zm7 0h1.5v1.5h-1.5zm35 0h1.5v1.5h-1.5zm16 0h1.5v1.5h-1.5zm-56 1h1.5v1.5h-1.5zm14 0h1.5v1.5h-1.5zm15 0h1.5v1.5h-1.5zm34 0h1.5v1.5h-1.5zm0 0h1.5v1.5h-1.5zm-45 1h1.5v1.5h-1.5zm8 0h1.5v1.5h-1.5zm27 0h1.5v1.5h-1.5zm5 0h1.5v1.5h-1.5zm1 0h1.5v1.5h-1.5zm-176 1h1.5v1.5h-1.5zm63 0h1.5v1.5h-1.5zm47 0h1.5v1.5h-1.5zm25 0h1.5v1.5h-1.5zm34 0h1.5v1.5h-1.5zm-124 1h1.5v1.5h-1.5zm114 0h1.5v1.5h-1.5zm-164 1h1.5v1.5h-1.5zm75 0h1.5v1.5h-1.5zm11 0h1.5v1.5h-1.5zm16 0h1.5v1.5h-1.5zm15 0h1.5v1.5h-1.5zm49 0h1.5v1.5h-1.5zm-117 1h1.5v1.5h-1.5zm33 0h1.5v1.5h-1.5zm80 0h1.5v1.5h-1.5zm66 0h1.5v1.5h-1.5zm37 0h1.5v1.5h-1.5zm-290 1h1.5v1.5h-1.5zm176 0h1.5v1.5h-1.5zm70 0h1.5v1.5h-1.5zm7 0h1.5v1.5h-1.5zm12 0h1.5v1.5h-1.5zm21 0h1.5v1.5h-1.5zm-314 1h1.5v1.5h-1.5zm109 0h1.5v1.5h-1.5zm46 0h1.5v1.5h-1.5zm32 0h1.5v1.5h-1.5zm-8 1h1.5v1.5h-1.5zm1 0h1.5v1.5h-1.5zm30 0h1.5v1.5h-1.5zm58 0h1.5v1.5h-1.5zm-157 1h1.5v1.5h-1.5zm-14 1h1.5v1.5h-1.5zm76 0h1.5v1.5h-1.5zm10 0h1.5v1.5h-1.5zm92 0h1.5v1.5h-1.5zm-188 1h1.5v1.5h-1.5zm11 0h1.5v1.5h-1.5zm28 0h1.5v1.5h-1.5zm116 0h1.5v1.5h-1.5zm-212 1h1.5v1.5h-1.5zm85 0h1.5v1.5h-1.5zm32 0h1.5v1.5h-1.5zm-37 1h1.5v1.5h-1.5zm202 0h1.5v1.5h-1.5zm-79 1h1.5v1.5h-1.5zm106 0h1.5v1.5h-1.5zm-265 2h1.5v1.5h-1.5zm145 2h1.5v1.5h-1.5zm-171 2h1.5v1.5h-1.5zm165 1h1.5v1.5h-1.5zm-29 2h1.5v1.5h-1.5zm-80 3h1.5v1.5h-1.5zm-167 1h1.5v1.5h-1.5zm340 0h1.5v1.5h-1.5zm87 2h1.5v1.5h-1.5zm-385 2h1.5v1.5h-1.5zm134 2h1.5v1.5h-1.5zm220 3h1.5v1.5h-1.5zm-77 32h1.5v1.5h-1.5zm-208 3h1.5v1.5h-1.5zm120 3h1.5v1.5h-1.5zm-64 11h1.5v1.5h-1.5z" fill="#eaa890"/><path d="M1491 4h1.5v1.5h-1.5zm36 1h1.5v1.5h-1.5zm15 0h1.5v1.5h-1.5zm-57 1h1.5v1.5h-1.5zm16 0h1.5v1.5h-1.5zm15 1h1.5v1.5h-1.5zm-89 1h1.5v1.5h-1.5zm89 0h1.5v1.5h-1.5zm-87 1h1.5v1.5h-1.5zm63 0h1.5v1.5h-1.5zm25 0h1.5v1.5h-1.5zm-50 1h1.5v1.5h-1.5zm75 0h1.5v1.5h-1.5zm-90 1h1.5v1.5h-1.5zm-86 1h1.5v1.5h-1.5zm65 0h1.5v1.5h-1.5zm75 0h1.5v1.5h-1.5zm-103 2h1.5v1.5h-1.5zm64 0h1.5v1.5h-1.5zm2 0h1.5v1.5h-1.5zm34 0h1.5v1.5h-1.5zm3 0h1.5v1.5h-1.5zm10 0h1.5v1.5h-1.5zm6 0h1.5v1.5h-1.5zm54 0h1.5v1.5h-1.5zm-4 1h1.5v1.5h-1.5zm24 0h1.5v1.5h-1.5zm-98 1h1.5v1.5h-1.5zm-39 1h1.5v1.5h-1.5zm85 0h1.5v1.5h-1.5zm-68 1h1.5v1.5h-1.5zm50 1h1.5v1.5h-1.5zm26 0h1.5v1.5h-1.5zm15 0h1.5v1.5h-1.5zm-117 1h1.5v1.5h-1.5zm-32 1h1.5v1.5h-1.5zm-31 1h1.5v1.5h-1.5zm62 0h1.5v1.5h-1.5zm91 0h1.5v1.5h-1.5zm-74 2h1.5v1.5h-1.5zm20 0h1.5v1.5h-1.5zm44 0h1.5v1.5h-1.5zm-88 1h1.5v1.5h-1.5zm157 0h1.5v1.5h-1.5zm-149 1h1.5v1.5h-1.5zm156 0h1.5v1.5h-1.5zm-304 2h1.5v1.5h-1.5zm247 0h1.5v1.5h-1.5zm-67 1h1.5v1.5h-1.5zm14 0h1.5v1.5h-1.5zm-55 2h1.5v1.5h-1.5zm9 0h1.5v1.5h-1.5zm37 0h1.5v1.5h-1.5zm-1 1h1.5v1.5h-1.5zm127 0h1.5v1.5h-1.5zm-124 2h1.5v1.5h-1.5zm37 0h1.5v1.5h-1.5zm162 3h1.5v1.5h-1.5zm-257 1h1.5v1.5h-1.5zm188 0h1.5v1.5h-1.5zm-125 1h1.5v1.5h-1.5zm-21 1h1.5v1.5h-1.5zm-145 1h1.5v1.5h-1.5zm225 6h1.5v1.5h-1.5zm-6 10h1.5v1.5h-1.5zm-100 5h1.5v1.5h-1.5zm170 0h1.5v1.5h-1.5zm26 2h1.5v1.5h-1.5zm-263 3h1.5v1.5h-1.5zm-4 4h1.5v1.5h-1.5z" fill="#7aa0cc"/><use href="#cont" transform="translate(1009,0)"/><path d="M1277.1 405.9 L1279.6 403.9 L1282.3 401.9 L1285.2 399.9 L1288.2 398.0 L1291.4 396.2 L1294.8 394.4 L1298.3 392.7 L1302.0 391.1 L1305.8 389.5 L1309.7 387.9 L1313.7 386.4 L1317.9 385.0 L1322.2 383.6 L1326.6 382.2 L1331.1 380.9 L1335.7 379.7 L1340.4 378.5 L1345.1 377.3 L1350.0 376.2 L1354.9 375.2 L1359.9 374.2 L1365.0 373.2 L1370.1 372.3 L1375.3 371.4 L1380.6 370.6 L1385.9 369.8 L1391.3 369.1 L1396.7 368.4 L1402.2 367.7 L1407.7 367.1 L1413.2 366.6 L1418.8 366.0 L1424.4 365.5 L1430.1 365.1 L1435.8 364.7 L1441.5 364.3 L1447.2 364.0 L1452.9 363.7 L1458.7 363.5 L1464.5 363.2 L1470.3 363.1 L1476.1 362.9 L1481.9 362.8 L1487.7 362.8 L1493.5 362.8 L1499.3 362.8 L1505.1 362.8 L1510.9 362.9 L1516.7 363.1 L1522.5 363.2 L1528.3 363.5 L1534.1 363.7 L1539.8 364.0 L1545.5 364.3 L1551.2 364.7 L1556.9 365.1 L1562.6 365.5 L1568.2 366.0 L1573.8 366.6 L1579.3 367.1 L1584.8 367.7 L1590.3 368.4 L1595.7 369.1 L1601.1 369.8 L1606.4 370.6 L1611.7 371.4 L1616.9 372.3 L1622.0 373.2 L1627.1 374.2 L1632.1 375.2 L1637.0 376.2 L1641.9 377.3 L1646.6 378.5 L1651.3 379.7 L1655.9 380.9 L1660.4 382.2 L1664.8 383.6 L1669.1 385.0 L1673.3 386.4 L1677.3 387.9 L1681.2 389.5 L1685.0 391.1 L1688.7 392.7 L1692.2 394.4 L1695.6 396.2 L1698.8 398.0 L1701.8 399.9 L1704.7 401.9 L1707.4 403.9 L1709.9 405.9M1118.7 326.7 L1126.0 324.7 L1133.3 322.7 L1140.8 320.9 L1148.4 319.1 L1156.0 317.4 L1163.7 315.8 L1171.5 314.3 L1179.4 312.8 L1187.3 311.4 L1195.3 310.1 L1203.4 308.8 L1211.5 307.6 L1219.6 306.5 L1227.8 305.4 L1236.1 304.3 L1244.3 303.3 L1252.6 302.4 L1261.0 301.5 L1269.4 300.6 L1277.8 299.8 L1286.2 299.0 L1294.7 298.3 L1303.2 297.6 L1311.7 296.9 L1320.2 296.3 L1328.8 295.7 L1337.3 295.2 L1345.9 294.7 L1354.5 294.2 L1363.1 293.8 L1371.8 293.4 L1380.4 293.0 L1389.1 292.6 L1397.7 292.3 L1406.4 292.0 L1415.1 291.7 L1423.8 291.5 L1432.5 291.3 L1441.2 291.1 L1449.9 291.0 L1458.6 290.9 L1467.3 290.8 L1476.1 290.7 L1484.8 290.6 L1493.5 290.6 L1502.2 290.6 L1510.9 290.7 L1519.7 290.8 L1528.4 290.9 L1537.1 291.0 L1545.8 291.1 L1554.5 291.3 L1563.2 291.5 L1571.9 291.7 L1580.6 292.0 L1589.3 292.3 L1597.9 292.6 L1606.6 293.0 L1615.2 293.4 L1623.9 293.8 L1632.5 294.2 L1641.1 294.7 L1649.7 295.2 L1658.2 295.7 L1666.8 296.3 L1675.3 296.9 L1683.8 297.6 L1692.3 298.3 L1700.8 299.0 L1709.2 299.8 L1717.6 300.6 L1726.0 301.5 L1734.4 302.4 L1742.7 303.3 L1750.9 304.3 L1759.2 305.4 L1767.4 306.5 L1775.5 307.6 L1783.6 308.8 L1791.7 310.1 L1799.7 311.4 L1807.6 312.8 L1815.5 314.3 L1823.3 315.8 L1831.0 317.4 L1838.6 319.1 L1846.2 320.9 L1853.7 322.7 L1861.0 324.7 L1868.3 326.7M1118.7 110.3 L1126.0 112.3 L1133.3 114.3 L1140.8 116.1 L1148.4 117.9 L1156.0 119.6 L1163.7 121.2 L1171.5 122.7 L1179.4 124.2 L1187.3 125.6 L1195.3 126.9 L1203.4 128.2 L1211.5 129.4 L1219.6 130.5 L1227.8 131.6 L1236.1 132.7 L1244.3 133.7 L1252.6 134.6 L1261.0 135.5 L1269.4 136.4 L1277.8 137.2 L1286.2 138.0 L1294.7 138.7 L1303.2 139.4 L1311.7 140.1 L1320.2 140.7 L1328.8 141.3 L1337.3 141.8 L1345.9 142.3 L1354.5 142.8 L1363.1 143.2 L1371.8 143.6 L1380.4 144.0 L1389.1 144.4 L1397.7 144.7 L1406.4 145.0 L1415.1 145.3 L1423.8 145.5 L1432.5 145.7 L1441.2 145.9 L1449.9 146.0 L1458.6 146.1 L1467.3 146.2 L1476.1 146.3 L1484.8 146.4 L1493.5 146.4 L1502.2 146.4 L1510.9 146.3 L1519.7 146.2 L1528.4 146.1 L1537.1 146.0 L1545.8 145.9 L1554.5 145.7 L1563.2 145.5 L1571.9 145.3 L1580.6 145.0 L1589.3 144.7 L1597.9 144.4 L1606.6 144.0 L1615.2 143.6 L1623.9 143.2 L1632.5 142.8 L1641.1 142.3 L1649.7 141.8 L1658.2 141.3 L1666.8 140.7 L1675.3 140.1 L1683.8 139.4 L1692.3 138.7 L1700.8 138.0 L1709.2 137.2 L1717.6 136.4 L1726.0 135.5 L1734.4 134.6 L1742.7 133.7 L1750.9 132.7 L1759.2 131.6 L1767.4 130.5 L1775.5 129.4 L1783.6 128.2 L1791.7 126.9 L1799.7 125.6 L1807.6 124.2 L1815.5 122.7 L1823.3 121.2 L1831.0 119.6 L1838.6 117.9 L1846.2 116.1 L1853.7 114.3 L1861.0 112.3 L1868.3 110.3M1277.1 31.1 L1279.6 33.1 L1282.3 35.1 L1285.2 37.1 L1288.2 39.0 L1291.4 40.8 L1294.8 42.6 L1298.3 44.3 L1302.0 45.9 L1305.8 47.5 L1309.7 49.1 L1313.7 50.6 L1317.9 52.0 L1322.2 53.4 L1326.6 54.8 L1331.1 56.1 L1335.7 57.3 L1340.4 58.5 L1345.1 59.7 L1350.0 60.8 L1354.9 61.8 L1359.9 62.8 L1365.0 63.8 L1370.1 64.7 L1375.3 65.6 L1380.6 66.4 L1385.9 67.2 L1391.3 67.9 L1396.7 68.6 L1402.2 69.3 L1407.7 69.9 L1413.2 70.4 L1418.8 71.0 L1424.4 71.5 L1430.1 71.9 L1435.8 72.3 L1441.5 72.7 L1447.2 73.0 L1452.9 73.3 L1458.7 73.5 L1464.5 73.8 L1470.3 73.9 L1476.1 74.1 L1481.9 74.2 L1487.7 74.2 L1493.5 74.2 L1499.3 74.2 L1505.1 74.2 L1510.9 74.1 L1516.7 73.9 L1522.5 73.8 L1528.3 73.5 L1534.1 73.3 L1539.8 73.0 L1545.5 72.7 L1551.2 72.3 L1556.9 71.9 L1562.6 71.5 L1568.2 71.0 L1573.8 70.4 L1579.3 69.9 L1584.8 69.3 L1590.3 68.6 L1595.7 67.9 L1601.1 67.2 L1606.4 66.4 L1611.7 65.6 L1616.9 64.7 L1622.0 63.8 L1627.1 62.8 L1632.1 61.8 L1637.0 60.8 L1641.9 59.7 L1646.6 58.5 L1651.3 57.3 L1655.9 56.1 L1660.4 54.8 L1664.8 53.4 L1669.1 52.0 L1673.3 50.6 L1677.3 49.1 L1681.2 47.5 L1685.0 45.9 L1688.7 44.3 L1692.2 42.6 L1695.6 40.8 L1698.8 39.0 L1701.8 37.1 L1704.7 35.1 L1707.4 33.1 L1709.9 31.1M1060.7 218.5H1926.3M1493.5 434.9 L1477.9 429.7 L1462.9 424.1 L1448.7 418.4 L1435.2 412.4 L1422.4 406.2 L1410.2 399.8 L1398.6 393.3 L1387.7 386.6 L1377.3 379.7 L1367.5 372.8 L1358.3 365.7 L1349.7 358.5 L1341.6 351.2 L1334.0 343.8 L1326.9 336.3 L1320.3 328.7 L1314.3 321.1 L1308.7 313.5 L1303.6 305.7 L1298.9 297.9 L1294.7 290.1 L1291.0 282.3 L1287.7 274.4 L1284.9 266.4 L1282.5 258.5 L1280.6 250.5 L1279.0 242.5 L1278.0 234.5 L1277.3 226.5 L1277.1 218.5 L1277.3 210.5 L1278.0 202.5 L1279.0 194.5 L1280.6 186.5 L1282.5 178.5 L1284.9 170.6 L1287.7 162.6 L1291.0 154.7 L1294.7 146.9 L1298.9 139.1 L1303.6 131.3 L1308.7 123.5 L1314.3 115.9 L1320.3 108.3 L1326.9 100.7 L1334.0 93.2 L1341.6 85.8 L1349.7 78.5 L1358.3 71.3 L1367.5 64.2 L1377.3 57.3 L1387.7 50.4 L1398.6 43.7 L1410.2 37.2 L1422.4 30.8 L1435.2 24.6 L1448.7 18.6 L1462.9 12.9 L1477.9 7.3 L1493.5 2.1M1493.5 434.9 L1509.1 429.7 L1524.1 424.1 L1538.3 418.4 L1551.8 412.4 L1564.6 406.2 L1576.8 399.8 L1588.4 393.3 L1599.3 386.6 L1609.7 379.7 L1619.5 372.8 L1628.7 365.7 L1637.3 358.5 L1645.4 351.2 L1653.0 343.8 L1660.1 336.3 L1666.7 328.7 L1672.7 321.1 L1678.3 313.5 L1683.4 305.7 L1688.1 297.9 L1692.3 290.1 L1696.0 282.3 L1699.3 274.4 L1702.1 266.4 L1704.5 258.5 L1706.4 250.5 L1708.0 242.5 L1709.0 234.5 L1709.7 226.5 L1709.9 218.5 L1709.7 210.5 L1709.0 202.5 L1708.0 194.5 L1706.4 186.5 L1704.5 178.5 L1702.1 170.6 L1699.3 162.6 L1696.0 154.7 L1692.3 146.9 L1688.1 139.1 L1683.4 131.3 L1678.3 123.5 L1672.7 115.9 L1666.7 108.3 L1660.1 100.7 L1653.0 93.2 L1645.4 85.8 L1637.3 78.5 L1628.7 71.3 L1619.5 64.2 L1609.7 57.3 L1599.3 50.4 L1588.4 43.7 L1576.8 37.2 L1564.6 30.8 L1551.8 24.6 L1538.3 18.6 L1524.1 12.9 L1509.1 7.3 L1493.5 2.1M1493.5 2.1V434.9" fill="none" stroke="#7a7a7a" stroke-width="1.1"/></g><ellipse cx="1493.5" cy="218.5" rx="432.8" ry="216.4" fill="none" stroke="#7a7a7a" stroke-width="1.1"/><text x="252.9" y="20" font-size="20.5" textLength="31.2" lengthAdjust="spacingAndGlyphs">60°</text><text x="685.0" y="20" font-size="20.5" textLength="31.2" lengthAdjust="spacingAndGlyphs">60°</text><text x="95.0" y="99.5" font-size="20.5" textLength="30.9" lengthAdjust="spacingAndGlyphs">30°</text><text x="843.4" y="99.5" font-size="20.5" textLength="30.9" lengthAdjust="spacingAndGlyphs">30°</text><text x="25.9" y="226.7" font-size="20.5" textLength="19.2" lengthAdjust="spacingAndGlyphs">0°</text><text x="924.1" y="226.7" font-size="20.5" textLength="19.2" lengthAdjust="spacingAndGlyphs">0°</text><text x="90.7" y="353" font-size="20.5" textLength="36.8" lengthAdjust="spacingAndGlyphs">-30°</text><text x="841.1" y="353" font-size="20.5" textLength="36.8" lengthAdjust="spacingAndGlyphs">-30°</text><text x="248.3" y="432.8" font-size="20.5" textLength="37.0" lengthAdjust="spacingAndGlyphs">-60°</text><text x="683.3" y="432.8" font-size="20.5" textLength="37.0" lengthAdjust="spacingAndGlyphs">-60°</text><text x="1261.9" y="20" font-size="20.5" textLength="31.2" lengthAdjust="spacingAndGlyphs">60°</text><text x="1694.0" y="20" font-size="20.5" textLength="31.2" lengthAdjust="spacingAndGlyphs">60°</text><text x="1104.0" y="99.5" font-size="20.5" textLength="30.9" lengthAdjust="spacingAndGlyphs">30°</text><text x="1852.4" y="99.5" font-size="20.5" textLength="30.9" lengthAdjust="spacingAndGlyphs">30°</text><text x="1034.9" y="226.7" font-size="20.5" textLength="19.2" lengthAdjust="spacingAndGlyphs">0°</text><text x="1933.1" y="226.7" font-size="20.5" textLength="19.2" lengthAdjust="spacingAndGlyphs">0°</text><text x="1099.7" y="353" font-size="20.5" textLength="36.8" lengthAdjust="spacingAndGlyphs">-30°</text><text x="1850.1" y="353" font-size="20.5" textLength="36.8" lengthAdjust="spacingAndGlyphs">-30°</text><text x="1257.3" y="432.8" font-size="20.5" textLength="37.0" lengthAdjust="spacingAndGlyphs">-60°</text><text x="1692.3" y="432.8" font-size="20.5" textLength="37.0" lengthAdjust="spacingAndGlyphs">-60°</text><rect x="951" y="149.6" width="34.2" height="250.2" fill="url(#rdbu)"/><line x1="985.2" y1="150" x2="988.5" y2="150" stroke="#555" stroke-width="0.8"/><line x1="985.2" y1="274.8" x2="988.5" y2="274.8" stroke="#555" stroke-width="0.8"/><text x="914.9" y="73.5" font-size="28" textLength="82.7" lengthAdjust="spacingAndGlyphs">dif. FeO</text><text x="932.8" y="107" font-size="28" textLength="64.1" lengthAdjust="spacingAndGlyphs" stroke="#000" stroke-width="0.7">(wt.%)</text><text x="967" y="143.4" font-size="29" textLength="11.2" lengthAdjust="spacingAndGlyphs">5</text><text x="958.8" y="428.4" font-size="29" textLength="19.3" lengthAdjust="spacingAndGlyphs">-5</text><rect x="1960" y="149.6" width="34.2" height="250.2" fill="url(#rdbu)"/><line x1="1994.2" y1="150" x2="1997.5" y2="150" stroke="#555" stroke-width="0.8"/><line x1="1994.2" y1="274.8" x2="1997.5" y2="274.8" stroke="#555" stroke-width="0.8"/><text x="1908.5" y="73.5" font-size="28" textLength="83.4" lengthAdjust="spacingAndGlyphs">dif. TiO<tspan font-size="16" dy="8.2">2</tspan></text><text x="1927.1" y="107" font-size="28" textLength="63.7" lengthAdjust="spacingAndGlyphs" stroke="#000" stroke-width="0.7">(wt.%)</text><text x="1974.6" y="143.4" font-size="29" textLength="11.7" lengthAdjust="spacingAndGlyphs">3</text><text x="1966.8" y="428.4" font-size="29" textLength="19.3" lengthAdjust="spacingAndGlyphs">-3</text><line x1="133.6" y1="503.5" x2="133.6" y2="891" stroke="#b0b0b0" stroke-width="1.5"/><line x1="226.2" y1="503.5" x2="226.2" y2="891" stroke="#b0b0b0" stroke-width="1.5"/><line x1="318.8" y1="503.5" x2="318.8" y2="891" stroke="#b0b0b0" stroke-width="1.5"/><line x1="411.4" y1="503.5" x2="411.4" y2="891" stroke="#b0b0b0" stroke-width="1.5"/><line x1="504" y1="503.5" x2="504" y2="891" stroke="#b0b0b0" stroke-width="1.5"/><line x1="596.6" y1="503.5" x2="596.6" y2="891" stroke="#b0b0b0" stroke-width="1.5"/><line x1="115" y1="891" x2="659" y2="891" stroke="#b0b0b0" stroke-width="1.5"/><line x1="115" y1="816.3" x2="659" y2="816.3" stroke="#b0b0b0" stroke-width="1.5"/><line x1="115" y1="741.6" x2="659" y2="741.6" stroke="#b0b0b0" stroke-width="1.5"/><line x1="115" y1="666.9" x2="659" y2="666.9" stroke="#b0b0b0" stroke-width="1.5"/><line x1="115" y1="592.2" x2="659" y2="592.2" stroke="#b0b0b0" stroke-width="1.5"/><line x1="115" y1="517.5" x2="659" y2="517.5" stroke="#b0b0b0" stroke-width="1.5"/><g fill="#808080" stroke="#000" stroke-width="1.7"><rect x="136.4" y="890.4" width="12.5" height="0.6"/><rect x="148.9" y="890.4" width="12.5" height="0.6"/><rect x="161.4" y="890.4" width="12.5" height="0.6"/><rect x="173.9" y="890.4" width="12.5" height="0.6"/><rect x="186.4" y="890.4" width="12.5" height="0.6"/><rect x="198.9" y="890.4" width="12.5" height="0.6"/><rect x="211.4" y="890.4" width="12.5" height="0.6"/><rect x="223.9" y="890.4" width="12.5" height="0.6"/><rect x="236.4" y="890.4" width="12.5" height="0.6"/><rect x="248.9" y="890.4" width="12.5" height="0.6"/><rect x="261.4" y="890.4" width="12.5" height="0.6"/><rect x="273.9" y="890.4" width="12.5" height="0.6"/><rect x="286.4" y="890.4" width="12.5" height="0.6"/><rect x="298.9" y="890.4" width="12.5" height="0.6"/><rect x="311.4" y="890.4" width="12.5" height="0.6"/><rect x="323.9" y="890.4" width="12.5" height="0.6"/><rect x="336.4" y="889.5" width="12.5" height="1.5"/><rect x="348.9" y="884.3" width="12.5" height="6.7"/><rect x="361.4" y="866.5" width="12.5" height="24.5"/><rect x="373.9" y="808.8" width="12.5" height="82.2"/><rect x="386.4" y="632.3" width="12.5" height="258.7"/><rect x="398.9" y="521.6" width="12.5" height="369.4"/><rect x="411.4" y="646.1" width="12.5" height="244.9"/><rect x="423.9" y="762.6" width="12.5" height="128.4"/><rect x="436.4" y="826.6" width="12.5" height="64.4"/><rect x="448.9" y="878" width="12.5" height="13"/><rect x="461.4" y="888.5" width="12.5" height="2.5"/><rect x="473.9" y="889.8" width="12.5" height="1.2"/><rect x="486.4" y="890.4" width="12.5" height="0.6"/><rect x="498.9" y="890.4" width="12.5" height="0.6"/><rect x="511.4" y="890.4" width="12.5" height="0.6"/><rect x="523.9" y="890.4" width="12.5" height="0.6"/><rect x="536.4" y="890.4" width="12.5" height="0.6"/><rect x="548.9" y="890.4" width="12.5" height="0.6"/><rect x="561.4" y="890.4" width="12.5" height="0.6"/><rect x="573.9" y="890.4" width="12.5" height="0.6"/><rect x="586.4" y="890.4" width="12.5" height="0.6"/><rect x="598.9" y="890.4" width="12.5" height="0.6"/><rect x="611.4" y="890.4" width="12.5" height="0.6"/><rect x="623.9" y="890.4" width="12.5" height="0.6"/></g><g opacity="0.85"><line x1="133.6" y1="503.5" x2="133.6" y2="891" stroke="#b0b0b0" stroke-width="1.5"/><line x1="226.2" y1="503.5" x2="226.2" y2="891" stroke="#b0b0b0" stroke-width="1.5"/><line x1="318.8" y1="503.5" x2="318.8" y2="891" stroke="#b0b0b0" stroke-width="1.5"/><line x1="411.4" y1="503.5" x2="411.4" y2="891" stroke="#b0b0b0" stroke-width="1.5"/><line x1="504" y1="503.5" x2="504" y2="891" stroke="#b0b0b0" stroke-width="1.5"/><line x1="596.6" y1="503.5" x2="596.6" y2="891" stroke="#b0b0b0" stroke-width="1.5"/><line x1="115" y1="891" x2="659" y2="891" stroke="#b0b0b0" stroke-width="1.5"/><line x1="115" y1="816.3" x2="659" y2="816.3" stroke="#b0b0b0" stroke-width="1.5"/><line x1="115" y1="741.6" x2="659" y2="741.6" stroke="#b0b0b0" stroke-width="1.5"/><line x1="115" y1="666.9" x2="659" y2="666.9" stroke="#b0b0b0" stroke-width="1.5"/><line x1="115" y1="592.2" x2="659" y2="592.2" stroke="#b0b0b0" stroke-width="1.5"/><line x1="115" y1="517.5" x2="659" y2="517.5" stroke="#b0b0b0" stroke-width="1.5"/></g><line x1="411.4" y1="504.5" x2="411.4" y2="891" stroke="#ff2a1a" stroke-width="3.6" stroke-dasharray="12.7 5.4" stroke-dashoffset="7.8"/><rect x="115" y="503.5" width="544" height="387.5" fill="none" stroke="#000" stroke-width="2"/><line x1="133.6" y1="891" x2="133.6" y2="899.5" stroke="#000" stroke-width="1.8"/><text x="133.6" y="927" font-size="28" text-anchor="middle">−30</text><line x1="226.2" y1="891" x2="226.2" y2="899.5" stroke="#000" stroke-width="1.8"/><text x="226.2" y="927" font-size="28" text-anchor="middle">−20</text><line x1="318.8" y1="891" x2="318.8" y2="899.5" stroke="#000" stroke-width="1.8"/><text x="318.8" y="927" font-size="28" text-anchor="middle">−10</text><line x1="411.4" y1="891" x2="411.4" y2="899.5" stroke="#000" stroke-width="1.8"/><text x="411.4" y="927" font-size="28" text-anchor="middle">0</text><line x1="504" y1="891" x2="504" y2="899.5" stroke="#000" stroke-width="1.8"/><text x="504" y="927" font-size="28" text-anchor="middle">10</text><line x1="596.6" y1="891" x2="596.6" y2="899.5" stroke="#000" stroke-width="1.8"/><text x="596.6" y="927" font-size="28" text-anchor="middle">20</text><line x1="106.5" y1="891" x2="115" y2="891" stroke="#000" stroke-width="1.8"/><text x="97.5" y="900.8" font-size="28" text-anchor="end">0</text><line x1="106.5" y1="816.3" x2="115" y2="816.3" stroke="#000" stroke-width="1.8"/><text x="97.5" y="826.1" font-size="28" text-anchor="end">1</text><line x1="106.5" y1="741.6" x2="115" y2="741.6" stroke="#000" stroke-width="1.8"/><text x="97.5" y="751.4" font-size="28" text-anchor="end">2</text><line x1="106.5" y1="666.9" x2="115" y2="666.9" stroke="#000" stroke-width="1.8"/><text x="97.5" y="676.7" font-size="28" text-anchor="end">3</text><line x1="106.5" y1="592.2" x2="115" y2="592.2" stroke="#000" stroke-width="1.8"/><text x="97.5" y="602" font-size="28" text-anchor="end">4</text><line x1="106.5" y1="517.5" x2="115" y2="517.5" stroke="#000" stroke-width="1.8"/><text x="97.5" y="527.3" font-size="28" text-anchor="end">5</text><text x="387" y="961" font-size="28" text-anchor="middle">Difference</text><text transform="translate(69.5,699) rotate(-90)" font-size="28" text-anchor="middle">Count</text><text x="116" y="496.5" font-size="28">1e6</text><line x1="145" y1="1030" x2="145" y2="1410.5" stroke="#b0b0b0" stroke-width="1.5"/><line x1="303.3" y1="1030" x2="303.3" y2="1410.5" stroke="#b0b0b0" stroke-width="1.5"/><line x1="461.6" y1="1030" x2="461.6" y2="1410.5" stroke="#b0b0b0" stroke-width="1.5"/><line x1="619.9" y1="1030" x2="619.9" y2="1410.5" stroke="#b0b0b0" stroke-width="1.5"/><line x1="123.4" y1="1410.5" x2="656.4" y2="1410.5" stroke="#b0b0b0" stroke-width="1.5"/><line x1="123.4" y1="1337.6" x2="656.4" y2="1337.6" stroke="#b0b0b0" stroke-width="1.5"/><line x1="123.4" y1="1264.7" x2="656.4" y2="1264.7" stroke="#b0b0b0" stroke-width="1.5"/><line x1="123.4" y1="1191.8" x2="656.4" y2="1191.8" stroke="#b0b0b0" stroke-width="1.5"/><line x1="123.4" y1="1118.9" x2="656.4" y2="1118.9" stroke="#b0b0b0" stroke-width="1.5"/><line x1="123.4" y1="1046" x2="656.4" y2="1046" stroke="#b0b0b0" stroke-width="1.5"/><g fill="#808080" stroke="#000" stroke-width="1.7"><rect x="145.4" y="1409.9" width="12.2" height="0.6"/><rect x="157.7" y="1409.9" width="12.2" height="0.6"/><rect x="169.9" y="1409.9" width="12.2" height="0.6"/><rect x="182.2" y="1409.9" width="12.2" height="0.6"/><rect x="194.4" y="1409.9" width="12.2" height="0.6"/><rect x="206.7" y="1409.9" width="12.2" height="0.6"/><rect x="218.9" y="1409.9" width="12.2" height="0.6"/><rect x="231.2" y="1409.9" width="12.2" height="0.6"/><rect x="243.4" y="1409.9" width="12.2" height="0.6"/><rect x="255.7" y="1409.9" width="12.2" height="0.6"/><rect x="267.9" y="1409.9" width="12.2" height="0.6"/><rect x="280.1" y="1408.3" width="12.2" height="2.2"/><rect x="292.4" y="1047.5" width="12.2" height="363"/><rect x="304.6" y="1335.8" width="12.2" height="74.7"/><rect x="316.9" y="1388.9" width="12.2" height="21.6"/><rect x="329.1" y="1406.4" width="12.2" height="4.1"/><rect x="341.4" y="1408.6" width="12.2" height="1.9"/><rect x="353.6" y="1409.5" width="12.2" height="1"/><rect x="365.9" y="1409.9" width="12.2" height="0.6"/><rect x="378.1" y="1409.9" width="12.2" height="0.6"/><rect x="390.4" y="1409.9" width="12.2" height="0.6"/><rect x="402.6" y="1409.9" width="12.2" height="0.6"/><rect x="414.9" y="1409.9" width="12.2" height="0.6"/><rect x="427.1" y="1409.9" width="12.2" height="0.6"/><rect x="439.4" y="1409.9" width="12.2" height="0.6"/><rect x="451.6" y="1409.9" width="12.2" height="0.6"/><rect x="463.9" y="1409.9" width="12.2" height="0.6"/><rect x="476.1" y="1409.9" width="12.2" height="0.6"/><rect x="488.4" y="1409.9" width="12.2" height="0.6"/><rect x="500.6" y="1409.9" width="12.2" height="0.6"/><rect x="512.9" y="1409.9" width="12.2" height="0.6"/><rect x="525.1" y="1409.9" width="12.2" height="0.6"/><rect x="537.4" y="1409.9" width="12.2" height="0.6"/><rect x="549.6" y="1409.9" width="12.2" height="0.6"/><rect x="561.9" y="1409.9" width="12.2" height="0.6"/><rect x="574.1" y="1409.9" width="12.2" height="0.6"/><rect x="586.4" y="1409.9" width="12.2" height="0.6"/><rect x="598.6" y="1409.9" width="12.2" height="0.6"/><rect x="610.9" y="1409.9" width="12.2" height="0.6"/><rect x="623.1" y="1409.9" width="12.2" height="0.6"/></g><g opacity="0.85"><line x1="145" y1="1030" x2="145" y2="1410.5" stroke="#b0b0b0" stroke-width="1.5"/><line x1="303.3" y1="1030" x2="303.3" y2="1410.5" stroke="#b0b0b0" stroke-width="1.5"/><line x1="461.6" y1="1030" x2="461.6" y2="1410.5" stroke="#b0b0b0" stroke-width="1.5"/><line x1="619.9" y1="1030" x2="619.9" y2="1410.5" stroke="#b0b0b0" stroke-width="1.5"/><line x1="123.4" y1="1410.5" x2="656.4" y2="1410.5" stroke="#b0b0b0" stroke-width="1.5"/><line x1="123.4" y1="1337.6" x2="656.4" y2="1337.6" stroke="#b0b0b0" stroke-width="1.5"/><line x1="123.4" y1="1264.7" x2="656.4" y2="1264.7" stroke="#b0b0b0" stroke-width="1.5"/><line x1="123.4" y1="1191.8" x2="656.4" y2="1191.8" stroke="#b0b0b0" stroke-width="1.5"/><line x1="123.4" y1="1118.9" x2="656.4" y2="1118.9" stroke="#b0b0b0" stroke-width="1.5"/><line x1="123.4" y1="1046" x2="656.4" y2="1046" stroke="#b0b0b0" stroke-width="1.5"/></g><line x1="303.3" y1="1031" x2="303.3" y2="1410.5" stroke="#ff2a1a" stroke-width="3.6" stroke-dasharray="12.7 5.4" stroke-dashoffset="3"/><rect x="123.4" y="1030" width="533" height="380.5" fill="none" stroke="#000" stroke-width="2"/><line x1="145" y1="1410.5" x2="145" y2="1419" stroke="#000" stroke-width="1.8"/><text x="145" y="1446.5" font-size="28" text-anchor="middle">−20</text><line x1="303.3" y1="1410.5" x2="303.3" y2="1419" stroke="#000" stroke-width="1.8"/><text x="303.3" y="1446.5" font-size="28" text-anchor="middle">0</text><line x1="461.6" y1="1410.5" x2="461.6" y2="1419" stroke="#000" stroke-width="1.8"/><text x="461.6" y="1446.5" font-size="28" text-anchor="middle">20</text><line x1="619.9" y1="1410.5" x2="619.9" y2="1419" stroke="#000" stroke-width="1.8"/><text x="619.9" y="1446.5" font-size="28" text-anchor="middle">40</text><line x1="114.9" y1="1410.5" x2="123.4" y2="1410.5" stroke="#000" stroke-width="1.8"/><text x="105.5" y="1420.3" font-size="28" text-anchor="end">0.00</text><line x1="114.9" y1="1337.6" x2="123.4" y2="1337.6" stroke="#000" stroke-width="1.8"/><text x="105.5" y="1347.4" font-size="28" text-anchor="end">0.25</text><line x1="114.9" y1="1264.7" x2="123.4" y2="1264.7" stroke="#000" stroke-width="1.8"/><text x="105.5" y="1274.5" font-size="28" text-anchor="end">0.50</text><line x1="114.9" y1="1191.8" x2="123.4" y2="1191.8" stroke="#000" stroke-width="1.8"/><text x="105.5" y="1201.6" font-size="28" text-anchor="end">0.75</text><line x1="114.9" y1="1118.9" x2="123.4" y2="1118.9" stroke="#000" stroke-width="1.8"/><text x="105.5" y="1128.7" font-size="28" text-anchor="end">1.00</text><line x1="114.9" y1="1046" x2="123.4" y2="1046" stroke="#000" stroke-width="1.8"/><text x="105.5" y="1055.8" font-size="28" text-anchor="end">1.25</text><text x="390" y="1480.5" font-size="28" text-anchor="middle">Difference</text><text transform="translate(40.5,1221.6) rotate(-90)" font-size="28" text-anchor="middle">Count</text><text x="125" y="1023" font-size="28">1e7</text><g stroke-dasharray="7 4" opacity="0.7"><line x1="829.8" y1="503.6" x2="829.8" y2="891.4" stroke="#c8c8c8" stroke-width="1.5"/><line x1="934.7" y1="503.6" x2="934.7" y2="891.4" stroke="#c8c8c8" stroke-width="1.5"/><line x1="1039.6" y1="503.6" x2="1039.6" y2="891.4" stroke="#c8c8c8" stroke-width="1.5"/><line x1="1144.5" y1="503.6" x2="1144.5" y2="891.4" stroke="#c8c8c8" stroke-width="1.5"/><line x1="769.2" y1="854.7" x2="1205.8" y2="854.7" stroke="#c8c8c8" stroke-width="1.5"/><line x1="769.2" y1="749.8" x2="1205.8" y2="749.8" stroke="#c8c8c8" stroke-width="1.5"/><line x1="769.2" y1="644.9" x2="1205.8" y2="644.9" stroke="#c8c8c8" stroke-width="1.5"/><line x1="769.2" y1="540" x2="1205.8" y2="540" stroke="#c8c8c8" stroke-width="1.5"/></g><path d="M827.7 856.8 L827.7 760.3 L839.2 749.8 L860.2 715.2 L884.3 674.3 L913.7 643.9 L933.7 616.6 L953.6 602.9 L973.5 589.3 L994.5 559.9 L1013.4 538.4 L1107.8 538.4 L1094.1 576.7 L1087.9 595.6 L1088.9 613.4 L1079.5 619.7 L1078.4 640.7 L1074.2 660.6 L1065.8 680.6 L1061.6 700.5 L1055.3 707.8 L1039.6 729.9 L1029.1 755 L1010.2 775 L994.5 796 L965.1 816.9 L937.8 844.2 L932.6 856.8 Z" fill="#440154" stroke="#440154" stroke-width="3" stroke-linejoin="round"/><path d="M840.5 650.6h0M912.1 544.3h0M906.9 641.4h0M928.4 615.0h0M859.2 642.5h0M853.9 665.4h0M895.6 601.9h0M851.4 729.0h0M944.3 602.5h0M905.2 562.3h0M865.6 597.0h0M876.3 617.6h0M880.8 560.8h0M874.1 566.1h0M871.9 677.5h0M931.8 544.7h0M857.7 653.8h0M942.3 570.0h0M930.7 562.2h0M838.7 697.5h0M963.9 553.9h0M965.8 580.3h0M964.9 542.3h0M953.2 593.8h0M881.2 580.4h0M938.8 606.3h0M905.3 645.3h0M918.4 559.2h0M893.1 609.0h0M864.0 705.1h0M856.2 702.9h0M870.8 695.2h0M868.3 642.5h0M900.8 565.0h0M878.3 681.2h0M840.4 671.7h0M882.6 660.5h0M834.1 735.1h0M851.8 544.8h0M865.7 705.6h0M858.5 539.3h0M894.9 545.4h0M870.7 636.3h0M853.2 715.5h0M898.9 648.1h0M919.9 620.7h0M934.3 563.7h0M829.2 654.7h0M904.3 607.1h0M841.5 718.9h0M829.7 748.5h0M905.6 647.0h0M925.4 604.3h0M925.7 599.8h0M845.6 716.4h0M968.4 591.8h0M865.3 656.4h0M978.5 541.8h0M849.4 691.4h0M854.6 558.4h0M954.4 544.2h0M840.1 737.4h0M902.4 598.5h0M940.3 611.3h0M909.2 609.0h0M880.9 580.9h0M1033.9 750.9h0M1003.8 543.2h0M950.4 544.3h0M852.1 692.6h0M841.1 683.8h0M833.7 689.3h0M838.9 709.2h0M852.3 714.9h0M892.0 603.3h0M860.2 715.1h0M926.0 603.8h0M854.6 573.4h0M844.3 663.0h0M871.0 689.5h0M977.2 551.0h0M915.6 551.1h0M854.4 670.8h0M1033.7 745.1h0M853.1 707.7h0M869.5 547.1h0M914.9 639.3h0M837.8 737.6h0M883.4 664.1h0M828.5 749.4h0M883.8 588.8h0M884.1 650.1h0M832.4 653.6h0M877.6 679.0h0M887.3 542.4h0M838.3 746.0h0M928.3 604.0h0M843.3 622.4h0M909.4 640.4h0M877.3 621.9h0M874.0 673.5h0M942.3 567.6h0M977.0 581.9h0M905.7 549.8h0M854.4 684.5h0M885.1 640.0h0M882.1 578.8h0M854.3 690.7h0M861.0 601.1h0M908.3 637.7h0M902.7 598.3h0M922.9 571.6h0M855.9 661.5h0M856.8 667.0h0M863.7 566.9h0M899.3 555.0h0M876.3 646.5h0M970.8 564.9h0M944.2 560.0h0M862.1 672.7h0M881.3 630.1h0M959.9 558.4h0M889.9 663.2h0M869.9 693.6h0M864.3 699.6h0M979.1 567.0h0M918.8 629.6h0M941.1 542.8h0M913.0 644.6h0M910.8 620.8h0M929.7 605.9h0M854.8 603.1h0M954.1 589.9h0M878.4 599.6h0M946.5 589.3h0M847.1 701.1h0M916.1 635.7h0M874.2 625.9h0M934.5 580.2h0M928.1 620.4h0M909.6 614.6h0M839.8 746.1h0M893.8 664.0h0M912.3 613.8h0M947.5 567.8h0M857.4 718.6h0M903.3 651.0h0M873.3 586.0h0M877.6 653.0h0M839.9 573.8h0M978.4 561.1h0M839.0 745.0h0M872.2 690.6h0M860.8 706.8h0M935.3 541.2h0M940.6 604.7h0M931.1 555.9h0M893.8 549.7h0M860.7 691.7h0M882.9 577.5h0M1006.1 541.2h0M836.0 734.2h0M897.2 582.1h0M896.7 656.1h0M918.1 636.4h0M1038.7 738.2h0M909.9 599.1h0M936.7 595.7h0M841.8 616.7h0M866.0 675.8h0M831.0 731.5h0M839.2 655.6h0M932.7 573.4h0M908.5 601.9h0M915.7 634.2h0M935.8 572.7h0M881.5 632.9h0M986.8 568.6h0M875.3 682.1h0M839.1 604.4h0M943.8 606.6h0M830.2 649.3h0M864.5 568.4h0M849.1 582.8h0M989.8 541.1h0M908.7 628.0h0M860.4 661.9h0M834.1 571.7h0M852.2 583.6h0M927.1 604.8h0M828.5 553.9h0M838.9 541.8h0M946.3 570.0h0M985.8 541.6h0M890.9 638.2h0M867.0 654.9h0M998.8 546.7h0M833.8 618.2h0M890.0 632.5h0M829.1 664.9h0M864.2 611.4h0M919.4 566.0h0M864.4 645.2h0M1037.6 738.6h0M869.2 693.1h0M864.4 605.9h0M834.8 720.3h0M860.3 605.6h0M852.2 618.0h0M916.4 636.9h0M842.4 712.1h0M943.8 591.9h0M853.5 705.0h0M883.5 644.1h0M844.0 572.8h0M969.8 579.5h0M846.3 545.2h0M981.3 561.6h0M870.9 555.1h0M903.3 644.0h0M966.5 583.7h0M940.6 600.5h0M862.5 540.7h0M838.0 700.2h0M891.9 653.2h0M837.7 621.8h0M964.4 561.2h0M865.3 564.2h0M914.4 641.0h0M851.1 608.4h0M829.5 624.2h0M958.8 591.0h0M974.0 588.3h0M892.9 649.0h0M882.0 630.2h0M958.5 590.6h0M959.1 579.5h0M932.3 549.6h0M847.2 593.2h0M960.7 597.0h0M955.8 588.2h0M1002.9 543.7h0M1038.0 736.0h0M975.5 564.2h0M914.3 607.4h0M868.9 617.3h0M861.3 696.1h0M889.2 658.8h0M835.8 744.0h0M854.1 706.0h0M839.9 677.1h0M843.4 702.0h0M923.5 591.1h0M935.9 567.8h0M928.9 611.4h0M890.3 548.5h0M887.5 592.7h0M834.7 655.6h0M958.7 540.1h0M947.9 606.4h0M932.8 549.8h0M877.1 686.5h0M970.3 589.4h0M909.8 608.0h0M830.8 681.0h0M839.4 680.2h0M903.4 557.5h0M886.9 594.4h0M960.9 562.2h0M859.9 644.3h0M985.2 570.2h0M852.6 676.3h0M936.3 614.0h0M856.9 701.9h0M962.2 559.5h0M882.9 675.2h0M880.2 643.3h0M914.8 634.6h0M977.2 541.8h0M968.7 574.6h0M832.2 593.6h0M957.5 582.4h0M872.0 563.3h0M845.3 732.5h0M873.5 632.3h0M1031.2 761.8h0M862.3 623.2h0M912.1 564.5h0M890.3 575.8h0M838.9 749.1h0M893.8 614.8h0M949.9 605.1h0M879.1 630.3h0M986.6 566.5h0M1035.7 754.0h0M847.6 679.0h0M920.8 590.8h0M830.3 579.4h0M896.9 638.3h0M864.8 567.4h0M918.8 621.2h0M836.2 585.7h0M834.6 576.5h0M904.3 581.4h0M903.8 609.8h0M849.3 615.5h0M875.0 559.2h0M830.1 695.5h0M906.3 647.8h0M880.3 638.8h0M837.9 595.1h0M881.5 672.2h0M994.7 555.7h0M880.8 554.4h0M875.7 590.6h0M940.0 610.6h0M828.7 697.1h0M883.5 673.1h0M872.1 624.3h0M955.8 557.1h0M840.1 707.5h0M906.4 598.8h0M901.6 590.2h0M914.5 616.9h0M1035.6 760.1h0M857.2 554.0h0M912.7 629.7h0M974.5 545.1h0M909.2 637.7h0M916.6 608.1h0M845.8 649.4h0M928.1 618.9h0M829.7 684.6h0M889.0 566.5h0M829.2 756.0h0M981.9 577.3h0M986.5 569.4h0M862.8 584.5h0M837.2 627.2h0M861.0 628.4h0M898.7 658.1h0M833.8 663.6h0M857.2 713.7h0M898.0 653.5h0M833.0 658.3h0M869.2 583.7h0M967.0 591.6h0M864.6 551.0h0M840.4 717.9h0M828.3 668.8h0M901.2 600.0h0M922.0 629.2h0M851.4 680.4h0M922.6 604.8h0M882.6 567.2h0M866.0 666.1h0M929.4 607.8h0M992.2 562.3h0M924.9 607.3h0M924.5 550.7h0M851.8 650.3h0M938.4 606.8h0M904.9 543.2h0M954.2 584.8h0M861.1 676.6h0M910.7 643.9h0M925.7 625.9h0M977.4 578.0h0M863.3 615.6h0M830.6 734.2h0M906.8 556.7h0M995.1 552.1h0M834.5 737.9h0M910.1 646.9h0M851.4 682.1h0M976.1 583.4h0M863.4 617.1h0M836.3 678.5h0M882.6 667.9h0M897.2 639.3h0M837.1 593.3h0M878.0 672.5h0M835.8 746.0h0M869.5 696.2h0M841.5 699.0h0M890.2 607.0h0M854.9 685.1h0M900.9 644.6h0M866.4 629.3h0M906.4 636.1h0M843.2 718.9h0M957.9 581.5h0M933.8 615.1h0M890.4 613.5h0M849.6 586.0h0M832.0 714.9h0M983.6 559.7h0M906.9 604.6h0M864.5 543.1h0M997.2 552.2h0M920.1 549.7h0M1003.7 547.9h0M971.7 543.5h0M963.2 587.8h0M829.1 561.5h0M850.9 678.7h0M925.0 580.6h0M1035.0 750.1h0M886.1 667.1h0M869.0 677.0h0M892.5 658.0h0M838.4 559.5h0M859.9 584.9h0M909.4 607.3h0M883.4 623.5h0M834.9 722.4h0M838.6 642.1h0M851.9 631.5h0M889.2 655.9h0M881.5 634.1h0M862.1 593.4h0M930.6 589.4h0M858.1 678.3h0M934.5 546.8h0M935.9 565.7h0M987.3 540.8h0M864.2 656.2h0M858.7 551.6h0M882.9 652.6h0M965.2 577.9h0M915.3 602.3h0M923.2 575.2h0M903.0 647.9h0M901.8 643.0h0M844.8 553.8h0M869.5 630.1h0M924.2 556.1h0M881.9 670.2h0M838.2 719.8h0M865.4 557.3h0M902.8 624.9h0M845.1 613.7h0M938.3 565.5h0M887.2 554.3h0M832.2 636.7h0M979.3 549.1h0M836.8 605.3h0M965.7 573.1h0M917.2 618.0h0M915.1 574.9h0M923.0 601.7h0M881.4 609.0h0M876.0 665.2h0M958.5 574.9h0M846.6 547.9h0M956.9 551.2h0M910.1 622.1h0M1035.5 749.9h0M911.7 547.3h0M964.7 546.1h0M963.2 587.9h0M931.4 584.9h0M942.6 560.3h0M872.1 661.8h0M851.4 707.5h0M862.5 677.6h0M852.4 726.0h0M927.1 601.9h0M892.6 593.0h0M893.7 624.3h0M911.6 615.7h0M892.8 590.9h0M834.7 746.7h0M842.7 714.2h0M846.6 596.1h0M899.3 616.8h0M871.2 662.3h0M832.5 733.6h0M876.2 675.8h0M896.4 592.0h0M948.4 545.8h0M831.0 693.7h0M969.7 585.7h0M861.4 695.6h0M914.5 595.8h0M876.7 615.3h0M901.7 630.7h0M867.5 692.3h0M862.6 656.0h0M892.1 624.7h0M919.7 590.5h0M975.1 567.3h0M838.4 726.7h0M840.6 736.5h0M867.3 581.6h0M874.2 620.3h0M953.2 602.6h0M846.3 702.7h0M877.8 656.7h0M910.5 577.1h0M1036.4 765.0h0M886.8 573.7h0M916.8 617.3h0M859.4 653.5h0M878.1 580.8h0M852.6 726.6h0M956.8 572.0h0M968.2 570.7h0M909.6 641.2h0M945.1 599.2h0M935.2 607.6h0M915.8 640.9h0M914.9 639.5h0M842.3 738.5h0M1037.4 737.4h0M980.1 563.2h0M854.6 678.8h0M892.8 547.8h0M869.0 623.3h0M843.9 706.4h0M851.7 694.4h0M878.5 576.2h0M891.7 549.5h0M851.5 614.3h0M855.7 581.1h0M1004.2 545.2h0M884.7 665.5h0M904.7 644.8h0M844.3 648.7h0M862.3 628.4h0M850.2 676.2h0M928.6 567.8h0M861.9 701.5h0M877.7 655.3h0M852.3 722.4h0M874.8 572.7h0M881.6 677.4h0M851.7 711.6h0M1030.8 762.8h0M842.8 731.5h0M835.5 712.3h0M891.8 557.6h0M944.2 601.7h0M832.9 733.5h0M893.9 631.7h0M837.4 689.4h0M875.7 588.6h0M876.4 615.7h0M937.3 596.4h0M896.4 637.5h0M913.9 636.3h0M982.4 557.3h0M843.1 552.0h0M865.9 676.4h0M909.9 612.2h0M872.1 577.4h0M844.1 720.3h0M886.1 575.4h0M878.5 550.5h0M1036.2 750.2h0M942.6 582.6h0M920.9 600.0h0M954.1 562.3h0M835.0 708.3h0M873.4 665.7h0M960.0 552.9h0M935.3 544.4h0M896.7 554.3h0M851.0 714.6h0M922.9 605.4h0M943.4 585.9h0M847.2 735.0h0M961.9 583.3h0M862.4 656.0h0M884.0 554.8h0M840.1 686.4h0M900.2 623.2h0M971.4 565.9h0M850.8 564.0h0M897.9 641.5h0M909.6 543.3h0M829.0 727.4h0M832.9 609.2h0M844.5 708.2h0M933.3 566.7h0M948.5 550.9h0M919.6 614.6h0M962.6 550.9h0M905.4 569.4h0M830.8 733.7h0M926.8 558.1h0M877.9 637.5h0M971.4 580.0h0M867.5 663.9h0M897.2 646.7h0M872.9 593.9h0M835.5 707.8h0M841.4 651.9h0M880.9 658.1h0M932.6 602.3h0M1035.2 754.1h0M977.7 579.2h0M908.4 639.0h0M831.9 677.0h0M900.3 559.8h0M962.5 567.4h0M875.3 629.5h0M942.9 546.7h0M851.4 722.1h0M889.4 605.2h0M856.9 688.8h0M833.8 749.5h0M859.7 613.5h0M899.5 569.7h0M864.1 632.6h0M832.0 677.3h0M835.6 544.9h0M955.0 598.3h0M840.9 641.4h0M909.0 617.5h0M948.4 592.4h0M940.3 591.2h0M869.1 637.9h0M990.8 558.0h0M939.4 554.8h0M861.1 668.9h0M848.1 625.6h0M838.4 728.0h0M839.6 653.0h0M913.0 612.8h0M955.3 539.8h0M834.1 749.3h0M846.4 733.4h0M965.6 575.8h0M907.9 575.4h0M847.1 645.2h0M904.6 603.8h0M829.2 749.9h0M846.1 554.8h0M993.6 550.0h0M990.2 551.6h0M833.8 739.8h0M923.6 614.3h0M953.3 590.2h0M897.3 595.5h0M917.7 630.7h0M836.6 597.7h0M942.1 586.1h0M1035.8 762.8h0M948.9 557.2h0M854.8 679.9h0M854.8 595.7h0M945.1 561.3h0M842.2 705.9h0M885.5 617.6h0M889.5 579.7h0M958.8 553.5h0M896.2 580.9h0M843.0 589.7h0M887.4 659.7h0M863.3 603.4h0M852.7 678.0h0M896.4 650.9h0M990.2 557.0h0M855.8 702.3h0M886.6 634.1h0M877.2 672.8h0M903.0 593.9h0M927.8 584.0h0M943.1 604.2h0M862.5 671.6h0M849.0 633.3h0M846.9 607.7h0M920.1 615.5h0M882.6 669.9h0M917.9 586.8h0M830.3 724.6h0M909.7 618.7h0M850.6 610.3h0M898.9 632.2h0M952.5 570.2h0M836.3 748.7h0M860.9 612.9h0M914.2 589.8h0M925.1 593.1h0M855.4 707.7h0M927.8 545.5h0M899.1 634.8h0M989.6 550.1h0M932.7 582.3h0M915.2 636.6h0M874.8 563.3h0M836.1 637.7h0M887.3 609.9h0M829.2 668.4h0M863.7 605.0h0M870.6 588.2h0M935.8 560.3h0M925.6 609.0h0M980.0 575.4h0M903.6 605.4h0M886.4 618.1h0M895.1 550.9h0M833.4 557.4h0M835.3 672.8h0M874.2 568.9h0M1002.1 551.0h0M956.6 579.7h0M875.1 671.0h0M875.5 678.4h0M840.8 597.3h0M864.3 583.1h0M965.6 569.7h0M951.5 564.3h0M892.4 646.0h0M840.9 715.1h0M985.9 561.4h0M863.0 683.8h0M895.1 649.2h0M841.6 626.4h0M889.4 652.8h0M916.4 576.7h0M916.1 602.6h0M990.2 547.2h0M893.7 599.3h0M862.3 678.0h0M964.7 553.5h0M871.7 640.7h0M895.9 639.5h0M844.2 593.2h0M973.1 562.0h0M905.8 645.7h0M913.2 624.5h0M930.0 579.1h0M852.4 698.8h0M907.6 604.9h0M864.1 593.4h0M903.9 649.5h0M854.7 616.0h0M852.9 674.8h0M914.4 623.2h0M950.3 596.9h0M970.5 589.4h0M971.8 552.2h0M830.1 593.9h0M866.9 693.7h0M888.8 649.7h0M836.1 714.6h0M914.1 542.0h0M879.5 676.8h0M893.3 624.3h0M885.8 600.0h0M947.1 606.7h0M856.1 691.5h0M931.6 602.9h0M877.9 544.2h0M919.9 559.1h0M855.8 574.6h0M924.0 570.3h0M955.0 596.3h0M934.7 594.4h0M832.2 562.8h0M859.7 590.6h0M949.8 552.4h0M987.0 564.1h0M968.3 546.8h0M843.4 729.2h0M849.9 672.2h0M982.2 540.8h0M853.9 627.8h0M893.5 615.3h0M892.8 658.1h0M884.0 615.3h0M930.0 552.5h0M885.0 558.8h0M836.9 577.1h0M898.2 596.5h0M865.5 672.2h0M864.6 650.2h0M959.7 588.4h0M834.5 644.8h0M897.6 629.4h0M997.5 553.7h0M855.2 555.9h0M908.8 632.5h0M912.7 594.0h0M961.1 595.6h0M841.3 610.2h0M945.5 607.8h0M839.8 575.6h0M849.8 631.0h0M882.9 566.9h0M875.3 659.1h0M854.3 701.6h0M960.0 542.3h0M856.3 716.8h0M980.7 560.6h0M882.9 612.9h0M859.0 691.2h0M834.2 545.3h0M977.5 570.8h0M994.7 550.5h0M886.9 552.0h0M850.6 604.1h0M834.9 696.8h0M881.3 641.8h0M967.7 562.6h0M893.4 656.4h0M867.4 576.4h0M912.3 576.7h0M854.7 718.3h0M942.2 571.9h0M976.9 583.7h0M897.5 657.1h0M950.6 556.7h0M859.3 684.6h0M901.4 593.4h0M932.2 617.7h0M965.8 592.5h0M883.5 631.9h0M828.6 715.0h0M921.3 580.6h0M911.8 606.5h0M829.2 722.0h0M894.3 640.2h0M986.7 548.0h0M869.3 687.1h0M846.5 645.0h0M837.9 588.7h0M856.4 658.6h0M876.2 611.2h0M931.2 585.4h0M845.1 607.9h0M879.0 600.7h0M914.1 564.9h0M855.9 634.1h0M903.3 615.0h0M992.0 552.7h0M1036.5 743.8h0M881.5 552.4h0M923.2 601.1h0M887.7 614.9h0M856.0 711.1h0M883.0 669.9h0M849.6 647.7h0M884.8 636.6h0M880.6 587.0h0M989.9 554.3h0M856.0 641.7h0M906.0 592.7h0M889.0 606.7h0M854.0 545.3h0M941.2 607.7h0M828.8 751.6h0M970.7 570.8h0M955.8 539.0h0M844.7 701.0h0M904.3 649.9h0M833.9 617.2h0M883.7 665.1h0M843.5 676.1h0M971.5 575.0h0M880.9 667.3h0M836.9 747.3h0M850.6 663.8h0M853.1 725.5h0M902.7 623.6h0M858.1 562.4h0M926.2 608.7h0M919.5 626.6h0M948.6 550.8h0M872.2 675.9h0M834.3 683.5h0M956.2 573.8h0M956.8 577.1h0M944.3 562.0h0M973.2 553.1h0M1037.9 748.7h0M833.2 749.6h0M852.6 713.6h0M854.3 671.4h0M875.0 663.0h0M866.0 617.9h0M866.7 653.6h0M847.1 728.4h0M863.8 688.6h0M1006.6 544.8h0M924.3 622.3h0M999.6 553.6h0M865.0 622.6h0M841.7 592.1h0M904.7 612.2h0M845.5 623.5h0M907.4 646.0h0M963.4 575.1h0M874.1 658.7h0M861.7 561.3h0M832.0 735.6h0M834.8 738.7h0M920.1 602.2h0M860.0 586.4h0M966.5 582.1h0M966.3 571.7h0M984.0 565.0h0M860.5 676.9h0M844.8 697.1h0M902.6 591.8h0M898.3 610.3h0M829.1 710.8h0M993.7 556.0h0M900.8 649.8h0M884.9 617.9h0M906.9 637.2h0M889.5 576.7h0M983.7 550.6h0M871.7 670.8h0M847.2 654.0h0M856.9 568.5h0M965.4 558.6h0M880.0 655.7h0M935.8 598.6h0M952.9 562.1h0M841.7 712.1h0M868.0 701.2h0M957.1 567.5h0M929.9 561.5h0M952.0 569.2h0M835.2 687.6h0M864.5 690.4h0M830.1 730.4h0M873.5 643.9h0M854.6 703.1h0M854.0 627.0h0M990.3 558.1h0M957.7 556.3h0M857.4 646.9h0M875.0 606.3h0M865.5 672.8h0M863.6 683.6h0M966.0 552.0h0M837.2 540.9h0M921.4 582.4h0M954.8 556.6h0M941.4 602.9h0M901.6 569.9h0M957.5 598.2h0M932.7 602.2h0M977.1 539.5h0M1035.1 748.6h0M895.7 547.2h0M937.2 561.6h0M865.5 665.2h0M866.3 648.5h0M853.2 720.0h0M861.3 696.2h0M948.2 594.3h0M914.5 556.1h0M977.5 580.2h0M864.4 693.1h0M848.5 636.2h0M915.4 570.9h0M955.4 601.4h0M987.0 553.5h0M872.1 571.3h0M903.1 639.5h0M962.4 573.6h0M859.7 676.2h0M905.3 642.2h0M915.7 554.8h0M858.1 688.1h0M864.2 611.7h0M946.4 578.6h0M963.4 557.1h0M886.7 559.8h0M1038.4 737.9h0M860.0 711.0h0M842.0 699.4h0M863.8 640.7h0M844.8 572.8h0M865.1 664.8h0M880.6 629.7h0M834.4 601.1h0M869.9 675.7h0M882.9 641.0h0M841.4 743.4h0M895.1 650.9h0M964.3 579.4h0M843.0 553.7h0M870.9 677.8h0M845.5 681.0h0M1035.2 764.4h0M867.4 579.6h0M862.4 663.5h0M1036.2 740.6h0M886.0 662.1h0M884.2 667.8h0M938.2 545.7h0M959.4 562.3h0M833.0 750.6h0M829.0 672.8h0M1007.7 541.5h0M971.7 567.9h0M852.6 593.8h0M912.4 623.9h0M856.3 625.3h0M857.5 595.8h0M833.1 751.1h0M1036.0 757.5h0M834.4 692.9h0M901.4 649.1h0M866.9 674.5h0M948.0 599.5h0M882.6 588.5h0M854.6 711.9h0M828.8 587.1h0M829.8 604.0h0M984.6 563.4h0M1008.2 539.6h0M874.5 662.8h0M834.5 655.6h0M922.2 580.0h0M908.6 632.7h0M899.4 587.0h0M928.0 622.5h0M829.5 645.6h0M874.8 542.9h0M1001.1 545.2h0M880.9 652.3h0M841.5 578.7h0M831.2 593.2h0M861.8 704.7h0M851.3 619.5h0M890.4 556.3h0M847.1 551.9h0M893.6 620.8h0M882.4 571.6h0M859.7 629.8h0M853.1 578.9h0M928.4 546.8h0M982.8 564.2h0M914.7 617.3h0M901.1 623.8h0M830.1 685.9h0M904.2 564.9h0M869.5 670.1h0M953.5 597.8h0M871.2 684.4h0M960.6 595.0h0M972.0 581.9h0M860.9 600.8h0M853.1 658.9h0M901.8 593.9h0M880.8 618.8h0M951.2 563.7h0M886.5 576.8h0M984.5 557.8h0M832.8 698.4h0M838.6 720.7h0M1005.3 541.9h0M931.7 611.4h0M942.8 597.3h0M862.0 707.2h0M852.7 669.7h0M837.7 673.1h0M935.1 599.4h0M959.5 563.6h0M895.4 658.7h0M1028.9 755.4h0M929.6 611.5h0M953.1 602.2h0M857.2 614.0h0M1039.4 731.0h0M1025.9 761.0h0M863.5 686.9h0M870.0 642.7h0M913.6 610.6h0M936.7 581.6h0M878.6 558.2h0M858.4 675.8h0M874.0 686.6h0M913.8 633.9h0M900.5 579.6h0M890.7 542.5h0M841.4 696.0h0M889.4 561.6h0M892.8 608.8h0M927.1 574.5h0M904.9 612.6h0M974.3 567.3h0M924.9 577.3h0M835.6 743.4h0M908.5 631.9h0M860.7 544.1h0M968.6 539.3h0M958.5 576.3h0M953.5 573.2h0M836.8 650.1h0M1036.7 754.2h0M873.7 673.5h0M976.1 564.0h0M982.1 563.7h0M1031.8 761.8h0M841.7 573.3h0M919.7 582.8h0M945.3 600.8h0M863.6 692.1h0M858.8 697.1h0M974.3 585.8h0M850.0 663.1h0M950.0 547.7h0M963.6 554.4h0M879.2 554.4h0M841.2 574.4h0M991.1 554.3h0M979.8 577.8h0M910.7 578.2h0M891.9 628.5h0M841.3 551.7h0M938.3 608.3h0M870.8 647.2h0M836.7 743.2h0M838.6 698.3h0M928.2 584.6h0M983.9 571.6h0M893.2 661.9h0M858.7 712.4h0M921.7 541.5h0M836.1 654.4h0M836.9 557.2h0M849.4 570.1h0M961.2 539.2h0M905.0 562.4h0M892.3 565.2h0M945.2 551.8h0M990.1 563.0h0M926.8 607.2h0M859.2 591.6h0M1036.5 742.0h0M849.8 540.3h0M948.4 586.8h0M876.8 667.9h0M833.0 728.2h0M850.6 721.2h0M911.2 545.8h0M840.9 664.5h0M844.6 571.8h0M904.9 590.5h0M846.0 699.8h0M840.4 581.6h0M944.9 585.5h0M857.3 628.1h0M920.3 559.6h0M939.2 599.9h0M958.9 554.7h0M979.1 557.3h0M830.3 738.0h0M847.9 633.7h0M830.8 739.5h0M856.3 718.1h0M892.0 611.8h0M967.6 593.2h0M854.1 541.6h0M887.2 572.9h0M899.6 613.7h0M845.1 666.0h0M958.4 546.0h0M872.4 694.1h0M850.6 614.1h0M879.2 620.8h0M854.8 635.5h0M867.9 664.1h0M910.8 594.5h0M872.8 673.6h0M958.0 594.7h0M857.3 630.7h0M846.4 705.2h0M860.7 602.0h0M963.8 563.8h0M943.7 564.9h0M991.2 560.7h0M842.1 727.3h0M954.6 554.8h0M874.2 596.2h0M911.9 587.9h0M975.6 580.1h0M866.8 590.1h0M872.1 667.9h0M840.2 576.6h0M880.5 592.1h0M899.8 623.3h0M945.2 595.2h0M939.2 542.1h0M931.8 615.3h0M952.9 576.0h0M969.4 588.9h0M873.0 586.0h0M897.0 590.5h0M845.9 738.5h0M952.5 603.2h0M860.7 633.2h0M864.8 564.7h0M842.7 642.0h0M970.6 565.9h0M911.2 561.7h0M964.5 546.1h0M861.7 587.9h0M917.9 575.1h0M834.0 555.5h0M879.9 648.7h0M959.4 593.5h0M910.2 621.5h0M928.3 563.1h0M857.8 557.4h0M880.6 666.1h0M847.6 601.4h0M857.4 653.9h0M870.2 627.4h0M974.4 560.0h0M865.3 702.7h0M890.4 660.3h0M934.8 579.2h0M906.9 609.6h0M922.6 627.2h0M829.8 585.6h0M1028.8 757.7h0M998.5 547.9h0M860.2 712.6h0M856.8 711.9h0M899.9 608.8h0M918.9 600.7h0M933.0 591.5h0M877.6 628.0h0M867.2 622.0h0M849.2 553.6h0M833.6 664.8h0M861.9 670.2h0M933.6 578.6h0M913.2 549.5h0M904.0 636.6h0M834.7 651.2h0M941.8 578.1h0M920.1 595.9h0M943.7 569.1h0M935.8 558.7h0M862.5 625.8h0M906.7 539.3h0M968.0 547.7h0M867.9 639.5h0M906.1 635.8h0M939.2 542.3h0M891.8 605.3h0M830.5 557.0h0M861.3 628.1h0M886.7 662.1h0M834.0 718.5h0M1027.5 757.0h0M979.7 555.8h0M947.7 577.1h0M917.1 589.1h0M877.7 540.4h0M866.9 540.1h0M878.1 539.6h0M1002.0 539.9h0M884.0 539.7h0M841.8 539.8h0M950.5 539.6h0M893.8 539.8h0M846.6 540.3h0M944.4 540.3h0M911.8 540.1h0M866.4 540.1h0M918.2 539.6h0M993.6 540.1h0M884.4 539.5h0M970.6 540.3h0M878.2 540.4h0M985.0 539.8h0M925.5 539.8h0M981.5 540.3h0M895.8 540.0h0M1003.4 540.0h0M992.8 540.3h0M1013.4 539.7h0M945.7 539.9h0M911.7 540.4h0M897.4 540.3h0M847.5 540.2h0M915.6 540.1h0M999.5 539.8h0M966.3 539.9h0M970.1 539.6h0M847.9 539.9h0M1001.8 540.0h0M985.2 540.2h0M869.2 539.7h0M938.6 539.6h0M838.0 540.4h0M895.7 539.5h0M939.7 539.7h0M961.7 540.2h0M877.2 540.4h0M973.1 540.5h0M844.9 539.7h0M974.5 539.8h0M964.7 539.6h0M1002.3 540.0h0M869.4 539.9h0M1013.4 540.5h0M995.2 540.3h0M992.7 539.9h0M946.3 539.9h0M996.0 540.1h0M936.1 540.1h0M870.2 540.2h0M869.9 540.2h0M882.4 540.1h0M913.2 539.8h0M943.1 540.1h0M878.3 540.3h0M922.9 539.6h0M911.8 540.1h0M922.6 540.0h0M913.6 539.9h0M882.1 540.2h0M975.2 539.9h0M978.1 540.0h0M966.2 539.6h0M856.8 539.9h0M996.4 540.2h0M961.8 540.1h0M917.6 539.5h0M900.9 540.0h0M1004.4 540.1h0M978.5 540.5h0M975.3 539.9h0M846.9 539.7h0M890.1 539.8h0M902.9 540.2h0M833.5 539.6h0M871.9 540.0h0M834.6 540.1h0M859.4 540.1h0M886.9 540.1h0M1013.3 539.8h0M988.6 540.3h0M922.9 539.9h0M992.8 540.2h0M999.2 539.7h0M833.0 539.6h0M831.0 672.4h0M830.8 743.3h0M831.0 676.7h0M830.0 587.9h0M830.1 562.3h0M830.5 685.2h0M830.4 579.3h0M831.1 732.8h0M831.0 542.0h0M830.5 740.1h0M830.7 572.4h0M830.5 655.1h0M831.0 660.0h0M830.6 665.3h0M830.1 755.6h0M830.0 743.1h0M830.4 677.9h0M831.0 661.4h0M830.6 650.2h0M831.0 647.8h0M831.0 582.9h0M830.2 642.3h0M830.8 636.2h0M830.3 642.6h0M830.0 653.0h0M830.1 591.4h0M830.2 643.4h0M830.8 589.0h0M830.8 649.0h0M830.9 717.1h0M830.3 637.3h0M831.1 756.3h0M830.0 739.0h0M830.2 650.4h0M830.3 711.4h0M830.6 618.0h0M830.5 639.6h0M830.0 574.8h0M830.1 604.4h0M830.9 590.3h0M831.0 651.8h0M830.1 584.6h0M830.9 563.4h0M830.4 591.5h0M830.7 726.8h0M830.2 605.5h0M830.9 613.7h0M830.2 649.5h0M830.4 571.0h0M829.9 588.1h0M830.4 597.3h0M830.2 743.3h0M830.6 575.5h0M830.1 550.6h0M830.9 747.7h0M830.7 670.3h0M830.9 702.5h0M830.9 568.0h0M830.3 726.5h0M830.8 627.9h0M830.2 747.6h0M830.6 589.9h0M830.6 666.0h0M830.6 654.0h0M830.9 686.4h0M830.3 720.6h0M830.6 581.0h0M830.8 645.7h0M830.3 582.8h0M831.0 737.6h0M1040.9 733.1h0M1102.0 616.3h0M1121.6 555.4h0M1048.0 719.1h0M963.5 578.8h0M944.2 840.5h0M976.8 581.2h0M1102.0 659.7h0M1033.2 749.0h0M956.6 590.4h0M972.3 570.1h0M1000.2 798.4h0M1085.5 666.1h0M974.0 816.3h0M1079.5 665.4h0M1031.3 756.4h0M961.6 556.9h0M1122.2 601.0h0M1066.8 807.1h0M994.8 553.6h0M1078.7 646.6h0M1050.5 753.5h0M1068.5 705.4h0M934.8 604.1h0M974.9 574.8h0M1104.4 643.4h0M1105.0 580.7h0M1007.0 542.8h0M1105.4 549.4h0M1066.6 688.2h0M1010.7 540.3h0M1082.2 644.7h0M1015.1 770.0h0M1121.1 542.7h0M1128.5 622.2h0M1102.7 569.4h0M1033.9 756.9h0M1099.7 564.1h0M1031.7 781.1h0M967.4 816.6h0M1087.8 618.6h0M986.3 540.8h0M984.5 809.1h0M968.0 823.4h0M1003.0 543.1h0M1108.7 554.9h0M935.9 849.6h0M1094.2 584.0h0M983.8 573.3h0M1007.8 783.7h0M979.5 567.4h0M1055.5 723.0h0M1032.6 770.5h0M944.7 844.9h0M939.8 609.8h0M966.1 822.3h0M1107.4 568.4h0M998.1 800.7h0M1093.2 682.4h0M1094.2 594.5h0M1018.5 766.6h0M1118.5 549.3h0M963.4 838.9h0M1102.7 617.9h0M1070.2 681.2h0M1095.0 634.4h0M1052.0 754.2h0M1110.8 823.3h0M1090.9 593.5h0M979.5 562.5h0M1097.0 568.8h0M1065.9 692.7h0M938.8 846.4h0M946.1 604.8h0M952.4 829.9h0M929.0 619.8h0M989.8 803.1h0M1091.1 614.8h0M950.6 840.2h0M1048.9 765.3h0M1002.7 789.8h0M1002.8 835.8h0M945.0 854.6h0M971.6 816.7h0M966.7 587.1h0M962.8 830.9h0M967.6 822.3h0M950.7 593.4h0M1083.0 629.3h0M940.0 846.3h0M963.5 823.3h0M1101.1 615.0h0M982.0 808.1h0M951.4 831.8h0M1043.1 751.0h0M1002.9 788.6h0M995.1 819.0h0M1038.7 760.2h0M1089.1 699.6h0M930.3 620.3h0M1041.3 733.9h0M1106.9 620.6h0M1043.5 731.5h0M1083.7 636.2h0M955.9 832.9h0M949.7 839.9h0M1013.5 776.4h0M925.5 614.0h0M1093.6 629.8h0M1038.9 762.1h0M966.6 588.8h0M1068.4 710.5h0M1066.3 694.8h0M1046.1 732.0h0M929.6 615.1h0M946.1 607.8h0M937.9 848.7h0M1053.1 720.1h0M1041.0 737.6h0M1063.1 716.4h0M1013.5 791.1h0M1053.8 727.3h0M998.9 554.1h0M964.7 587.9h0M967.1 816.4h0M946.4 845.6h0M946.2 602.0h0M997.5 808.9h0M1045.7 727.7h0M1096.3 607.7h0M940.5 551.6h0M1091.2 614.2h0M1036.7 750.2h0M1055.4 714.0h0M933.5 854.8h0M1069.5 801.2h0M1008.0 783.1h0M1032.8 765.2h0M962.8 822.0h0M1119.4 600.9h0M1090.3 632.6h0M1078.9 703.3h0M1077.9 677.4h0M1068.6 687.2h0M1080.2 673.1h0M962.4 596.4h0M1097.3 573.2h0M985.4 566.7h0M1057.2 720.7h0M925.9 626.6h0M1128.0 554.0h0M1043.8 754.2h0M1025.2 786.9h0M992.9 557.5h0M1062.1 753.4h0M970.0 575.8h0M990.0 561.0h0M976.6 825.6h0M1048.5 718.7h0M1008.7 782.2h0M994.0 805.4h0M1092.3 660.9h0M1117.2 574.4h0M960.2 823.6h0M975.2 810.8h0M1030.4 758.3h0M985.9 560.9h0M1084.3 664.1h0M1027.6 764.1h0M1068.4 684.3h0M1024.9 768.3h0M1034.5 745.8h0M1045.0 725.7h0M986.4 569.7h0M938.8 590.0h0M959.6 598.4h0M1049.4 721.1h0M1038.7 762.4h0M1106.5 551.3h0M1053.1 719.0h0M1063.1 710.4h0M1101.8 567.6h0M926.6 622.3h0M1111.2 615.1h0M957.0 830.4h0M1081.0 673.2h0M928.0 598.6h0M1023.0 764.4h0M1106.9 585.7h0M994.8 802.9h0M1006.7 540.9h0M1091.2 606.1h0M1005.1 545.5h0M1087.9 624.4h0M1122.3 539.6h0M991.8 814.6h0M1106.9 555.9h0M1043.2 727.9h0M972.5 587.3h0M977.1 810.9h0M939.7 846.9h0M955.5 597.0h0M945.9 602.8h0M1074.9 730.4h0M1059.3 707.9h0M1055.0 729.2h0M1064.4 692.3h0M1084.2 647.2h0M1090.8 594.5h0M1094.4 580.7h0M958.8 842.6h0M936.2 856.0h0M988.2 554.0h0M942.5 606.3h0M998.0 804.3h0M1032.9 762.8h0M1024.3 775.2h0M944.1 604.5h0M1117.1 584.5h0M1092.2 615.0h0M1032.7 760.3h0M1126.1 587.9h0M970.0 841.6h0M1076.3 665.7h0M994.8 806.6h0M1068.4 706.8h0M1079.6 709.8h0M944.8 568.6h0M933.0 610.3h0M1093.5 608.2h0M991.2 811.5h0M1002.2 548.8h0M1094.7 637.0h0M1046.1 723.1h0M1007.6 542.2h0M1085.0 635.2h0M1101.5 582.0h0M1028.5 763.9h0M1042.5 755.1h0M973.8 586.3h0M1101.7 557.3h0M1032.4 777.4h0M1008.0 541.0h0M991.4 552.5h0M981.8 572.6h0M1107.2 545.5h0M1070.1 771.0h0M999.4 554.2h0M997.5 553.6h0M1079.7 624.1h0M1052.4 720.0h0M936.4 854.6h0M1035.5 745.2h0M945.7 607.4h0M1106.3 576.3h0M955.9 553.4h0M981.5 557.3h0M958.1 828.3h0M947.7 845.9h0M977.3 552.5h0M953.3 578.9h0M1096.8 594.9h0M1082.6 785.9h0M1092.1 646.3h0M935.6 854.9h0M945.7 848.3h0M1013.5 783.0h0M1002.7 786.1h0M1048.5 730.4h0M963.2 562.4h0M1043.0 743.8h0M1089.2 593.9h0M993.8 808.3h0M973.2 570.5h0M963.6 581.3h0M1097.4 572.9h0M990.1 559.1h0M978.6 569.3h0M1025.8 764.3h0M997.6 548.9h0M952.1 599.8h0M1074.2 693.4h0M936.1 602.5h0M1080.9 627.5h0M1063.4 700.3h0M1026.2 762.5h0M1119.0 553.7h0M946.5 606.5h0M1085.6 651.2h0M1027.0 758.9h0M1054.0 714.3h0M1044.8 722.7h0M1120.9 779.7h0M1053.9 837.6h0M933.2 605.4h0M1118.4 549.6h0M1108.3 614.0h0M1084.5 663.6h0M1071.2 683.7h0M935.5 856.1h0M981.1 812.0h0M1108.6 577.7h0M1050.3 729.3h0M1056.6 732.9h0M1002.7 789.6h0M1048.1 719.5h0M951.9 848.1h0M1074.5 675.0h0M963.8 592.2h0M1000.5 790.1h0M1087.4 620.9h0M976.7 812.4h0M1096.9 571.3h0M976.9 850.5h0M1057.7 705.1h0M1108.5 567.5h0M981.0 819.3h0M1081.1 642.5h0M1098.7 618.7h0M1109.8 543.1h0M989.3 565.5h0M1104.8 576.7h0M1058.1 707.2h0M1056.2 724.0h0M1103.8 570.7h0M924.4 629.0h0M1108.8 546.9h0M974.3 830.5h0M1102.9 577.4h0M1075.9 700.7h0M1099.1 563.7h0M1000.8 545.6h0M1108.7 629.9h0M995.6 555.8h0M983.9 574.4h0M1106.7 556.4h0M1088.0 691.0h0M980.2 556.3h0M970.0 824.1h0M1105.3 559.1h0M959.1 596.5h0M990.4 801.8h0M1099.7 589.4h0M1051.2 720.0h0M1089.1 613.1h0M1050.5 749.2h0M1084.0 745.7h0M951.4 832.0h0M1062.9 701.7h0M1124.1 543.4h0M965.3 833.7h0M1062.1 715.2h0M1046.3 757.2h0M955.3 851.5h0M934.8 598.6h0M1017.6 779.2h0M1022.3 762.9h0M1111.2 540.6h0M1027.8 838.5h0M950.7 841.6h0M1062.9 699.9h0M949.4 836.2h0M927.2 605.4h0M955.9 836.4h0M1066.3 688.9h0M989.0 805.9h0M972.9 811.6h0M1089.9 594.6h0M969.7 580.5h0M968.3 555.1h0M1102.5 568.3h0M1079.2 633.5h0M938.1 844.9h0M1094.7 578.4h0M1015.8 788.1h0M987.4 556.1h0M1081.1 667.9h0M1092.5 586.1h0M1107.4 548.7h0M947.3 565.5h0M1109.9 613.9h0M969.1 586.9h0M1096.3 625.7h0M1059.6 726.5h0M1106.9 567.9h0M1079.3 663.4h0M958.2 837.2h0M983.5 561.4h0M1051.3 776.2h0M1095.4 577.2h0M1091.6 617.3h0M986.4 554.4h0M926.9 617.5h0M1039.8 802.0h0M994.2 800.0h0M950.2 592.9h0M1093.4 602.2h0M1072.1 690.7h0M1050.4 718.6h0M1090.8 644.5h0M1106.5 552.7h0M995.5 540.6h0M1047.9 725.1h0M926.9 572.6h0M1101.1 562.7h0M1071.6 684.0h0M953.8 565.3h0M1096.0 607.2h0M936.3 612.0h0M937.2 849.6h0M1110.8 773.2h0M1048.8 758.8h0M1054.0 716.7h0M949.7 853.0h0M1078.9 635.4h0M1097.1 585.8h0M1102.4 566.2h0M939.1 852.3h0M1100.5 594.2h0M1090.4 597.3h0M1042.5 740.3h0M979.8 547.1h0M948.7 594.3h0M926.2 622.1h0M987.6 565.2h0M1118.0 554.4h0M979.8 566.0h0M1090.7 604.2h0M1103.7 556.8h0M1074.2 661.2h0M1079.5 694.9h0M926.2 617.9h0M1086.1 619.1h0M983.6 818.2h0M978.1 579.0h0M958.6 598.4h0M1003.1 810.5h0M1056.3 708.7h0M1016.2 772.8h0M998.9 550.6h0M1103.8 587.4h0M1085.9 626.6h0M1079.2 659.8h0M1065.6 682.4h0M1033.7 760.9h0M1092.7 622.9h0M1100.8 572.9h0M1108.3 540.9h0M983.2 561.0h0M1038.5 742.9h0M1077.4 686.6h0M1098.5 577.2h0M989.6 811.5h0M1030.8 758.9h0M957.8 825.5h0M1085.5 688.6h0M932.4 610.6h0M982.4 552.1h0M1048.8 767.3h0M956.6 839.9h0M1002.9 793.0h0M1093.3 600.7h0M1078.6 689.0h0M1106.4 545.1h0M1052.7 711.6h0M1069.6 676.2h0M1097.1 582.1h0M964.3 822.7h0M1021.8 764.0h0M1100.1 566.8h0M1084.3 643.1h0M1001.2 792.9h0M1009.9 778.3h0M1036.4 797.5h0M988.7 558.1h0M1091.6 588.2h0M995.0 554.7h0M992.6 544.3h0M1087.4 626.1h0M1004.9 783.3h0M982.5 811.3h0M957.1 826.3h0M989.6 554.4h0M1086.0 630.2h0M1083.7 621.7h0M952.2 835.8h0M972.9 584.5h0M1108.8 618.8h0M1091.7 651.5h0M988.1 803.6h0M930.0 540.9h0M1062.3 706.8h0M1096.2 629.1h0M951.9 831.5h0M1037.1 759.3h0M1050.3 719.7h0M1072.8 673.4h0M961.0 821.2h0M981.7 557.4h0M1061.9 702.2h0M1103.9 658.2h0M1031.2 789.9h0M1107.1 542.4h0M1085.2 620.7h0M975.5 810.7h0M1048.5 748.9h0M1092.9 587.4h0M1099.9 609.0h0M1065.9 705.2h0M1018.6 771.7h0M977.5 574.6h0M1094.0 649.4h0M1117.2 556.8h0M1049.1 737.9h0M1110.0 548.1h0M1084.2 617.6h0M987.4 804.3h0M1019.5 769.4h0M1121.3 622.5h0M989.8 547.8h0M1098.6 705.3h0M959.7 826.4h0M966.9 591.1h0M1025.8 766.3h0M1094.1 596.0h0M1101.5 571.7h0M976.1 817.4h0M1097.6 681.3h0M1024.2 760.9h0M988.9 802.7h0M1046.3 720.8h0M985.0 553.1h0M932.1 616.5h0M944.5 604.8h0M1095.9 576.4h0M968.7 584.1h0M1009.0 800.3h0M1050.8 758.7h0M1092.9 586.6h0M1031.8 762.6h0M985.4 804.1h0M1018.5 783.1h0M956.4 850.7h0M950.3 848.3h0M1081.2 658.5h0M982.0 816.7h0M993.0 553.4h0M977.8 818.9h0M1074.6 663.9h0M1097.4 588.8h0M988.9 561.9h0M1099.6 591.8h0M1033.1 755.0h0M953.2 837.9h0M1034.8 741.9h0M986.8 559.8h0M1075.6 670.9h0M965.1 846.1h0M926.8 625.6h0M1052.7 745.5h0M1068.9 687.4h0M990.9 836.7h0M1122.7 553.4h0M1084.8 635.6h0M967.0 588.1h0M987.8 809.2h0M1046.0 721.8h0M1071.3 696.8h0M967.9 588.1h0M999.6 545.3h0M996.9 811.1h0M1067.9 701.9h0M983.1 823.1h0M1036.0 739.1h0M1033.4 746.6h0M1083.4 619.4h0M1038.0 746.6h0M1042.6 734.1h0M995.2 555.0h0M1070.1 815.1h0M952.5 556.4h0M1042.8 730.3h0M1088.5 598.8h0M1076.5 670.7h0M1082.5 638.1h0M1128.4 540.6h0M1016.4 768.9h0M1107.6 543.9h0M1093.5 587.5h0M1043.4 728.7h0M1024.9 780.6h0M954.1 588.3h0M996.6 795.8h0M1034.1 757.1h0M1106.1 545.7h0M952.9 588.6h0M1040.8 735.5h0M960.7 594.5h0M1066.2 684.1h0M1103.8 553.5h0M1009.6 541.3h0M939.5 851.0h0M1066.9 687.1h0M1079.1 647.5h0M1065.9 713.6h0M1057.7 714.2h0M1104.5 584.5h0M1106.4 578.7h0M947.6 851.1h0M1065.3 694.0h0M937.2 852.7h0M941.0 843.6h0M967.6 565.8h0M952.9 841.2h0M1012.5 774.4h0M1000.9 790.7h0M1066.8 704.9h0M1100.6 562.9h0M1095.3 746.3h0M1100.7 575.3h0M1067.0 689.5h0M967.2 818.8h0M1115.4 545.0h0M1071.7 705.8h0M1093.9 610.2h0M963.3 586.9h0M1101.3 564.3h0M1023.6 762.9h0M987.1 558.1h0M1060.3 716.0h0M976.4 582.5h0M1122.4 574.9h0M1026.7 763.3h0M968.9 582.7h0M1065.3 702.8h0M1114.2 569.4h0M990.0 810.3h0M1035.7 820.5h0M982.4 565.3h0M948.4 845.7h0M1109.5 581.8h0M1066.1 806.2h0M1044.3 761.9h0M952.6 587.8h0M996.5 799.3h0M1116.5 582.7h0M1048.2 724.1h0M1033.8 744.0h0M1097.3 600.4h0M1092.7 584.5h0M1036.9 765.1h0M1046.5 725.8h0M1062.2 705.3h0M1054.2 806.2h0M972.0 563.5h0M1009.1 787.3h0M1037.4 762.2h0M1112.5 556.6h0M1025.7 767.6h0M1103.6 557.9h0M1092.5 585.5h0M958.1 599.5h0M1039.6 739.9h0M1092.7 642.1h0M937.7 605.9h0M1004.7 783.3h0M1022.8 768.0h0M947.9 605.5h0M1082.9 622.4h0M1085.4 623.4h0M943.7 607.5h0M1080.1 634.3h0M1056.5 786.3h0M1071.1 694.3h0M1040.7 732.3h0M1008.1 781.7h0M965.5 552.8h0M1051.2 722.6h0M1085.6 764.2h0M1101.2 644.6h0M1072.7 664.6h0M1000.5 550.6h0M1085.2 632.4h0M947.2 563.5h0M937.1 849.1h0M960.9 849.6h0M1103.4 692.8h0M958.0 845.6h0M1088.4 620.4h0M1094.9 670.6h0M1107.8 556.8h0M1096.8 674.1h0M974.4 580.3h0M1111.6 694.4h0M1089.4 626.6h0M973.6 581.6h0M1032.3 764.9h0M997.2 549.0h0M956.7 835.8h0M1102.6 589.1h0M1048.4 737.6h0M945.3 539.1h0M974.4 832.1h0M1037.0 736.9h0M1092.3 607.2h0M936.4 855.2h0M964.9 589.4h0M1035.9 739.1h0M965.6 828.9h0M1109.0 554.7h0M1022.6 763.0h0M1007.3 796.5h0M987.1 834.7h0M948.9 595.6h0M1082.3 651.9h0M1099.3 613.9h0M1115.3 573.1h0M946.3 601.6h0M937.0 608.8h0M962.6 589.5h0M1014.9 773.0h0M982.7 808.6h0M929.0 614.5h0M937.7 853.1h0M934.8 855.1h0M1029.4 774.7h0M952.4 830.8h0M1014.9 778.2h0M1102.7 589.6h0M1114.7 606.7h0M1110.9 562.8h0M982.6 574.1h0M1101.5 580.2h0M1047.6 740.1h0M1059.8 713.5h0M1080.8 632.1h0M1110.1 540.6h0M995.8 798.7h0M1032.6 762.4h0M1080.5 622.7h0M1042.1 737.5h0M1031.1 757.7h0M1110.8 738.2h0M1006.3 794.3h0M1128.1 679.3h0M993.9 829.4h0M964.5 839.5h0M1127.7 690.3h0M996.5 803.8h0M1119.2 665.1h0M1110.5 550.5h0M1123.0 596.5h0M927.3 622.3h0M1123.1 540.9h0M974.1 832.5h0M1063.4 708.0h0M941.4 843.4h0M1106.6 621.3h0M1079.2 639.1h0M1102.8 594.4h0M977.2 584.0h0M1102.1 579.5h0M967.8 823.9h0M1095.8 622.0h0M1095.0 590.7h0M1086.2 617.2h0M1078.1 663.4h0M1068.9 682.8h0M1061.3 701.4h0M1095.8 588.9h0M1113.1 562.1h0M956.5 826.6h0M1082.0 667.6h0M1030.1 754.4h0M975.5 583.4h0M956.6 587.8h0M962.9 819.5h0M1102.4 838.2h0M938.1 856.8h0M1104.8 559.3h0M985.7 558.1h0M982.7 571.7h0M1074.0 661.6h0M974.6 848.8h0M1116.2 545.0h0M1124.8 588.8h0M1108.0 540.0h0M934.8 597.0h0M1100.9 573.4h0M1092.0 603.3h0M1001.4 795.6h0M953.5 841.4h0M1062.3 762.0h0M1080.1 641.0h0M1003.6 540.2h0M937.7 612.2h0M1113.3 549.9h0M1012.5 773.3h0M975.7 578.7h0M945.2 837.9h0M1018.1 774.8h0M983.5 575.2h0M1097.4 596.8h0M1079.6 641.0h0M933.9 855.3h0M954.4 570.3h0M1123.8 567.9h0M1036.7 754.5h0M1091.6 596.4h0M1042.6 739.4h0M969.8 827.0h0M1060.7 703.9h0M1083.7 648.1h0M955.3 588.3h0M994.4 553.2h0M1059.5 725.7h0M992.1 553.5h0M1099.5 561.6h0M1079.4 699.4h0M1114.2 546.3h0M1081.7 640.6h0M1034.0 774.9h0M1105.3 555.0h0M966.7 592.9h0M1054.0 726.0h0M967.9 588.2h0M1105.3 583.5h0M956.2 826.7h0M1073.3 718.4h0M1061.4 743.7h0M1067.3 679.1h0M1000.9 552.2h0M960.1 595.7h0M1107.8 562.4h0M930.0 599.4h0M1090.6 606.0h0M1056.5 781.0h0M955.7 586.6h0M979.9 562.7h0M1101.3 572.9h0M961.2 825.1h0M1107.5 565.3h0M987.8 553.0h0M1073.0 669.9h0M946.1 838.4h0M954.2 836.2h0M963.4 823.8h0M964.7 818.9h0M1046.3 795.1h0M1008.6 785.9h0M1017.5 767.6h0M1063.8 719.0h0M1107.7 541.8h0M1095.2 604.8h0M976.2 584.1h0M1088.2 598.5h0M1025.4 778.7h0M1119.0 547.9h0M927.2 609.7h0M1068.0 699.4h0M1099.8 564.4h0M945.1 606.1h0M948.0 603.3h0M1053.1 720.4h0M1076.4 658.5h0M971.2 571.0h0M1010.3 540.4h0" stroke="#440154" stroke-width="4.8" stroke-linecap="round" fill="none"/><g clip-path="url(#dclip)"><ellipse cx="992.4" cy="681.6" rx="130" ry="26" transform="rotate(-52 992.4 681.6)" fill="url(#dg1)"/><ellipse cx="1034.4" cy="618.7" rx="70" ry="18" transform="rotate(-65 1034.4 618.7)" fill="url(#dg1)"/><ellipse cx="882.2" cy="837.9" rx="22" ry="11" transform="rotate(0 882.2 837.9)" fill="url(#dg3)"/><ellipse cx="882.2" cy="837.9" rx="14" ry="7" transform="rotate(0 882.2 837.9)" fill="url(#dg3)"/><ellipse cx="861.3" cy="816.9" rx="48" ry="32" transform="rotate(-30 861.3 816.9)" fill="url(#dg4)"/><ellipse cx="876" cy="797" rx="50" ry="27" transform="rotate(-33 876 797)" fill="url(#dg2)"/></g><line x1="829.8" y1="854.7" x2="1144.5" y2="540" stroke="#ff2a1a" stroke-width="3" stroke-dasharray="11 5.5"/><g stroke-dasharray="7 4" opacity="0.45"><line x1="829.8" y1="503.6" x2="829.8" y2="891.4" stroke="#c8c8c8" stroke-width="1.5"/><line x1="934.7" y1="503.6" x2="934.7" y2="891.4" stroke="#c8c8c8" stroke-width="1.5"/><line x1="1039.6" y1="503.6" x2="1039.6" y2="891.4" stroke="#c8c8c8" stroke-width="1.5"/><line x1="1144.5" y1="503.6" x2="1144.5" y2="891.4" stroke="#c8c8c8" stroke-width="1.5"/><line x1="769.2" y1="854.7" x2="1205.8" y2="854.7" stroke="#c8c8c8" stroke-width="1.5"/><line x1="769.2" y1="749.8" x2="1205.8" y2="749.8" stroke="#c8c8c8" stroke-width="1.5"/><line x1="769.2" y1="644.9" x2="1205.8" y2="644.9" stroke="#c8c8c8" stroke-width="1.5"/><line x1="769.2" y1="540" x2="1205.8" y2="540" stroke="#c8c8c8" stroke-width="1.5"/></g><rect x="769.2" y="503.6" width="436.6" height="387.8" fill="none" stroke="#000" stroke-width="2"/><line x1="829.8" y1="891.4" x2="829.8" y2="899.9" stroke="#000" stroke-width="1.8"/><text x="829.8" y="927.3" font-size="28" text-anchor="middle">0</text><line x1="934.7" y1="891.4" x2="934.7" y2="899.9" stroke="#000" stroke-width="1.8"/><text x="934.7" y="927.3" font-size="28" text-anchor="middle">10</text><line x1="1039.6" y1="891.4" x2="1039.6" y2="899.9" stroke="#000" stroke-width="1.8"/><text x="1039.6" y="927.3" font-size="28" text-anchor="middle">20</text><line x1="1144.5" y1="891.4" x2="1144.5" y2="899.9" stroke="#000" stroke-width="1.8"/><text x="1144.5" y="927.3" font-size="28" text-anchor="middle">30</text><line x1="760.7" y1="854.7" x2="769.2" y2="854.7" stroke="#000" stroke-width="1.8"/><text x="752.4" y="864.5" font-size="28" text-anchor="end">0</text><line x1="760.7" y1="749.8" x2="769.2" y2="749.8" stroke="#000" stroke-width="1.8"/><text x="752.4" y="759.6" font-size="28" text-anchor="end">10</text><line x1="760.7" y1="644.9" x2="769.2" y2="644.9" stroke="#000" stroke-width="1.8"/><text x="752.4" y="654.7" font-size="28" text-anchor="end">20</text><line x1="760.7" y1="540" x2="769.2" y2="540" stroke="#000" stroke-width="1.8"/><text x="752.4" y="549.8" font-size="28" text-anchor="end">30</text><text x="987.4" y="961.3" font-size="28" text-anchor="middle">Eq. FeO</text><text transform="translate(708.8,698) rotate(-90)" font-size="28" text-anchor="middle">CNN FeO</text><rect x="1232" y="503.6" width="19.6" height="387.8" fill="url(#vird)"/><rect x="1232" y="503.6" width="19.6" height="387.8" fill="none" stroke="#000" stroke-width="1.8"/><line x1="1251.6" y1="891.4" x2="1260.1" y2="891.4" stroke="#000" stroke-width="1.8"/><text x="1268.5" y="906" font-size="28">10<tspan dy="-18.5" font-size="19.5">−6</tspan></text><line x1="1251.6" y1="866.7" x2="1256.1" y2="866.7" stroke="#000" stroke-width="1.2"/><line x1="1251.6" y1="852.3" x2="1256.1" y2="852.3" stroke="#000" stroke-width="1.2"/><line x1="1251.6" y1="842" x2="1256.1" y2="842" stroke="#000" stroke-width="1.2"/><line x1="1251.6" y1="834.1" x2="1256.1" y2="834.1" stroke="#000" stroke-width="1.2"/><line x1="1251.6" y1="827.6" x2="1256.1" y2="827.6" stroke="#000" stroke-width="1.2"/><line x1="1251.6" y1="822.1" x2="1256.1" y2="822.1" stroke="#000" stroke-width="1.2"/><line x1="1251.6" y1="817.3" x2="1256.1" y2="817.3" stroke="#000" stroke-width="1.2"/><line x1="1251.6" y1="813.2" x2="1256.1" y2="813.2" stroke="#000" stroke-width="1.2"/><line x1="1251.6" y1="809.4" x2="1260.1" y2="809.4" stroke="#000" stroke-width="1.8"/><text x="1268.5" y="824" font-size="28">10<tspan dy="-18.5" font-size="19.5">−5</tspan></text><line x1="1251.6" y1="784.7" x2="1256.1" y2="784.7" stroke="#000" stroke-width="1.2"/><line x1="1251.6" y1="770.3" x2="1256.1" y2="770.3" stroke="#000" stroke-width="1.2"/><line x1="1251.6" y1="760" x2="1256.1" y2="760" stroke="#000" stroke-width="1.2"/><line x1="1251.6" y1="752.1" x2="1256.1" y2="752.1" stroke="#000" stroke-width="1.2"/><line x1="1251.6" y1="745.6" x2="1256.1" y2="745.6" stroke="#000" stroke-width="1.2"/><line x1="1251.6" y1="740.1" x2="1256.1" y2="740.1" stroke="#000" stroke-width="1.2"/><line x1="1251.6" y1="735.3" x2="1256.1" y2="735.3" stroke="#000" stroke-width="1.2"/><line x1="1251.6" y1="731.2" x2="1256.1" y2="731.2" stroke="#000" stroke-width="1.2"/><line x1="1251.6" y1="727.4" x2="1260.1" y2="727.4" stroke="#000" stroke-width="1.8"/><text x="1268.5" y="742" font-size="28">10<tspan dy="-18.5" font-size="19.5">−4</tspan></text><line x1="1251.6" y1="702.7" x2="1256.1" y2="702.7" stroke="#000" stroke-width="1.2"/><line x1="1251.6" y1="688.3" x2="1256.1" y2="688.3" stroke="#000" stroke-width="1.2"/><line x1="1251.6" y1="678" x2="1256.1" y2="678" stroke="#000" stroke-width="1.2"/><line x1="1251.6" y1="670.1" x2="1256.1" y2="670.1" stroke="#000" stroke-width="1.2"/><line x1="1251.6" y1="663.6" x2="1256.1" y2="663.6" stroke="#000" stroke-width="1.2"/><line x1="1251.6" y1="658.1" x2="1256.1" y2="658.1" stroke="#000" stroke-width="1.2"/><line x1="1251.6" y1="653.3" x2="1256.1" y2="653.3" stroke="#000" stroke-width="1.2"/><line x1="1251.6" y1="649.2" x2="1256.1" y2="649.2" stroke="#000" stroke-width="1.2"/><line x1="1251.6" y1="645.4" x2="1260.1" y2="645.4" stroke="#000" stroke-width="1.8"/><text x="1268.5" y="660" font-size="28">10<tspan dy="-18.5" font-size="19.5">−3</tspan></text><line x1="1251.6" y1="620.7" x2="1256.1" y2="620.7" stroke="#000" stroke-width="1.2"/><line x1="1251.6" y1="606.3" x2="1256.1" y2="606.3" stroke="#000" stroke-width="1.2"/><line x1="1251.6" y1="596" x2="1256.1" y2="596" stroke="#000" stroke-width="1.2"/><line x1="1251.6" y1="588.1" x2="1256.1" y2="588.1" stroke="#000" stroke-width="1.2"/><line x1="1251.6" y1="581.6" x2="1256.1" y2="581.6" stroke="#000" stroke-width="1.2"/><line x1="1251.6" y1="576.1" x2="1256.1" y2="576.1" stroke="#000" stroke-width="1.2"/><line x1="1251.6" y1="571.3" x2="1256.1" y2="571.3" stroke="#000" stroke-width="1.2"/><line x1="1251.6" y1="567.2" x2="1256.1" y2="567.2" stroke="#000" stroke-width="1.2"/><line x1="1251.6" y1="563.4" x2="1260.1" y2="563.4" stroke="#000" stroke-width="1.8"/><text x="1268.5" y="578" font-size="28">10<tspan dy="-18.5" font-size="19.5">−2</tspan></text><line x1="1251.6" y1="538.7" x2="1256.1" y2="538.7" stroke="#000" stroke-width="1.2"/><line x1="1251.6" y1="524.3" x2="1256.1" y2="524.3" stroke="#000" stroke-width="1.2"/><line x1="1251.6" y1="514" x2="1256.1" y2="514" stroke="#000" stroke-width="1.2"/><line x1="1251.6" y1="506.1" x2="1256.1" y2="506.1" stroke="#000" stroke-width="1.2"/><g stroke-dasharray="7 4" opacity="0.7"><line x1="803.3" y1="1030" x2="803.3" y2="1410.5" stroke="#c8c8c8" stroke-width="1.5"/><line x1="943.8" y1="1030" x2="943.8" y2="1410.5" stroke="#c8c8c8" stroke-width="1.5"/><line x1="1084.3" y1="1030" x2="1084.3" y2="1410.5" stroke="#c8c8c8" stroke-width="1.5"/><line x1="772.8" y1="1403" x2="1199.8" y2="1403" stroke="#c8c8c8" stroke-width="1.5"/><line x1="772.8" y1="1332.8" x2="1199.8" y2="1332.8" stroke="#c8c8c8" stroke-width="1.5"/><line x1="772.8" y1="1262.5" x2="1199.8" y2="1262.5" stroke="#c8c8c8" stroke-width="1.5"/><line x1="772.8" y1="1192.2" x2="1199.8" y2="1192.2" stroke="#c8c8c8" stroke-width="1.5"/><line x1="772.8" y1="1122" x2="1199.8" y2="1122" stroke="#c8c8c8" stroke-width="1.5"/><line x1="772.8" y1="1051.8" x2="1199.8" y2="1051.8" stroke="#c8c8c8" stroke-width="1.5"/></g><clipPath id="gclip"><rect x="772.8" y="1030" width="427.0" height="380.5"/></clipPath><g clip-path="url(#gclip)"><path d="M829.4 1376.9 L829.4 1181 L875 1172.6 L935.4 1136 L980.3 1091.1 L1033.7 1060.2 L1070.2 1046.1 L1098.3 1024.4 L1202.3 1024.4 L1202.3 1376.9 Z" fill="#440154" stroke="#440154" stroke-width="3" stroke-linejoin="round"/><path d="M856.1 1150.3h0M883.3 1161.6h0M862.8 1160.8h0M954.1 1051.4h0M916.9 1060.1h0M867.9 1122.3h0M1053.5 1038.9h0M968.4 1078.7h0M905.6 1118.9h0M866.1 1062.3h0M943.4 1079.7h0M951.1 1095.3h0M1027.8 1050.3h0M944.2 1072.8h0M926.1 1119.7h0M884.7 1136.9h0M998.5 1066.0h0M969.6 1093.4h0M833.4 1161.0h0M889.8 1084.0h0M984.2 1060.7h0M912.1 1027.2h0M1012.8 1063.0h0M931.2 1079.4h0M864.6 1131.1h0M923.2 1130.2h0M929.2 1113.9h0M981.6 1030.6h0M1083.3 1023.8h0M870.8 1148.8h0M904.3 1097.6h0M890.7 1027.0h0M905.4 1139.6h0M920.6 1135.3h0M895.8 1089.5h0M986.0 1077.0h0M847.2 1131.6h0M1093.5 1023.6h0M917.2 1111.3h0M888.9 1029.1h0M1046.7 1024.2h0M928.6 1126.7h0M908.6 1087.4h0M872.4 1138.7h0M1004.0 1039.7h0M1000.1 1077.9h0M917.2 1130.9h0M898.7 1130.3h0M1083.5 1030.9h0M1027.8 1022.0h0M941.1 1069.3h0M959.4 1049.1h0M873.7 1108.2h0M1011.4 1049.7h0M843.5 1051.9h0M910.3 1080.7h0M916.2 1049.8h0M976.4 1029.1h0M964.1 1055.1h0M906.7 1032.9h0M881.7 1142.1h0M844.1 1176.2h0M898.5 1036.4h0M864.9 1072.1h0M844.9 1118.8h0M999.2 1047.0h0M835.7 1150.7h0M939.2 1118.7h0M943.7 1102.1h0M1020.3 1027.5h0M861.4 1087.8h0M955.6 1094.5h0M955.0 1109.2h0M998.8 1038.5h0M849.6 1083.6h0M907.2 1078.7h0M915.9 1133.3h0M904.7 1107.5h0M829.8 1059.8h0M837.3 1077.0h0M847.1 1176.1h0M1001.9 1044.8h0M848.4 1151.7h0M856.7 1107.6h0M940.7 1059.9h0M868.3 1150.1h0M890.6 1142.5h0M906.3 1092.4h0M870.7 1101.2h0M893.9 1154.8h0M975.7 1022.2h0M855.6 1023.8h0M906.8 1097.8h0M940.2 1063.5h0M842.3 1064.7h0M879.9 1113.1h0M924.2 1139.5h0M951.7 1106.6h0M911.6 1133.8h0M941.4 1066.9h0M972.9 1078.5h0M932.7 1070.9h0M833.5 1123.0h0M963.4 1086.7h0M999.5 1055.0h0M885.2 1121.6h0M1077.5 1029.1h0M878.4 1128.9h0M1057.3 1022.0h0M1023.4 1055.8h0M980.7 1056.5h0M968.6 1032.6h0M868.3 1125.5h0M905.4 1110.2h0M945.3 1072.5h0M911.7 1143.8h0M896.8 1157.6h0M842.8 1132.2h0M953.4 1056.2h0M944.7 1115.9h0M945.6 1038.9h0M1007.6 1038.0h0M1013.3 1038.2h0M1065.3 1031.6h0M1021.9 1063.3h0M865.3 1137.6h0M831.4 1089.0h0M851.2 1138.8h0M833.2 1133.2h0M840.5 1166.7h0M870.4 1050.4h0M887.8 1067.3h0M891.3 1052.6h0M866.4 1066.8h0M859.7 1042.8h0M888.9 1114.0h0M842.3 1102.3h0M883.6 1061.7h0M879.5 1077.6h0M916.7 1111.1h0M942.4 1084.2h0M1090.1 1027.1h0M863.2 1159.0h0M887.8 1127.3h0M841.8 1153.9h0M962.6 1090.1h0M988.6 1037.2h0M853.3 1112.6h0M883.3 1049.1h0M913.3 1045.8h0M1054.4 1045.4h0M1089.2 1027.4h0M970.2 1089.9h0M881.9 1023.1h0M943.6 1042.6h0M882.3 1101.4h0M889.0 1124.5h0M917.2 1139.3h0M893.0 1125.5h0M952.5 1097.4h0M1012.5 1029.7h0M871.4 1141.0h0M946.1 1098.8h0M1041.7 1051.0h0M941.7 1104.9h0M869.9 1167.1h0M937.9 1029.0h0M849.5 1151.5h0M853.7 1170.2h0M908.0 1148.5h0M901.3 1038.8h0M888.0 1163.1h0M1051.7 1049.8h0M890.8 1143.9h0M928.0 1033.0h0M860.8 1108.9h0M950.0 1117.6h0M863.6 1135.8h0M844.9 1131.5h0M886.2 1074.1h0M896.2 1158.6h0M911.6 1049.7h0M967.6 1102.7h0M850.0 1044.8h0M902.2 1120.4h0M994.7 1030.4h0M997.6 1063.2h0M847.3 1107.9h0M843.7 1137.4h0M871.1 1124.2h0M925.6 1115.0h0M904.4 1076.2h0M956.7 1026.9h0M898.0 1084.8h0M1034.7 1042.5h0M1023.1 1050.3h0M1043.2 1041.2h0M999.9 1041.3h0M886.5 1113.6h0M969.5 1068.2h0M988.7 1048.4h0M1013.6 1035.1h0M953.6 1063.9h0M927.7 1040.6h0M850.3 1125.0h0M936.5 1083.8h0M879.2 1159.5h0M918.7 1124.2h0M1042.6 1035.6h0M916.8 1117.0h0M889.7 1138.3h0M835.4 1022.1h0M953.9 1063.1h0M858.4 1166.1h0M830.2 1092.5h0M868.5 1161.0h0M866.7 1148.7h0M892.6 1148.1h0M877.5 1121.7h0M998.1 1023.9h0M934.4 1118.6h0M927.5 1108.5h0M893.0 1154.8h0M969.3 1042.4h0M898.5 1146.9h0M958.7 1050.5h0M992.0 1037.8h0M892.6 1105.2h0M929.6 1125.6h0M869.2 1114.3h0M1001.2 1038.7h0M978.4 1025.0h0M963.6 1021.9h0M862.0 1105.6h0M897.4 1138.8h0M1002.5 1036.0h0M996.5 1026.6h0M1064.8 1040.7h0M973.9 1059.3h0M947.2 1069.9h0M891.0 1137.0h0M829.4 1159.2h0M870.4 1129.0h0M839.0 1145.6h0M986.1 1080.1h0M916.4 1130.9h0M946.6 1042.9h0M900.0 1068.0h0M863.6 1043.5h0M929.3 1038.6h0M872.5 1133.8h0M835.0 1169.3h0M887.6 1058.5h0M837.0 1166.8h0M906.6 1102.2h0M839.0 1131.3h0M1044.2 1040.8h0M927.1 1046.7h0M951.3 1056.5h0M1013.5 1058.8h0M846.1 1053.2h0M1022.5 1056.5h0M846.2 1126.0h0M928.7 1106.7h0M958.8 1094.5h0M958.1 1107.9h0M891.1 1148.7h0M1086.1 1025.3h0M841.6 1150.4h0M860.2 1164.5h0M982.1 1073.8h0M954.5 1082.1h0M860.3 1158.6h0M1032.6 1026.5h0M1009.4 1070.0h0M998.0 1067.0h0M853.4 1141.7h0M1014.6 1060.1h0M936.9 1092.5h0M883.6 1098.1h0M921.1 1089.3h0M1032.3 1044.9h0M880.6 1127.2h0M865.2 1138.8h0M942.2 1031.6h0M999.0 1058.8h0M931.7 1090.7h0M829.9 1096.8h0M926.9 1078.4h0M835.0 1171.1h0M873.0 1040.3h0M935.6 1101.2h0M847.2 1156.5h0M1003.1 1024.7h0M1009.7 1056.8h0M1048.1 1037.7h0M993.3 1063.4h0M920.5 1144.4h0M888.6 1102.2h0M953.1 1084.0h0M953.3 1080.6h0M871.1 1154.7h0M891.5 1026.2h0M978.6 1054.0h0M835.4 1179.4h0M995.0 1037.7h0M913.6 1137.2h0M910.2 1114.0h0M830.1 1129.7h0M1018.9 1033.1h0M860.8 1132.1h0M855.8 1154.1h0M985.5 1025.3h0M888.5 1079.1h0M884.1 1147.5h0M923.4 1129.0h0M1036.2 1023.5h0M1060.1 1047.8h0M925.2 1069.3h0M842.1 1146.0h0M919.8 1042.2h0M902.4 1109.6h0M856.1 1076.9h0M959.1 1079.5h0M892.2 1041.6h0M919.7 1021.6h0M912.8 1098.4h0M893.2 1138.7h0M971.0 1081.9h0M986.7 1079.7h0M854.1 1109.2h0M935.9 1024.7h0M1009.8 1062.4h0M878.6 1166.5h0M864.3 1107.5h0M903.5 1134.7h0M850.7 1139.3h0M936.1 1045.8h0M1021.7 1065.0h0M909.4 1124.5h0M831.3 1151.4h0M986.4 1082.0h0M1002.3 1036.1h0M894.4 1116.9h0M926.3 1130.5h0M893.9 1151.7h0M907.7 1092.2h0M1059.0 1048.0h0M849.9 1077.4h0M846.6 1158.6h0M1080.4 1037.4h0M1006.4 1072.7h0M920.9 1082.0h0M891.1 1103.9h0M933.5 1131.1h0M901.6 1089.1h0M919.5 1085.6h0M933.1 1135.0h0M931.0 1127.9h0M928.7 1091.3h0M977.3 1055.5h0M862.0 1150.5h0M905.6 1152.8h0M1018.2 1046.5h0M852.0 1054.3h0M922.6 1086.0h0M937.1 1055.2h0M931.7 1072.4h0M998.1 1072.1h0M858.0 1109.2h0M891.1 1110.1h0M890.1 1145.4h0M1051.5 1048.7h0M880.3 1159.1h0M886.2 1159.9h0M875.2 1147.6h0M927.1 1040.0h0M922.2 1132.8h0M917.9 1142.3h0M835.0 1175.9h0M1010.6 1039.5h0M875.4 1144.3h0M889.8 1137.0h0M838.9 1080.7h0M957.3 1089.9h0M859.0 1046.8h0M1049.2 1048.1h0M1000.8 1044.1h0M1010.5 1066.2h0M1014.3 1056.3h0M866.5 1085.1h0M850.2 1030.8h0M861.8 1093.4h0M888.6 1108.0h0M1009.9 1053.7h0M980.0 1053.9h0M952.9 1042.4h0M868.7 1123.6h0M1004.8 1064.5h0M949.0 1021.7h0M988.7 1027.5h0M903.8 1105.6h0M885.1 1067.6h0M971.3 1052.5h0M853.0 1155.5h0M964.5 1097.6h0M959.9 1102.7h0M920.1 1125.3h0M1000.3 1078.5h0M1012.6 1050.9h0M984.4 1078.1h0M881.0 1162.2h0M961.9 1048.7h0M880.9 1087.8h0M987.2 1058.3h0M829.5 1160.3h0M1056.3 1043.7h0M842.7 1071.5h0M868.8 1063.6h0M860.4 1131.6h0M930.8 1066.5h0M864.2 1102.0h0M1046.1 1039.2h0M877.3 1089.3h0M953.7 1054.0h0M842.8 1137.3h0M841.8 1172.9h0M877.2 1113.8h0M908.0 1035.1h0M862.5 1136.5h0M932.9 1105.7h0M867.1 1148.3h0M957.8 1035.1h0M960.7 1101.6h0M912.0 1139.7h0M899.6 1051.0h0M973.6 1095.2h0M1051.7 1041.9h0M1041.5 1048.1h0M907.6 1143.5h0M976.7 1087.2h0M870.7 1103.5h0M1024.0 1055.0h0M835.4 1175.8h0M921.1 1101.6h0M949.5 1028.9h0M931.2 1107.0h0M838.8 1044.5h0M899.7 1117.6h0M850.6 1100.1h0M883.0 1163.5h0M1088.0 1030.0h0M873.0 1103.6h0M985.9 1061.2h0M1064.4 1025.9h0M865.8 1107.2h0M908.0 1043.5h0M852.3 1133.0h0M984.1 1058.8h0M1052.4 1044.5h0M882.9 1142.1h0M870.6 1024.3h0M891.5 1112.2h0M965.9 1026.8h0M884.5 1105.6h0M984.8 1027.1h0M838.8 1156.8h0M891.0 1142.1h0M898.8 1058.1h0M988.0 1073.5h0M886.5 1122.2h0M882.5 1161.1h0M900.2 1026.5h0M1031.1 1027.3h0M912.3 1137.4h0M902.4 1086.2h0M854.0 1140.0h0M879.9 1075.4h0M858.5 1022.9h0M908.6 1100.2h0M955.1 1074.9h0M832.3 1137.3h0M1019.8 1048.1h0M1015.7 1065.6h0M1022.7 1039.2h0M872.5 1161.7h0M901.9 1144.6h0M955.9 1053.5h0M857.0 1167.8h0M1010.9 1041.4h0M1065.7 1034.3h0M955.7 1108.7h0M945.3 1049.1h0M875.8 1130.6h0M928.0 1115.8h0M981.6 1059.7h0M852.0 1139.3h0M846.0 1054.7h0M906.5 1041.0h0M1035.4 1045.7h0M902.0 1130.0h0M911.3 1145.4h0M860.1 1091.0h0M880.9 1167.1h0M940.0 1025.7h0M1013.0 1051.0h0M886.6 1103.1h0M835.9 1162.7h0M874.3 1159.7h0M1007.2 1056.4h0M870.3 1072.6h0M875.3 1148.6h0M862.3 1151.2h0M854.7 1062.4h0M992.5 1067.8h0M925.2 1131.2h0M1002.0 1074.5h0M860.9 1140.6h0M939.9 1094.9h0M863.6 1105.7h0M1059.1 1035.4h0M904.3 1034.5h0M1017.5 1027.5h0M1026.3 1048.7h0M839.2 1084.6h0M991.3 1070.1h0M921.9 1035.6h0M1078.2 1038.1h0M966.9 1065.9h0M1073.7 1033.3h0M926.0 1073.4h0M907.9 1100.3h0M903.2 1126.5h0M874.7 1166.3h0M1089.7 1028.4h0M972.2 1095.7h0M991.4 1081.3h0M937.9 1075.2h0M979.2 1034.0h0M986.4 1069.6h0M919.0 1142.1h0M995.5 1032.7h0M846.4 1161.0h0M936.8 1117.3h0M1022.8 1021.7h0M996.7 1078.6h0M1019.8 1035.8h0M1055.8 1048.2h0M831.6 1123.4h0M953.8 1109.6h0M861.6 1137.5h0M920.9 1080.6h0M848.9 1173.6h0M933.0 1125.3h0M903.1 1096.0h0M992.1 1046.9h0M925.7 1083.8h0M834.4 1151.7h0M1022.9 1043.9h0M979.2 1057.2h0M919.0 1142.1h0M948.2 1055.5h0M924.4 1126.8h0M903.3 1087.8h0M958.0 1042.9h0M868.3 1105.9h0M1066.9 1029.7h0M957.7 1065.4h0M1053.0 1026.4h0M910.8 1135.3h0M904.8 1098.5h0M928.1 1044.7h0M889.6 1022.0h0M902.9 1106.0h0M972.9 1095.3h0M847.2 1101.2h0M936.1 1066.3h0M874.5 1134.9h0M978.3 1048.7h0M953.9 1081.6h0M1051.5 1040.1h0M898.0 1027.7h0M873.4 1172.7h0M990.3 1052.8h0M935.5 1119.7h0M1047.7 1031.0h0M898.6 1033.8h0M1042.1 1025.8h0M958.9 1109.5h0M884.7 1166.5h0M938.2 1118.7h0M844.4 1174.5h0M852.5 1114.6h0M922.4 1142.7h0M1030.3 1048.0h0M835.4 1150.5h0M891.8 1145.5h0M913.0 1109.5h0M1007.6 1074.1h0M856.5 1053.3h0M915.0 1054.1h0M928.9 1034.1h0M882.9 1152.0h0M1010.8 1064.7h0M973.0 1057.7h0M877.1 1104.4h0M870.6 1162.1h0M882.1 1115.6h0M845.7 1069.4h0M833.9 1048.9h0M847.1 1115.2h0M872.5 1039.0h0M857.0 1118.0h0M981.9 1086.0h0M1018.0 1043.0h0M852.1 1026.6h0M929.6 1130.1h0M1051.1 1025.6h0M938.4 1079.4h0M975.3 1075.2h0M854.0 1168.0h0M911.0 1028.3h0M1014.0 1039.6h0M974.3 1026.4h0M951.6 1114.9h0M1007.1 1064.4h0M918.9 1121.0h0M970.3 1070.7h0M891.6 1139.6h0M899.8 1070.7h0M879.5 1163.7h0M900.4 1083.3h0M867.1 1110.3h0M923.2 1070.2h0M977.5 1033.7h0M991.3 1069.2h0M971.1 1085.4h0M974.9 1053.2h0M883.0 1025.8h0M929.9 1102.3h0M835.2 1152.5h0M857.5 1093.2h0M935.9 1125.9h0M1003.9 1046.0h0M978.4 1021.7h0M956.4 1047.2h0M893.9 1042.5h0M953.5 1095.3h0M1068.3 1036.9h0M830.3 1141.6h0M930.2 1032.8h0M936.4 1084.9h0M846.7 1163.4h0M991.5 1030.3h0M883.4 1144.2h0M954.4 1052.1h0M859.2 1174.4h0M1028.2 1041.8h0M986.3 1072.9h0M984.2 1057.0h0M836.8 1072.0h0M1022.7 1062.4h0M872.8 1114.9h0M942.2 1115.9h0M834.5 1115.2h0M910.1 1090.9h0M1037.4 1052.9h0M1065.9 1035.5h0M834.8 1173.6h0M875.7 1105.4h0M1000.6 1072.9h0M999.1 1078.8h0M870.6 1090.6h0M926.5 1063.5h0M881.9 1144.5h0M1083.0 1028.9h0M1082.5 1033.8h0M949.4 1058.4h0M1029.2 1059.2h0M910.2 1098.4h0M1067.6 1042.2h0M941.6 1040.3h0M849.5 1148.6h0M854.0 1133.7h0M1018.8 1024.4h0M947.6 1083.9h0M1039.6 1048.9h0M882.3 1056.5h0M926.7 1030.9h0M903.5 1111.4h0M919.6 1032.4h0M962.7 1068.3h0M833.9 1087.8h0M931.4 1131.9h0M895.0 1098.2h0M924.5 1069.0h0M836.4 1147.1h0M938.4 1074.3h0M872.3 1165.0h0M1069.7 1031.2h0M937.4 1079.8h0M958.4 1086.9h0M843.7 1038.3h0M1013.0 1053.7h0M881.4 1110.0h0M860.4 1160.4h0M940.7 1124.1h0M838.8 1106.0h0M904.1 1083.8h0M946.5 1081.0h0M1029.9 1041.2h0M957.1 1062.6h0M847.3 1075.1h0M951.7 1116.0h0M839.1 1175.2h0M1026.7 1033.3h0M913.4 1036.4h0M916.2 1028.5h0M1005.1 1059.8h0M1074.0 1032.8h0M867.9 1156.4h0M1029.8 1045.4h0M879.3 1071.0h0M868.4 1031.0h0M939.4 1099.4h0M872.6 1143.6h0M983.1 1062.9h0M853.6 1057.2h0M887.2 1162.3h0M920.9 1055.9h0M861.4 1153.9h0M841.5 1128.6h0M909.8 1100.7h0M859.4 1149.5h0M894.5 1151.2h0M1016.4 1055.0h0M848.2 1153.2h0M1029.4 1045.1h0M955.0 1112.8h0M1017.4 1027.7h0M908.7 1044.0h0M878.5 1092.2h0M844.9 1041.0h0M1002.7 1069.2h0M899.2 1106.4h0M934.3 1082.6h0M983.0 1059.2h0M959.1 1042.9h0M883.2 1064.1h0M869.2 1148.3h0M901.8 1149.2h0M968.6 1028.0h0M962.6 1051.1h0M831.0 1120.4h0M914.3 1117.3h0M1034.7 1029.8h0M916.5 1144.2h0M943.4 1082.5h0M1059.6 1025.5h0M949.1 1109.8h0M864.5 1108.3h0M1021.3 1059.9h0M895.2 1124.7h0M921.7 1045.8h0M851.7 1023.5h0M1021.5 1037.7h0M1070.3 1035.8h0M1068.4 1035.3h0M970.9 1027.4h0M936.9 1053.3h0M857.9 1130.3h0M906.1 1143.5h0M882.0 1039.4h0M875.8 1157.0h0M962.9 1075.3h0M982.2 1089.7h0M985.3 1062.6h0M844.7 1117.8h0M983.5 1049.0h0M873.6 1127.3h0M942.6 1116.0h0M853.8 1149.4h0M957.7 1079.0h0M885.7 1041.7h0M875.1 1132.5h0M957.3 1113.0h0M1000.2 1074.2h0M940.7 1032.4h0M899.5 1131.5h0M864.4 1050.8h0M850.6 1030.8h0M864.1 1130.5h0M991.9 1081.0h0M956.9 1075.0h0M877.5 1085.2h0M857.6 1101.1h0M877.0 1074.4h0M982.0 1051.4h0M847.9 1171.4h0M1012.7 1055.1h0M896.8 1154.1h0M882.8 1132.8h0M853.7 1091.9h0M843.5 1041.4h0M975.4 1034.5h0M1021.9 1063.9h0M1016.0 1055.0h0M870.8 1162.7h0M1011.4 1065.5h0M961.2 1090.4h0M934.0 1087.5h0M1018.2 1027.5h0M868.4 1085.2h0M950.2 1047.8h0M882.5 1149.8h0M940.7 1036.2h0M857.6 1062.4h0M996.9 1067.2h0M897.0 1144.6h0M880.5 1043.5h0M940.1 1125.1h0M1070.5 1038.8h0M924.4 1090.5h0M931.3 1049.0h0M914.5 1135.8h0M872.5 1065.6h0M1061.8 1045.4h0M843.1 1149.9h0M1030.1 1058.6h0M838.6 1129.1h0M934.7 1105.7h0M975.2 1091.6h0M846.9 1171.7h0M970.1 1043.8h0M936.9 1091.9h0M869.0 1134.1h0M915.7 1127.5h0M1019.7 1023.9h0M887.1 1145.5h0M1077.3 1038.1h0M910.4 1114.8h0M1041.0 1027.9h0M971.7 1059.2h0M920.2 1129.6h0M949.0 1054.5h0M967.0 1097.3h0M867.2 1068.7h0M890.3 1069.1h0M1087.7 1025.7h0M894.3 1080.1h0M852.2 1088.8h0M1065.7 1030.6h0M943.5 1028.4h0M923.9 1122.3h0M1018.4 1060.2h0M1035.1 1038.0h0M1014.1 1030.7h0M1079.3 1038.4h0M900.7 1036.1h0M897.0 1065.8h0M989.3 1060.6h0M908.2 1128.1h0M888.7 1120.2h0M910.0 1107.4h0M948.8 1104.9h0M897.1 1147.1h0M867.0 1162.1h0M854.8 1080.6h0M1042.8 1027.4h0M871.6 1057.0h0M888.3 1113.1h0M900.4 1043.0h0M942.9 1045.7h0M994.5 1023.9h0M1005.9 1028.5h0M946.3 1113.8h0M1041.8 1027.3h0M999.7 1047.1h0M916.8 1021.7h0M955.6 1087.4h0M943.6 1042.3h0M916.5 1062.4h0M1035.0 1045.0h0M853.4 1026.4h0M863.4 1147.4h0M905.3 1063.2h0M1062.4 1040.4h0M928.6 1054.4h0M897.2 1126.3h0M832.1 1070.4h0M968.0 1102.2h0M917.1 1131.5h0M1039.1 1027.2h0M1005.4 1028.3h0M967.1 1099.6h0M954.0 1073.3h0M933.4 1048.4h0M885.7 1165.7h0M1052.4 1037.3h0M890.3 1037.2h0M964.2 1058.4h0M971.2 1027.3h0M1038.0 1025.0h0M869.6 1080.3h0M840.6 1046.3h0M890.7 1147.9h0M956.4 1097.4h0M876.9 1100.3h0M1014.0 1055.6h0M873.5 1036.5h0M938.5 1102.5h0M1050.2 1040.5h0M1084.2 1028.4h0M954.3 1114.0h0M978.4 1043.0h0M903.4 1072.7h0M886.8 1083.8h0M1014.6 1024.2h0M859.5 1053.4h0M966.3 1042.3h0M896.0 1147.8h0M925.5 1121.4h0M845.7 1127.5h0M905.1 1103.1h0M840.9 1168.7h0M958.5 1078.4h0M883.7 1073.6h0M870.3 1078.2h0M858.7 1112.7h0M879.7 1161.7h0M1064.4 1041.0h0M936.8 1124.8h0M934.2 1076.3h0M1015.2 1039.4h0M926.5 1125.4h0M952.1 1053.0h0M921.3 1053.1h0M998.7 1031.4h0M942.6 1084.6h0M842.6 1068.4h0M854.8 1144.5h0M837.3 1078.4h0M841.2 1095.2h0M851.7 1164.3h0M1017.1 1049.7h0M873.3 1154.2h0M984.9 1041.1h0M1010.6 1024.7h0M1070.9 1045.0h0M874.6 1160.5h0M891.4 1118.4h0M956.4 1094.3h0M1066.5 1046.9h0M923.5 1133.9h0M879.6 1066.8h0M1004.0 1074.7h0M835.0 1058.3h0M932.6 1136.4h0M928.7 1124.6h0M896.7 1088.4h0M872.2 1150.4h0M1038.4 1030.9h0M968.2 1050.8h0M915.5 1078.5h0M954.3 1089.8h0M927.2 1059.8h0M905.1 1130.9h0M856.1 1103.4h0M948.0 1090.4h0M835.2 1074.0h0M865.3 1154.9h0M961.7 1066.8h0M872.0 1161.7h0M1029.8 1053.2h0M883.1 1055.2h0M976.7 1076.2h0M858.9 1135.5h0M943.7 1112.1h0M879.9 1152.9h0M869.0 1047.8h0M886.5 1148.0h0M882.5 1151.5h0M838.4 1123.7h0M1034.5 1050.9h0M1038.7 1044.4h0M1054.5 1027.3h0M1044.2 1038.3h0M858.8 1126.0h0M948.2 1101.3h0M912.3 1117.6h0M926.7 1128.9h0M883.9 1161.8h0M929.4 1123.4h0M949.0 1087.0h0M891.0 1035.6h0M975.0 1028.1h0M872.6 1033.0h0M986.4 1025.8h0M1105.1 1022.9h0M923.0 1115.1h0M938.5 1100.8h0M889.3 1085.4h0M987.1 1056.9h0M1053.1 1034.8h0M880.7 1162.4h0M977.7 1085.5h0M857.4 1158.0h0M942.9 1094.0h0M876.6 1141.7h0M844.2 1122.4h0M964.3 1072.5h0M964.7 1031.1h0M969.1 1035.1h0M935.6 1086.9h0M1026.3 1052.3h0M849.5 1078.6h0M897.3 1109.8h0M998.2 1048.3h0M917.2 1136.6h0M860.5 1121.2h0M947.9 1061.3h0M873.3 1059.7h0M1082.4 1030.2h0M888.9 1097.6h0M917.7 1111.1h0M1073.8 1027.7h0M929.4 1129.1h0M837.5 1157.1h0M855.6 1153.0h0M969.7 1042.2h0M849.1 1176.4h0M960.4 1044.4h0M912.8 1135.9h0M924.6 1052.4h0M850.9 1028.5h0M1035.2 1053.0h0M835.0 1101.5h0M982.0 1049.1h0M989.9 1041.1h0M1017.6 1053.8h0M942.3 1118.8h0M885.6 1135.3h0M841.2 1165.6h0M887.4 1158.0h0M1038.9 1051.2h0M989.2 1065.2h0M1019.7 1045.4h0M909.4 1023.9h0M928.0 1133.3h0M930.6 1093.3h0M921.8 1102.6h0M878.8 1131.8h0M924.9 1107.2h0M930.8 1109.2h0M949.0 1089.0h0M856.4 1112.6h0M1007.6 1054.8h0M923.0 1068.5h0M895.3 1122.3h0M946.5 1123.1h0M1033.7 1037.0h0M844.2 1137.8h0M896.0 1139.7h0M862.2 1166.1h0M980.7 1041.1h0M855.6 1168.4h0M1055.1 1044.7h0M1017.6 1062.4h0M832.2 1028.5h0M1005.8 1057.2h0M904.2 1102.5h0M965.5 1072.9h0M922.8 1131.1h0M832.3 1027.6h0M861.6 1122.0h0M846.7 1170.3h0M887.1 1025.0h0M897.7 1133.3h0M852.0 1127.1h0M1076.7 1026.4h0M1051.6 1035.2h0M886.9 1079.6h0M837.6 1173.1h0M1060.3 1044.8h0M963.2 1079.4h0M1004.9 1054.6h0M1036.5 1029.9h0M848.2 1112.6h0M1077.7 1039.4h0M1079.3 1027.2h0M851.9 1060.7h0M912.0 1137.8h0M995.1 1064.3h0M1048.9 1051.3h0M1005.7 1038.1h0M1028.5 1059.3h0M831.8 1161.9h0M962.7 1063.3h0M863.5 1157.7h0M843.5 1053.8h0M835.0 1110.8h0M935.2 1099.5h0M878.8 1164.5h0M898.8 1142.5h0M831.4 1163.3h0M849.1 1146.1h0M920.2 1064.3h0M1094.3 1024.9h0M1023.0 1063.5h0M1020.3 1065.7h0M972.1 1041.1h0M860.5 1036.7h0M928.7 1060.4h0M937.3 1133.8h0M888.5 1136.0h0M1019.1 1050.0h0M896.2 1095.1h0M841.2 1125.4h0M971.8 1056.5h0M968.3 1098.0h0M929.8 1112.6h0M904.9 1149.5h0M950.7 1065.5h0M988.2 1048.2h0M964.3 1080.2h0M1042.6 1046.1h0M924.7 1080.8h0M1044.3 1033.7h0M931.3 1108.2h0M1057.2 1038.4h0M1036.3 1033.2h0M842.0 1166.9h0M1031.7 1052.1h0M885.0 1153.2h0M847.4 1101.4h0M930.8 1131.5h0M888.2 1112.5h0M851.2 1163.6h0M1092.6 1023.4h0M1005.1 1049.5h0M961.0 1041.0h0M910.2 1052.1h0M835.2 1088.1h0M883.6 1063.2h0M966.5 1081.1h0M1054.4 1043.1h0M853.8 1165.3h0M939.3 1063.3h0M908.8 1050.2h0M999.3 1076.8h0M869.3 1158.9h0M1051.9 1046.4h0M868.4 1170.9h0M932.0 1075.1h0M910.4 1135.9h0M1033.9 1050.1h0M937.6 1104.2h0M932.9 1100.5h0M1063.5 1036.5h0M945.4 1077.4h0M871.9 1126.0h0M945.0 1058.1h0M932.8 1051.5h0M1037.6 1054.5h0M886.2 1100.6h0M852.8 1124.6h0M999.3 1022.5h0M935.5 1025.4h0M856.6 1138.3h0M974.0 1079.5h0M831.9 1155.8h0M990.4 1081.1h0M1089.8 1028.3h0M938.8 1050.7h0M947.5 1121.6h0M1067.9 1025.2h0M840.4 1177.4h0M914.7 1145.8h0M906.3 1090.9h0M874.2 1033.2h0M907.2 1134.3h0M998.0 1044.6h0M984.1 1076.4h0M1011.9 1059.8h0M926.9 1067.4h0M892.3 1122.5h0M951.7 1116.7h0M857.3 1034.2h0M1082.5 1031.0h0M1021.6 1061.2h0M916.7 1093.4h0M913.9 1049.4h0M1054.8 1025.3h0M875.6 1155.6h0M1052.4 1051.6h0M959.7 1105.5h0M853.8 1110.7h0M880.4 1137.4h0M954.0 1111.0h0M1014.2 1055.4h0M830.5 1169.4h0M904.8 1120.8h0M987.1 1037.8h0M1008.7 1048.4h0M849.2 1039.0h0M1035.0 1046.8h0M955.7 1040.2h0M837.8 1109.8h0M1027.1 1060.7h0M891.8 1125.5h0M985.1 1067.4h0M856.2 1062.8h0M985.6 1061.6h0M953.7 1112.3h0M857.2 1106.2h0M838.4 1058.9h0M853.0 1148.4h0M852.7 1110.9h0M1015.9 1058.1h0M902.9 1135.4h0M913.2 1122.9h0M870.1 1063.0h0M908.7 1084.6h0M1025.3 1023.1h0M837.9 1150.8h0M871.1 1053.6h0M888.9 1162.7h0M1039.7 1040.4h0M1074.4 1026.5h0M889.6 1134.4h0M829.6 1110.3h0M1002.6 1036.8h0M845.9 1086.1h0M964.7 1062.5h0M870.8 1139.4h0M934.2 1127.8h0M945.5 1052.8h0M842.9 1176.9h0M1017.8 1028.5h0M873.5 1112.1h0M833.4 1024.8h0M879.8 1135.3h0M830.6 1175.3h0M927.8 1076.2h0M1001.1 1063.5h0M910.3 1105.1h0M932.2 1070.2h0M884.3 1118.9h0M896.0 1095.5h0M931.8 1105.9h0M886.5 1108.0h0M888.6 1128.7h0M958.8 1039.8h0M925.0 1045.3h0M895.2 1100.1h0M947.6 1048.7h0M931.3 1095.6h0M975.3 1070.6h0M1017.0 1049.7h0M885.9 1035.5h0M950.5 1103.7h0M925.3 1069.5h0M1021.9 1034.9h0M982.7 1055.3h0M941.4 1062.4h0M881.6 1139.7h0M1019.8 1036.5h0M938.7 1093.9h0M912.3 1079.8h0M913.1 1091.1h0M874.7 1166.9h0M874.6 1171.2h0M839.9 1064.0h0M875.2 1047.6h0M965.2 1053.0h0M874.4 1144.8h0M922.7 1139.7h0M932.1 1092.0h0M950.8 1030.4h0M852.7 1102.9h0M895.7 1146.9h0M863.0 1118.2h0M1073.4 1027.7h0M865.9 1169.9h0M1063.4 1043.6h0M894.3 1096.6h0M871.6 1146.8h0M889.8 1150.0h0M999.1 1076.0h0M942.5 1113.4h0M936.8 1130.9h0M834.7 1141.4h0M1009.2 1074.0h0M918.2 1025.6h0M895.8 1062.0h0M948.9 1067.7h0M929.8 1073.5h0M838.0 1127.1h0M835.7 1060.4h0M955.4 1076.1h0M961.5 1048.7h0M881.6 1052.5h0M876.2 1087.8h0M912.2 1036.2h0M979.8 1085.4h0M986.5 1080.2h0M849.3 1104.9h0M959.5 1086.8h0M890.5 1048.4h0M1016.8 1059.9h0M847.9 1101.7h0M885.3 1085.2h0M961.4 1033.7h0M898.1 1079.9h0M1041.1 1048.5h0M935.5 1064.0h0M923.6 1125.8h0M846.0 1177.8h0M852.9 1109.7h0M835.1 1158.8h0M947.9 1052.0h0M990.4 1038.6h0M894.5 1159.5h0M848.6 1076.3h0M895.0 1141.9h0M1035.7 1056.3h0M874.1 1158.7h0M955.8 1109.1h0M1022.4 1058.5h0M834.9 1122.1h0M1032.5 1045.8h0M832.6 1176.0h0M837.4 1159.0h0M829.7 1129.9h0M1021.5 1048.7h0M893.4 1140.7h0M1032.9 1049.7h0M1062.6 1038.5h0M886.3 1121.8h0M921.1 1100.0h0M974.2 1041.4h0M1018.1 1033.2h0M965.5 1088.7h0M1058.5 1025.0h0M1076.5 1021.7h0M957.2 1029.6h0M1022.4 1044.1h0M901.0 1041.4h0M922.0 1050.7h0M843.1 1170.8h0M948.9 1076.0h0M829.7 1060.9h0M924.2 1023.4h0M873.4 1156.2h0M879.9 1131.3h0M894.4 1120.2h0M1025.8 1048.3h0M1010.5 1027.3h0M830.3 1021.9h0M877.3 1070.1h0M909.0 1141.1h0M853.4 1159.1h0M997.0 1062.2h0M977.9 1074.1h0M867.5 1125.0h0M928.9 1023.9h0M939.1 1083.3h0M889.9 1058.9h0M986.2 1074.0h0M979.0 1075.0h0M989.1 1030.8h0M845.2 1139.5h0M950.3 1068.2h0M841.5 1142.2h0M846.4 1116.7h0M860.1 1041.1h0M1025.1 1033.7h0M884.7 1138.7h0M937.1 1064.2h0M894.6 1114.4h0M871.2 1160.4h0M901.6 1073.1h0M969.0 1070.1h0M839.7 1147.6h0M853.7 1076.9h0M867.2 1084.0h0M971.8 1042.3h0M831.3 1021.7h0M950.2 1048.0h0M850.4 1035.7h0M834.1 1055.0h0M831.2 1172.0h0M883.8 1164.7h0M861.9 1067.7h0M950.1 1114.2h0M882.5 1120.0h0M850.0 1151.2h0M961.3 1038.5h0M1025.5 1021.9h0M928.7 1111.7h0M1009.0 1067.2h0M839.5 1175.1h0M847.0 1133.6h0M840.5 1178.8h0M847.8 1175.0h0M889.8 1039.8h0M993.6 1036.0h0M859.8 1084.1h0M918.1 1087.3h0M1074.0 1025.8h0M972.0 1091.7h0M935.5 1098.1h0M1025.9 1038.4h0M951.7 1078.9h0M840.1 1080.0h0M1024.0 1044.9h0M889.1 1062.1h0M933.2 1088.1h0M839.6 1033.8h0M1033.1 1024.9h0M972.8 1026.0h0M854.6 1158.3h0M839.6 1131.6h0M862.4 1168.5h0M907.0 1077.4h0M846.4 1096.4h0M1007.5 1055.7h0M867.1 1116.3h0M1029.9 1051.8h0M884.9 1086.5h0M989.9 1036.5h0M999.0 1036.9h0M969.6 1057.4h0M834.1 1156.7h0M853.0 1111.7h0M988.0 1078.8h0M1071.8 1025.2h0M938.6 1096.2h0M832.9 1103.1h0M957.9 1083.2h0M1020.2 1042.8h0M858.1 1095.9h0M932.4 1089.1h0M911.7 1048.4h0M944.9 1099.1h0M912.9 1131.8h0M853.0 1108.2h0M1042.0 1052.1h0M892.7 1137.8h0M899.5 1121.7h0M1006.1 1058.6h0M840.1 1104.8h0M939.9 1024.5h0M840.7 1177.3h0M835.5 1037.4h0M953.1 1072.4h0M903.5 1141.1h0M963.5 1104.6h0M877.9 1169.9h0M915.5 1042.0h0M899.4 1030.7h0M869.4 1144.1h0M901.7 1116.6h0M900.8 1038.6h0M863.3 1110.5h0M867.5 1136.4h0M992.3 1042.6h0M1082.5 1024.4h0M943.6 1082.8h0M963.8 1064.0h0M984.8 1029.2h0M870.3 1147.0h0M939.6 1026.3h0M971.5 1092.3h0M881.9 1152.6h0M934.4 1092.2h0M927.1 1111.9h0M996.6 1062.6h0M946.3 1061.6h0M1077.3 1033.6h0M886.6 1145.2h0M902.0 1054.8h0M922.0 1110.9h0M901.1 1030.1h0M920.4 1042.3h0M891.5 1092.0h0M839.4 1054.8h0M875.5 1113.8h0M919.9 1064.0h0M849.6 1152.6h0M1051.9 1039.7h0M902.1 1090.1h0M930.9 1069.0h0M859.6 1171.6h0M1017.0 1063.7h0M929.5 1043.9h0M911.0 1093.1h0M956.6 1041.0h0M859.5 1095.0h0M917.6 1132.2h0M920.4 1105.0h0M966.8 1095.9h0M1035.7 1052.8h0M1014.2 1025.4h0M848.8 1158.3h0M981.8 1074.2h0M914.9 1031.5h0M1017.8 1035.3h0M857.3 1133.9h0M882.4 1073.7h0M882.7 1128.3h0M958.3 1064.4h0M896.4 1083.5h0M886.6 1064.0h0M931.4 1092.6h0M862.5 1116.7h0M968.6 1022.8h0M988.1 1072.5h0M854.6 1127.0h0M891.8 1153.1h0M1040.4 1041.9h0M933.1 1101.4h0M955.1 1101.6h0M839.2 1162.1h0M882.6 1107.1h0M951.2 1059.7h0M899.7 1152.3h0M1039.9 1035.9h0M946.5 1056.5h0M1080.5 1025.2h0M922.4 1054.0h0M895.7 1129.9h0M833.1 1171.2h0M917.8 1083.2h0M941.0 1098.5h0M917.6 1140.2h0M856.4 1150.2h0M956.5 1097.4h0M873.1 1135.6h0M930.9 1047.1h0M927.0 1085.6h0M930.1 1061.0h0M893.7 1061.6h0M1078.1 1026.0h0M932.9 1104.2h0M849.7 1070.9h0M897.9 1116.6h0M854.9 1170.3h0M909.7 1138.2h0M911.6 1134.2h0M897.4 1111.3h0M975.3 1088.3h0M981.8 1060.6h0M906.1 1149.6h0M964.4 1054.5h0M1062.5 1026.7h0M834.9 1166.0h0M1082.4 1030.5h0M1023.7 1028.2h0M977.8 1070.0h0M861.3 1162.0h0M1002.0 1062.0h0M960.3 1083.5h0M913.2 1035.6h0M878.5 1104.5h0M927.8 1122.2h0M829.7 1150.2h0M1034.9 1038.6h0M953.1 1022.8h0M878.8 1029.8h0M1005.5 1072.4h0M858.0 1149.1h0M1069.3 1044.1h0M961.4 1089.2h0M908.6 1030.9h0M874.2 1143.6h0M923.2 1083.9h0M831.8 1054.3h0M967.3 1056.1h0M915.2 1131.0h0M940.2 1114.1h0M999.4 1031.3h0M922.9 1115.3h0M893.7 1153.6h0M925.2 1123.8h0M877.7 1132.1h0M982.8 1045.9h0M874.7 1172.3h0M968.8 1101.6h0M956.8 1112.3h0M890.0 1125.1h0M902.7 1128.9h0M992.8 1038.9h0M854.5 1117.6h0M887.3 1100.7h0M1076.6 1025.0h0M884.6 1106.9h0M936.8 1036.1h0M879.4 1139.4h0M965.9 1094.0h0M841.2 1145.2h0M939.4 1097.7h0M896.6 1080.7h0M877.4 1143.0h0M870.9 1129.8h0M968.1 1099.3h0M943.2 1088.9h0M1009.7 1033.4h0M917.1 1129.7h0M1065.6 1046.7h0M946.7 1109.8h0M977.5 1049.9h0M976.2 1023.3h0M863.5 1130.1h0M1041.7 1038.1h0M1005.8 1065.6h0M904.3 1081.4h0M957.7 1082.6h0M845.9 1172.2h0M921.2 1110.5h0M951.7 1081.2h0M843.6 1172.1h0M989.9 1066.1h0M888.2 1137.0h0M874.5 1113.5h0M889.4 1139.4h0M991.9 1043.3h0M952.4 1107.8h0M909.2 1118.4h0M846.2 1130.4h0M891.0 1069.0h0M907.1 1082.3h0M948.3 1075.4h0M871.3 1126.6h0M948.1 1028.9h0M973.7 1029.7h0M982.0 1032.6h0M834.4 1107.6h0M1088.2 1030.0h0M1023.4 1046.1h0M900.6 1152.8h0M929.1 1077.8h0M910.8 1049.9h0M929.6 1034.7h0M1051.8 1049.3h0M877.8 1142.4h0M882.8 1055.3h0M1031.2 1055.5h0M884.4 1070.1h0M953.0 1100.1h0M897.5 1108.8h0M853.2 1136.7h0M883.1 1053.5h0M1011.5 1032.5h0M894.2 1095.4h0M836.8 1106.5h0M1005.6 1069.9h0M851.0 1125.4h0M830.2 1128.1h0M864.2 1101.9h0M974.9 1085.9h0M935.7 1094.2h0M852.4 1060.0h0M890.2 1133.1h0M831.9 1053.5h0M1059.2 1022.6h0M860.2 1043.7h0M833.7 1148.8h0M954.0 1057.1h0M941.2 1080.0h0M1089.8 1023.5h0M900.4 1152.8h0M921.9 1099.2h0M1036.0 1027.4h0M973.8 1093.5h0M943.1 1065.6h0M956.4 1104.6h0M830.0 1160.9h0M905.6 1116.0h0M830.2 1179.5h0M859.6 1168.1h0M898.6 1131.4h0M831.3 1104.8h0M885.3 1118.5h0M1058.6 1026.4h0M832.3 1120.3h0M972.0 1073.1h0M839.5 1136.6h0M1009.2 1036.4h0M1034.7 1041.0h0M1029.4 1054.3h0M846.6 1118.1h0M963.3 1080.4h0M865.3 1059.3h0M873.5 1167.7h0M1040.8 1054.8h0M837.4 1178.4h0M1018.3 1051.6h0M840.0 1082.1h0M994.8 1057.0h0M874.8 1148.3h0M929.1 1088.4h0M859.2 1166.9h0M953.7 1090.5h0M1004.7 1036.7h0M925.9 1106.4h0M933.2 1058.7h0M861.1 1174.3h0M1004.9 1061.6h0M888.4 1160.7h0M871.9 1112.8h0M887.3 1094.8h0M894.7 1096.0h0M947.7 1101.4h0M910.2 1118.2h0M987.1 1080.6h0M892.2 1160.6h0M1018.5 1033.7h0M951.4 1083.3h0M906.8 1025.8h0M1035.6 1029.7h0M838.3 1169.1h0M852.8 1090.5h0M1042.3 1030.0h0M833.5 1088.8h0M928.9 1131.9h0M931.4 1068.0h0M1016.8 1056.9h0M935.5 1106.8h0M856.0 1098.6h0M999.3 1027.4h0M978.6 1091.6h0M888.5 1061.6h0M977.1 1062.4h0M948.1 1108.6h0M830.8 1074.2h0M965.9 1065.1h0M997.0 1034.0h0M939.9 1112.8h0M956.3 1093.2h0M843.1 1028.6h0M951.6 1099.0h0M914.3 1107.3h0M1032.3 1061.0h0M835.0 1170.7h0M888.5 1128.8h0M860.8 1152.5h0M989.9 1058.4h0M885.2 1164.7h0M941.7 1087.3h0M1022.9 1046.1h0M833.2 1152.1h0M874.1 1081.0h0M921.5 1100.1h0M953.1 1074.8h0M900.4 1097.6h0M998.2 1045.2h0M981.2 1041.0h0M1014.7 1039.6h0M846.0 1144.4h0M881.3 1045.0h0M884.5 1057.6h0M911.6 1139.7h0M832.7 1147.7h0M881.4 1111.3h0M853.8 1052.9h0M988.8 1049.1h0M906.7 1123.6h0M959.1 1097.2h0M916.2 1100.9h0M865.9 1166.7h0M863.6 1161.2h0M856.0 1122.3h0M831.4 1024.6h0M843.8 1147.1h0M884.5 1163.6h0M982.4 1074.7h0M858.9 1074.5h0M960.8 1079.3h0M907.4 1146.8h0M1030.7 1037.2h0M1078.2 1030.3h0M909.0 1148.9h0M981.1 1085.9h0M864.3 1079.4h0M862.3 1172.3h0M1015.6 1044.3h0M1030.5 1050.1h0M846.8 1029.6h0M1026.9 1058.9h0M1020.7 1040.5h0M903.9 1066.0h0M1076.2 1023.4h0M871.9 1145.6h0M1041.1 1050.2h0M1056.9 1045.2h0M856.1 1140.0h0M1019.5 1050.1h0M998.7 1071.0h0M1027.4 1037.0h0M1001.6 1073.1h0M875.8 1145.9h0M971.0 1078.5h0M869.2 1078.8h0M932.8 1118.3h0M971.8 1038.2h0M887.8 1072.1h0M1072.6 1039.0h0M831.9 1122.4h0M861.3 1136.0h0M942.6 1111.3h0M1019.6 1055.1h0M985.5 1027.5h0M857.8 1158.3h0M835.3 1036.4h0M979.0 1085.7h0M929.0 1105.1h0M872.9 1088.9h0M983.0 1064.5h0M932.9 1080.2h0M883.2 1035.7h0M997.0 1034.8h0M974.2 1037.3h0M911.0 1140.8h0M897.5 1137.8h0M1016.3 1036.4h0M833.8 1177.7h0M848.0 1156.8h0M843.1 1159.0h0M1024.7 1065.1h0M1009.2 1022.3h0M994.0 1035.2h0M1007.4 1051.7h0M975.2 1027.7h0M862.7 1103.3h0M899.4 1047.6h0M974.1 1080.1h0M923.5 1136.8h0M905.7 1140.4h0M1002.7 1062.3h0M904.8 1027.3h0M898.3 1104.8h0M896.1 1036.8h0M1029.0 1057.9h0M869.3 1077.1h0M1052.6 1045.2h0M881.9 1152.7h0M880.3 1158.6h0M1058.9 1047.4h0M836.0 1131.4h0M1037.7 1055.5h0M940.3 1114.3h0M978.3 1063.4h0M945.4 1112.0h0M907.7 1060.2h0M840.3 1032.2h0M998.4 1027.9h0M1001.7 1076.0h0M910.4 1047.9h0M980.1 1022.9h0M868.4 1108.2h0M873.0 1144.7h0M846.3 1125.1h0M889.5 1123.5h0M992.4 1081.1h0M976.4 1031.0h0M867.7 1139.4h0M1065.8 1030.8h0M837.0 1136.0h0M857.2 1130.2h0M911.5 1115.9h0M958.6 1063.3h0M897.9 1149.5h0M941.5 1053.5h0M837.5 1159.0h0M885.0 1144.2h0M1038.5 1029.2h0M963.5 1107.1h0M856.1 1087.0h0M889.3 1027.3h0M854.2 1055.6h0M909.1 1144.2h0M908.1 1029.8h0M887.4 1107.9h0M955.5 1048.2h0M855.7 1076.3h0M1008.9 1065.0h0M896.0 1134.1h0M836.6 1174.8h0M1009.4 1047.8h0M897.4 1157.1h0M837.3 1151.8h0M962.0 1089.4h0M888.1 1120.7h0M842.2 1130.3h0M834.5 1119.3h0M899.5 1130.5h0M1012.4 1068.3h0M884.4 1122.8h0M904.0 1096.1h0M934.7 1087.4h0M941.2 1028.1h0M838.6 1154.8h0M864.9 1036.5h0M1018.1 1029.5h0M919.4 1081.5h0M1040.9 1047.5h0M859.5 1027.2h0M945.1 1100.7h0M855.9 1033.9h0M928.4 1125.2h0M1012.9 1056.0h0M913.1 1048.3h0M843.4 1122.5h0M1046.1 1039.2h0M935.1 1029.8h0M938.0 1096.4h0M958.7 1067.7h0M847.2 1062.0h0M971.0 1035.2h0M891.1 1105.3h0M936.0 1115.5h0M891.7 1087.6h0M943.6 1088.4h0M938.8 1042.0h0M947.3 1090.2h0M1022.7 1046.3h0M987.6 1023.7h0M986.0 1038.0h0M1008.1 1022.1h0M1004.3 1029.9h0M894.2 1132.1h0M930.7 1113.4h0M1052.2 1041.4h0M1054.5 1050.3h0M895.0 1031.9h0M870.4 1080.5h0M836.4 1118.4h0M884.9 1137.4h0M976.5 1074.4h0M860.6 1089.9h0M877.4 1150.7h0M887.8 1163.9h0M877.1 1073.5h0M1011.5 1068.8h0M868.4 1126.4h0M949.0 1032.1h0M946.6 1119.3h0M996.3 1049.2h0M927.7 1065.3h0M881.5 1163.8h0M1027.8 1057.3h0M955.6 1079.1h0M977.4 1056.9h0M997.2 1049.1h0M963.3 1067.2h0M926.7 1115.2h0M973.7 1062.2h0M919.5 1118.6h0M902.2 1046.9h0M960.5 1080.2h0M851.4 1124.8h0M881.3 1127.0h0M1011.8 1036.2h0M839.9 1094.3h0M1018.1 1034.9h0M922.3 1090.2h0M962.7 1105.6h0M898.1 1110.9h0M1050.7 1047.6h0M958.4 1039.4h0M911.2 1097.4h0M1002.6 1075.8h0M843.9 1169.6h0M1059.2 1036.4h0M878.5 1103.8h0M845.3 1163.2h0M878.2 1153.7h0M1007.2 1024.5h0M915.7 1043.0h0M1055.2 1025.1h0M871.4 1171.7h0M1027.1 1032.4h0M927.8 1078.9h0M946.3 1095.5h0M858.7 1157.3h0M960.6 1024.0h0M977.4 1077.4h0M945.0 1106.7h0M842.6 1107.5h0M902.2 1082.4h0M1002.8 1062.8h0M960.1 1057.6h0M870.4 1144.3h0M834.5 1146.9h0M852.8 1124.0h0M893.4 1121.6h0M1086.6 1024.0h0M962.6 1044.2h0M1054.2 1050.0h0M988.6 1059.0h0M1019.1 1061.4h0M1004.3 1050.3h0M905.0 1132.9h0M979.0 1054.8h0M900.9 1116.2h0M849.5 1169.6h0M924.6 1115.4h0M830.8 1127.5h0M904.9 1129.1h0M933.9 1129.7h0M884.4 1159.3h0M1029.6 1033.1h0M973.6 1080.2h0M960.5 1066.5h0M1101.2 1022.2h0M948.4 1067.2h0M922.7 1059.4h0M830.3 1068.1h0M945.9 1105.6h0M959.1 1043.1h0M902.1 1058.9h0M837.8 1124.1h0M842.3 1116.9h0M958.5 1112.8h0M879.3 1126.9h0M842.1 1147.8h0M862.1 1029.8h0M894.8 1089.2h0M1025.2 1045.2h0M850.9 1156.9h0M1075.9 1021.6h0M912.2 1110.4h0M906.5 1035.3h0M846.0 1055.0h0M949.0 1049.0h0M882.2 1167.9h0M1045.7 1025.1h0M994.5 1023.5h0M933.7 1058.7h0M942.1 1028.8h0M1062.2 1048.3h0M846.6 1068.8h0M882.1 1164.1h0M876.9 1048.7h0M840.9 1061.9h0M909.9 1118.4h0M916.8 1140.0h0M908.8 1045.9h0M940.4 1102.7h0M1002.4 1031.3h0M907.0 1039.0h0M1051.7 1048.9h0M887.0 1038.4h0M841.5 1126.1h0M943.8 1125.9h0M917.5 1021.7h0M1019.2 1040.5h0M838.3 1157.6h0M1074.7 1042.0h0M885.0 1083.7h0M879.9 1154.5h0M975.2 1069.0h0M1107.6 1023.2h0M853.9 1124.4h0M993.3 1066.1h0M1049.4 1038.3h0M953.8 1042.3h0M908.9 1087.6h0M920.8 1094.4h0M912.2 1056.1h0M987.7 1048.0h0M930.8 1099.2h0M952.5 1060.0h0M843.6 1038.8h0M890.8 1075.4h0M884.0 1141.2h0M964.5 1087.8h0M847.7 1042.0h0M837.9 1099.7h0M967.4 1064.0h0M861.4 1174.1h0M905.5 1047.3h0M904.0 1144.5h0M945.9 1112.0h0M1009.0 1066.7h0M1036.0 1052.1h0M834.8 1086.8h0M1083.5 1031.2h0M1062.8 1047.5h0M982.0 1049.5h0M939.7 1116.4h0M993.3 1055.6h0M859.5 1167.5h0M944.6 1039.5h0M958.8 1089.9h0M926.7 1091.9h0M963.4 1060.9h0M864.9 1121.8h0M997.7 1073.8h0M929.9 1079.9h0M949.9 1063.7h0M884.4 1161.9h0M900.5 1124.5h0M1012.3 1067.6h0M937.7 1036.4h0M915.2 1101.4h0M872.6 1162.0h0M882.0 1154.1h0M987.3 1053.3h0M1001.9 1073.2h0M884.6 1150.8h0M849.7 1177.1h0M951.7 1052.8h0M857.8 1135.7h0M1071.0 1041.9h0M1043.6 1044.2h0M946.2 1065.8h0M992.3 1077.3h0M948.7 1069.1h0M857.2 1165.2h0M940.1 1107.0h0M857.2 1085.6h0M907.6 1066.0h0M1090.5 1024.1h0M850.8 1074.0h0M842.9 1156.3h0M850.5 1136.2h0M867.1 1119.8h0M896.3 1129.7h0M1019.0 1039.4h0M1037.1 1025.0h0M1051.7 1043.9h0M947.8 1031.6h0M843.7 1029.2h0M869.7 1166.0h0M845.7 1125.3h0M861.6 1151.9h0M1029.4 1054.2h0M832.6 1161.5h0M848.5 1163.9h0M999.7 1046.4h0M879.5 1028.0h0M874.9 1155.2h0M1027.7 1059.8h0M983.8 1075.0h0M1027.0 1060.0h0M947.5 1072.4h0M890.5 1049.2h0M945.0 1034.5h0M987.4 1076.5h0M914.4 1147.5h0M918.3 1036.2h0M1070.3 1025.3h0M999.2 1060.4h0M847.0 1089.7h0M942.7 1126.6h0M1092.9 1025.5h0M1075.6 1033.5h0M889.6 1113.5h0M891.9 1087.2h0M882.0 1144.7h0M917.8 1118.3h0M860.9 1105.5h0M966.3 1080.5h0M896.8 1149.9h0M920.7 1051.4h0M835.0 1126.8h0M833.2 1165.2h0M904.7 1114.4h0M840.0 1129.4h0M878.4 1030.6h0M861.5 1165.6h0M998.3 1055.3h0M863.0 1172.4h0M977.3 1077.3h0M1065.1 1022.7h0M912.0 1143.9h0M969.6 1046.3h0M903.9 1137.7h0M838.7 1140.2h0M886.0 1032.2h0M861.4 1135.8h0M926.4 1106.7h0M974.6 1094.4h0M1018.6 1024.3h0M928.5 1106.9h0M897.7 1082.6h0M1066.1 1035.1h0M833.5 1175.1h0M883.9 1127.0h0M855.5 1135.6h0M844.3 1127.5h0M835.8 1093.9h0M1060.8 1037.7h0M994.8 1027.8h0M1039.8 1052.9h0M867.1 1134.3h0M983.1 1064.7h0M840.8 1065.4h0M910.3 1105.4h0M837.5 1130.9h0M921.9 1082.4h0M1042.0 1044.8h0M1027.1 1028.1h0M1015.6 1064.2h0M942.6 1063.1h0M973.4 1046.9h0M886.0 1037.4h0M943.3 1103.5h0M916.6 1110.2h0M979.7 1050.3h0M924.8 1054.3h0M881.1 1126.4h0M875.1 1125.4h0M1029.6 1060.3h0M940.5 1073.6h0M1071.5 1044.2h0M1051.5 1023.4h0M886.7 1155.1h0M863.7 1158.0h0M967.3 1053.1h0M874.9 1151.3h0M936.7 1106.8h0M1011.2 1028.7h0M927.8 1123.2h0M883.3 1158.5h0M1030.7 1058.6h0M868.8 1130.7h0M986.7 1077.6h0M1039.0 1031.1h0M876.9 1131.9h0M912.0 1032.6h0M845.9 1171.3h0M918.2 1092.0h0M968.9 1082.5h0M942.8 1099.0h0M972.9 1062.1h0M968.6 1091.5h0M847.7 1143.8h0M843.7 1119.9h0M916.3 1075.9h0M1054.6 1023.6h0M953.9 1070.0h0M957.3 1044.6h0M943.2 1051.7h0M988.6 1022.5h0M832.3 1161.5h0M1028.1 1054.6h0M904.5 1117.2h0M868.9 1147.7h0M899.7 1024.8h0M849.5 1051.3h0M863.6 1154.6h0M896.4 1121.9h0M933.4 1130.2h0M844.9 1159.7h0M1094.8 1025.5h0M908.9 1043.7h0M986.9 1079.7h0M975.0 1090.1h0M1052.3 1041.0h0M926.9 1088.1h0M931.3 1112.9h0M892.6 1147.8h0M897.1 1132.8h0M969.7 1089.1h0M896.8 1028.0h0M871.9 1077.9h0M929.1 1084.1h0M994.0 1076.3h0M925.6 1101.2h0M916.4 1067.0h0M937.5 1054.8h0M836.5 1054.8h0M959.1 1051.2h0M982.3 1050.7h0M1073.5 1043.5h0M883.9 1121.0h0M935.7 1061.6h0M888.9 1022.4h0M971.4 1085.9h0M878.0 1134.4h0M867.9 1124.9h0M855.9 1100.2h0M1064.0 1040.8h0M912.9 1091.0h0M1057.4 1048.6h0M1011.5 1051.5h0M1078.6 1029.5h0M1009.1 1036.4h0M927.2 1095.1h0M924.2 1086.0h0M957.2 1097.7h0M887.2 1071.5h0M887.0 1105.8h0M933.7 1124.7h0M888.5 1058.3h0M874.3 1137.3h0M841.1 1142.6h0M897.1 1051.7h0M1050.1 1023.5h0M918.0 1054.5h0M947.3 1045.4h0M969.6 1093.1h0M860.0 1167.5h0M905.7 1087.8h0M951.2 1095.1h0M978.4 1058.4h0M1008.6 1057.7h0M876.4 1110.7h0M923.8 1076.5h0M970.8 1052.8h0M1018.0 1029.0h0M1075.6 1030.8h0M858.4 1056.6h0M877.8 1163.0h0M860.8 1101.9h0M865.8 1138.6h0M990.3 1068.2h0M860.6 1164.2h0M887.4 1130.2h0M911.9 1029.6h0M942.3 1036.5h0M1042.3 1031.1h0M907.1 1071.0h0M1005.9 1063.0h0M892.7 1143.4h0M868.0 1086.0h0M879.6 1156.5h0M848.8 1105.4h0M833.2 1046.7h0M880.8 1079.5h0M880.3 1069.7h0M963.9 1089.8h0M932.9 1103.5h0M1002.7 1060.3h0M928.2 1120.3h0M890.6 1058.9h0M1080.2 1033.7h0M973.9 1085.7h0M868.0 1105.6h0M979.4 1076.4h0M987.9 1077.8h0M854.8 1161.3h0M1011.6 1067.0h0M830.5 1096.8h0M830.9 1173.9h0M830.4 1087.8h0M830.4 1073.4h0M830.7 1059.2h0M830.7 1049.8h0M830.2 1099.7h0M830.7 1033.0h0M831.1 1094.6h0M830.3 1080.2h0M830.2 1122.2h0M831.2 1104.4h0M830.3 1098.3h0M831.0 1147.2h0M830.2 1110.4h0M830.5 1099.4h0M831.3 1030.0h0M831.0 1174.3h0M830.2 1066.3h0M831.1 1057.8h0M830.6 1135.6h0M830.5 1043.6h0M830.6 1158.6h0M830.4 1061.6h0M831.0 1151.1h0M831.3 1104.0h0M830.9 1108.2h0M830.8 1051.3h0M830.3 1109.5h0M831.2 1136.1h0M830.2 1115.3h0M831.3 1176.0h0M830.7 1064.6h0M830.9 1051.3h0M830.3 1168.3h0M830.9 1160.9h0M831.1 1055.1h0M831.2 1058.3h0M830.4 1187.9h0M831.3 1119.7h0M830.8 1127.6h0M830.4 1155.3h0M830.6 1090.0h0M830.4 1073.8h0M831.1 1045.2h0M830.4 1043.7h0M830.7 1183.4h0M831.2 1089.6h0M831.0 1099.8h0M830.8 1179.4h0M830.8 1101.8h0M830.3 1055.4h0M830.6 1079.2h0M830.2 1080.0h0M830.2 1128.2h0M830.9 1055.3h0M830.2 1115.4h0M830.3 1072.7h0M831.3 1147.3h0M830.5 1066.6h0" stroke="#440154" stroke-width="4.8" stroke-linecap="round" fill="none"/><ellipse cx="994.4" cy="1256.9" rx="175" ry="80" transform="rotate(-40 994.4 1256.9)" fill="url(#gg1)"/><clipPath id="kdeclip"><rect x="857" y="1223.9" width="160" height="140" rx="2"/></clipPath><ellipse cx="857" cy="1363.9" rx="135" ry="110" fill="url(#gg2)" clip-path="url(#kdeclip)"/></g><line x1="831.4" y1="1374.9" x2="1140.5" y2="1065.8" stroke="#ff2a1a" stroke-width="3" stroke-dasharray="11 5.5"/><g stroke-dasharray="7 4" opacity="0.45"><line x1="803.3" y1="1030" x2="803.3" y2="1410.5" stroke="#c8c8c8" stroke-width="1.5"/><line x1="943.8" y1="1030" x2="943.8" y2="1410.5" stroke="#c8c8c8" stroke-width="1.5"/><line x1="1084.3" y1="1030" x2="1084.3" y2="1410.5" stroke="#c8c8c8" stroke-width="1.5"/><line x1="772.8" y1="1403" x2="1199.8" y2="1403" stroke="#c8c8c8" stroke-width="1.5"/><line x1="772.8" y1="1332.8" x2="1199.8" y2="1332.8" stroke="#c8c8c8" stroke-width="1.5"/><line x1="772.8" y1="1262.5" x2="1199.8" y2="1262.5" stroke="#c8c8c8" stroke-width="1.5"/><line x1="772.8" y1="1192.2" x2="1199.8" y2="1192.2" stroke="#c8c8c8" stroke-width="1.5"/><line x1="772.8" y1="1122" x2="1199.8" y2="1122" stroke="#c8c8c8" stroke-width="1.5"/><line x1="772.8" y1="1051.8" x2="1199.8" y2="1051.8" stroke="#c8c8c8" stroke-width="1.5"/></g><rect x="772.8" y="1030" width="427" height="380.5" fill="none" stroke="#000" stroke-width="2"/><line x1="803.3" y1="1410.5" x2="803.3" y2="1419" stroke="#000" stroke-width="1.8"/><text x="803.3" y="1446" font-size="28" text-anchor="middle">0</text><line x1="943.8" y1="1410.5" x2="943.8" y2="1419" stroke="#000" stroke-width="1.8"/><text x="943.8" y="1446" font-size="28" text-anchor="middle">5</text><line x1="1084.3" y1="1410.5" x2="1084.3" y2="1419" stroke="#000" stroke-width="1.8"/><text x="1084.3" y="1446" font-size="28" text-anchor="middle">10</text><line x1="764.3" y1="1403" x2="772.8" y2="1403" stroke="#000" stroke-width="1.8"/><text x="755.5" y="1412.8" font-size="28" text-anchor="end">0.0</text><line x1="764.3" y1="1332.8" x2="772.8" y2="1332.8" stroke="#000" stroke-width="1.8"/><text x="755.5" y="1342.5" font-size="28" text-anchor="end">2.5</text><line x1="764.3" y1="1262.5" x2="772.8" y2="1262.5" stroke="#000" stroke-width="1.8"/><text x="755.5" y="1272.3" font-size="28" text-anchor="end">5.0</text><line x1="764.3" y1="1192.2" x2="772.8" y2="1192.2" stroke="#000" stroke-width="1.8"/><text x="755.5" y="1202" font-size="28" text-anchor="end">7.5</text><line x1="764.3" y1="1122" x2="772.8" y2="1122" stroke="#000" stroke-width="1.8"/><text x="755.5" y="1131.8" font-size="28" text-anchor="end">10.0</text><line x1="764.3" y1="1051.8" x2="772.8" y2="1051.8" stroke="#000" stroke-width="1.8"/><text x="755.5" y="1061.5" font-size="28" text-anchor="end">12.5</text><text x="986" y="1480.5" font-size="28" text-anchor="middle">Eq. TiO<tspan font-size="19.5" dy="6">2</tspan></text><text transform="translate(688,1222) rotate(-90)" font-size="28" text-anchor="middle">CNN TiO<tspan font-size="19.5" dy="6">2</tspan></text><rect x="1225.5" y="1030" width="18.9" height="380.5" fill="url(#virg)"/><rect x="1225.5" y="1030" width="18.9" height="380.5" fill="none" stroke="#000" stroke-width="1.8"/><line x1="1244.4" y1="1410.5" x2="1252.9" y2="1410.5" stroke="#000" stroke-width="1.8"/><text x="1260.5" y="1425.1" font-size="28">10<tspan dy="-18.5" font-size="19.5">−6</tspan></text><line x1="1244.4" y1="1388.6" x2="1248.9" y2="1388.6" stroke="#000" stroke-width="1.2"/><line x1="1244.4" y1="1375.8" x2="1248.9" y2="1375.8" stroke="#000" stroke-width="1.2"/><line x1="1244.4" y1="1366.7" x2="1248.9" y2="1366.7" stroke="#000" stroke-width="1.2"/><line x1="1244.4" y1="1359.7" x2="1248.9" y2="1359.7" stroke="#000" stroke-width="1.2"/><line x1="1244.4" y1="1353.9" x2="1248.9" y2="1353.9" stroke="#000" stroke-width="1.2"/><line x1="1244.4" y1="1349.1" x2="1248.9" y2="1349.1" stroke="#000" stroke-width="1.2"/><line x1="1244.4" y1="1344.8" x2="1248.9" y2="1344.8" stroke="#000" stroke-width="1.2"/><line x1="1244.4" y1="1341.1" x2="1248.9" y2="1341.1" stroke="#000" stroke-width="1.2"/><line x1="1244.4" y1="1337.8" x2="1252.9" y2="1337.8" stroke="#000" stroke-width="1.8"/><text x="1260.5" y="1352.4" font-size="28">10<tspan dy="-18.5" font-size="19.5">−5</tspan></text><line x1="1244.4" y1="1315.9" x2="1248.9" y2="1315.9" stroke="#000" stroke-width="1.2"/><line x1="1244.4" y1="1303.1" x2="1248.9" y2="1303.1" stroke="#000" stroke-width="1.2"/><line x1="1244.4" y1="1294" x2="1248.9" y2="1294" stroke="#000" stroke-width="1.2"/><line x1="1244.4" y1="1287" x2="1248.9" y2="1287" stroke="#000" stroke-width="1.2"/><line x1="1244.4" y1="1281.2" x2="1248.9" y2="1281.2" stroke="#000" stroke-width="1.2"/><line x1="1244.4" y1="1276.4" x2="1248.9" y2="1276.4" stroke="#000" stroke-width="1.2"/><line x1="1244.4" y1="1272.1" x2="1248.9" y2="1272.1" stroke="#000" stroke-width="1.2"/><line x1="1244.4" y1="1268.4" x2="1248.9" y2="1268.4" stroke="#000" stroke-width="1.2"/><line x1="1244.4" y1="1265.1" x2="1252.9" y2="1265.1" stroke="#000" stroke-width="1.8"/><text x="1260.5" y="1279.7" font-size="28">10<tspan dy="-18.5" font-size="19.5">−4</tspan></text><line x1="1244.4" y1="1243.2" x2="1248.9" y2="1243.2" stroke="#000" stroke-width="1.2"/><line x1="1244.4" y1="1230.4" x2="1248.9" y2="1230.4" stroke="#000" stroke-width="1.2"/><line x1="1244.4" y1="1221.3" x2="1248.9" y2="1221.3" stroke="#000" stroke-width="1.2"/><line x1="1244.4" y1="1214.3" x2="1248.9" y2="1214.3" stroke="#000" stroke-width="1.2"/><line x1="1244.4" y1="1208.5" x2="1248.9" y2="1208.5" stroke="#000" stroke-width="1.2"/><line x1="1244.4" y1="1203.7" x2="1248.9" y2="1203.7" stroke="#000" stroke-width="1.2"/><line x1="1244.4" y1="1199.4" x2="1248.9" y2="1199.4" stroke="#000" stroke-width="1.2"/><line x1="1244.4" y1="1195.7" x2="1248.9" y2="1195.7" stroke="#000" stroke-width="1.2"/><line x1="1244.4" y1="1192.4" x2="1252.9" y2="1192.4" stroke="#000" stroke-width="1.8"/><text x="1260.5" y="1207" font-size="28">10<tspan dy="-18.5" font-size="19.5">−3</tspan></text><line x1="1244.4" y1="1170.5" x2="1248.9" y2="1170.5" stroke="#000" stroke-width="1.2"/><line x1="1244.4" y1="1157.7" x2="1248.9" y2="1157.7" stroke="#000" stroke-width="1.2"/><line x1="1244.4" y1="1148.6" x2="1248.9" y2="1148.6" stroke="#000" stroke-width="1.2"/><line x1="1244.4" y1="1141.6" x2="1248.9" y2="1141.6" stroke="#000" stroke-width="1.2"/><line x1="1244.4" y1="1135.8" x2="1248.9" y2="1135.8" stroke="#000" stroke-width="1.2"/><line x1="1244.4" y1="1131" x2="1248.9" y2="1131" stroke="#000" stroke-width="1.2"/><line x1="1244.4" y1="1126.7" x2="1248.9" y2="1126.7" stroke="#000" stroke-width="1.2"/><line x1="1244.4" y1="1123" x2="1248.9" y2="1123" stroke="#000" stroke-width="1.2"/><line x1="1244.4" y1="1119.7" x2="1252.9" y2="1119.7" stroke="#000" stroke-width="1.8"/><text x="1260.5" y="1134.3" font-size="28">10<tspan dy="-18.5" font-size="19.5">−2</tspan></text><line x1="1244.4" y1="1097.8" x2="1248.9" y2="1097.8" stroke="#000" stroke-width="1.2"/><line x1="1244.4" y1="1085" x2="1248.9" y2="1085" stroke="#000" stroke-width="1.2"/><line x1="1244.4" y1="1075.9" x2="1248.9" y2="1075.9" stroke="#000" stroke-width="1.2"/><line x1="1244.4" y1="1068.9" x2="1248.9" y2="1068.9" stroke="#000" stroke-width="1.2"/><line x1="1244.4" y1="1063.1" x2="1248.9" y2="1063.1" stroke="#000" stroke-width="1.2"/><line x1="1244.4" y1="1058.3" x2="1248.9" y2="1058.3" stroke="#000" stroke-width="1.2"/><line x1="1244.4" y1="1054" x2="1248.9" y2="1054" stroke="#000" stroke-width="1.2"/><line x1="1244.4" y1="1050.3" x2="1248.9" y2="1050.3" stroke="#000" stroke-width="1.2"/><line x1="1244.4" y1="1047" x2="1252.9" y2="1047" stroke="#000" stroke-width="1.8"/><text x="1260.5" y="1061.6" font-size="28">10<tspan dy="-18.5" font-size="19.5">−1</tspan></text><line x1="1443.2" y1="503.6" x2="1443.2" y2="891.4" stroke="#a8a8a8" stroke-width="1.5"/><line x1="1535.8" y1="503.6" x2="1535.8" y2="891.4" stroke="#a8a8a8" stroke-width="1.5"/><line x1="1628.4" y1="503.6" x2="1628.4" y2="891.4" stroke="#a8a8a8" stroke-width="1.5"/><line x1="1721" y1="503.6" x2="1721" y2="891.4" stroke="#a8a8a8" stroke-width="1.5"/><line x1="1813.6" y1="503.6" x2="1813.6" y2="891.4" stroke="#a8a8a8" stroke-width="1.5"/><line x1="1906.2" y1="503.6" x2="1906.2" y2="891.4" stroke="#a8a8a8" stroke-width="1.5"/><line x1="1449.2" y1="697.3" x2="1684" y2="697.3" stroke="#000" stroke-width="8.6" stroke-linecap="round"/><line x1="1751.6" y1="697.3" x2="1890.5" y2="697.3" stroke="#000" stroke-width="8.6" stroke-linecap="round"/><circle cx="1924.7" cy="697.3" r="4.3" fill="#000"/><circle cx="1944.2" cy="697.3" r="4.3" fill="#000"/><rect x="1684" y="686.1" width="69.9" height="22.4" fill="#808080"/><circle cx="1715.9" cy="697.3" r="8" fill="#ff1f1f"/><rect x="1700" y="516.8" width="254.7" height="125.2" rx="6" fill="#fff" fill-opacity="0.8" stroke="#d0d0d0" stroke-width="1.8"/><rect x="1711.3" y="527.3" width="54.7" height="22.3" fill="#808080"/><circle cx="1738.8" cy="577.9" r="7.8" fill="#ff1f1f"/><circle cx="1738.8" cy="617" r="4.3" fill="#000"/><text x="1788.3" y="549.2" font-size="28">2.5%–97.5%</text><text x="1789.5" y="587.7" font-size="28">Median</text><text x="1789" y="626" font-size="28">Outliers</text><rect x="1423.9" y="503.6" width="545.4" height="387.8" fill="none" stroke="#000" stroke-width="2"/><line x1="1443.2" y1="891.4" x2="1443.2" y2="899.9" stroke="#000" stroke-width="1.8"/><text x="1443.2" y="927.3" font-size="28" text-anchor="middle">−30</text><line x1="1535.8" y1="891.4" x2="1535.8" y2="899.9" stroke="#000" stroke-width="1.8"/><text x="1535.8" y="927.3" font-size="28" text-anchor="middle">−20</text><line x1="1628.4" y1="891.4" x2="1628.4" y2="899.9" stroke="#000" stroke-width="1.8"/><text x="1628.4" y="927.3" font-size="28" text-anchor="middle">−10</text><line x1="1721" y1="891.4" x2="1721" y2="899.9" stroke="#000" stroke-width="1.8"/><text x="1721" y="927.3" font-size="28" text-anchor="middle">0</text><line x1="1813.6" y1="891.4" x2="1813.6" y2="899.9" stroke="#000" stroke-width="1.8"/><text x="1813.6" y="927.3" font-size="28" text-anchor="middle">10</text><line x1="1906.2" y1="891.4" x2="1906.2" y2="899.9" stroke="#000" stroke-width="1.8"/><text x="1906.2" y="927.3" font-size="28" text-anchor="middle">20</text><text x="1696" y="961.3" font-size="28" text-anchor="middle">Difference</text><line x1="1443.8" y1="1030" x2="1443.8" y2="1410.5" stroke="#a8a8a8" stroke-width="1.5"/><line x1="1602.1" y1="1030" x2="1602.1" y2="1410.5" stroke="#a8a8a8" stroke-width="1.5"/><line x1="1760.4" y1="1030" x2="1760.4" y2="1410.5" stroke="#a8a8a8" stroke-width="1.5"/><line x1="1918.7" y1="1030" x2="1918.7" y2="1410.5" stroke="#a8a8a8" stroke-width="1.5"/><line x1="1462.8" y1="1220.3" x2="1598.9" y2="1220.3" stroke="#000" stroke-width="8.6" stroke-linecap="round"/><line x1="1621.9" y1="1220.3" x2="1888.6" y2="1220.3" stroke="#000" stroke-width="8.6" stroke-linecap="round"/><line x1="1888.6" y1="1220.3" x2="1902.9" y2="1220.3" stroke="#000" stroke-width="8.6" stroke-linecap="round"/><line x1="1912.4" y1="1220.3" x2="1931.4" y2="1220.3" stroke="#000" stroke-width="8.6" stroke-linecap="round"/><circle cx="1447" cy="1220.3" r="4.3" fill="#000"/><circle cx="1895" cy="1220.3" r="4.3" fill="#000"/><circle cx="1899.7" cy="1220.3" r="4.3" fill="#000"/><rect x="1598.5" y="1209.1" width="24.9" height="22.4" fill="#808080"/><circle cx="1602.9" cy="1220.3" r="8" fill="#ff1f1f"/><rect x="1686.7" y="1043.4" width="254.3" height="125.1" rx="6" fill="#fff" fill-opacity="0.8" stroke="#d0d0d0" stroke-width="1.8"/><rect x="1697.7" y="1053.7" width="54.8" height="22.3" fill="#808080"/><circle cx="1725.5" cy="1104.1" r="7.8" fill="#ff1f1f"/><circle cx="1725.5" cy="1143.1" r="4.3" fill="#000"/><text x="1774.8" y="1075.8" font-size="28">2.5%–97.5%</text><text x="1775.5" y="1114.2" font-size="28">Median</text><text x="1775" y="1152.5" font-size="28">Outliers</text><rect x="1421.8" y="1030" width="533.3" height="380.5" fill="none" stroke="#000" stroke-width="2"/><line x1="1443.8" y1="1410.5" x2="1443.8" y2="1419" stroke="#000" stroke-width="1.8"/><text x="1443.8" y="1446" font-size="28" text-anchor="middle">−20</text><line x1="1602.1" y1="1410.5" x2="1602.1" y2="1419" stroke="#000" stroke-width="1.8"/><text x="1602.1" y="1446" font-size="28" text-anchor="middle">0</text><line x1="1760.4" y1="1410.5" x2="1760.4" y2="1419" stroke="#000" stroke-width="1.8"/><text x="1760.4" y="1446" font-size="28" text-anchor="middle">20</text><line x1="1918.7" y1="1410.5" x2="1918.7" y2="1419" stroke="#000" stroke-width="1.8"/><text x="1918.7" y="1446" font-size="28" text-anchor="middle">40</text><text x="1687" y="1480.5" font-size="28" text-anchor="middle">Difference</text><text x="29.2" y="39.3" font-size="42" font-weight="bold" textLength="55.2" lengthAdjust="spacingAndGlyphs">(a)</text><text x="1034.2" y="39.2" font-size="42" font-weight="bold" textLength="55.6" lengthAdjust="spacingAndGlyphs">(b)</text><text x="-1.4" y="500.3" font-size="42" font-weight="bold">(c)</text><text x="665.4" y="500.4" font-size="42" font-weight="bold">(d)</text><text x="1346.7" y="500.4" font-size="42" font-weight="bold">(e)</text><text x="-1.6" y="1027.1" font-size="42" font-weight="bold">(f)</text><text x="664.0" y="1027.9" font-size="42" font-weight="bold">(g)</text><text x="1346.1" y="1027.5" font-size="42" font-weight="bold">(h)</text></svg></body></html>
